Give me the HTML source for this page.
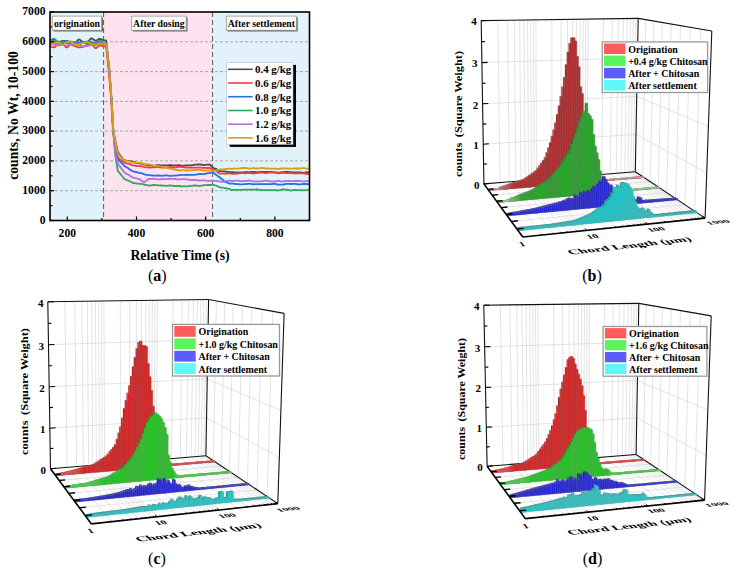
<!DOCTYPE html><html><head><meta charset="utf-8"><style>
html,body{margin:0;padding:0;background:#fff;width:740px;height:575px;overflow:hidden}
svg{display:block;font-family:"Liberation Serif",serif}
.tl{font-size:11.6px;font-weight:bold}.al{font-size:13.7px;font-weight:bold}.rl{font-size:9.75px;font-weight:bold}
.lg{font-size:10.9px;font-weight:bold}.cap{font-size:16px}.zl{font-size:11px;font-weight:bold}
.xl{font-size:11px;font-weight:bold}.xt{font-size:14.6px;font-weight:bold}.yl{font-size:11.2px;font-weight:bold}.lg3{font-size:9.95px;font-weight:bold}
</style></head><body><svg width="740" height="575" viewBox="0 0 740 575">
<defs><pattern id="pinkpat" width="2" height="2" patternUnits="userSpaceOnUse"><rect width="2" height="2" fill="#fde8f2"/><rect width="2" height="0.5" fill="#f9dcea"/><rect width="0.5" height="2" fill="#f9dcea"/></pattern></defs>
<g id="a">
<rect x="50" y="12" width="53.6" height="208.5" fill="#e1f2fa"/>
<rect x="103.6" y="12" width="109" height="208.5" fill="url(#pinkpat)"/>
<rect x="212.6" y="12" width="96.9" height="208.5" fill="#e1f2fa"/>
<line x1="50" y1="190.7" x2="309.5" y2="190.7" stroke="#a8a8a8" stroke-width="1" stroke-dasharray="3,2"/>
<line x1="50" y1="160.9" x2="309.5" y2="160.9" stroke="#a8a8a8" stroke-width="1" stroke-dasharray="3,2"/>
<line x1="50" y1="131.1" x2="309.5" y2="131.1" stroke="#a8a8a8" stroke-width="1" stroke-dasharray="3,2"/>
<line x1="50" y1="101.4" x2="309.5" y2="101.4" stroke="#a8a8a8" stroke-width="1" stroke-dasharray="3,2"/>
<line x1="50" y1="71.6" x2="309.5" y2="71.6" stroke="#a8a8a8" stroke-width="1" stroke-dasharray="3,2"/>
<line x1="50" y1="41.8" x2="309.5" y2="41.8" stroke="#a8a8a8" stroke-width="1" stroke-dasharray="3,2"/>
<line x1="103.6" y1="12" x2="103.6" y2="220.5" stroke="#555" stroke-width="1" stroke-dasharray="5,3"/>
<line x1="212.6" y1="12" x2="212.6" y2="220.5" stroke="#555" stroke-width="1" stroke-dasharray="5,3"/>
<polyline points="50,43 50.7,42.8 51.4,42.6 52.1,42.2 52.8,41.9 53.5,41.6 54.2,41.5 54.8,41.5 55.5,41.6 56.2,41.8 56.9,42 57.6,42.1 58.3,42.1 59,42 59.7,41.8 60.4,41.6 61.1,41.3 61.8,41.1 62.5,41 63.1,40.9 63.8,40.9 64.5,40.9 65.2,40.8 65.9,40.8 66.6,40.8 67.3,40.9 68,41.4 68.7,42 69.4,42.6 70.1,43 70.8,43.2 71.5,43.1 72.1,43.2 72.8,43.2 73.5,43.2 74.2,43.3 74.9,43.3 75.6,43 76.3,42.3 77,41.4 77.7,40.4 78.4,39.7 79.1,39.5 79.8,39.6 80.4,40.1 81.1,40.7 81.8,41.3 82.5,41.8 83.2,41.9 83.9,41.9 84.6,41.9 85.3,41.9 86,41.9 86.7,41.9 87.4,41.9 88.1,41.7 88.8,41 89.4,40.2 90.1,39.3 90.8,38.7 91.5,38.4 92.2,38.6 92.9,39 93.6,39.5 94.3,40.1 95,40.5 95.7,40.7 96.4,40.5 97.1,40.2 97.7,39.8 98.4,39.3 99.1,39 99.8,38.9 100.5,39 101.2,39.2 101.9,39.6 102.6,39.9 103.3,40.2 104,40.3 104.3,40.3 104.7,40.3 105,40.3 105.4,40.3 105.7,40.3 106.1,40.3 106.4,43.8 106.7,47.2 107.1,50.7 107.4,54.2 107.8,57.7 108.1,61.1 108.5,64.6 108.8,68.1 109.2,71.6 109.5,75.7 109.9,79.8 110.2,84 110.6,88.1 110.9,92.2 111.2,96.3 111.6,100.5 111.9,106.6 112.3,112.7 112.6,118.9 113,125 113.3,131.1 113.7,132.7 114,134.4 114.4,136 114.7,137.6 115,139.2 115.4,140.8 115.7,142.4 116.1,144 116.4,145.6 116.8,147.2 117.1,148.8 117.5,150.4 117.8,152 118.2,152.5 118.5,152.9 118.9,153.4 119.2,153.8 119.5,154.3 119.9,154.8 120.2,155.2 120.6,155.7 120.9,156.1 121.3,156.6 121.6,157.1 122,157.5 122.3,158 122.7,158.5 123,158.9 123.4,159.4 123.7,159.8 124,160.3 124.4,160.4 124.7,160.4 125.1,160.5 125.4,160.6 125.8,160.6 126.1,160.7 126.5,160.7 127.2,160.8 127.8,160.9 128.5,161 129.2,161.1 129.9,161.2 130.6,161.3 131.3,161.4 132,161.6 132.7,161.7 133.4,161.8 134.1,162.1 134.8,162.4 135.5,162.7 136.2,163 136.8,163.2 137.5,163.4 138.2,163.4 138.9,163.4 139.6,163.4 140.3,163.4 141,163.5 141.7,163.7 142.4,163.8 143.1,164 143.8,164.2 144.5,164.4 145.1,164.6 145.8,164.8 146.5,165 147.2,165.1 147.9,165.2 148.6,165.3 149.3,165.4 150,165.4 150.7,165.4 151.4,165.5 152.1,165.6 152.8,165.7 153.5,165.7 154.1,165.8 154.8,165.7 155.5,165.5 156.2,165.3 156.9,165.2 157.6,165.1 158.3,165.1 159,165.1 159.7,165.2 160.4,165.3 161.1,165.4 161.8,165.5 162.4,165.5 163.1,165.5 163.8,165.4 164.5,165.4 165.2,165.3 165.9,165.3 166.6,165.3 167.3,165.3 168,165.3 168.7,165.2 169.4,165.2 170.1,165.2 170.8,165.2 171.4,165.2 172.1,165.3 172.8,165.3 173.5,165.3 174.2,165.4 174.9,165.4 175.6,165.4 176.3,165.3 177,165.3 177.7,165.2 178.4,165.2 179.1,165.2 179.8,165.3 180.4,165.4 181.1,165.6 181.8,165.7 182.5,165.8 183.2,165.8 183.9,165.7 184.6,165.6 185.3,165.5 186,165.4 186.7,165.3 187.4,165.3 188.1,165.3 188.7,165.3 189.4,165.4 190.1,165.4 190.8,165.4 191.5,165.3 192.2,165.2 192.9,165.1 193.6,164.9 194.3,164.8 195,164.7 195.7,164.6 196.4,164.6 197,164.6 197.7,164.5 198.4,164.5 199.1,164.5 199.8,164.5 200.5,164.5 201.2,164.6 201.9,164.8 202.6,164.9 203.3,165 204,164.9 204.7,164.9 205.4,164.8 206,164.8 206.7,164.7 207.4,164.7 208.1,164.7 208.8,164.6 209.5,164.5 210.2,164.9 210.9,165.7 211.6,166.5 212.3,167.2 213,167.9 213.7,168.1 214.3,168.3 215,168.5 215.7,168.7 216.4,169.1 217.1,169.5 217.8,169.9 218.5,170.4 219.2,170.9 219.9,171.1 220.6,171.2 221.3,171.2 222,171.3 222.7,171.3 223.3,171.3 224,171.3 224.7,171.4 225.4,171.5 226.1,171.6 226.8,171.8 227.5,171.9 228.2,172 228.9,172 229.6,172.1 230.3,172.1 231,172.1 231.6,172.1 232.3,172.2 233,172.2 233.7,172.3 234.4,172.3 235.1,172.3 235.8,172.3 236.5,172.4 237.2,172.4 237.9,172.4 238.6,172.4 239.3,172.4 240,172.4 240.6,172.4 241.3,172.4 242,172.4 242.7,172.3 243.4,172.3 244.1,172.2 244.8,172.2 245.5,172.2 246.2,172.2 246.9,172.2 247.6,172.2 248.3,172.2 249,172.2 249.6,172.2 250.3,172.2 251,172.1 251.7,172 252.4,172 253.1,171.9 253.8,171.9 254.5,172 255.2,172 255.9,172.1 256.6,172.1 257.3,172.2 257.9,172.2 258.6,172.1 259.3,172.1 260,172 260.7,172 261.4,172 262.1,172 262.8,172 263.5,172 264.2,172 264.9,172 265.6,172 266.2,172 266.9,172 267.6,172 268.3,172 269,171.9 269.7,171.9 270.4,171.9 271.1,172 271.8,172 272.5,172.1 273.2,172.2 273.9,172.2 274.6,172.3 275.2,172.3 275.9,172.4 276.6,172.6 277.3,172.7 278,172.7 278.7,172.7 279.4,172.7 280.1,172.5 280.8,172.3 281.5,172.2 282.2,172.1 282.9,172.1 283.6,172.1 284.2,172.1 284.9,172 285.6,172 286.3,172 287,172 287.7,172 288.4,172 289.1,172.1 289.8,172.1 290.5,172.1 291.2,172.1 291.9,172.1 292.5,172.2 293.2,172.3 293.9,172.4 294.6,172.4 295.3,172.4 296,172.4 296.7,172.4 297.4,172.3 298.1,172.3 298.8,172.3 299.5,172.3 300.2,172.4 300.9,172.5 301.5,172.6 302.2,172.7 302.9,172.8 303.6,172.8 304.3,172.7 305,172.6 305.7,172.4 306.4,172.3 307.1,172.2 307.8,172.2 308.5,172.3 309.2,172.3" fill="none" stroke="#4d4d4d" stroke-width="1.8" stroke-linejoin="round"/>
<polyline points="50,46.3 50.7,46.4 51.4,46.6 52.1,46.9 52.8,47.1 53.5,47.3 54.2,47.4 54.8,47.2 55.5,46.5 56.2,45.6 56.9,44.8 57.6,44.1 58.3,43.9 59,43.9 59.7,43.8 60.4,43.6 61.1,43.5 61.8,43.4 62.5,43.4 63.1,43.7 63.8,44.4 64.5,45.4 65.2,46.4 65.9,47.2 66.6,47.5 67.3,47.3 68,46.7 68.7,45.9 69.4,45.1 70.1,44.6 70.8,44.4 71.5,44.5 72.1,44.8 72.8,45.3 73.5,45.7 74.2,46 74.9,46.2 75.6,46.3 76.3,46.5 77,46.8 77.7,47.1 78.4,47.3 79.1,47.4 79.8,47.4 80.4,47.3 81.1,47.1 81.8,47 82.5,46.9 83.2,46.8 83.9,46.7 84.6,46.3 85.3,45.8 86,45.3 86.7,44.9 87.4,44.8 88.1,44.8 88.8,44.7 89.4,44.6 90.1,44.5 90.8,44.4 91.5,44.4 92.2,44.6 92.9,45.3 93.6,46.3 94.3,47.2 95,47.9 95.7,48.2 96.4,48 97.1,47.5 97.7,46.9 98.4,46.3 99.1,45.8 99.8,45.7 100.5,45.7 101.2,45.8 101.9,46 102.6,46.1 103.3,46.2 104,46.3 104.3,46.3 104.7,46.3 105,46.3 105.4,46.3 105.7,46.3 106.1,46.3 106.4,49.4 106.7,52.6 107.1,55.7 107.4,58.9 107.8,62.1 108.1,65.2 108.5,68.4 108.8,71.6 109.2,75.7 109.5,79.8 109.9,84 110.2,88.1 110.6,92.2 110.9,96.3 111.2,100.5 111.6,106.6 111.9,112.7 112.3,118.9 112.6,125 113,131.1 113.3,133.7 113.7,136.4 114,139 114.4,141.6 114.7,144.2 115,146.8 115.4,149.4 115.7,152 116.1,152.8 116.4,153.7 116.8,154.5 117.1,155.3 117.5,156.1 117.8,157 118.2,157.8 118.5,158.1 118.9,158.4 119.2,158.7 119.5,159 119.9,159.2 120.2,159.5 120.6,159.8 120.9,160.1 121.3,160.4 121.6,160.7 122,161 122.3,161.3 122.7,161.6 123,161.8 123.4,162.1 123.7,162.4 124,162.7 124.4,162.8 124.7,162.9 125.1,163 125.4,163.1 125.8,163.2 126.1,163.3 126.5,163.4 127.2,163.6 127.8,163.7 128.5,163.8 129.2,163.9 129.9,164.1 130.6,164.4 131.3,164.7 132,165.1 132.7,165.3 133.4,165.4 134.1,165.5 134.8,165.7 135.5,165.8 136.2,166 136.8,166.1 137.5,166.2 138.2,166.2 138.9,166.2 139.6,166.1 140.3,166.1 141,166.1 141.7,166.2 142.4,166.4 143.1,166.6 143.8,166.8 144.5,167 145.1,167.2 145.8,167.3 146.5,167.3 147.2,167.4 147.9,167.4 148.6,167.5 149.3,167.5 150,167.5 150.7,167.5 151.4,167.4 152.1,167.4 152.8,167.3 153.5,167.3 154.1,167.3 154.8,167.3 155.5,167.2 156.2,167.2 156.9,167.1 157.6,167.1 158.3,167.1 159,167.2 159.7,167.3 160.4,167.4 161.1,167.5 161.8,167.6 162.4,167.6 163.1,167.6 163.8,167.6 164.5,167.7 165.2,167.7 165.9,167.7 166.6,167.7 167.3,167.6 168,167.4 168.7,167.2 169.4,167 170.1,166.9 170.8,166.9 171.4,167 172.1,167.1 172.8,167.3 173.5,167.4 174.2,167.5 174.9,167.5 175.6,167.4 176.3,167.3 177,167.1 177.7,167 178.4,166.9 179.1,166.9 179.8,166.9 180.4,166.9 181.1,167 181.8,167 182.5,167 183.2,167 183.9,167.1 184.6,167.3 185.3,167.4 186,167.5 186.7,167.6 187.4,167.6 188.1,167.6 188.7,167.6 189.4,167.6 190.1,167.6 190.8,167.6 191.5,167.7 192.2,167.7 192.9,167.7 193.6,167.7 194.3,167.7 195,167.7 195.7,167.7 196.4,167.7 197,167.7 197.7,167.7 198.4,167.7 199.1,167.7 199.8,167.7 200.5,167.7 201.2,167.7 201.9,167.8 202.6,167.8 203.3,167.8 204,167.8 204.7,167.9 205.4,167.9 206,167.9 206.7,167.9 207.4,168 208.1,168 208.8,168 209.5,168 210.2,168.2 210.9,168.5 211.6,168.7 212.3,169 213,169.2 213.7,169.4 214.3,169.6 215,170 215.7,170.5 216.4,171 217.1,171.6 217.8,172.2 218.5,172.8 219.2,173.4 219.9,173.7 220.6,173.7 221.3,173.7 222,173.7 222.7,173.7 223.3,173.7 224,173.7 224.7,173.7 225.4,173.7 226.1,173.6 226.8,173.5 227.5,173.5 228.2,173.4 228.9,173.4 229.6,173.4 230.3,173.5 231,173.7 231.6,173.7 232.3,173.8 233,173.8 233.7,173.8 234.4,173.8 235.1,173.7 235.8,173.7 236.5,173.7 237.2,173.7 237.9,173.6 238.6,173.4 239.3,173.2 240,173.1 240.6,173 241.3,173 242,173 242.7,173.1 243.4,173.2 244.1,173.2 244.8,173.3 245.5,173.3 246.2,173.2 246.9,173.2 247.6,173.2 248.3,173.1 249,173.1 249.6,173.1 250.3,173.1 251,173.2 251.7,173.3 252.4,173.4 253.1,173.5 253.8,173.5 254.5,173.4 255.2,173.3 255.9,173.2 256.6,173.1 257.3,173 257.9,172.9 258.6,172.9 259.3,172.8 260,172.8 260.7,172.7 261.4,172.7 262.1,172.7 262.8,172.7 263.5,172.8 264.2,172.9 264.9,173 265.6,173.1 266.2,173 266.9,173 267.6,172.8 268.3,172.7 269,172.5 269.7,172.5 270.4,172.5 271.1,172.5 271.8,172.5 272.5,172.6 273.2,172.6 273.9,172.6 274.6,172.6 275.2,172.7 275.9,172.8 276.6,173 277.3,173.2 278,173.2 278.7,173.3 279.4,173.2 280.1,173.1 280.8,173 281.5,172.9 282.2,172.8 282.9,172.9 283.6,172.9 284.2,172.9 284.9,173 285.6,173.1 286.3,173.1 287,173.1 287.7,173.1 288.4,173.1 289.1,173.1 289.8,173 290.5,173 291.2,173 291.9,173.1 292.5,173.2 293.2,173.3 293.9,173.4 294.6,173.4 295.3,173.5 296,173.4 296.7,173.4 297.4,173.3 298.1,173.3 298.8,173.2 299.5,173.3 300.2,173.3 300.9,173.3 301.5,173.3 302.2,173.3 302.9,173.3 303.6,173.4 304.3,173.5 305,173.6 305.7,173.8 306.4,174 307.1,174.1 307.8,174.1 308.5,174.2 309.2,174.2" fill="none" stroke="#f03c3c" stroke-width="1.8" stroke-linejoin="round"/>
<polyline points="50,40.1 50.7,40 51.4,39.8 52.1,39.5 52.8,39.2 53.5,39 54.2,38.9 54.8,39.2 55.5,39.8 56.2,40.6 56.9,41.4 57.6,42 58.3,42.2 59,42.2 59.7,42 60.4,41.8 61.1,41.6 61.8,41.5 62.5,41.4 63.1,41.4 63.8,41.3 64.5,41.2 65.2,41.1 65.9,41 66.6,40.9 67.3,41 68,41.3 68.7,41.6 69.4,41.9 70.1,42.2 70.8,42.3 71.5,42.3 72.1,42.3 72.8,42.2 73.5,42.2 74.2,42.2 74.9,42.2 75.6,42.2 76.3,42.3 77,42.4 77.7,42.4 78.4,42.5 79.1,42.5 79.8,42.5 80.4,42.5 81.1,42.5 81.8,42.4 82.5,42.4 83.2,42.4 83.9,42.4 84.6,42.2 85.3,42 86,41.7 86.7,41.6 87.4,41.5 88.1,41.6 88.8,41.9 89.4,42.2 90.1,42.6 90.8,42.8 91.5,42.9 92.2,42.9 92.9,42.9 93.6,42.8 94.3,42.8 95,42.7 95.7,42.7 96.4,42.6 97.1,42.3 97.7,41.9 98.4,41.5 99.1,41.2 99.8,41.1 100.5,41.2 101.2,41.4 101.9,41.7 102.6,42 103.3,42.3 104,42.5 104.3,42.6 104.7,42.7 105,42.8 105.4,42.9 105.7,43.1 106.1,43.2 106.4,43.3 106.7,46.4 107.1,49.6 107.4,52.7 107.8,55.9 108.1,59 108.5,62.1 108.8,65.3 109.2,68.4 109.5,71.6 109.9,76.4 110.2,81.2 110.6,86 110.9,90.8 111.2,95.6 111.6,100.5 111.9,106.6 112.3,112.7 112.6,118.9 113,125 113.3,131.1 113.7,134.5 114,137.9 114.4,141.3 114.7,144.6 115,148 115.4,151.4 115.7,152.4 116.1,153.4 116.4,154.4 116.8,155.4 117.1,156.5 117.5,157.5 117.8,158.5 118.2,159.5 118.5,159.9 118.9,160.2 119.2,160.6 119.5,160.9 119.9,161.3 120.2,161.7 120.6,162 120.9,162.4 121.3,162.7 121.6,163.1 122,163.5 122.3,163.8 122.7,164.2 123,164.5 123.4,164.9 123.7,165.3 124,165.6 124.4,166 124.7,166.2 125.1,166.4 125.4,166.6 125.8,166.8 126.1,167 126.5,167.3 127.2,167.7 127.8,168.1 128.5,168.6 129.2,169.1 129.9,169.5 130.6,170 131.3,170.5 132,170.9 132.7,171.2 133.4,171.4 134.1,171.6 134.8,171.8 135.5,171.9 136.2,172.1 136.8,172.2 137.5,172.4 138.2,172.6 138.9,172.8 139.6,172.9 140.3,173 141,173.2 141.7,173.3 142.4,173.5 143.1,173.8 143.8,174.1 144.5,174.3 145.1,174.6 145.8,174.7 146.5,174.8 147.2,174.9 147.9,175 148.6,175.1 149.3,175.1 150,175.2 150.7,175.3 151.4,175.4 152.1,175.4 152.8,175.5 153.5,175.6 154.1,175.6 154.8,175.7 155.5,175.6 156.2,175.6 156.9,175.5 157.6,175.5 158.3,175.5 159,175.5 159.7,175.6 160.4,175.7 161.1,175.7 161.8,175.8 162.4,175.8 163.1,175.7 163.8,175.6 164.5,175.5 165.2,175.4 165.9,175.3 166.6,175.3 167.3,175.4 168,175.5 168.7,175.7 169.4,175.8 170.1,175.9 170.8,175.9 171.4,175.8 172.1,175.8 172.8,175.7 173.5,175.7 174.2,175.6 174.9,175.6 175.6,175.6 176.3,175.5 177,175.4 177.7,175.3 178.4,175.3 179.1,175.2 179.8,175.2 180.4,175.1 181.1,175 181.8,174.9 182.5,174.8 183.2,174.8 183.9,174.8 184.6,174.8 185.3,174.9 186,175 186.7,175 187.4,174.9 188.1,174.9 188.7,174.9 189.4,174.9 190.1,174.9 190.8,174.9 191.5,174.9 192.2,174.8 192.9,174.8 193.6,174.8 194.3,174.8 195,174.7 195.7,174.7 196.4,174.6 197,174.5 197.7,174.3 198.4,174.2 199.1,174.1 199.8,174 200.5,174 201.2,174.1 201.9,174.1 202.6,174.1 203.3,174.1 204,174.1 204.7,174 205.4,173.8 206,173.6 206.7,173.4 207.4,173.3 208.1,173.2 208.8,173.2 209.5,173.1 210.2,172.9 210.9,172.7 211.6,172.5 212.3,172.3 213,172.2 213.7,172.8 214.3,173.4 215,174.1 215.7,174.6 216.4,175.1 217.1,175.6 217.8,176.1 218.5,176.5 219.2,177 219.9,177.5 220.6,178.2 221.3,178.7 222,179.3 222.7,179.8 223.3,180.3 224,180.9 224.7,181.5 225.4,181.8 226.1,182.1 226.8,182.4 227.5,182.7 228.2,183 228.9,183.3 229.6,183.6 230.3,183.7 231,183.6 231.6,183.6 232.3,183.6 233,183.6 233.7,183.7 234.4,183.8 235.1,183.9 235.8,184 236.5,184.1 237.2,184.1 237.9,184.1 238.6,184.2 239.3,184.2 240,184.3 240.6,184.3 241.3,184.3 242,184.3 242.7,184.3 243.4,184.2 244.1,184.2 244.8,184.2 245.5,184.2 246.2,184.1 246.9,184 247.6,183.9 248.3,183.8 249,183.7 249.6,183.7 250.3,183.8 251,183.9 251.7,184.1 252.4,184.2 253.1,184.2 253.8,184.3 254.5,184.3 255.2,184.2 255.9,184.2 256.6,184.2 257.3,184.2 257.9,184.2 258.6,184.2 259.3,184.2 260,184.2 260.7,184.2 261.4,184.2 262.1,184.2 262.8,184.2 263.5,184.2 264.2,184.2 264.9,184.2 265.6,184.2 266.2,184.2 266.9,184.2 267.6,184.2 268.3,184.2 269,184.2 269.7,184.2 270.4,184.2 271.1,184.2 271.8,184.1 272.5,184 273.2,183.9 273.9,183.8 274.6,183.8 275.2,183.9 275.9,184.1 276.6,184.3 277.3,184.4 278,184.5 278.7,184.6 279.4,184.6 280.1,184.6 280.8,184.7 281.5,184.7 282.2,184.7 282.9,184.7 283.6,184.6 284.2,184.4 284.9,184.2 285.6,184 286.3,183.9 287,183.9 287.7,183.9 288.4,183.9 289.1,183.9 289.8,183.9 290.5,184 291.2,184 291.9,184 292.5,183.9 293.2,183.9 293.9,183.9 294.6,183.9 295.3,183.9 296,184 296.7,184.1 297.4,184.2 298.1,184.4 298.8,184.4 299.5,184.4 300.2,184.4 300.9,184.3 301.5,184.2 302.2,184 302.9,184 303.6,184 304.3,184 305,184 305.7,184 306.4,184 307.1,184 307.8,184.1 308.5,184.1 309.2,184.3" fill="none" stroke="#2a6fe0" stroke-width="1.8" stroke-linejoin="round"/>
<polyline points="50,41 50.7,41 51.4,40.9 52.1,40.8 52.8,40.7 53.5,40.7 54.2,40.7 54.8,40.7 55.5,40.9 56.2,41.1 56.9,41.3 57.6,41.5 58.3,41.5 59,41.6 59.7,41.7 60.4,41.9 61.1,42.1 61.8,42.2 62.5,42.3 63.1,42.4 63.8,42.6 64.5,42.8 65.2,43.1 65.9,43.3 66.6,43.4 67.3,43.4 68,43.4 68.7,43.3 69.4,43.3 70.1,43.3 70.8,43.3 71.5,43.3 72.1,43.4 72.8,43.6 73.5,43.7 74.2,43.8 74.9,43.9 75.6,43.9 76.3,44.1 77,44.3 77.7,44.5 78.4,44.6 79.1,44.7 79.8,44.5 80.4,44.1 81.1,43.5 81.8,43 82.5,42.6 83.2,42.4 83.9,42.5 84.6,42.8 85.3,43.1 86,43.5 86.7,43.8 87.4,43.9 88.1,43.7 88.8,43.3 89.4,42.7 90.1,42.2 90.8,41.8 91.5,41.6 92.2,41.9 92.9,42.5 93.6,43.4 94.3,44.2 95,44.9 95.7,45.1 96.4,44.9 97.1,44.2 97.7,43.3 98.4,42.3 99.1,41.6 99.8,41.4 100.5,41.5 101.2,41.9 101.9,42.3 102.6,42.8 103.3,43.1 104,43.3 104.3,43.3 104.7,43.3 105,43.3 105.4,43.3 105.7,43.3 106.1,43.3 106.4,43.3 106.7,46.4 107.1,49.6 107.4,52.7 107.8,55.9 108.1,59 108.5,62.1 108.8,65.3 109.2,68.4 109.5,71.6 109.9,76.4 110.2,81.2 110.6,86 110.9,90.8 111.2,95.6 111.6,100.5 111.9,106.6 112.3,112.7 112.6,118.9 113,125 113.3,131.1 113.7,135.3 114,139.4 114.4,143.6 114.7,147.7 115,151.9 115.4,156 115.7,158.1 116.1,160.2 116.4,162.3 116.8,164.5 117.1,166.6 117.5,168.7 117.8,170.8 118.2,171.2 118.5,171.7 118.9,172.1 119.2,172.5 119.5,173 119.9,173.4 120.2,173.8 120.6,174.2 120.9,174.7 121.3,175.1 121.6,175.5 122,176 122.3,176.4 122.7,176.8 123,177.3 123.4,177.7 123.7,178.1 124,178.6 124.4,179 124.7,179.2 125.1,179.3 125.4,179.5 125.8,179.6 126.1,179.8 126.5,179.9 127.2,180.2 127.8,180.5 128.5,180.7 129.2,181 129.9,181.3 130.6,181.7 131.3,182.1 132,182.6 132.7,182.9 133.4,183 134.1,183.1 134.8,183.2 135.5,183.3 136.2,183.4 136.8,183.5 137.5,183.6 138.2,183.7 138.9,183.7 139.6,183.8 140.3,183.8 141,183.9 141.7,184 142.4,184.2 143.1,184.3 143.8,184.5 144.5,184.6 145.1,184.8 145.8,184.9 146.5,185 147.2,185.2 147.9,185.3 148.6,185.5 149.3,185.5 150,185.5 150.7,185.4 151.4,185.3 152.1,185.2 152.8,185 153.5,185 154.1,185 154.8,185 155.5,185.1 156.2,185.2 156.9,185.2 157.6,185.3 158.3,185.3 159,185.3 159.7,185.3 160.4,185.4 161.1,185.5 161.8,185.5 162.4,185.6 163.1,185.6 163.8,185.7 164.5,185.7 165.2,185.8 165.9,185.8 166.6,185.9 167.3,185.8 168,185.7 168.7,185.6 169.4,185.5 170.1,185.5 170.8,185.5 171.4,185.6 172.1,185.7 172.8,185.8 173.5,185.9 174.2,186 174.9,186 175.6,186 176.3,186 177,186 177.7,185.9 178.4,185.9 179.1,186 179.8,186 180.4,186.1 181.1,186.2 181.8,186.3 182.5,186.3 183.2,186.3 183.9,186.3 184.6,186.3 185.3,186.3 186,186.3 186.7,186.3 187.4,186.3 188.1,186.2 188.7,186.1 189.4,186 190.1,185.9 190.8,185.9 191.5,185.9 192.2,185.8 192.9,185.7 193.6,185.6 194.3,185.5 195,185.5 195.7,185.5 196.4,185.5 197,185.7 197.7,185.8 198.4,185.9 199.1,186 199.8,185.9 200.5,185.8 201.2,185.7 201.9,185.5 202.6,185.4 203.3,185.3 204,185.2 204.7,185.2 205.4,185.2 206,185.1 206.7,185.1 207.4,185 208.1,185 208.8,185 209.5,185 210.2,185 210.9,184.9 211.6,184.9 212.3,184.8 213,184.8 213.7,184.9 214.3,185.1 215,185.3 215.7,185.5 216.4,185.7 217.1,186 217.8,186.3 218.5,186.7 219.2,187.1 219.9,187.3 220.6,187.5 221.3,187.6 222,187.7 222.7,187.7 223.3,187.8 224,187.9 224.7,188 225.4,188.2 226.1,188.3 226.8,188.4 227.5,188.6 228.2,188.7 228.9,188.9 229.6,189.2 230.3,189.5 231,189.7 231.6,189.9 232.3,190 233,190 233.7,189.9 234.4,189.9 235.1,189.9 235.8,189.8 236.5,189.8 237.2,189.8 237.9,189.8 238.6,189.8 239.3,189.8 240,189.8 240.6,189.8 241.3,189.8 242,189.8 242.7,189.7 243.4,189.7 244.1,189.6 244.8,189.6 245.5,189.6 246.2,189.6 246.9,189.7 247.6,189.7 248.3,189.7 249,189.7 249.6,189.7 250.3,189.7 251,189.7 251.7,189.7 252.4,189.7 253.1,189.7 253.8,189.7 254.5,189.7 255.2,189.6 255.9,189.6 256.6,189.5 257.3,189.5 257.9,189.5 258.6,189.6 259.3,189.8 260,189.9 260.7,190.1 261.4,190.2 262.1,190.2 262.8,190.2 263.5,190.2 264.2,190.2 264.9,190.2 265.6,190.2 266.2,190.2 266.9,190.2 267.6,190.2 268.3,190.2 269,190.2 269.7,190.2 270.4,190.2 271.1,190.2 271.8,190.2 272.5,190.2 273.2,190.2 273.9,190.2 274.6,190.2 275.2,190.2 275.9,190.2 276.6,190.3 277.3,190.3 278,190.3 278.7,190.3 279.4,190.2 280.1,190 280.8,189.8 281.5,189.6 282.2,189.5 282.9,189.5 283.6,189.5 284.2,189.5 284.9,189.6 285.6,189.6 286.3,189.6 287,189.6 287.7,189.7 288.4,189.9 289.1,190.1 289.8,190.3 290.5,190.4 291.2,190.4 291.9,190.3 292.5,190.2 293.2,190.1 293.9,190.1 294.6,190 295.3,190 296,190 296.7,190.1 297.4,190.1 298.1,190.2 298.8,190.2 299.5,190.2 300.2,190.2 300.9,190.2 301.5,190.2 302.2,190.2 302.9,190.2 303.6,190.3 304.3,190.3 305,190.2 305.7,190.2 306.4,190.2 307.1,190.2 307.8,190.2 308.5,190.2 309.2,190.2" fill="none" stroke="#2ea85a" stroke-width="1.8" stroke-linejoin="round"/>
<polyline points="50,43.5 50.7,43.6 51.4,43.8 52.1,44 52.8,44.3 53.5,44.5 54.2,44.6 54.8,44.6 55.5,44.8 56.2,45 56.9,45.2 57.6,45.3 58.3,45.4 59,45.4 59.7,45.3 60.4,45.1 61.1,45 61.8,44.9 62.5,44.8 63.1,44.9 63.8,45.1 64.5,45.3 65.2,45.6 65.9,45.8 66.6,45.8 67.3,45.7 68,45.4 68.7,44.9 69.4,44.4 70.1,44.1 70.8,44 71.5,43.9 72.1,43.8 72.8,43.6 73.5,43.5 74.2,43.4 74.9,43.3 75.6,43.4 76.3,43.7 77,44.1 77.7,44.5 78.4,44.8 79.1,44.9 79.8,45 80.4,45.2 81.1,45.6 81.8,45.9 82.5,46.2 83.2,46.3 83.9,46.3 84.6,46.2 85.3,46.1 86,46 86.7,45.9 87.4,45.9 88.1,45.9 88.8,45.7 89.4,45.5 90.1,45.3 90.8,45.2 91.5,45.1 92.2,45.1 92.9,44.9 93.6,44.6 94.3,44.4 95,44.2 95.7,44.2 96.4,44.1 97.1,44 97.7,43.8 98.4,43.6 99.1,43.5 99.8,43.4 100.5,43.5 101.2,43.8 101.9,44.1 102.6,44.4 103.3,44.7 104,44.8 104.3,44.8 104.7,44.8 105,44.8 105.4,44.8 105.7,44.8 106.1,44.8 106.4,44.8 106.7,47.7 107.1,50.7 107.4,53.7 107.8,56.7 108.1,59.7 108.5,62.6 108.8,65.6 109.2,68.6 109.5,71.6 109.9,76.4 110.2,81.2 110.6,86 110.9,90.8 111.2,95.6 111.6,100.5 111.9,106.6 112.3,112.7 112.6,118.9 113,125 113.3,131.1 113.7,135.1 114,139 114.4,142.9 114.7,146.8 115,150.7 115.4,154.6 115.7,155.8 116.1,157 116.4,158.2 116.8,159.5 117.1,160.7 117.5,161.9 117.8,163.1 118.2,164.3 118.5,164.7 118.9,165.2 119.2,165.6 119.5,166.1 119.9,166.5 120.2,167 120.6,167.4 120.9,167.9 121.3,168.3 121.6,168.8 122,169.2 122.3,169.7 122.7,170.1 123,170.6 123.4,171 123.7,171.5 124,171.9 124.4,172.4 124.7,172.6 125.1,172.8 125.4,173 125.8,173.3 126.1,173.5 126.5,173.7 127.2,174.1 127.8,174.5 128.5,174.9 129.2,175.3 129.9,175.7 130.6,176.2 131.3,176.6 132,177.1 132.7,177.5 133.4,177.7 134.1,177.9 134.8,178 135.5,178.2 136.2,178.3 136.8,178.5 137.5,178.7 138.2,178.9 138.9,179.2 139.6,179.4 140.3,179.7 141,180.3 141.7,180.8 142.4,181.4 143.1,182 143.8,182.6 144.5,182.1 145.1,181.6 145.8,181.1 146.5,180.6 147.2,180 147.9,179.5 148.6,178.9 149.3,178.9 150,178.9 150.7,178.9 151.4,178.8 152.1,178.8 152.8,178.8 153.5,178.8 154.1,178.8 154.8,178.9 155.5,179 156.2,179.2 156.9,179.3 157.6,179.4 158.3,179.4 159,179.4 159.7,179.4 160.4,179.3 161.1,179.2 161.8,179.2 162.4,179.2 163.1,179.2 163.8,179.2 164.5,179.2 165.2,179.2 165.9,179.2 166.6,179.2 167.3,179.2 168,179.1 168.7,179 169.4,178.9 170.1,178.9 170.8,178.9 171.4,178.9 172.1,178.9 172.8,178.9 173.5,178.9 174.2,178.9 174.9,178.9 175.6,179 176.3,179.1 177,179.3 177.7,179.4 178.4,179.5 179.1,179.5 179.8,179.4 180.4,179.4 181.1,179.3 181.8,179.2 182.5,179.1 183.2,179.2 183.9,179.2 184.6,179.2 185.3,179.3 186,179.3 186.7,179.4 187.4,179.4 188.1,179.5 188.7,179.7 189.4,179.8 190.1,180 190.8,180 191.5,180.1 192.2,180.1 192.9,180.1 193.6,180 194.3,180 195,180 195.7,180.1 196.4,180.1 197,180.2 197.7,180.3 198.4,180.4 199.1,180.5 199.8,180.6 200.5,180.6 201.2,180.5 201.9,180.4 202.6,180.3 203.3,180.3 204,180.3 204.7,180.4 205.4,180.5 206,180.6 206.7,180.7 207.4,180.8 208.1,180.9 208.8,180.9 209.5,180.9 210.2,180.8 210.9,180.7 211.6,180.6 212.3,180.6 213,180.5 213.7,180.6 214.3,180.7 215,180.8 215.7,180.9 216.4,181 217.1,181.1 217.8,181.2 218.5,181.3 219.2,181.4 219.9,181.5 220.6,181.6 221.3,181.7 222,181.8 222.7,181.8 223.3,181.8 224,181.6 224.7,181.5 225.4,181.4 226.1,181.2 226.8,181.1 227.5,181 228.2,180.9 228.9,180.8 229.6,180.7 230.3,180.7 231,180.8 231.6,180.9 232.3,181 233,181 233.7,180.9 234.4,180.8 235.1,180.7 235.8,180.6 236.5,180.6 237.2,180.6 237.9,180.7 238.6,180.8 239.3,181 240,181.1 240.6,181.2 241.3,181.2 242,181.2 242.7,181.2 243.4,181.1 244.1,181.1 244.8,181.1 245.5,181.1 246.2,181 246.9,180.9 247.6,180.7 248.3,180.6 249,180.5 249.6,180.6 250.3,180.7 251,180.8 251.7,181 252.4,181.2 253.1,181.3 253.8,181.3 254.5,181.3 255.2,181.3 255.9,181.3 256.6,181.3 257.3,181.3 257.9,181.3 258.6,181.3 259.3,181.3 260,181.3 260.7,181.3 261.4,181.3 262.1,181.3 262.8,181.2 263.5,181.1 264.2,180.9 264.9,180.7 265.6,180.6 266.2,180.6 266.9,180.7 267.6,180.9 268.3,181.1 269,181.2 269.7,181.3 270.4,181.4 271.1,181.4 271.8,181.4 272.5,181.5 273.2,181.5 273.9,181.5 274.6,181.5 275.2,181.4 275.9,181.3 276.6,181.1 277.3,180.9 278,180.8 278.7,180.8 279.4,180.9 280.1,181.1 280.8,181.3 281.5,181.4 282.2,181.5 282.9,181.5 283.6,181.4 284.2,181.3 284.9,181.1 285.6,181 286.3,180.9 287,180.9 287.7,180.9 288.4,181 289.1,181 289.8,181.1 290.5,181.1 291.2,181.1 291.9,181.1 292.5,181.1 293.2,181 293.9,181 294.6,181 295.3,181 296,181 296.7,181 297.4,181 298.1,180.9 298.8,180.9 299.5,180.9 300.2,181 300.9,181.1 301.5,181.2 302.2,181.3 302.9,181.3 303.6,181.3 304.3,181.3 305,181.3 305.7,181.2 306.4,181.2 307.1,181.2 307.8,181.2 308.5,181.3 309.2,181.5" fill="none" stroke="#b070e0" stroke-width="1.8" stroke-linejoin="round"/>
<polyline points="50,42.1 50.7,42.2 51.4,42.4 52.1,42.7 52.8,42.9 53.5,43.1 54.2,43.2 54.8,43.2 55.5,43 56.2,42.8 56.9,42.5 57.6,42.4 58.3,42.3 59,42.5 59.7,43 60.4,43.7 61.1,44.4 61.8,44.8 62.5,45 63.1,44.8 63.8,44.3 64.5,43.6 65.2,42.9 65.9,42.4 66.6,42.2 67.3,42.1 68,42 68.7,41.7 69.4,41.5 70.1,41.4 70.8,41.3 71.5,41.6 72.1,42.3 72.8,43.3 73.5,44.3 74.2,45 74.9,45.2 75.6,45.2 76.3,44.9 77,44.6 77.7,44.4 78.4,44.1 79.1,44.1 79.8,44 80.4,43.8 81.1,43.5 81.8,43.3 82.5,43.1 83.2,43 83.9,42.9 84.6,42.7 85.3,42.4 86,42.1 86.7,41.9 87.4,41.8 88.1,42 88.8,42.5 89.4,43.1 90.1,43.8 90.8,44.3 91.5,44.4 92.2,44.4 92.9,44.5 93.6,44.6 94.3,44.6 95,44.7 95.7,44.7 96.4,44.7 97.1,44.6 97.7,44.5 98.4,44.5 99.1,44.4 99.8,44.4 100.5,44.3 101.2,44.1 101.9,43.8 102.6,43.6 103.3,43.3 104,43.4 104.3,43.5 104.7,43.6 105,43.7 105.4,43.8 105.7,43.9 106.1,44.1 106.4,44.2 106.7,47.2 107.1,50.3 107.4,53.3 107.8,56.3 108.1,59.4 108.5,62.4 108.8,65.5 109.2,68.5 109.5,71.6 109.9,76.4 110.2,81.2 110.6,86 110.9,90.8 111.2,95.6 111.6,100.5 111.9,106.6 112.3,112.7 112.6,118.9 113,125 113.3,131.1 113.7,132.9 114,134.6 114.4,136.3 114.7,138 115,139.7 115.4,141.5 115.7,143.2 116.1,144.9 116.4,146.6 116.8,148.3 117.1,150 117.5,151.8 117.8,153.5 118.2,153.9 118.5,154.2 118.9,154.6 119.2,155 119.5,155.4 119.9,155.8 120.2,156.1 120.6,156.5 120.9,156.9 121.3,157.3 121.6,157.7 122,158 122.3,158.4 122.7,158.8 123,159.2 123.4,159.5 123.7,159.9 124,160.3 124.4,160.4 124.7,160.4 125.1,160.5 125.4,160.6 125.8,160.6 126.1,160.7 126.5,160.8 127.2,160.9 127.8,161.1 128.5,161.2 129.2,161.4 129.9,161.5 130.6,161.8 131.3,162 132,162.2 132.7,162.4 133.4,162.5 134.1,162.6 134.8,162.6 135.5,162.7 136.2,162.7 136.8,162.8 137.5,162.9 138.2,162.9 138.9,162.9 139.6,162.9 140.3,162.9 141,163 141.7,163.1 142.4,163.3 143.1,163.5 143.8,163.8 144.5,164 145.1,164.2 145.8,164.3 146.5,164.3 147.2,164.4 147.9,164.4 148.6,164.4 149.3,164.5 150,164.6 150.7,164.8 151.4,165 152.1,165.3 152.8,165.5 153.5,165.7 154.1,165.8 154.8,165.9 155.5,165.9 156.2,165.8 156.9,165.9 157.6,166 158.3,166.1 159,166.2 159.7,166.3 160.4,166.5 161.1,166.6 161.8,166.7 162.4,166.9 163.1,167 163.8,167.2 164.5,167.3 165.2,167.5 165.9,167.7 166.6,167.8 167.3,168 168,168.1 168.7,168.3 169.4,168.5 170.1,168.6 170.8,168.8 171.4,168.9 172.1,169.1 172.8,169.2 173.5,169.4 174.2,169.5 174.9,169.7 175.6,169.8 176.3,169.9 177,170 177.7,170.1 178.4,170.2 179.1,170.4 179.8,170.5 180.4,170.6 181.1,170.4 181.8,170.3 182.5,170.2 183.2,170.2 183.9,170.2 184.6,170.3 185.3,170.4 186,170.5 186.7,170.5 187.4,170.5 188.1,170.4 188.7,170.3 189.4,170.3 190.1,170.2 190.8,170.3 191.5,170.3 192.2,170.3 192.9,170.1 193.6,170 194.3,169.9 195,169.9 195.7,169.9 196.4,169.9 197,169.9 197.7,169.9 198.4,169.9 199.1,169.9 199.8,169.9 200.5,170 201.2,170.1 201.9,170.2 202.6,170.4 203.3,170.4 204,170.5 204.7,170.5 205.4,170.6 206,170.6 206.7,170.7 207.4,170.7 208.1,170.7 208.8,170.7 209.5,170.7 210.2,170.7 210.9,170.7 211.6,170.7 212.3,170.8 213,170.9 213.7,170.8 214.3,170.8 215,170.7 215.7,170.6 216.4,170.4 217.1,170.2 217.8,170 218.5,169.8 219.2,169.6 219.9,169.5 220.6,169.4 221.3,169.4 222,169.4 222.7,169.4 223.3,169.3 224,169.3 224.7,169.3 225.4,169.2 226.1,169.1 226.8,168.9 227.5,168.8 228.2,168.7 228.9,168.7 229.6,168.7 230.3,168.7 231,168.8 231.6,168.8 232.3,168.8 233,168.7 233.7,168.7 234.4,168.7 235.1,168.7 235.8,168.7 236.5,168.6 237.2,168.6 237.9,168.6 238.6,168.5 239.3,168.4 240,168.3 240.6,168.2 241.3,168.2 242,168.2 242.7,168.1 243.4,168 244.1,168 244.8,167.9 245.5,168 246.2,168 246.9,168.2 247.6,168.3 248.3,168.5 249,168.6 249.6,168.6 250.3,168.5 251,168.4 251.7,168.3 252.4,168.2 253.1,168.2 253.8,168.2 254.5,168.2 255.2,168.3 255.9,168.4 256.6,168.4 257.3,168.5 257.9,168.5 258.6,168.4 259.3,168.3 260,168.2 260.7,168.1 261.4,168 262.1,168 262.8,168.1 263.5,168.1 264.2,168.2 264.9,168.3 265.6,168.3 266.2,168.3 266.9,168.3 267.6,168.4 268.3,168.5 269,168.6 269.7,168.6 270.4,168.6 271.1,168.6 271.8,168.6 272.5,168.6 273.2,168.6 273.9,168.6 274.6,168.6 275.2,168.7 275.9,168.7 276.6,168.8 277.3,168.8 278,168.8 278.7,168.8 279.4,168.8 280.1,168.7 280.8,168.6 281.5,168.5 282.2,168.4 282.9,168.4 283.6,168.4 284.2,168.4 284.9,168.5 285.6,168.5 286.3,168.5 287,168.5 287.7,168.5 288.4,168.6 289.1,168.6 289.8,168.7 290.5,168.7 291.2,168.7 291.9,168.7 292.5,168.6 293.2,168.6 293.9,168.5 294.6,168.5 295.3,168.5 296,168.5 296.7,168.5 297.4,168.5 298.1,168.5 298.8,168.5 299.5,168.5 300.2,168.5 300.9,168.4 301.5,168.3 302.2,168.2 302.9,168.1 303.6,168.1 304.3,168.2 305,168.3 305.7,168.5 306.4,168.6 307.1,168.7 307.8,168.7 308.5,168.6 309.2,168.4" fill="none" stroke="#d4a010" stroke-width="1.8" stroke-linejoin="round"/>
<rect x="50" y="12" width="259.5" height="208.5" fill="none" stroke="#000" stroke-width="1.6"/>
<line x1="50" y1="220.5" x2="54" y2="220.5" stroke="#000" stroke-width="1.2"/>
<line x1="50" y1="205.6" x2="52.5" y2="205.6" stroke="#000" stroke-width="1.2"/>
<line x1="50" y1="190.7" x2="54" y2="190.7" stroke="#000" stroke-width="1.2"/>
<line x1="50" y1="175.8" x2="52.5" y2="175.8" stroke="#000" stroke-width="1.2"/>
<line x1="50" y1="160.9" x2="54" y2="160.9" stroke="#000" stroke-width="1.2"/>
<line x1="50" y1="146" x2="52.5" y2="146" stroke="#000" stroke-width="1.2"/>
<line x1="50" y1="131.1" x2="54" y2="131.1" stroke="#000" stroke-width="1.2"/>
<line x1="50" y1="116.2" x2="52.5" y2="116.2" stroke="#000" stroke-width="1.2"/>
<line x1="50" y1="101.4" x2="54" y2="101.4" stroke="#000" stroke-width="1.2"/>
<line x1="50" y1="86.5" x2="52.5" y2="86.5" stroke="#000" stroke-width="1.2"/>
<line x1="50" y1="71.6" x2="54" y2="71.6" stroke="#000" stroke-width="1.2"/>
<line x1="50" y1="56.7" x2="52.5" y2="56.7" stroke="#000" stroke-width="1.2"/>
<line x1="50" y1="41.8" x2="54" y2="41.8" stroke="#000" stroke-width="1.2"/>
<line x1="50" y1="26.9" x2="52.5" y2="26.9" stroke="#000" stroke-width="1.2"/>
<line x1="50" y1="12" x2="54" y2="12" stroke="#000" stroke-width="1.2"/>
<line x1="67.3" y1="220.5" x2="67.3" y2="216.5" stroke="#000" stroke-width="1.2"/>
<line x1="101.9" y1="220.5" x2="101.9" y2="218.0" stroke="#000" stroke-width="1.2"/>
<line x1="136.5" y1="220.5" x2="136.5" y2="216.5" stroke="#000" stroke-width="1.2"/>
<line x1="171.1" y1="220.5" x2="171.1" y2="218.0" stroke="#000" stroke-width="1.2"/>
<line x1="205.7" y1="220.5" x2="205.7" y2="216.5" stroke="#000" stroke-width="1.2"/>
<line x1="240.3" y1="220.5" x2="240.3" y2="218.0" stroke="#000" stroke-width="1.2"/>
<line x1="274.9" y1="220.5" x2="274.9" y2="216.5" stroke="#000" stroke-width="1.2"/>
<line x1="309.5" y1="220.5" x2="309.5" y2="218.0" stroke="#000" stroke-width="1.2"/>
<text x="45.5" y="223.7" class="tl" text-anchor="end">0</text>
<text x="45.5" y="193.9" class="tl" text-anchor="end">1000</text>
<text x="45.5" y="164.1" class="tl" text-anchor="end">2000</text>
<text x="45.5" y="134.3" class="tl" text-anchor="end">3000</text>
<text x="45.5" y="104.6" class="tl" text-anchor="end">4000</text>
<text x="45.5" y="74.8" class="tl" text-anchor="end">5000</text>
<text x="45.5" y="45" class="tl" text-anchor="end">6000</text>
<text x="45.5" y="15.2" class="tl" text-anchor="end">7000</text>
<text x="67.3" y="236.5" class="tl" text-anchor="middle">200</text>
<text x="136.5" y="236.5" class="tl" text-anchor="middle">400</text>
<text x="205.7" y="236.5" class="tl" text-anchor="middle">600</text>
<text x="274.9" y="236.5" class="tl" text-anchor="middle">800</text>
<text x="180" y="259.5" class="al" text-anchor="middle">Relative Time (s)</text>
<text transform="translate(18,115.5) rotate(-90)" class="al" text-anchor="middle">counts, No Wt, 10-100</text>
<rect x="53.5" y="17.4" width="49.5" height="14.1" fill="#6a6a6a"/>
<rect x="52.2" y="16.1" width="49.5" height="14.1" fill="#fff" stroke="#888" stroke-width="0.7"/>
<text x="77" y="26.6" class="rl" text-anchor="middle">origination</text>
<rect x="133" y="17.4" width="54.5" height="14.1" fill="#6a6a6a"/>
<rect x="131.7" y="16.1" width="54.5" height="14.1" fill="#fff" stroke="#888" stroke-width="0.7"/>
<text x="158.9" y="26.6" class="rl" text-anchor="middle">After dosing</text>
<rect x="227.6" y="17.4" width="70.1" height="14.1" fill="#6a6a6a"/>
<rect x="226.3" y="16.1" width="70.1" height="14.1" fill="#fff" stroke="#888" stroke-width="0.7"/>
<text x="261.4" y="26.6" class="rl" text-anchor="middle">After settlement</text>
<rect x="229.7" y="64.9" width="66.3" height="82" fill="#000"/>
<rect x="226.7" y="62.4" width="66.3" height="82" fill="#fff" stroke="#bbb" stroke-width="0.6"/>
<line x1="228" y1="69.3" x2="252.7" y2="69.3" stroke="#4d4d4d" stroke-width="1.6"/>
<text x="255" y="73.2" class="lg">0.4 g/kg</text>
<line x1="228" y1="83" x2="252.7" y2="83" stroke="#f03c3c" stroke-width="1.6"/>
<text x="255" y="86.9" class="lg">0.6 g/kg</text>
<line x1="228" y1="96.7" x2="252.7" y2="96.7" stroke="#2a6fe0" stroke-width="1.6"/>
<text x="255" y="100.6" class="lg">0.8 g/kg</text>
<line x1="228" y1="110.5" x2="252.7" y2="110.5" stroke="#2ea85a" stroke-width="1.6"/>
<text x="255" y="114.4" class="lg">1.0 g/kg</text>
<line x1="228" y1="124.2" x2="252.7" y2="124.2" stroke="#b070e0" stroke-width="1.6"/>
<text x="255" y="128.1" class="lg">1.2 g/kg</text>
<line x1="228" y1="137.9" x2="252.7" y2="137.9" stroke="#d4a010" stroke-width="1.6"/>
<text x="255" y="141.8" class="lg">1.6 g/kg</text>
<text x="157.3" y="281" class="cap" text-anchor="middle">(<tspan font-weight="bold">a</tspan>)</text>
</g>
<g id="b">
<line x1="500" y1="182.6" x2="497.9" y2="20.3" stroke="#d0d0d0" stroke-width="0.6"/>
<line x1="509.3" y1="181.9" x2="507.6" y2="20.2" stroke="#d0d0d0" stroke-width="0.6"/>
<line x1="515.9" y1="181.3" x2="514.4" y2="20.1" stroke="#d0d0d0" stroke-width="0.6"/>
<line x1="520.9" y1="180.9" x2="519.7" y2="20" stroke="#d0d0d0" stroke-width="0.6"/>
<line x1="525.1" y1="180.6" x2="524" y2="20" stroke="#d0d0d0" stroke-width="0.6"/>
<line x1="528.5" y1="180.3" x2="527.6" y2="19.9" stroke="#d0d0d0" stroke-width="0.6"/>
<line x1="531.5" y1="180.1" x2="530.7" y2="19.9" stroke="#d0d0d0" stroke-width="0.6"/>
<line x1="534.2" y1="179.9" x2="533.4" y2="19.8" stroke="#d0d0d0" stroke-width="0.6"/>
<line x1="536.5" y1="179.7" x2="535.9" y2="19.8" stroke="#d0d0d0" stroke-width="0.6"/>
<line x1="551.9" y1="178.4" x2="551.9" y2="19.6" stroke="#d0d0d0" stroke-width="0.6"/>
<line x1="560.9" y1="177.7" x2="561.1" y2="19.5" stroke="#d0d0d0" stroke-width="0.6"/>
<line x1="567.1" y1="177.2" x2="567.6" y2="19.4" stroke="#d0d0d0" stroke-width="0.6"/>
<line x1="572" y1="176.8" x2="572.7" y2="19.3" stroke="#d0d0d0" stroke-width="0.6"/>
<line x1="575.9" y1="176.5" x2="576.8" y2="19.3" stroke="#d0d0d0" stroke-width="0.6"/>
<line x1="579.3" y1="176.2" x2="580.2" y2="19.2" stroke="#d0d0d0" stroke-width="0.6"/>
<line x1="582.2" y1="176" x2="583.2" y2="19.2" stroke="#d0d0d0" stroke-width="0.6"/>
<line x1="584.7" y1="175.8" x2="585.8" y2="19.1" stroke="#d0d0d0" stroke-width="0.6"/>
<line x1="586.9" y1="175.6" x2="588.2" y2="19.1" stroke="#d0d0d0" stroke-width="0.6"/>
<line x1="601.7" y1="174.4" x2="603.5" y2="18.9" stroke="#d0d0d0" stroke-width="0.6"/>
<line x1="610.3" y1="173.7" x2="612.3" y2="18.8" stroke="#d0d0d0" stroke-width="0.6"/>
<line x1="616.3" y1="173.2" x2="618.5" y2="18.7" stroke="#d0d0d0" stroke-width="0.6"/>
<line x1="620.9" y1="172.9" x2="623.4" y2="18.6" stroke="#d0d0d0" stroke-width="0.6"/>
<line x1="624.7" y1="172.6" x2="627.3" y2="18.6" stroke="#d0d0d0" stroke-width="0.6"/>
<line x1="627.9" y1="172.3" x2="630.6" y2="18.5" stroke="#d0d0d0" stroke-width="0.6"/>
<line x1="630.7" y1="172.1" x2="633.4" y2="18.5" stroke="#d0d0d0" stroke-width="0.6"/>
<line x1="633.1" y1="171.9" x2="636" y2="18.5" stroke="#d0d0d0" stroke-width="0.6"/>
<line x1="483.2" y1="144.2" x2="636" y2="134.4" stroke="#d0d0d0" stroke-width="0.6"/>
<line x1="482.6" y1="103.8" x2="636.7" y2="96.4" stroke="#d0d0d0" stroke-width="0.6"/>
<line x1="481.9" y1="62.6" x2="637.5" y2="57.8" stroke="#d0d0d0" stroke-width="0.6"/>
<line x1="642.6" y1="176.6" x2="645.8" y2="19.7" stroke="#d0d0d0" stroke-width="0.6"/>
<line x1="650.2" y1="181.6" x2="653.9" y2="21.1" stroke="#d0d0d0" stroke-width="0.6"/>
<line x1="658.3" y1="187" x2="662.3" y2="22.5" stroke="#d0d0d0" stroke-width="0.6"/>
<line x1="666.7" y1="192.6" x2="671.2" y2="24" stroke="#d0d0d0" stroke-width="0.6"/>
<line x1="675.6" y1="198.4" x2="680.5" y2="25.6" stroke="#d0d0d0" stroke-width="0.6"/>
<line x1="684.9" y1="204.6" x2="690.4" y2="27.3" stroke="#d0d0d0" stroke-width="0.6"/>
<line x1="694.7" y1="211.2" x2="700.8" y2="29.1" stroke="#d0d0d0" stroke-width="0.6"/>
<line x1="636" y1="134.4" x2="706.8" y2="172.8" stroke="#d0d0d0" stroke-width="0.6"/>
<line x1="636.7" y1="96.4" x2="708.4" y2="126.6" stroke="#d0d0d0" stroke-width="0.6"/>
<line x1="637.5" y1="57.8" x2="710.1" y2="79.3" stroke="#d0d0d0" stroke-width="0.6"/>
<line x1="500" y1="182.6" x2="542.5" y2="235" stroke="#d0d0d0" stroke-width="0.6"/>
<line x1="509.3" y1="181.9" x2="553.8" y2="233.8" stroke="#d0d0d0" stroke-width="0.6"/>
<line x1="515.9" y1="181.3" x2="561.8" y2="233" stroke="#d0d0d0" stroke-width="0.6"/>
<line x1="520.9" y1="180.9" x2="567.9" y2="232.3" stroke="#d0d0d0" stroke-width="0.6"/>
<line x1="525.1" y1="180.6" x2="572.9" y2="231.8" stroke="#d0d0d0" stroke-width="0.6"/>
<line x1="528.5" y1="180.3" x2="577.1" y2="231.4" stroke="#d0d0d0" stroke-width="0.6"/>
<line x1="531.5" y1="180.1" x2="580.8" y2="231" stroke="#d0d0d0" stroke-width="0.6"/>
<line x1="534.2" y1="179.9" x2="584" y2="230.7" stroke="#d0d0d0" stroke-width="0.6"/>
<line x1="536.5" y1="179.7" x2="586.8" y2="230.4" stroke="#d0d0d0" stroke-width="0.6"/>
<line x1="551.9" y1="178.4" x2="605.4" y2="228.4" stroke="#d0d0d0" stroke-width="0.6"/>
<line x1="560.9" y1="177.7" x2="616.2" y2="227.3" stroke="#d0d0d0" stroke-width="0.6"/>
<line x1="567.1" y1="177.2" x2="623.8" y2="226.5" stroke="#d0d0d0" stroke-width="0.6"/>
<line x1="572" y1="176.8" x2="629.6" y2="225.9" stroke="#d0d0d0" stroke-width="0.6"/>
<line x1="575.9" y1="176.5" x2="634.3" y2="225.4" stroke="#d0d0d0" stroke-width="0.6"/>
<line x1="579.3" y1="176.2" x2="638.3" y2="225" stroke="#d0d0d0" stroke-width="0.6"/>
<line x1="582.2" y1="176" x2="641.8" y2="224.7" stroke="#d0d0d0" stroke-width="0.6"/>
<line x1="584.7" y1="175.8" x2="644.8" y2="224.3" stroke="#d0d0d0" stroke-width="0.6"/>
<line x1="586.9" y1="175.6" x2="647.5" y2="224.1" stroke="#d0d0d0" stroke-width="0.6"/>
<line x1="601.7" y1="174.4" x2="665.2" y2="222.2" stroke="#d0d0d0" stroke-width="0.6"/>
<line x1="610.3" y1="173.7" x2="675.4" y2="221.2" stroke="#d0d0d0" stroke-width="0.6"/>
<line x1="616.3" y1="173.2" x2="682.6" y2="220.4" stroke="#d0d0d0" stroke-width="0.6"/>
<line x1="620.9" y1="172.9" x2="688.1" y2="219.8" stroke="#d0d0d0" stroke-width="0.6"/>
<line x1="624.7" y1="172.6" x2="692.6" y2="219.4" stroke="#d0d0d0" stroke-width="0.6"/>
<line x1="627.9" y1="172.3" x2="696.4" y2="219" stroke="#d0d0d0" stroke-width="0.6"/>
<line x1="630.7" y1="172.1" x2="699.7" y2="218.6" stroke="#d0d0d0" stroke-width="0.6"/>
<line x1="633.1" y1="171.9" x2="702.6" y2="218.3" stroke="#d0d0d0" stroke-width="0.6"/>
<line x1="487.9" y1="189.4" x2="642.6" y2="176.6" stroke="#d0d0d0" stroke-width="0.6"/>
<line x1="492.1" y1="195.2" x2="650.2" y2="181.6" stroke="#d0d0d0" stroke-width="0.6"/>
<line x1="496.6" y1="201.2" x2="658.3" y2="187" stroke="#d0d0d0" stroke-width="0.6"/>
<line x1="501.3" y1="207.6" x2="666.7" y2="192.6" stroke="#d0d0d0" stroke-width="0.6"/>
<line x1="506.2" y1="214.4" x2="675.6" y2="198.4" stroke="#d0d0d0" stroke-width="0.6"/>
<line x1="511.4" y1="221.5" x2="684.9" y2="204.6" stroke="#d0d0d0" stroke-width="0.6"/>
<line x1="517" y1="229" x2="694.7" y2="211.2" stroke="#d0d0d0" stroke-width="0.6"/>
<line x1="483.9" y1="183.9" x2="481.2" y2="20.6" stroke="#111" stroke-width="1.1"/>
<line x1="481.2" y1="20.6" x2="638.2" y2="18.4" stroke="#111" stroke-width="1.1"/>
<line x1="635.3" y1="171.7" x2="638.2" y2="18.4" stroke="#111" stroke-width="1.1"/>
<line x1="638.2" y1="18.4" x2="711.8" y2="31" stroke="#111" stroke-width="1.1"/>
<line x1="705.1" y1="218.1" x2="711.8" y2="31" stroke="#111" stroke-width="1.1"/>
<line x1="483.9" y1="183.9" x2="635.3" y2="171.7" stroke="#111" stroke-width="1.1"/>
<line x1="635.3" y1="171.7" x2="705.1" y2="218.1" stroke="#111" stroke-width="1.1"/>
<path d="M641.3 176.9 642.8 177.9 642.8 177.1 641.3 176.2ZM639.7 177.1 641.1 178 641.2 177.3 639.7 176.3ZM638.1 177.2 639.5 178.2 639.5 177.4 638.1 176.4ZM636.5 177.3 637.9 178.3 637.9 177.5 636.5 176.6ZM634.9 177.5 636.3 178.4 636.3 177.7 634.9 176.7ZM633.2 177.6 634.6 178.6 634.7 177.8 633.2 176.8ZM631.6 177.7 633 178.7 633 177.9 631.6 177ZM630 177.9 631.4 178.8 631.4 178.1 630 177.1ZM628.3 178 629.7 179 629.7 178.2 628.4 177.2ZM626.7 178.1 628.1 179.1 628.1 178.4 626.7 177.4ZM625.1 178.3 626.5 179.3 626.5 178.5 625.1 177.5ZM623.4 178.4 624.8 179.4 624.8 178.6 623.5 177.7ZM621.8 178.6 623.2 179.5 623.2 178.8 621.8 177.8ZM620.2 178.7 621.5 179.7 621.5 178.9 620.2 177.9ZM618.5 178.8 619.9 179.8 619.9 179 618.5 178.1ZM616.9 179 618.2 179.9 618.2 179.2 616.9 178.2ZM615.2 179.1 616.6 180.1 616.6 179.3 615.2 178.3ZM613.6 179.2 614.9 180.2 614.9 179.4 613.6 178.5ZM611.9 179.4 613.2 180.4 613.2 179.6 611.9 178.6ZM610.3 179.5 611.6 180.5 611.6 179.7 610.3 178.7ZM608.6 179.7 609.9 180.6 609.9 179.9 608.6 178.9ZM606.9 179.8 608.2 180.8 608.2 180 606.9 179ZM605.3 179.9 606.6 180.9 606.6 180.1 605.3 179.2ZM603.6 180.1 604.9 181.1 604.9 180.3 603.6 179.3ZM601.9 180.2 603.2 181.2 603.2 180.4 601.9 179.4ZM600.3 180.3 601.5 181.3 601.6 180.6 600.3 179.6ZM598.6 180.5 599.9 181.5 599.9 180.7 598.6 179.7ZM596.9 180.6 598.2 181.6 598.2 180.8 596.9 179.8ZM595.2 180.8 596.5 181.8 596.5 181 595.3 180ZM593.6 180.9 594.8 181.9 594.8 181.1 593.6 180.1ZM591.9 181 593.1 182 593.1 180.4 591.9 179.4ZM590.2 181.2 591.4 182.2 591.5 177.4 590.2 176.5ZM588.5 181.3 589.7 182.3 589.8 170.1 588.6 169.2ZM586.8 181.5 588 182.5 588.2 160.1 587 159.2ZM585.1 181.6 586.3 182.6 586.6 146.1 585.4 145.2ZM583.4 181.7 584.6 182.7 585 130.9 583.8 130.1ZM581.7 181.9 582.9 182.9 583.4 113 582.2 112.3ZM580 182 581.2 183 581.8 93.8 580.6 93.2ZM578.3 182.2 579.5 183.2 580.1 86.9 578.9 86.3ZM576.6 182.3 577.8 183.3 578.5 67.1 577.2 66.6ZM574.9 182.4 576.1 183.5 576.8 56.2 575.5 55.8ZM573.2 182.6 574.4 183.6 575.1 41.1 573.9 40.8ZM571.5 182.7 572.7 183.7 573.3 37.9 572.1 37.6ZM569.8 182.9 570.9 183.9 571.5 38 570.3 37.6ZM568.1 183 569.2 184 569.7 43.5 568.5 43.1ZM566.3 183.2 567.5 184.2 567.9 52.2 566.7 51.8ZM564.6 183.3 565.8 184.3 566.1 64.8 564.9 64.3ZM562.9 183.4 564 184.5 564.3 77.7 563.1 77.1ZM561.2 183.6 562.3 184.6 562.5 87.2 561.3 86.6ZM559.4 183.7 560.5 184.8 560.7 96.8 559.6 96.1ZM557.7 183.9 558.8 184.9 558.9 106.1 557.8 105.4ZM556 184 557.1 185.1 557.1 114.7 556 114ZM554.2 184.2 555.3 185.2 555.3 123.2 554.2 122.4ZM552.5 184.3 553.6 185.3 553.6 130.3 552.5 129.5ZM550.8 184.5 551.8 185.5 551.8 136.6 550.7 135.8ZM549 184.6 550.1 185.6 550 143 549 142.2ZM547.3 184.7 548.3 185.8 548.3 148.3 547.2 147.5ZM545.5 184.9 546.6 185.9 546.5 153.2 545.4 152.3ZM543.8 185 544.8 186.1 544.7 158.1 543.7 157.2ZM542 185.2 543 186.2 543 161 541.9 160.1ZM540.2 185.3 541.3 186.4 541.2 163.5 540.2 162.5ZM538.5 185.5 539.5 186.5 539.4 166 538.4 165ZM536.7 185.6 537.7 186.7 537.7 168.4 536.6 167.5ZM535 185.8 536 186.8 535.9 170.9 534.9 169.9ZM533.2 185.9 534.2 187 534.1 172.4 533.1 171.4ZM531.4 186.1 532.4 187.1 532.3 173.6 531.3 172.6ZM529.6 186.2 530.6 187.3 530.6 174.9 529.6 173.9ZM527.9 186.4 528.8 187.4 528.8 176.1 527.8 175.1ZM526.1 186.5 527.1 187.6 527 177.4 526 176.4ZM524.3 186.7 525.3 187.7 525.2 178.6 524.2 177.6ZM522.5 186.8 523.5 187.9 523.4 179.8 522.5 178.8ZM520.7 187 521.7 188 521.6 180.5 520.7 179.5ZM518.9 187.1 519.9 188.2 519.8 181.1 518.9 180.1ZM517.2 187.2 518.1 188.3 518 181.7 517.1 180.7ZM515.4 187.4 516.3 188.5 516.2 182.4 515.3 181.3ZM513.6 187.5 514.5 188.6 514.4 183 513.5 182ZM511.8 187.7 512.7 188.8 512.6 183.6 511.7 182.6ZM510 187.8 510.8 188.9 510.8 184.2 509.9 183.2ZM508.2 188 509 189.1 509 184.9 508.1 183.8ZM506.3 188.1 507.2 189.2 507.2 185.5 506.3 184.4ZM504.5 188.3 505.4 189.4 505.4 186 504.5 185ZM502.7 188.4 503.6 189.5 503.5 186.6 502.7 185.6ZM500.9 188.6 501.8 189.7 501.7 187.2 500.9 186.1ZM499.1 188.8 499.9 189.8 499.9 187.8 499.1 186.7ZM497.3 188.9 498.1 190 498.1 188.9 497.2 187.9ZM495.4 189.1 496.3 190.1 496.3 189.3 495.4 188.3ZM493.6 189.2 494.4 190.3 494.4 189.5 493.6 188.4ZM491.8 189.4 492.6 190.4 492.6 189.6 491.8 188.6ZM489.9 189.5 490.7 190.6 490.7 189.8 489.9 188.7ZM488.1 189.7 488.9 190.7 488.9 189.9 488.1 188.9Z" fill="#8a2828"/>
<path d="M641.3 176.2 643 176 644.4 177 642.8 177.1ZM639.7 176.3 641.3 176.2 642.8 177.1 641.2 177.3ZM638.1 176.4 639.7 176.3 641.2 177.3 639.5 177.4ZM636.5 176.6 638.1 176.4 639.5 177.4 637.9 177.5ZM634.9 176.7 636.5 176.6 637.9 177.5 636.3 177.7ZM633.2 176.8 634.9 176.7 636.3 177.7 634.7 177.8ZM631.6 177 633.2 176.8 634.7 177.8 633 177.9ZM630 177.1 631.6 177 633 177.9 631.4 178.1ZM628.4 177.2 630 177.1 631.4 178.1 629.7 178.2ZM626.7 177.4 628.4 177.2 629.7 178.2 628.1 178.4ZM625.1 177.5 626.7 177.4 628.1 178.4 626.5 178.5ZM623.5 177.7 625.1 177.5 626.5 178.5 624.8 178.6ZM621.8 177.8 623.5 177.7 624.8 178.6 623.2 178.8ZM620.2 177.9 621.8 177.8 623.2 178.8 621.5 178.9ZM618.5 178.1 620.2 177.9 621.5 178.9 619.9 179ZM616.9 178.2 618.5 178.1 619.9 179 618.2 179.2ZM615.2 178.3 616.9 178.2 618.2 179.2 616.6 179.3ZM613.6 178.5 615.2 178.3 616.6 179.3 614.9 179.4ZM611.9 178.6 613.6 178.5 614.9 179.4 613.2 179.6ZM610.3 178.7 611.9 178.6 613.2 179.6 611.6 179.7ZM608.6 178.9 610.3 178.7 611.6 179.7 609.9 179.9ZM606.9 179 608.6 178.9 609.9 179.9 608.2 180ZM605.3 179.2 606.9 179 608.2 180 606.6 180.1ZM603.6 179.3 605.3 179.2 606.6 180.1 604.9 180.3ZM601.9 179.4 603.6 179.3 604.9 180.3 603.2 180.4ZM600.3 179.6 601.9 179.4 603.2 180.4 601.6 180.6ZM598.6 179.7 600.3 179.6 601.6 180.6 599.9 180.7ZM596.9 179.8 598.6 179.7 599.9 180.7 598.2 180.8ZM595.3 180 596.9 179.8 598.2 180.8 596.5 181ZM593.6 180.1 595.3 180 596.5 181 594.8 181.1ZM591.9 179.4 593.6 179.3 594.8 180.3 593.1 180.4ZM590.2 176.5 591.9 176.3 593.2 177.3 591.5 177.4ZM588.6 169.2 590.3 169.1 591.5 170 589.8 170.1ZM587 159.2 588.7 159.1 589.9 160 588.2 160.1ZM585.4 145.2 587.1 145.1 588.3 145.9 586.6 146.1ZM583.8 130.1 585.5 130 586.7 130.8 585 130.9ZM582.2 112.3 583.9 112.2 585.1 112.9 583.4 113ZM580.6 93.2 582.3 93.1 583.5 93.7 581.8 93.8ZM578.9 86.3 580.6 86.2 581.8 86.8 580.1 86.9ZM577.2 66.6 579 66.5 580.2 67 578.5 67.1ZM575.5 55.8 577.3 55.8 578.5 56.2 576.8 56.2ZM573.9 40.8 575.6 40.7 576.8 41.1 575.1 41.1ZM572.1 37.6 573.9 37.5 575.1 37.9 573.3 37.9ZM570.3 37.6 572.1 37.6 573.3 37.9 571.5 38ZM568.5 43.1 570.3 43.1 571.5 43.5 569.7 43.5ZM566.7 51.8 568.5 51.8 569.7 52.2 567.9 52.2ZM564.9 64.3 566.7 64.3 567.9 64.8 566.1 64.8ZM563.1 77.1 564.9 77.1 566.1 77.6 564.3 77.7ZM561.3 86.6 563.1 86.6 564.3 87.2 562.5 87.2ZM559.6 96.1 561.3 96 562.5 96.7 560.7 96.8ZM557.8 105.4 559.5 105.4 560.7 106 558.9 106.1ZM556 114 557.8 113.9 558.9 114.6 557.1 114.7ZM554.2 122.4 556 122.3 557.1 123.1 555.3 123.2ZM552.5 129.5 554.2 129.4 555.3 130.2 553.6 130.3ZM550.7 135.8 552.5 135.7 553.6 136.5 551.8 136.6ZM549 142.2 550.7 142 551.8 142.9 550 143ZM547.2 147.5 549 147.3 550 148.2 548.3 148.3ZM545.4 152.3 547.2 152.2 548.3 153.1 546.5 153.2ZM543.7 157.2 545.5 157 546.5 157.9 544.7 158.1ZM541.9 160.1 543.7 159.9 544.7 160.9 543 161ZM540.2 162.5 541.9 162.4 543 163.4 541.2 163.5ZM538.4 165 540.2 164.9 541.2 165.8 539.4 166ZM536.6 167.5 538.4 167.4 539.4 168.3 537.7 168.4ZM534.9 169.9 536.7 169.8 537.7 170.8 535.9 170.9ZM533.1 171.4 534.9 171.2 535.9 172.2 534.1 172.4ZM531.3 172.6 533.1 172.5 534.1 173.5 532.3 173.6ZM529.6 173.9 531.4 173.7 532.3 174.7 530.6 174.9ZM527.8 175.1 529.6 175 530.6 176 528.8 176.1ZM526 176.4 527.8 176.2 528.8 177.2 527 177.4ZM524.2 177.6 526 177.5 527 178.5 525.2 178.6ZM522.5 178.8 524.2 178.6 525.2 179.7 523.4 179.8ZM520.7 179.5 522.5 179.3 523.4 180.3 521.6 180.5ZM518.9 180.1 520.7 179.9 521.6 181 519.8 181.1ZM517.1 180.7 518.9 180.6 519.8 181.6 518 181.7ZM515.3 181.3 517.1 181.2 518 182.2 516.2 182.4ZM513.5 182 515.3 181.8 516.2 182.8 514.4 183ZM511.7 182.6 513.5 182.4 514.4 183.5 512.6 183.6ZM509.9 183.2 511.7 183.1 512.6 184.1 510.8 184.2ZM508.1 183.8 509.9 183.7 510.8 184.7 509 184.9ZM506.3 184.4 508.1 184.3 509 185.3 507.2 185.5ZM504.5 185 506.3 184.8 507.2 185.9 505.4 186ZM502.7 185.6 504.5 185.4 505.4 186.5 503.5 186.6ZM500.9 186.1 502.7 186 503.5 187 501.7 187.2ZM499.1 186.7 500.9 186.6 501.7 187.6 499.9 187.8ZM497.2 187.9 499.1 187.7 499.9 188.8 498.1 188.9ZM495.4 188.3 497.2 188.1 498.1 189.2 496.3 189.3ZM493.6 188.4 495.4 188.3 496.3 189.3 494.4 189.5ZM491.8 188.6 493.6 188.4 494.4 189.5 492.6 189.6ZM489.9 188.7 491.8 188.6 492.6 189.6 490.7 189.8ZM488.1 188.9 489.9 188.7 490.7 189.8 488.9 189.9Z" fill="#9a5050"/>
<path d="M642.8 177.9 644.4 177.8 644.4 177 642.8 177.1ZM641.1 178 642.8 177.9 642.8 177.1 641.2 177.3ZM639.5 178.2 641.1 178 641.2 177.3 639.5 177.4ZM637.9 178.3 639.5 178.2 639.5 177.4 637.9 177.5ZM636.3 178.4 637.9 178.3 637.9 177.5 636.3 177.7ZM634.6 178.6 636.3 178.4 636.3 177.7 634.7 177.8ZM633 178.7 634.6 178.6 634.7 177.8 633 177.9ZM631.4 178.8 633 178.7 633 177.9 631.4 178.1ZM629.7 179 631.4 178.8 631.4 178.1 629.7 178.2ZM628.1 179.1 629.7 179 629.7 178.2 628.1 178.4ZM626.5 179.3 628.1 179.1 628.1 178.4 626.5 178.5ZM624.8 179.4 626.5 179.3 626.5 178.5 624.8 178.6ZM623.2 179.5 624.8 179.4 624.8 178.6 623.2 178.8ZM621.5 179.7 623.2 179.5 623.2 178.8 621.5 178.9ZM619.9 179.8 621.5 179.7 621.5 178.9 619.9 179ZM618.2 179.9 619.9 179.8 619.9 179 618.2 179.2ZM616.6 180.1 618.2 179.9 618.2 179.2 616.6 179.3ZM614.9 180.2 616.6 180.1 616.6 179.3 614.9 179.4ZM613.2 180.4 614.9 180.2 614.9 179.4 613.2 179.6ZM611.6 180.5 613.2 180.4 613.2 179.6 611.6 179.7ZM609.9 180.6 611.6 180.5 611.6 179.7 609.9 179.9ZM608.2 180.8 609.9 180.6 609.9 179.9 608.2 180ZM606.6 180.9 608.2 180.8 608.2 180 606.6 180.1ZM604.9 181.1 606.6 180.9 606.6 180.1 604.9 180.3ZM603.2 181.2 604.9 181.1 604.9 180.3 603.2 180.4ZM601.5 181.3 603.2 181.2 603.2 180.4 601.6 180.6ZM599.9 181.5 601.5 181.3 601.6 180.6 599.9 180.7ZM598.2 181.6 599.9 181.5 599.9 180.7 598.2 180.8ZM596.5 181.8 598.2 181.6 598.2 180.8 596.5 181ZM594.8 181.9 596.5 181.8 596.5 181 594.8 181.1ZM593.1 182 594.8 181.9 594.8 180.3 593.1 180.4ZM591.4 182.2 593.1 182 593.2 177.3 591.5 177.4ZM589.7 182.3 591.4 182.2 591.5 170 589.8 170.1ZM588 182.5 589.7 182.3 589.9 160 588.2 160.1ZM586.3 182.6 588 182.5 588.3 145.9 586.6 146.1ZM584.6 182.7 586.3 182.6 586.7 130.8 585 130.9ZM582.9 182.9 584.6 182.7 585.1 112.9 583.4 113ZM581.2 183 582.9 182.9 583.5 93.7 581.8 93.8ZM579.5 183.2 581.2 183 581.8 86.8 580.1 86.9ZM577.8 183.3 579.5 183.2 580.2 67 578.5 67.1ZM576.1 183.5 577.8 183.3 578.5 56.2 576.8 56.2ZM574.4 183.6 576.1 183.5 576.8 41.1 575.1 41.1ZM572.7 183.7 574.4 183.6 575.1 37.9 573.3 37.9ZM570.9 183.9 572.7 183.7 573.3 37.9 571.5 38ZM569.2 184 570.9 183.9 571.5 43.5 569.7 43.5ZM567.5 184.2 569.2 184 569.7 52.2 567.9 52.2ZM565.8 184.3 567.5 184.2 567.9 64.8 566.1 64.8ZM564 184.5 565.8 184.3 566.1 77.6 564.3 77.7ZM562.3 184.6 564 184.5 564.3 87.2 562.5 87.2ZM560.5 184.8 562.3 184.6 562.5 96.7 560.7 96.8ZM558.8 184.9 560.5 184.8 560.7 106 558.9 106.1ZM557.1 185.1 558.8 184.9 558.9 114.6 557.1 114.7ZM555.3 185.2 557.1 185.1 557.1 123.1 555.3 123.2ZM553.6 185.3 555.3 185.2 555.3 130.2 553.6 130.3ZM551.8 185.5 553.6 185.3 553.6 136.5 551.8 136.6ZM550.1 185.6 551.8 185.5 551.8 142.9 550 143ZM548.3 185.8 550.1 185.6 550 148.2 548.3 148.3ZM546.6 185.9 548.3 185.8 548.3 153.1 546.5 153.2ZM544.8 186.1 546.6 185.9 546.5 157.9 544.7 158.1ZM543 186.2 544.8 186.1 544.7 160.9 543 161ZM541.3 186.4 543 186.2 543 163.4 541.2 163.5ZM539.5 186.5 541.3 186.4 541.2 165.8 539.4 166ZM537.7 186.7 539.5 186.5 539.4 168.3 537.7 168.4ZM536 186.8 537.7 186.7 537.7 170.8 535.9 170.9ZM534.2 187 536 186.8 535.9 172.2 534.1 172.4ZM532.4 187.1 534.2 187 534.1 173.5 532.3 173.6ZM530.6 187.3 532.4 187.1 532.3 174.7 530.6 174.9ZM528.8 187.4 530.6 187.3 530.6 176 528.8 176.1ZM527.1 187.6 528.8 187.4 528.8 177.2 527 177.4ZM525.3 187.7 527.1 187.6 527 178.5 525.2 178.6ZM523.5 187.9 525.3 187.7 525.2 179.7 523.4 179.8ZM521.7 188 523.5 187.9 523.4 180.3 521.6 180.5ZM519.9 188.2 521.7 188 521.6 181 519.8 181.1ZM518.1 188.3 519.9 188.2 519.8 181.6 518 181.7ZM516.3 188.5 518.1 188.3 518 182.2 516.2 182.4ZM514.5 188.6 516.3 188.5 516.2 182.8 514.4 183ZM512.7 188.8 514.5 188.6 514.4 183.5 512.6 183.6ZM510.8 188.9 512.7 188.8 512.6 184.1 510.8 184.2ZM509 189.1 510.8 188.9 510.8 184.7 509 184.9ZM507.2 189.2 509 189.1 509 185.3 507.2 185.5ZM505.4 189.4 507.2 189.2 507.2 185.9 505.4 186ZM503.6 189.5 505.4 189.4 505.4 186.5 503.5 186.6ZM501.8 189.7 503.6 189.5 503.5 187 501.7 187.2ZM499.9 189.8 501.8 189.7 501.7 187.6 499.9 187.8ZM498.1 190 499.9 189.8 499.9 188.8 498.1 188.9ZM496.3 190.1 498.1 190 498.1 189.2 496.3 189.3ZM494.4 190.3 496.3 190.1 496.3 189.3 494.4 189.5ZM492.6 190.4 494.4 190.3 494.4 189.5 492.6 189.6ZM490.7 190.6 492.6 190.4 492.6 189.6 490.7 189.8ZM488.9 190.7 490.7 190.6 490.7 189.8 488.9 189.9Z" fill="#b22428" stroke="#a04c4c" stroke-width="0.45"/>
<path d="M488.9 190.7 490.7 190.6 490.7 189.8 488.9 189.9ZM488.1 188.9 489.9 188.7 490.7 189.8 488.9 189.9Z" fill="#bca1a2"/>
<path d="M490.7 190.6 492.6 190.4 492.6 189.6 490.7 189.8ZM489.9 188.7 491.8 188.6 492.6 189.6 490.7 189.8Z" fill="#bca1a2"/>
<path d="M492.6 190.4 494.4 190.3 494.4 189.5 492.6 189.6ZM491.8 188.6 493.6 188.4 494.4 189.5 492.6 189.6Z" fill="#bca1a2"/>
<path d="M494.4 190.3 496.3 190.1 496.3 189.3 494.4 189.5ZM493.6 188.4 495.4 188.3 496.3 189.3 494.4 189.5Z" fill="#bca1a2"/>
<path d="M496.3 190.1 498.1 190 498.1 189.2 496.3 189.3ZM495.4 188.3 497.2 188.1 498.1 189.2 496.3 189.3Z" fill="#bca1a2"/>
<path d="M498.1 190 499.9 189.8 499.9 188.8 498.1 188.9ZM497.2 187.9 499.1 187.7 499.9 188.8 498.1 188.9Z" fill="#bb9c9c"/>
<path d="M499.9 189.8 501.8 189.7 501.7 187.6 499.9 187.8ZM499.1 186.7 500.9 186.6 501.7 187.6 499.9 187.8Z" fill="#b98183"/>
<path d="M501.8 189.7 503.6 189.5 503.5 187 501.7 187.2ZM500.9 186.1 502.7 186 503.5 187 501.7 187.2Z" fill="#b87678"/>
<path d="M503.6 189.5 505.4 189.4 505.4 186.5 503.5 186.6ZM502.7 185.6 504.5 185.4 505.4 186.5 503.5 186.6Z" fill="#b86b6d"/>
<path d="M505.4 189.4 507.2 189.2 507.2 185.9 505.4 186ZM504.5 185 506.3 184.8 507.2 185.9 505.4 186Z" fill="#b76062"/>
<path d="M507.2 189.2 509 189.1 509 185.3 507.2 185.5ZM506.3 184.4 508.1 184.3 509 185.3 507.2 185.5Z" fill="#b65558"/>
<path d="M509 189.1 510.8 188.9 510.8 184.7 509 184.9ZM508.1 183.8 509.9 183.7 510.8 184.7 509 184.9Z" fill="#b5494c"/>
<path d="M510.8 188.9 512.7 188.8 512.6 184.1 510.8 184.2ZM509.9 183.2 511.7 183.1 512.6 184.1 510.8 184.2Z" fill="#b43d40"/>
<path d="M512.7 188.8 514.5 188.6 514.4 183.5 512.6 183.6ZM511.7 182.6 513.5 182.4 514.4 183.5 512.6 183.6Z" fill="#b33034"/>
<path d="M591.4 182.2 593.1 182 593.2 177.3 591.5 177.4ZM590.2 176.5 591.9 176.3 593.2 177.3 591.5 177.4Z" fill="#b3373a"/>
<path d="M593.1 182 594.8 181.9 594.8 180.3 593.1 180.4ZM591.9 179.4 593.6 179.3 594.8 180.3 593.1 180.4Z" fill="#ba8b8c"/>
<path d="M594.8 181.9 596.5 181.8 596.5 181 594.8 181.1ZM593.6 180.1 595.3 180 596.5 181 594.8 181.1Z" fill="#bca1a2"/>
<path d="M596.5 181.8 598.2 181.6 598.2 180.8 596.5 181ZM595.3 180 596.9 179.8 598.2 180.8 596.5 181Z" fill="#bca1a2"/>
<path d="M598.2 181.6 599.9 181.5 599.9 180.7 598.2 180.8ZM596.9 179.8 598.6 179.7 599.9 180.7 598.2 180.8Z" fill="#bca1a2"/>
<path d="M599.9 181.5 601.5 181.3 601.6 180.6 599.9 180.7ZM598.6 179.7 600.3 179.6 601.6 180.6 599.9 180.7Z" fill="#bca1a2"/>
<path d="M601.5 181.3 603.2 181.2 603.2 180.4 601.6 180.6ZM600.3 179.6 601.9 179.4 603.2 180.4 601.6 180.6Z" fill="#bca1a2"/>
<path d="M603.2 181.2 604.9 181.1 604.9 180.3 603.2 180.4ZM601.9 179.4 603.6 179.3 604.9 180.3 603.2 180.4Z" fill="#bca1a2"/>
<path d="M604.9 181.1 606.6 180.9 606.6 180.1 604.9 180.3ZM603.6 179.3 605.3 179.2 606.6 180.1 604.9 180.3Z" fill="#bca1a2"/>
<path d="M606.6 180.9 608.2 180.8 608.2 180 606.6 180.1ZM605.3 179.2 606.9 179 608.2 180 606.6 180.1Z" fill="#bca1a2"/>
<path d="M608.2 180.8 609.9 180.6 609.9 179.9 608.2 180ZM606.9 179 608.6 178.9 609.9 179.9 608.2 180Z" fill="#bca1a2"/>
<path d="M609.9 180.6 611.6 180.5 611.6 179.7 609.9 179.9ZM608.6 178.9 610.3 178.7 611.6 179.7 609.9 179.9Z" fill="#bca1a2"/>
<path d="M611.6 180.5 613.2 180.4 613.2 179.6 611.6 179.7ZM610.3 178.7 611.9 178.6 613.2 179.6 611.6 179.7Z" fill="#bca1a2"/>
<path d="M613.2 180.4 614.9 180.2 614.9 179.4 613.2 179.6ZM611.9 178.6 613.6 178.5 614.9 179.4 613.2 179.6Z" fill="#bca1a2"/>
<path d="M614.9 180.2 616.6 180.1 616.6 179.3 614.9 179.4ZM613.6 178.5 615.2 178.3 616.6 179.3 614.9 179.4Z" fill="#bca1a2"/>
<path d="M616.6 180.1 618.2 179.9 618.2 179.2 616.6 179.3ZM615.2 178.3 616.9 178.2 618.2 179.2 616.6 179.3Z" fill="#bca1a2"/>
<path d="M618.2 179.9 619.9 179.8 619.9 179 618.2 179.2ZM616.9 178.2 618.5 178.1 619.9 179 618.2 179.2Z" fill="#bca1a2"/>
<path d="M619.9 179.8 621.5 179.7 621.5 178.9 619.9 179ZM618.5 178.1 620.2 177.9 621.5 178.9 619.9 179Z" fill="#bca1a2"/>
<path d="M621.5 179.7 623.2 179.5 623.2 178.8 621.5 178.9ZM620.2 177.9 621.8 177.8 623.2 178.8 621.5 178.9Z" fill="#bca1a2"/>
<path d="M623.2 179.5 624.8 179.4 624.8 178.6 623.2 178.8ZM621.8 177.8 623.5 177.7 624.8 178.6 623.2 178.8Z" fill="#bca1a2"/>
<path d="M624.8 179.4 626.5 179.3 626.5 178.5 624.8 178.6ZM623.5 177.7 625.1 177.5 626.5 178.5 624.8 178.6Z" fill="#bca1a2"/>
<path d="M626.5 179.3 628.1 179.1 628.1 178.4 626.5 178.5ZM625.1 177.5 626.7 177.4 628.1 178.4 626.5 178.5Z" fill="#bca1a2"/>
<path d="M628.1 179.1 629.7 179 629.7 178.2 628.1 178.4ZM626.7 177.4 628.4 177.2 629.7 178.2 628.1 178.4Z" fill="#bca1a2"/>
<path d="M629.7 179 631.4 178.8 631.4 178.1 629.7 178.2ZM628.4 177.2 630 177.1 631.4 178.1 629.7 178.2Z" fill="#bca1a2"/>
<path d="M631.4 178.8 633 178.7 633 177.9 631.4 178.1ZM630 177.1 631.6 177 633 177.9 631.4 178.1Z" fill="#bca1a2"/>
<path d="M633 178.7 634.6 178.6 634.7 177.8 633 177.9ZM631.6 177 633.2 176.8 634.7 177.8 633 177.9Z" fill="#bca1a2"/>
<path d="M634.6 178.6 636.3 178.4 636.3 177.7 634.7 177.8ZM633.2 176.8 634.9 176.7 636.3 177.7 634.7 177.8Z" fill="#bca1a2"/>
<path d="M636.3 178.4 637.9 178.3 637.9 177.5 636.3 177.7ZM634.9 176.7 636.5 176.6 637.9 177.5 636.3 177.7Z" fill="#bca1a2"/>
<path d="M637.9 178.3 639.5 178.2 639.5 177.4 637.9 177.5ZM636.5 176.6 638.1 176.4 639.5 177.4 637.9 177.5Z" fill="#bca1a2"/>
<path d="M639.5 178.2 641.1 178 641.2 177.3 639.5 177.4ZM638.1 176.4 639.7 176.3 641.2 177.3 639.5 177.4Z" fill="#bca1a2"/>
<path d="M641.1 178 642.8 177.9 642.8 177.1 641.2 177.3ZM639.7 176.3 641.3 176.2 642.8 177.1 641.2 177.3Z" fill="#bca1a2"/>
<path d="M642.8 177.9 644.4 177.8 644.4 177 642.8 177.1ZM641.3 176.2 643 176 644.4 177 642.8 177.1Z" fill="#bca1a2"/>
<path d="M657 187.4 658.6 188.4 658.6 187.6 657 186.6ZM655.3 187.5 656.9 188.6 656.9 187.8 655.3 186.7ZM653.6 187.7 655.2 188.7 655.2 187.9 653.6 186.9ZM651.9 187.8 653.5 188.9 653.5 188.1 651.9 187ZM650.2 188 651.8 189 651.8 188.2 650.2 187.2ZM648.5 188.1 650.1 189.2 650.1 188.4 648.6 187.3ZM646.8 188.3 648.4 189.3 648.4 188.5 646.9 187.5ZM645.1 188.4 646.7 189.5 646.7 188.7 645.2 187.6ZM643.4 188.6 645 189.6 645 188.8 643.5 187.8ZM641.7 188.7 643.3 189.8 643.3 189 641.8 187.9ZM640 188.9 641.6 189.9 641.6 189.1 640.1 188.1ZM638.3 189 639.8 190.1 639.9 189.3 638.3 188.2ZM636.6 189.2 638.1 190.2 638.1 189.4 636.6 188.4ZM634.9 189.3 636.4 190.4 636.4 189.6 634.9 188.5ZM633.2 189.5 634.7 190.6 634.7 189.7 633.2 188.7ZM631.5 189.6 633 190.7 633 189.9 631.5 188.8ZM629.8 189.8 631.2 190.9 631.2 190.1 629.8 189ZM628 189.9 629.5 191 629.5 190.2 628 189.1ZM626.3 190.1 627.8 191.2 627.8 190.4 626.3 189.3ZM624.6 190.2 626 191.3 626 190.5 624.6 189.4ZM622.8 190.4 624.3 191.5 624.3 190.7 622.9 189.6ZM621.1 190.5 622.6 191.6 622.6 190.8 621.1 189.7ZM619.4 190.7 620.8 191.8 620.8 191 619.4 189.9ZM617.6 190.8 619.1 191.9 619.1 191.1 617.7 190ZM615.9 191 617.3 192.1 617.3 191.3 615.9 190.2ZM614.2 191.2 615.6 192.2 615.6 191.4 614.2 190.3ZM612.4 191.3 613.8 192.4 613.8 191.6 612.4 190.5ZM610.7 191.5 612.1 192.6 612.1 191.7 610.7 190.7ZM608.9 191.6 610.3 192.7 610.3 191.9 608.9 190.8ZM607.2 191.8 608.5 192.9 608.5 192.1 607.2 191ZM605.4 191.9 606.8 193 606.8 192.1 605.4 191ZM603.6 192.1 605 193.2 605 190.6 603.7 189.5ZM601.9 192.2 603.2 193.3 603.3 186.2 602 185.1ZM600.1 192.4 601.5 193.5 601.6 179.6 600.3 178.6ZM598.3 192.5 599.7 193.7 599.9 171.5 598.6 170.5ZM596.6 192.7 597.9 193.8 598.3 160 596.9 159ZM594.8 192.9 596.1 194 596.5 153.3 595.2 152.4ZM593 193 594.3 194.1 594.8 146.4 593.5 145.5ZM591.2 193.2 592.6 194.3 593.1 134.8 591.8 134ZM589.5 193.3 590.8 194.5 591.4 119.7 590.1 118.9ZM587.7 193.5 589 194.6 589.6 116.1 588.3 115.3ZM585.9 193.6 587.2 194.8 587.8 113.6 586.5 112.9ZM584.1 193.8 585.4 194.9 586.1 103.5 584.8 102.8ZM582.3 194 583.6 195.1 584.2 111.6 582.9 110.9ZM580.5 194.1 581.8 195.2 582.3 112.1 581 111.4ZM578.7 194.3 580 195.4 580.5 117.7 579.2 116.9ZM576.9 194.4 578.2 195.6 578.6 121.9 577.3 121.1ZM575.1 194.6 576.4 195.7 576.7 129.2 575.4 128.3ZM573.3 194.8 574.5 195.9 574.8 134.3 573.6 133.5ZM571.5 194.9 572.7 196.1 573 139.3 571.7 138.5ZM569.7 195.1 570.9 196.2 571.1 145 569.9 144.1ZM567.9 195.2 569.1 196.4 569.2 150.7 568 149.7ZM566.1 195.4 567.3 196.5 567.4 154.3 566.2 153.3ZM564.2 195.6 565.4 196.7 565.5 157.1 564.3 156.2ZM562.4 195.7 563.6 196.9 563.7 160 562.5 159ZM560.6 195.9 561.8 197 561.8 162.9 560.6 161.9ZM558.8 196 559.9 197.2 560 165.7 558.8 164.7ZM556.9 196.2 558.1 197.4 558.1 167.9 557 166.9ZM555.1 196.4 556.2 197.5 556.3 170.1 555.1 169.1ZM553.3 196.5 554.4 197.7 554.4 172.3 553.3 171.2ZM551.4 196.7 552.6 197.8 552.5 174.4 551.4 173.4ZM549.6 196.9 550.7 198 550.7 176.6 549.6 175.5ZM547.7 197 548.8 198.2 548.8 178.7 547.7 177.7ZM545.9 197.2 547 198.3 547 180.5 545.8 179.4ZM544 197.3 545.1 198.5 545.1 181.7 544 180.6ZM542.2 197.5 543.3 198.7 543.2 183 542.1 181.9ZM540.3 197.7 541.4 198.8 541.4 184.2 540.3 183.1ZM538.5 197.8 539.5 199 539.5 185.5 538.4 184.4ZM536.6 198 537.7 199.2 537.6 186.8 536.5 185.6ZM534.7 198.2 535.8 199.3 535.7 188 534.7 186.9ZM532.9 198.3 533.9 199.5 533.9 189.3 532.8 188.2ZM531 198.5 532 199.7 532 190.5 530.9 189.3ZM529.1 198.7 530.1 199.8 530.1 191.3 529.1 190.1ZM527.2 198.8 528.3 200 528.2 192 527.2 190.9ZM525.4 199 526.4 200.2 526.3 192.8 525.3 191.7ZM523.5 199.2 524.5 200.3 524.4 193.6 523.4 192.5ZM521.6 199.3 522.6 200.5 522.5 194.4 521.5 193.2ZM519.7 199.5 520.7 200.7 520.6 195.2 519.7 194ZM517.8 199.7 518.8 200.8 518.7 195.9 517.8 194.8ZM515.9 199.8 516.9 201 516.8 196.7 515.9 195.6ZM514 200 515 201.2 514.9 197.5 514 196.3ZM512.1 200.2 513.1 201.4 513 198.2 512.1 197ZM510.2 200.3 511.2 201.5 511.1 198.9 510.2 197.8ZM508.3 200.5 509.2 201.7 509.2 199.8 508.3 198.7ZM506.4 200.7 507.3 201.9 507.3 201 506.4 199.8ZM504.5 200.8 505.4 202 505.4 201.2 504.5 200ZM502.6 201 503.5 202.2 503.5 201.4 502.5 200.2ZM500.6 201.2 501.5 202.4 501.5 201.5 500.6 200.3ZM498.7 201.3 499.6 202.5 499.6 201.7 498.7 200.5ZM496.8 201.5 497.7 202.7 497.7 201.9 496.8 200.7Z" fill="#1a7a1a"/>
<path d="M657 186.6 658.7 186.4 660.3 187.5 658.6 187.6ZM655.3 186.7 657 186.6 658.6 187.6 656.9 187.8ZM653.6 186.9 655.3 186.7 656.9 187.8 655.2 187.9ZM651.9 187 653.6 186.9 655.2 187.9 653.5 188.1ZM650.2 187.2 651.9 187 653.5 188.1 651.8 188.2ZM648.6 187.3 650.2 187.2 651.8 188.2 650.1 188.4ZM646.9 187.5 648.6 187.3 650.1 188.4 648.4 188.5ZM645.2 187.6 646.9 187.5 648.4 188.5 646.7 188.7ZM643.5 187.8 645.2 187.6 646.7 188.7 645 188.8ZM641.8 187.9 643.5 187.8 645 188.8 643.3 189ZM640.1 188.1 641.8 187.9 643.3 189 641.6 189.1ZM638.3 188.2 640.1 188.1 641.6 189.1 639.9 189.3ZM636.6 188.4 638.3 188.2 639.9 189.3 638.1 189.4ZM634.9 188.5 636.6 188.4 638.1 189.4 636.4 189.6ZM633.2 188.7 634.9 188.5 636.4 189.6 634.7 189.7ZM631.5 188.8 633.2 188.7 634.7 189.7 633 189.9ZM629.8 189 631.5 188.8 633 189.9 631.2 190.1ZM628 189.1 629.8 189 631.2 190.1 629.5 190.2ZM626.3 189.3 628 189.1 629.5 190.2 627.8 190.4ZM624.6 189.4 626.3 189.3 627.8 190.4 626 190.5ZM622.9 189.6 624.6 189.4 626 190.5 624.3 190.7ZM621.1 189.7 622.9 189.6 624.3 190.7 622.6 190.8ZM619.4 189.9 621.1 189.7 622.6 190.8 620.8 191ZM617.7 190 619.4 189.9 620.8 191 619.1 191.1ZM615.9 190.2 617.7 190 619.1 191.1 617.3 191.3ZM614.2 190.3 615.9 190.2 617.3 191.3 615.6 191.4ZM612.4 190.5 614.2 190.3 615.6 191.4 613.8 191.6ZM610.7 190.7 612.4 190.5 613.8 191.6 612.1 191.7ZM608.9 190.8 610.7 190.7 612.1 191.7 610.3 191.9ZM607.2 191 608.9 190.8 610.3 191.9 608.5 192.1ZM605.4 191 607.2 190.8 608.5 191.9 606.8 192.1ZM603.7 189.5 605.4 189.3 606.8 190.4 605 190.6ZM602 185.1 603.7 185 605.1 186.1 603.3 186.2ZM600.3 178.6 602 178.4 603.4 179.5 601.6 179.6ZM598.6 170.5 600.4 170.3 601.7 171.3 599.9 171.5ZM596.9 159 598.7 158.9 600 159.8 598.3 160ZM595.2 152.4 597 152.2 598.3 153.1 596.5 153.3ZM593.5 145.5 595.3 145.4 596.6 146.3 594.8 146.4ZM591.8 134 593.6 133.9 594.9 134.7 593.1 134.8ZM590.1 118.9 591.9 118.8 593.2 119.6 591.4 119.7ZM588.3 115.3 590.1 115.2 591.4 116 589.6 116.1ZM586.5 112.9 588.3 112.8 589.6 113.5 587.8 113.6ZM584.8 102.8 586.6 102.7 587.9 103.4 586.1 103.5ZM582.9 110.9 584.7 110.8 586 111.5 584.2 111.6ZM581 111.4 582.9 111.3 584.2 112 582.3 112.1ZM579.2 116.9 581 116.8 582.3 117.6 580.5 117.7ZM577.3 121.1 579.2 121 580.4 121.8 578.6 121.9ZM575.4 128.3 577.3 128.2 578.5 129 576.7 129.2ZM573.6 133.5 575.4 133.3 576.7 134.2 574.8 134.3ZM571.7 138.5 573.6 138.3 574.8 139.2 573 139.3ZM569.9 144.1 571.7 144 573 144.9 571.1 145ZM568 149.7 569.9 149.6 571.1 150.5 569.2 150.7ZM566.2 153.3 568 153.2 569.2 154.1 567.4 154.3ZM564.3 156.2 566.2 156.1 567.4 157 565.5 157.1ZM562.5 159 564.3 158.9 565.5 159.9 563.7 160ZM560.6 161.9 562.5 161.8 563.7 162.8 561.8 162.9ZM558.8 164.7 560.6 164.6 561.8 165.6 560 165.7ZM557 166.9 558.8 166.8 560 167.8 558.1 167.9ZM555.1 169.1 557 168.9 558.1 170 556.3 170.1ZM553.3 171.2 555.1 171.1 556.3 172.1 554.4 172.3ZM551.4 173.4 553.3 173.2 554.4 174.3 552.5 174.4ZM549.6 175.5 551.4 175.4 552.5 176.4 550.7 176.6ZM547.7 177.7 549.6 177.5 550.7 178.6 548.8 178.7ZM545.8 179.4 547.7 179.2 548.8 180.3 547 180.5ZM544 180.6 545.9 180.5 547 181.6 545.1 181.7ZM542.1 181.9 544 181.7 545.1 182.8 543.2 183ZM540.3 183.1 542.1 183 543.2 184.1 541.4 184.2ZM538.4 184.4 540.3 184.2 541.4 185.3 539.5 185.5ZM536.5 185.6 538.4 185.5 539.5 186.6 537.6 186.8ZM534.7 186.9 536.6 186.7 537.6 187.9 535.7 188ZM532.8 188.2 534.7 188 535.7 189.1 533.9 189.3ZM530.9 189.3 532.8 189.2 533.9 190.3 532 190.5ZM529.1 190.1 530.9 190 532 191.1 530.1 191.3ZM527.2 190.9 529.1 190.7 530.1 191.9 528.2 192ZM525.3 191.7 527.2 191.5 528.2 192.7 526.3 192.8ZM523.4 192.5 525.3 192.3 526.3 193.4 524.4 193.6ZM521.5 193.2 523.4 193.1 524.4 194.2 522.5 194.4ZM519.7 194 521.5 193.8 522.5 195 520.6 195.2ZM517.8 194.8 519.7 194.6 520.6 195.8 518.7 195.9ZM515.9 195.6 517.8 195.4 518.8 196.6 516.8 196.7ZM514 196.3 515.9 196.2 516.9 197.3 514.9 197.5ZM512.1 197 514 196.9 514.9 198 513 198.2ZM510.2 197.8 512.1 197.6 513 198.8 511.1 198.9ZM508.3 198.7 510.2 198.5 511.1 199.7 509.2 199.8ZM506.4 199.8 508.3 199.6 509.2 200.8 507.3 201ZM504.5 200 506.4 199.8 507.3 201 505.4 201.2ZM502.5 200.2 504.5 200 505.4 201.2 503.5 201.4ZM500.6 200.3 502.5 200.2 503.5 201.4 501.5 201.5ZM498.7 200.5 500.6 200.3 501.5 201.5 499.6 201.7ZM496.8 200.7 498.7 200.5 499.6 201.7 497.7 201.9Z" fill="#4a8a4a"/>
<path d="M658.6 188.4 660.2 188.3 660.3 187.5 658.6 187.6ZM656.9 188.6 658.6 188.4 658.6 187.6 656.9 187.8ZM655.2 188.7 656.9 188.6 656.9 187.8 655.2 187.9ZM653.5 188.9 655.2 188.7 655.2 187.9 653.5 188.1ZM651.8 189 653.5 188.9 653.5 188.1 651.8 188.2ZM650.1 189.2 651.8 189 651.8 188.2 650.1 188.4ZM648.4 189.3 650.1 189.2 650.1 188.4 648.4 188.5ZM646.7 189.5 648.4 189.3 648.4 188.5 646.7 188.7ZM645 189.6 646.7 189.5 646.7 188.7 645 188.8ZM643.3 189.8 645 189.6 645 188.8 643.3 189ZM641.6 189.9 643.3 189.8 643.3 189 641.6 189.1ZM639.8 190.1 641.6 189.9 641.6 189.1 639.9 189.3ZM638.1 190.2 639.8 190.1 639.9 189.3 638.1 189.4ZM636.4 190.4 638.1 190.2 638.1 189.4 636.4 189.6ZM634.7 190.6 636.4 190.4 636.4 189.6 634.7 189.7ZM633 190.7 634.7 190.6 634.7 189.7 633 189.9ZM631.2 190.9 633 190.7 633 189.9 631.2 190.1ZM629.5 191 631.2 190.9 631.2 190.1 629.5 190.2ZM627.8 191.2 629.5 191 629.5 190.2 627.8 190.4ZM626 191.3 627.8 191.2 627.8 190.4 626 190.5ZM624.3 191.5 626 191.3 626 190.5 624.3 190.7ZM622.6 191.6 624.3 191.5 624.3 190.7 622.6 190.8ZM620.8 191.8 622.6 191.6 622.6 190.8 620.8 191ZM619.1 191.9 620.8 191.8 620.8 191 619.1 191.1ZM617.3 192.1 619.1 191.9 619.1 191.1 617.3 191.3ZM615.6 192.2 617.3 192.1 617.3 191.3 615.6 191.4ZM613.8 192.4 615.6 192.2 615.6 191.4 613.8 191.6ZM612.1 192.6 613.8 192.4 613.8 191.6 612.1 191.7ZM610.3 192.7 612.1 192.6 612.1 191.7 610.3 191.9ZM608.5 192.9 610.3 192.7 610.3 191.9 608.5 192.1ZM606.8 193 608.5 192.9 608.5 191.9 606.8 192.1ZM605 193.2 606.8 193 606.8 190.4 605 190.6ZM603.2 193.3 605 193.2 605.1 186.1 603.3 186.2ZM601.5 193.5 603.2 193.3 603.4 179.5 601.6 179.6ZM599.7 193.7 601.5 193.5 601.7 171.3 599.9 171.5ZM597.9 193.8 599.7 193.7 600 159.8 598.3 160ZM596.1 194 597.9 193.8 598.3 153.1 596.5 153.3ZM594.3 194.1 596.1 194 596.6 146.3 594.8 146.4ZM592.6 194.3 594.3 194.1 594.9 134.7 593.1 134.8ZM590.8 194.5 592.6 194.3 593.2 119.6 591.4 119.7ZM589 194.6 590.8 194.5 591.4 116 589.6 116.1ZM587.2 194.8 589 194.6 589.6 113.5 587.8 113.6ZM585.4 194.9 587.2 194.8 587.9 103.4 586.1 103.5ZM583.6 195.1 585.4 194.9 586 111.5 584.2 111.6ZM581.8 195.2 583.6 195.1 584.2 112 582.3 112.1ZM580 195.4 581.8 195.2 582.3 117.6 580.5 117.7ZM578.2 195.6 580 195.4 580.4 121.8 578.6 121.9ZM576.4 195.7 578.2 195.6 578.5 129 576.7 129.2ZM574.5 195.9 576.4 195.7 576.7 134.2 574.8 134.3ZM572.7 196.1 574.5 195.9 574.8 139.2 573 139.3ZM570.9 196.2 572.7 196.1 573 144.9 571.1 145ZM569.1 196.4 570.9 196.2 571.1 150.5 569.2 150.7ZM567.3 196.5 569.1 196.4 569.2 154.1 567.4 154.3ZM565.4 196.7 567.3 196.5 567.4 157 565.5 157.1ZM563.6 196.9 565.4 196.7 565.5 159.9 563.7 160ZM561.8 197 563.6 196.9 563.7 162.8 561.8 162.9ZM559.9 197.2 561.8 197 561.8 165.6 560 165.7ZM558.1 197.4 559.9 197.2 560 167.8 558.1 167.9ZM556.2 197.5 558.1 197.4 558.1 170 556.3 170.1ZM554.4 197.7 556.2 197.5 556.3 172.1 554.4 172.3ZM552.6 197.8 554.4 197.7 554.4 174.3 552.5 174.4ZM550.7 198 552.6 197.8 552.5 176.4 550.7 176.6ZM548.8 198.2 550.7 198 550.7 178.6 548.8 178.7ZM547 198.3 548.8 198.2 548.8 180.3 547 180.5ZM545.1 198.5 547 198.3 547 181.6 545.1 181.7ZM543.3 198.7 545.1 198.5 545.1 182.8 543.2 183ZM541.4 198.8 543.3 198.7 543.2 184.1 541.4 184.2ZM539.5 199 541.4 198.8 541.4 185.3 539.5 185.5ZM537.7 199.2 539.5 199 539.5 186.6 537.6 186.8ZM535.8 199.3 537.7 199.2 537.6 187.9 535.7 188ZM533.9 199.5 535.8 199.3 535.7 189.1 533.9 189.3ZM532 199.7 533.9 199.5 533.9 190.3 532 190.5ZM530.1 199.8 532 199.7 532 191.1 530.1 191.3ZM528.3 200 530.1 199.8 530.1 191.9 528.2 192ZM526.4 200.2 528.3 200 528.2 192.7 526.3 192.8ZM524.5 200.3 526.4 200.2 526.3 193.4 524.4 193.6ZM522.6 200.5 524.5 200.3 524.4 194.2 522.5 194.4ZM520.7 200.7 522.6 200.5 522.5 195 520.6 195.2ZM518.8 200.8 520.7 200.7 520.6 195.8 518.7 195.9ZM516.9 201 518.8 200.8 518.8 196.6 516.8 196.7ZM515 201.2 516.9 201 516.9 197.3 514.9 197.5ZM513.1 201.4 515 201.2 514.9 198 513 198.2ZM511.2 201.5 513.1 201.4 513 198.8 511.1 198.9ZM509.2 201.7 511.2 201.5 511.1 199.7 509.2 199.8ZM507.3 201.9 509.2 201.7 509.2 200.8 507.3 201ZM505.4 202 507.3 201.9 507.3 201 505.4 201.2ZM503.5 202.2 505.4 202 505.4 201.2 503.5 201.4ZM501.5 202.4 503.5 202.2 503.5 201.4 501.5 201.5ZM499.6 202.5 501.5 202.4 501.5 201.5 499.6 201.7ZM497.7 202.7 499.6 202.5 499.6 201.7 497.7 201.9Z" fill="#22a622" stroke="#4c964c" stroke-width="0.45"/>
<path d="M497.7 202.7 499.6 202.5 499.6 201.7 497.7 201.9ZM496.8 200.7 498.7 200.5 499.6 201.7 497.7 201.9Z" fill="#a1baa1"/>
<path d="M499.6 202.5 501.5 202.4 501.5 201.5 499.6 201.7ZM498.7 200.5 500.6 200.3 501.5 201.5 499.6 201.7Z" fill="#a1baa1"/>
<path d="M501.5 202.4 503.5 202.2 503.5 201.4 501.5 201.5ZM500.6 200.3 502.5 200.2 503.5 201.4 501.5 201.5Z" fill="#a1baa1"/>
<path d="M503.5 202.2 505.4 202 505.4 201.2 503.5 201.4ZM502.5 200.2 504.5 200 505.4 201.2 503.5 201.4Z" fill="#a1baa1"/>
<path d="M505.4 202 507.3 201.9 507.3 201 505.4 201.2ZM504.5 200 506.4 199.8 507.3 201 505.4 201.2Z" fill="#a1baa1"/>
<path d="M507.3 201.9 509.2 201.7 509.2 200.8 507.3 201ZM506.4 199.8 508.3 199.6 509.2 200.8 507.3 201Z" fill="#a0b9a0"/>
<path d="M509.2 201.7 511.2 201.5 511.1 199.7 509.2 199.8ZM508.3 198.7 510.2 198.5 511.1 199.7 509.2 199.8Z" fill="#88b688"/>
<path d="M511.2 201.5 513.1 201.4 513 198.8 511.1 198.9ZM510.2 197.8 512.1 197.6 513 198.8 511.1 198.9Z" fill="#76b376"/>
<path d="M513.1 201.4 515 201.2 514.9 198 513 198.2ZM512.1 197 514 196.9 514.9 198 513 198.2Z" fill="#68b168"/>
<path d="M515 201.2 516.9 201 516.9 197.3 514.9 197.5ZM514 196.3 515.9 196.2 516.9 197.3 514.9 197.5Z" fill="#5aaf5a"/>
<path d="M516.9 201 518.8 200.8 518.8 196.6 516.8 196.7ZM515.9 195.6 517.8 195.4 518.8 196.6 516.8 196.7Z" fill="#4bac4b"/>
<path d="M518.8 200.8 520.7 200.7 520.6 195.8 518.7 195.9ZM517.8 194.8 519.7 194.6 520.6 195.8 518.7 195.9Z" fill="#3baa3b"/>
<path d="M520.7 200.7 522.6 200.5 522.5 195 520.6 195.2ZM519.7 194 521.5 193.8 522.5 195 520.6 195.2Z" fill="#2ca82c"/>
<path d="M605 193.2 606.8 193 606.8 190.4 605 190.6ZM603.7 189.5 605.4 189.3 606.8 190.4 605 190.6Z" fill="#73b273"/>
<path d="M606.8 193 608.5 192.9 608.5 191.9 606.8 192.1ZM605.4 191 607.2 190.8 608.5 191.9 606.8 192.1Z" fill="#9db99d"/>
<path d="M608.5 192.9 610.3 192.7 610.3 191.9 608.5 192.1ZM607.2 191 608.9 190.8 610.3 191.9 608.5 192.1Z" fill="#a1baa1"/>
<path d="M610.3 192.7 612.1 192.6 612.1 191.7 610.3 191.9ZM608.9 190.8 610.7 190.7 612.1 191.7 610.3 191.9Z" fill="#a1baa1"/>
<path d="M612.1 192.6 613.8 192.4 613.8 191.6 612.1 191.7ZM610.7 190.7 612.4 190.5 613.8 191.6 612.1 191.7Z" fill="#a1baa1"/>
<path d="M613.8 192.4 615.6 192.2 615.6 191.4 613.8 191.6ZM612.4 190.5 614.2 190.3 615.6 191.4 613.8 191.6Z" fill="#a1baa1"/>
<path d="M615.6 192.2 617.3 192.1 617.3 191.3 615.6 191.4ZM614.2 190.3 615.9 190.2 617.3 191.3 615.6 191.4Z" fill="#a1baa1"/>
<path d="M617.3 192.1 619.1 191.9 619.1 191.1 617.3 191.3ZM615.9 190.2 617.7 190 619.1 191.1 617.3 191.3Z" fill="#a1baa1"/>
<path d="M619.1 191.9 620.8 191.8 620.8 191 619.1 191.1ZM617.7 190 619.4 189.9 620.8 191 619.1 191.1Z" fill="#a1baa1"/>
<path d="M620.8 191.8 622.6 191.6 622.6 190.8 620.8 191ZM619.4 189.9 621.1 189.7 622.6 190.8 620.8 191Z" fill="#a1baa1"/>
<path d="M622.6 191.6 624.3 191.5 624.3 190.7 622.6 190.8ZM621.1 189.7 622.9 189.6 624.3 190.7 622.6 190.8Z" fill="#a1baa1"/>
<path d="M624.3 191.5 626 191.3 626 190.5 624.3 190.7ZM622.9 189.6 624.6 189.4 626 190.5 624.3 190.7Z" fill="#a1baa1"/>
<path d="M626 191.3 627.8 191.2 627.8 190.4 626 190.5ZM624.6 189.4 626.3 189.3 627.8 190.4 626 190.5Z" fill="#a1baa1"/>
<path d="M627.8 191.2 629.5 191 629.5 190.2 627.8 190.4ZM626.3 189.3 628 189.1 629.5 190.2 627.8 190.4Z" fill="#a1baa1"/>
<path d="M629.5 191 631.2 190.9 631.2 190.1 629.5 190.2ZM628 189.1 629.8 189 631.2 190.1 629.5 190.2Z" fill="#a1baa1"/>
<path d="M631.2 190.9 633 190.7 633 189.9 631.2 190.1ZM629.8 189 631.5 188.8 633 189.9 631.2 190.1Z" fill="#a1baa1"/>
<path d="M633 190.7 634.7 190.6 634.7 189.7 633 189.9ZM631.5 188.8 633.2 188.7 634.7 189.7 633 189.9Z" fill="#a1baa1"/>
<path d="M634.7 190.6 636.4 190.4 636.4 189.6 634.7 189.7ZM633.2 188.7 634.9 188.5 636.4 189.6 634.7 189.7Z" fill="#a1baa1"/>
<path d="M636.4 190.4 638.1 190.2 638.1 189.4 636.4 189.6ZM634.9 188.5 636.6 188.4 638.1 189.4 636.4 189.6Z" fill="#a1baa1"/>
<path d="M638.1 190.2 639.8 190.1 639.9 189.3 638.1 189.4ZM636.6 188.4 638.3 188.2 639.9 189.3 638.1 189.4Z" fill="#a1baa1"/>
<path d="M639.8 190.1 641.6 189.9 641.6 189.1 639.9 189.3ZM638.3 188.2 640.1 188.1 641.6 189.1 639.9 189.3Z" fill="#a1baa1"/>
<path d="M641.6 189.9 643.3 189.8 643.3 189 641.6 189.1ZM640.1 188.1 641.8 187.9 643.3 189 641.6 189.1Z" fill="#a1baa1"/>
<path d="M643.3 189.8 645 189.6 645 188.8 643.3 189ZM641.8 187.9 643.5 187.8 645 188.8 643.3 189Z" fill="#a1baa1"/>
<path d="M645 189.6 646.7 189.5 646.7 188.7 645 188.8ZM643.5 187.8 645.2 187.6 646.7 188.7 645 188.8Z" fill="#a1baa1"/>
<path d="M646.7 189.5 648.4 189.3 648.4 188.5 646.7 188.7ZM645.2 187.6 646.9 187.5 648.4 188.5 646.7 188.7Z" fill="#a1baa1"/>
<path d="M648.4 189.3 650.1 189.2 650.1 188.4 648.4 188.5ZM646.9 187.5 648.6 187.3 650.1 188.4 648.4 188.5Z" fill="#a1baa1"/>
<path d="M650.1 189.2 651.8 189 651.8 188.2 650.1 188.4ZM648.6 187.3 650.2 187.2 651.8 188.2 650.1 188.4Z" fill="#a1baa1"/>
<path d="M651.8 189 653.5 188.9 653.5 188.1 651.8 188.2ZM650.2 187.2 651.9 187 653.5 188.1 651.8 188.2Z" fill="#a1baa1"/>
<path d="M653.5 188.9 655.2 188.7 655.2 187.9 653.5 188.1ZM651.9 187 653.6 186.9 655.2 187.9 653.5 188.1Z" fill="#a1baa1"/>
<path d="M655.2 188.7 656.9 188.6 656.9 187.8 655.2 187.9ZM653.6 186.9 655.3 186.7 656.9 187.8 655.2 187.9Z" fill="#a1baa1"/>
<path d="M656.9 188.6 658.6 188.4 658.6 187.6 656.9 187.8ZM655.3 186.7 657 186.6 658.6 187.6 656.9 187.8Z" fill="#a1baa1"/>
<path d="M658.6 188.4 660.2 188.3 660.3 187.5 658.6 187.6ZM657 186.6 658.7 186.4 660.3 187.5 658.6 187.6Z" fill="#a1baa1"/>
<path d="M674.2 198.9 676 200.1 676 198.8 674.3 197.6ZM672.5 199.1 674.2 200.2 674.3 198.9 672.5 197.8ZM670.7 199.2 672.5 200.4 672.5 199.1 670.8 197.9ZM669 199.4 670.7 200.6 670.7 199.2 669 198ZM667.2 199.6 668.9 200.7 669 199.3 667.2 198.1ZM665.4 199.7 667.2 200.9 667.2 199.4 665.5 198.3ZM663.7 199.9 665.4 201.1 665.4 199.5 663.7 198.4ZM661.9 200.1 663.6 201.2 663.6 199.7 661.9 198.5ZM660.1 200.2 661.8 201.4 661.9 199.8 660.2 198.6ZM658.3 200.4 660 201.6 660.1 199.9 658.4 198.7ZM656.6 200.6 658.2 201.7 658.3 200 656.6 198.9ZM654.8 200.7 656.4 201.9 656.5 200.2 654.8 199ZM653 200.9 654.7 202.1 654.7 200.3 653 199.1ZM651.2 201.1 652.9 202.3 652.9 200.4 651.2 199.2ZM649.4 201.2 651.1 202.4 651.1 200.6 649.5 199.4ZM647.6 201.4 649.3 202.6 649.3 200.7 647.7 199.5ZM645.8 201.6 647.4 202.8 647.5 200.8 645.9 199.6ZM644 201.7 645.6 202.9 645.7 200.9 644.1 199.7ZM642.2 201.9 643.8 203.1 643.9 201.1 642.3 199.9ZM640.4 202.1 642 203.3 642.1 201.2 640.5 200ZM638.6 202.3 640.2 203.5 640.3 198.3 638.7 197.1ZM636.8 202.4 638.4 203.6 638.5 197.5 636.9 196.3ZM635 202.6 636.6 203.8 636.6 200.1 635 198.9ZM633.2 202.8 634.7 204 634.8 201.8 633.2 200.6ZM631.3 202.9 632.9 204.1 632.9 202 631.4 200.8ZM629.5 203.1 631.1 204.3 631.1 202.2 629.5 201ZM627.7 203.3 629.2 204.5 629.3 202.4 627.7 201.2ZM625.9 203.4 627.4 204.7 627.4 202.5 625.9 201.3ZM624 203.6 625.6 204.8 625.6 202.7 624.1 201.5ZM622.2 203.8 623.7 205 623.7 202.9 622.2 201.7ZM620.3 204 621.9 205.2 621.9 203.1 620.4 201.8ZM618.5 204.1 620 205.4 620.1 203.2 618.5 202ZM616.7 204.3 618.2 205.5 618.2 203.3 616.7 202.1ZM614.8 204.5 616.3 205.7 616.4 201.8 614.9 200.6ZM613 204.7 614.5 205.9 614.5 199.2 613.1 198ZM611.1 204.8 612.6 206.1 612.8 193.5 611.3 192.3ZM609.3 205 610.7 206.2 611 185.6 609.5 184.5ZM607.4 205.2 608.9 206.4 609.1 185.9 607.7 184.8ZM605.5 205.4 607 206.6 607.3 183.2 605.8 182.1ZM603.7 205.5 605.1 206.8 605.4 180 604 178.9ZM601.8 205.7 603.2 207 603.6 177 602.1 175.9ZM599.9 205.9 601.4 207.1 601.6 181.5 600.2 180.4ZM598.1 206.1 599.5 207.3 599.8 181.5 598.3 180.3ZM596.2 206.2 597.6 207.5 597.8 184.6 596.4 183.5ZM594.3 206.4 595.7 207.7 595.9 187.1 594.5 185.9ZM592.4 206.6 593.8 207.8 594 186.7 592.6 185.5ZM590.5 206.8 591.9 208 592.1 189 590.7 187.8ZM588.6 207 590 208.2 590.2 192.2 588.8 191ZM586.8 207.1 588.1 208.4 588.3 191 586.9 189.8ZM584.9 207.3 586.2 208.6 586.3 192.4 585 191.2ZM583 207.5 584.3 208.7 584.4 191.7 583.1 190.5ZM581.1 207.7 582.4 208.9 582.5 193.8 581.2 192.7ZM579.2 207.8 580.5 209.1 580.6 192.7 579.3 191.5ZM577.2 208 578.6 209.3 578.6 196.1 577.3 194.9ZM575.3 208.2 576.6 209.5 576.7 196.7 575.4 195.5ZM573.4 208.4 574.7 209.7 574.8 195.6 573.5 194.4ZM571.5 208.6 572.8 209.8 572.9 198.9 571.6 197.7ZM569.6 208.7 570.9 210 570.9 199.4 569.6 198.2ZM567.7 208.9 568.9 210.2 569 198.6 567.7 197.4ZM565.7 209.1 567 210.4 567 199.5 565.8 198.2ZM563.8 209.3 565.1 210.6 565.1 200.8 563.8 199.6ZM561.9 209.5 563.1 210.8 563.1 201.1 561.9 199.9ZM559.9 209.7 561.2 210.9 561.2 202.6 559.9 201.3ZM558 209.8 559.2 211.1 559.2 202.8 558 201.5ZM556.1 210 557.3 211.3 557.3 203.5 556.1 202.2ZM554.1 210.2 555.3 211.5 555.3 203.9 554.1 202.7ZM552.2 210.4 553.4 211.7 553.4 204.4 552.2 203.2ZM550.2 210.6 551.4 211.9 551.4 204.9 550.2 203.7ZM548.3 210.8 549.4 212 549.4 205.4 548.2 204.1ZM546.3 210.9 547.5 212.2 547.5 205.9 546.3 204.6ZM544.3 211.1 545.5 212.4 545.5 206.4 544.3 205.1ZM542.4 211.3 543.5 212.6 543.5 206.9 542.4 205.6ZM540.4 211.5 541.6 212.8 541.5 207.4 540.4 206.1ZM538.4 211.7 539.6 213 539.6 207.9 538.4 206.6ZM536.5 211.9 537.6 213.2 537.6 208.3 536.4 207.1ZM534.5 212 535.6 213.4 535.6 208.8 534.5 207.5ZM532.5 212.2 533.6 213.5 533.6 209.3 532.5 208ZM530.5 212.4 531.6 213.7 531.6 209.8 530.5 208.5ZM528.5 212.6 529.6 213.9 529.6 210.2 528.5 208.9ZM526.5 212.8 527.6 214.1 527.6 210.5 526.5 209.2ZM524.5 213 525.6 214.3 525.6 210.9 524.5 209.6ZM522.5 213.2 523.6 214.5 523.6 211.3 522.5 209.9ZM520.5 213.4 521.6 214.7 521.6 211.6 520.5 210.3ZM518.5 213.5 519.6 214.9 519.6 212 518.5 210.7ZM516.5 213.7 517.6 215.1 517.5 212.4 516.5 211ZM514.5 213.9 515.5 215.3 515.5 212.7 514.5 211.4ZM512.5 214.1 513.5 215.4 513.5 213.1 512.5 211.8ZM510.5 214.3 511.5 215.6 511.5 213.5 510.5 212.1ZM508.5 214.5 509.5 215.8 509.4 213.8 508.4 212.5ZM506.4 214.7 507.4 216 507.4 214.2 506.4 212.9Z" fill="#1a1a9a"/>
<path d="M674.3 197.6 676 197.5 677.8 198.6 676 198.8ZM672.5 197.8 674.3 197.6 676 198.8 674.3 198.9ZM670.8 197.9 672.5 197.7 674.3 198.9 672.5 199.1ZM669 198 670.8 197.8 672.5 199 670.7 199.2ZM667.2 198.1 669 198 670.7 199.1 669 199.3ZM665.5 198.3 667.2 198.1 669 199.3 667.2 199.4ZM663.7 198.4 665.5 198.2 667.2 199.4 665.4 199.5ZM661.9 198.5 663.7 198.3 665.4 199.5 663.6 199.7ZM660.2 198.6 661.9 198.5 663.6 199.6 661.9 199.8ZM658.4 198.7 660.2 198.6 661.9 199.8 660.1 199.9ZM656.6 198.9 658.4 198.7 660.1 199.9 658.3 200ZM654.8 199 656.6 198.8 658.3 200 656.5 200.2ZM653 199.1 654.8 198.9 656.5 200.1 654.7 200.3ZM651.2 199.2 653 199.1 654.7 200.3 652.9 200.4ZM649.5 199.4 651.2 199.2 652.9 200.4 651.1 200.6ZM647.7 199.5 649.5 199.3 651.1 200.5 649.3 200.7ZM645.9 199.6 647.7 199.4 649.3 200.6 647.5 200.8ZM644.1 199.7 645.9 199.6 647.5 200.8 645.7 200.9ZM642.3 199.9 644.1 199.7 645.7 200.9 643.9 201.1ZM640.5 200 642.3 199.8 643.9 201 642.1 201.2ZM638.7 197.1 640.5 196.9 642.1 198.1 640.3 198.3ZM636.9 196.3 638.7 196.2 640.3 197.3 638.5 197.5ZM635 198.9 636.9 198.7 638.5 199.9 636.6 200.1ZM633.2 200.6 635 200.5 636.6 201.7 634.8 201.8ZM631.4 200.8 633.2 200.6 634.8 201.8 632.9 202ZM629.5 201 631.4 200.8 632.9 202 631.1 202.2ZM627.7 201.2 629.5 201 631.1 202.2 629.3 202.4ZM625.9 201.3 627.7 201.2 629.3 202.4 627.4 202.5ZM624.1 201.5 625.9 201.3 627.4 202.5 625.6 202.7ZM622.2 201.7 624.1 201.5 625.6 202.7 623.7 202.9ZM620.4 201.8 622.2 201.7 623.7 202.9 621.9 203.1ZM618.5 202 620.4 201.8 621.9 203.1 620.1 203.2ZM616.7 202.1 618.5 201.9 620.1 203.2 618.2 203.3ZM614.9 200.6 616.7 200.4 618.2 201.6 616.4 201.8ZM613.1 198 614.9 197.8 616.4 199 614.5 199.2ZM611.3 192.3 613.1 192.1 614.6 193.3 612.8 193.5ZM609.5 184.5 611.4 184.3 612.9 185.5 611 185.6ZM607.7 184.8 609.5 184.6 611 185.8 609.1 185.9ZM605.8 182.1 607.7 181.9 609.2 183 607.3 183.2ZM604 178.9 605.9 178.7 607.3 179.8 605.4 180ZM602.1 175.9 604 175.8 605.5 176.9 603.6 177ZM600.2 180.4 602.1 180.2 603.5 181.3 601.6 181.5ZM598.3 180.3 600.2 180.2 601.7 181.3 599.8 181.5ZM596.4 183.5 598.3 183.3 599.7 184.5 597.8 184.6ZM594.5 185.9 596.4 185.8 597.8 186.9 595.9 187.1ZM592.6 185.5 594.5 185.4 595.9 186.5 594 186.7ZM590.7 187.8 592.6 187.7 594 188.8 592.1 189ZM588.8 191 590.7 190.9 592.1 192 590.2 192.2ZM586.9 189.8 588.8 189.6 590.2 190.8 588.3 191ZM585 191.2 586.9 191 588.3 192.2 586.3 192.4ZM583.1 190.5 585 190.4 586.3 191.6 584.4 191.7ZM581.2 192.7 583.1 192.5 584.4 193.7 582.5 193.8ZM579.3 191.5 581.2 191.4 582.5 192.6 580.6 192.7ZM577.3 194.9 579.2 194.7 580.6 195.9 578.6 196.1ZM575.4 195.5 577.3 195.4 578.6 196.6 576.7 196.7ZM573.5 194.4 575.4 194.3 576.7 195.5 574.8 195.6ZM571.6 197.7 573.5 197.5 574.8 198.7 572.9 198.9ZM569.6 198.2 571.5 198 572.8 199.3 570.9 199.4ZM567.7 197.4 569.6 197.2 570.9 198.4 569 198.6ZM565.8 198.2 567.7 198.1 569 199.3 567 199.5ZM563.8 199.6 565.8 199.4 567 200.6 565.1 200.8ZM561.9 199.9 563.8 199.7 565.1 201 563.1 201.1ZM559.9 201.3 561.9 201.1 563.1 202.4 561.2 202.6ZM558 201.5 559.9 201.3 561.2 202.6 559.2 202.8ZM556.1 202.2 558 202 559.2 203.3 557.3 203.5ZM554.1 202.7 556.1 202.5 557.3 203.8 555.3 203.9ZM552.2 203.2 554.1 203 555.3 204.3 553.4 204.4ZM550.2 203.7 552.2 203.5 553.4 204.7 551.4 204.9ZM548.2 204.1 550.2 204 551.4 205.2 549.4 205.4ZM546.3 204.6 548.2 204.4 549.4 205.7 547.5 205.9ZM544.3 205.1 546.3 204.9 547.5 206.2 545.5 206.4ZM542.4 205.6 544.3 205.4 545.5 206.7 543.5 206.9ZM540.4 206.1 542.4 205.9 543.5 207.2 541.5 207.4ZM538.4 206.6 540.4 206.4 541.5 207.7 539.6 207.9ZM536.4 207.1 538.4 206.9 539.6 208.2 537.6 208.3ZM534.5 207.5 536.4 207.4 537.6 208.7 535.6 208.8ZM532.5 208 534.5 207.9 535.6 209.1 533.6 209.3ZM530.5 208.5 532.5 208.3 533.6 209.6 531.6 209.8ZM528.5 208.9 530.5 208.7 531.6 210 529.6 210.2ZM526.5 209.2 528.5 209 529.6 210.3 527.6 210.5ZM524.5 209.6 526.5 209.4 527.6 210.7 525.6 210.9ZM522.5 209.9 524.5 209.8 525.6 211.1 523.6 211.3ZM520.5 210.3 522.5 210.1 523.6 211.4 521.6 211.6ZM518.5 210.7 520.5 210.5 521.6 211.8 519.6 212ZM516.5 211 518.5 210.9 519.6 212.2 517.5 212.4ZM514.5 211.4 516.5 211.2 517.5 212.5 515.5 212.7ZM512.5 211.8 514.5 211.6 515.5 212.9 513.5 213.1ZM510.5 212.1 512.5 212 513.5 213.3 511.5 213.5ZM508.4 212.5 510.5 212.3 511.5 213.6 509.4 213.8ZM506.4 212.9 508.4 212.7 509.4 214 507.4 214.2Z" fill="#4a4a9a"/>
<path d="M676 200.1 677.8 199.9 677.8 198.6 676 198.8ZM674.2 200.2 676 200.1 676 198.8 674.3 198.9ZM672.5 200.4 674.2 200.2 674.3 198.9 672.5 199.1ZM670.7 200.6 672.5 200.4 672.5 199 670.7 199.2ZM668.9 200.7 670.7 200.6 670.7 199.1 669 199.3ZM667.2 200.9 668.9 200.7 669 199.3 667.2 199.4ZM665.4 201.1 667.2 200.9 667.2 199.4 665.4 199.5ZM663.6 201.2 665.4 201.1 665.4 199.5 663.6 199.7ZM661.8 201.4 663.6 201.2 663.6 199.6 661.9 199.8ZM660 201.6 661.8 201.4 661.9 199.8 660.1 199.9ZM658.2 201.7 660 201.6 660.1 199.9 658.3 200ZM656.4 201.9 658.2 201.7 658.3 200 656.5 200.2ZM654.7 202.1 656.4 201.9 656.5 200.1 654.7 200.3ZM652.9 202.3 654.7 202.1 654.7 200.3 652.9 200.4ZM651.1 202.4 652.9 202.3 652.9 200.4 651.1 200.6ZM649.3 202.6 651.1 202.4 651.1 200.5 649.3 200.7ZM647.4 202.8 649.3 202.6 649.3 200.6 647.5 200.8ZM645.6 202.9 647.4 202.8 647.5 200.8 645.7 200.9ZM643.8 203.1 645.6 202.9 645.7 200.9 643.9 201.1ZM642 203.3 643.8 203.1 643.9 201 642.1 201.2ZM640.2 203.5 642 203.3 642.1 198.1 640.3 198.3ZM638.4 203.6 640.2 203.5 640.3 197.3 638.5 197.5ZM636.6 203.8 638.4 203.6 638.5 199.9 636.6 200.1ZM634.7 204 636.6 203.8 636.6 201.7 634.8 201.8ZM632.9 204.1 634.7 204 634.8 201.8 632.9 202ZM631.1 204.3 632.9 204.1 632.9 202 631.1 202.2ZM629.2 204.5 631.1 204.3 631.1 202.2 629.3 202.4ZM627.4 204.7 629.2 204.5 629.3 202.4 627.4 202.5ZM625.6 204.8 627.4 204.7 627.4 202.5 625.6 202.7ZM623.7 205 625.6 204.8 625.6 202.7 623.7 202.9ZM621.9 205.2 623.7 205 623.7 202.9 621.9 203.1ZM620 205.4 621.9 205.2 621.9 203.1 620.1 203.2ZM618.2 205.5 620 205.4 620.1 203.2 618.2 203.3ZM616.3 205.7 618.2 205.5 618.2 201.6 616.4 201.8ZM614.5 205.9 616.3 205.7 616.4 199 614.5 199.2ZM612.6 206.1 614.5 205.9 614.6 193.3 612.8 193.5ZM610.7 206.2 612.6 206.1 612.9 185.5 611 185.6ZM608.9 206.4 610.7 206.2 611 185.8 609.1 185.9ZM607 206.6 608.9 206.4 609.2 183 607.3 183.2ZM605.1 206.8 607 206.6 607.3 179.8 605.4 180ZM603.2 207 605.1 206.8 605.5 176.9 603.6 177ZM601.4 207.1 603.2 207 603.5 181.3 601.6 181.5ZM599.5 207.3 601.4 207.1 601.7 181.3 599.8 181.5ZM597.6 207.5 599.5 207.3 599.7 184.5 597.8 184.6ZM595.7 207.7 597.6 207.5 597.8 186.9 595.9 187.1ZM593.8 207.8 595.7 207.7 595.9 186.5 594 186.7ZM591.9 208 593.8 207.8 594 188.8 592.1 189ZM590 208.2 591.9 208 592.1 192 590.2 192.2ZM588.1 208.4 590 208.2 590.2 190.8 588.3 191ZM586.2 208.6 588.1 208.4 588.3 192.2 586.3 192.4ZM584.3 208.7 586.2 208.6 586.3 191.6 584.4 191.7ZM582.4 208.9 584.3 208.7 584.4 193.7 582.5 193.8ZM580.5 209.1 582.4 208.9 582.5 192.6 580.6 192.7ZM578.6 209.3 580.5 209.1 580.6 195.9 578.6 196.1ZM576.6 209.5 578.6 209.3 578.6 196.6 576.7 196.7ZM574.7 209.7 576.6 209.5 576.7 195.5 574.8 195.6ZM572.8 209.8 574.7 209.7 574.8 198.7 572.9 198.9ZM570.9 210 572.8 209.8 572.8 199.3 570.9 199.4ZM568.9 210.2 570.9 210 570.9 198.4 569 198.6ZM567 210.4 568.9 210.2 569 199.3 567 199.5ZM565.1 210.6 567 210.4 567 200.6 565.1 200.8ZM563.1 210.8 565.1 210.6 565.1 201 563.1 201.1ZM561.2 210.9 563.1 210.8 563.1 202.4 561.2 202.6ZM559.2 211.1 561.2 210.9 561.2 202.6 559.2 202.8ZM557.3 211.3 559.2 211.1 559.2 203.3 557.3 203.5ZM555.3 211.5 557.3 211.3 557.3 203.8 555.3 203.9ZM553.4 211.7 555.3 211.5 555.3 204.3 553.4 204.4ZM551.4 211.9 553.4 211.7 553.4 204.7 551.4 204.9ZM549.4 212 551.4 211.9 551.4 205.2 549.4 205.4ZM547.5 212.2 549.4 212 549.4 205.7 547.5 205.9ZM545.5 212.4 547.5 212.2 547.5 206.2 545.5 206.4ZM543.5 212.6 545.5 212.4 545.5 206.7 543.5 206.9ZM541.6 212.8 543.5 212.6 543.5 207.2 541.5 207.4ZM539.6 213 541.6 212.8 541.5 207.7 539.6 207.9ZM537.6 213.2 539.6 213 539.6 208.2 537.6 208.3ZM535.6 213.4 537.6 213.2 537.6 208.7 535.6 208.8ZM533.6 213.5 535.6 213.4 535.6 209.1 533.6 209.3ZM531.6 213.7 533.6 213.5 533.6 209.6 531.6 209.8ZM529.6 213.9 531.6 213.7 531.6 210 529.6 210.2ZM527.6 214.1 529.6 213.9 529.6 210.3 527.6 210.5ZM525.6 214.3 527.6 214.1 527.6 210.7 525.6 210.9ZM523.6 214.5 525.6 214.3 525.6 211.1 523.6 211.3ZM521.6 214.7 523.6 214.5 523.6 211.4 521.6 211.6ZM519.6 214.9 521.6 214.7 521.6 211.8 519.6 212ZM517.6 215.1 519.6 214.9 519.6 212.2 517.5 212.4ZM515.5 215.3 517.6 215.1 517.5 212.5 515.5 212.7ZM513.5 215.4 515.5 215.3 515.5 212.9 513.5 213.1ZM511.5 215.6 513.5 215.4 513.5 213.3 511.5 213.5ZM509.5 215.8 511.5 215.6 511.5 213.6 509.4 213.8ZM507.4 216 509.5 215.8 509.4 214 507.4 214.2Z" fill="#2222d6" stroke="#4a4abc" stroke-width="0.45"/>
<path d="M693.4 211.7 695.3 213 695.4 211.4 693.4 210.1ZM691.6 211.9 693.5 213.2 693.6 211.6 691.6 210.3ZM689.7 212 691.7 213.4 691.7 211.8 689.8 210.5ZM687.9 212.2 689.8 213.5 689.9 212 687.9 210.7ZM686 212.4 688 213.7 688 212.2 686.1 210.9ZM684.2 212.6 686.1 213.9 686.1 212.4 684.2 211.1ZM682.3 212.8 684.2 214.1 684.3 212.6 682.4 211.3ZM680.5 213 682.4 214.3 682.4 212.7 680.5 211.4ZM678.6 213.2 680.5 214.5 680.6 212.9 678.7 211.6ZM676.8 213.4 678.6 214.7 678.7 213.1 676.8 211.8ZM674.9 213.5 676.8 214.9 676.8 213.3 674.9 212ZM673 213.7 674.9 215.1 674.9 213.5 673.1 212.2ZM671.2 213.9 673 215.2 673.1 213.7 671.2 212.4ZM669.3 214.1 671.1 215.4 671.2 213.9 669.3 212.6ZM667.4 214.3 669.3 215.6 669.3 214.1 667.5 212.7ZM665.5 214.5 667.4 215.8 667.4 214.3 665.6 212.9ZM663.7 214.7 665.5 216 665.5 214.4 663.7 213.1ZM661.8 214.9 663.6 216.2 663.6 214.6 661.8 213.3ZM659.9 215.1 661.7 216.4 661.7 214.8 659.9 213.5ZM658 215.2 659.8 216.6 659.8 215 658 213.7ZM656.1 215.4 657.9 216.8 657.9 215.2 656.1 213.9ZM654.2 215.6 656 217 656 215.4 654.2 214.1ZM652.3 215.8 654.1 217.2 654.1 215.5 652.3 214.2ZM650.4 216 652.1 217.4 652.2 214.3 650.5 213ZM648.5 216.2 650.2 217.5 650.3 212.7 648.6 211.4ZM646.6 216.4 648.3 217.7 648.5 210.1 646.7 208.8ZM644.7 216.6 646.4 217.9 646.5 211.9 644.8 210.6ZM642.7 216.8 644.5 218.1 644.6 211.3 642.9 210ZM640.8 217 642.5 218.3 642.7 208.8 641 207.5ZM638.9 217.2 640.6 218.5 640.8 209.7 639.1 208.4ZM637 217.4 638.7 218.7 638.8 210.2 637.1 208.9ZM635 217.5 636.7 218.9 637 207.3 635.3 206ZM633.1 217.7 634.8 219.1 635.1 202.1 633.4 200.8ZM631.2 217.9 632.8 219.3 633.3 197.3 631.6 196ZM629.2 218.1 630.9 219.5 631.4 191.9 629.7 190.7ZM627.3 218.3 628.9 219.7 629.5 187.4 627.8 186.2ZM625.3 218.5 627 219.9 627.6 184.6 625.9 183.4ZM623.4 218.7 625 220.1 625.6 184 624 182.8ZM621.4 218.9 623.1 220.3 623.7 183.1 622 181.9ZM619.5 219.1 621.1 220.5 621.7 183.4 620.1 182.2ZM617.5 219.3 619.1 220.7 619.6 187.9 618 186.7ZM615.6 219.5 617.2 220.9 617.7 185.9 616.1 184.7ZM613.6 219.7 615.2 221.1 615.7 188 614.1 186.8ZM611.6 219.9 613.2 221.3 613.7 188.9 612.1 187.7ZM609.7 220.1 611.2 221.5 611.6 193.7 610 192.4ZM607.7 220.3 609.2 221.7 609.5 198 608 196.7ZM605.7 220.5 607.2 221.9 607.5 200.1 606 198.8ZM603.7 220.7 605.2 222.1 605.5 201.7 604 200.4ZM601.7 220.9 603.3 222.3 603.4 205.5 601.9 204.2ZM599.7 221.1 601.3 222.5 601.4 207.6 599.9 206.3ZM597.7 221.3 599.2 222.7 599.4 208.3 597.9 207ZM595.7 221.5 597.2 222.9 597.4 209.8 595.9 208.4ZM593.7 221.7 595.2 223.1 595.3 211.2 593.9 209.8ZM591.7 221.9 593.2 223.3 593.3 212.6 591.8 211.3ZM589.7 222.1 591.2 223.5 591.3 214.1 589.8 212.7ZM587.7 222.3 589.2 223.7 589.3 215.3 587.8 213.9ZM585.7 222.5 587.2 223.9 587.2 216.1 585.8 214.7ZM583.7 222.7 585.1 224.1 585.2 216.9 583.7 215.5ZM581.7 222.9 583.1 224.3 583.1 217.8 581.7 216.4ZM579.6 223.1 581.1 224.6 581.1 218.6 579.7 217.2ZM577.6 223.3 579 224.8 579.1 219.5 577.6 218.1ZM575.6 223.5 577 225 577 220.3 575.6 218.9ZM573.5 223.7 574.9 225.2 575 221.1 573.6 219.7ZM571.5 223.9 572.9 225.4 572.9 221.7 571.5 220.3ZM569.5 224.1 570.8 225.6 570.9 222.1 569.5 220.6ZM567.4 224.4 568.8 225.8 568.8 222.4 567.4 221ZM565.4 224.6 566.7 226 566.7 222.7 565.4 221.3ZM563.3 224.8 564.7 226.2 564.7 223 563.3 221.6ZM561.3 225 562.6 226.4 562.6 223.4 561.3 221.9ZM559.2 225.2 560.5 226.6 560.5 223.7 559.2 222.3ZM557.1 225.4 558.4 226.8 558.4 224 557.1 222.6ZM555.1 225.6 556.4 227.1 556.4 224.3 555.1 222.9ZM553 225.8 554.3 227.3 554.3 224.7 553 223.2ZM550.9 226 552.2 227.5 552.2 225 550.9 223.6ZM548.8 226.2 550.1 227.7 550.1 225.3 548.8 223.9ZM546.8 226.4 548 227.9 548 225.6 546.8 224.1ZM544.7 226.6 545.9 228.1 545.9 225.8 544.7 224.3ZM542.6 226.9 543.8 228.3 543.8 226 542.6 224.5ZM540.5 227.1 541.7 228.5 541.7 226.2 540.5 224.7ZM538.4 227.3 539.6 228.8 539.6 226.4 538.4 224.9ZM536.3 227.5 537.5 229 537.5 226.6 536.3 225.2ZM534.2 227.7 535.4 229.2 535.4 226.8 534.2 225.4ZM532.1 227.9 533.3 229.4 533.3 227 532.1 225.6ZM530 228.1 531.1 229.6 531.1 227.3 530 225.8ZM527.9 228.3 529 229.8 529 227.5 527.8 226ZM525.7 228.5 526.9 230 526.9 227.7 525.7 226.2ZM523.6 228.8 524.8 230.3 524.7 227.9 523.6 226.4ZM521.5 229 522.6 230.5 522.6 228.1 521.5 226.6ZM519.4 229.2 520.5 230.7 520.5 228.3 519.3 226.8ZM517.2 229.4 518.3 230.9 518.3 228.5 517.2 227.1Z" fill="#1a9494"/>
<path d="M693.4 210.1 695.3 210 697.2 211.3 695.4 211.4ZM691.6 210.3 693.4 210.1 695.4 211.4 693.6 211.6ZM689.8 210.5 691.6 210.3 693.6 211.6 691.7 211.8ZM687.9 210.7 689.8 210.5 691.7 211.8 689.9 212ZM686.1 210.9 687.9 210.7 689.9 212 688 212.2ZM684.2 211.1 686.1 210.9 688 212.2 686.1 212.4ZM682.4 211.3 684.2 211.1 686.1 212.4 684.3 212.6ZM680.5 211.4 682.4 211.3 684.3 212.6 682.4 212.7ZM678.7 211.6 680.5 211.4 682.4 212.7 680.6 212.9ZM676.8 211.8 678.7 211.6 680.6 212.9 678.7 213.1ZM674.9 212 676.8 211.8 678.7 213.1 676.8 213.3ZM673.1 212.2 674.9 212 676.8 213.3 674.9 213.5ZM671.2 212.4 673.1 212.2 674.9 213.5 673.1 213.7ZM669.3 212.6 671.2 212.4 673.1 213.7 671.2 213.9ZM667.5 212.7 669.3 212.6 671.2 213.9 669.3 214.1ZM665.6 212.9 667.5 212.7 669.3 214.1 667.4 214.3ZM663.7 213.1 665.6 212.9 667.4 214.3 665.5 214.4ZM661.8 213.3 663.7 213.1 665.5 214.4 663.6 214.6ZM659.9 213.5 661.8 213.3 663.6 214.6 661.7 214.8ZM658 213.7 659.9 213.5 661.7 214.8 659.8 215ZM656.1 213.9 658 213.7 659.8 215 657.9 215.2ZM654.2 214.1 656.1 213.9 657.9 215.2 656 215.4ZM652.3 214.2 654.2 214 656 215.3 654.1 215.5ZM650.5 213 652.4 212.8 654.1 214.1 652.2 214.3ZM648.6 211.4 650.5 211.2 652.3 212.5 650.3 212.7ZM646.7 208.8 648.7 208.6 650.4 209.9 648.5 210.1ZM644.8 210.6 646.7 210.4 648.4 211.7 646.5 211.9ZM642.9 210 644.8 209.8 646.5 211.1 644.6 211.3ZM641 207.5 642.9 207.3 644.7 208.6 642.7 208.8ZM639.1 208.4 641 208.2 642.7 209.6 640.8 209.7ZM637.1 208.9 639.1 208.7 640.8 210 638.8 210.2ZM635.3 206 637.2 205.8 638.9 207.1 637 207.3ZM633.4 200.8 635.4 200.6 637.1 201.9 635.1 202.1ZM631.6 196 633.5 195.8 635.2 197.1 633.3 197.3ZM629.7 190.7 631.7 190.5 633.4 191.7 631.4 191.9ZM627.8 186.2 629.8 186 631.5 187.2 629.5 187.4ZM625.9 183.4 627.9 183.2 629.6 184.4 627.6 184.6ZM624 182.8 626 182.6 627.6 183.8 625.6 184ZM622 181.9 624 181.7 625.7 182.9 623.7 183.1ZM620.1 182.2 622 182 623.7 183.2 621.7 183.4ZM618 186.7 620 186.5 621.6 187.8 619.6 187.9ZM616.1 184.7 618 184.5 619.7 185.7 617.7 185.9ZM614.1 186.8 616 186.6 617.6 187.8 615.7 188ZM612.1 187.7 614 187.5 615.6 188.8 613.7 188.9ZM610 192.4 612 192.2 613.6 193.5 611.6 193.7ZM608 196.7 610 196.5 611.5 197.8 609.5 198ZM606 198.8 607.9 198.7 609.5 200 607.5 200.1ZM604 200.4 605.9 200.3 607.5 201.6 605.5 201.7ZM601.9 204.2 603.9 204 605.5 205.4 603.4 205.5ZM599.9 206.3 601.9 206.1 603.4 207.4 601.4 207.6ZM597.9 207 599.9 206.8 601.4 208.1 599.4 208.3ZM595.9 208.4 597.9 208.2 599.4 209.6 597.4 209.8ZM593.9 209.8 595.9 209.6 597.4 211 595.3 211.2ZM591.8 211.3 593.8 211.1 595.3 212.4 593.3 212.6ZM589.8 212.7 591.8 212.5 593.3 213.9 591.3 214.1ZM587.8 213.9 589.8 213.7 591.3 215.1 589.3 215.3ZM585.8 214.7 587.8 214.5 589.2 215.9 587.2 216.1ZM583.7 215.5 585.8 215.3 587.2 216.7 585.2 216.9ZM581.7 216.4 583.7 216.2 585.2 217.6 583.1 217.8ZM579.7 217.2 581.7 217 583.1 218.4 581.1 218.6ZM577.6 218.1 579.7 217.9 581.1 219.3 579.1 219.5ZM575.6 218.9 577.6 218.7 579.1 220.1 577 220.3ZM573.6 219.7 575.6 219.5 577 220.9 575 221.1ZM571.5 220.3 573.6 220.1 575 221.5 572.9 221.7ZM569.5 220.6 571.5 220.4 572.9 221.9 570.9 222.1ZM567.4 221 569.5 220.8 570.8 222.2 568.8 222.4ZM565.4 221.3 567.4 221.1 568.8 222.5 566.7 222.7ZM563.3 221.6 565.4 221.4 566.7 222.8 564.7 223ZM561.3 221.9 563.3 221.7 564.7 223.2 562.6 223.4ZM559.2 222.3 561.3 222 562.6 223.5 560.5 223.7ZM557.1 222.6 559.2 222.4 560.5 223.8 558.4 224ZM555.1 222.9 557.1 222.7 558.4 224.1 556.4 224.3ZM553 223.2 555.1 223 556.4 224.5 554.3 224.7ZM550.9 223.6 553 223.3 554.3 224.8 552.2 225ZM548.8 223.9 550.9 223.7 552.2 225.1 550.1 225.3ZM546.8 224.1 548.8 223.9 550.1 225.4 548 225.6ZM544.7 224.3 546.8 224.1 548 225.6 545.9 225.8ZM542.6 224.5 544.7 224.3 545.9 225.8 543.8 226ZM540.5 224.7 542.6 224.5 543.8 226 541.7 226.2ZM538.4 224.9 540.5 224.7 541.7 226.2 539.6 226.4ZM536.3 225.2 538.4 224.9 539.6 226.4 537.5 226.6ZM534.2 225.4 536.3 225.2 537.5 226.6 535.4 226.8ZM532.1 225.6 534.2 225.4 535.4 226.8 533.3 227ZM530 225.8 532.1 225.6 533.3 227 531.1 227.3ZM527.8 226 530 225.8 531.1 227.3 529 227.5ZM525.7 226.2 527.8 226 529 227.5 526.9 227.7ZM523.6 226.4 525.7 226.2 526.9 227.7 524.7 227.9ZM521.5 226.6 523.6 226.4 524.7 227.9 522.6 228.1ZM519.3 226.8 521.5 226.6 522.6 228.1 520.5 228.3ZM517.2 227.1 519.3 226.8 520.5 228.3 518.3 228.5Z" fill="#4a9a9a"/>
<path d="M695.3 213 697.2 212.8 697.2 211.3 695.4 211.4ZM693.5 213.2 695.3 213 695.4 211.4 693.6 211.6ZM691.7 213.4 693.5 213.2 693.6 211.6 691.7 211.8ZM689.8 213.5 691.7 213.4 691.7 211.8 689.9 212ZM688 213.7 689.8 213.5 689.9 212 688 212.2ZM686.1 213.9 688 213.7 688 212.2 686.1 212.4ZM684.2 214.1 686.1 213.9 686.1 212.4 684.3 212.6ZM682.4 214.3 684.2 214.1 684.3 212.6 682.4 212.7ZM680.5 214.5 682.4 214.3 682.4 212.7 680.6 212.9ZM678.6 214.7 680.5 214.5 680.6 212.9 678.7 213.1ZM676.8 214.9 678.6 214.7 678.7 213.1 676.8 213.3ZM674.9 215.1 676.8 214.9 676.8 213.3 674.9 213.5ZM673 215.2 674.9 215.1 674.9 213.5 673.1 213.7ZM671.1 215.4 673 215.2 673.1 213.7 671.2 213.9ZM669.3 215.6 671.1 215.4 671.2 213.9 669.3 214.1ZM667.4 215.8 669.3 215.6 669.3 214.1 667.4 214.3ZM665.5 216 667.4 215.8 667.4 214.3 665.5 214.4ZM663.6 216.2 665.5 216 665.5 214.4 663.6 214.6ZM661.7 216.4 663.6 216.2 663.6 214.6 661.7 214.8ZM659.8 216.6 661.7 216.4 661.7 214.8 659.8 215ZM657.9 216.8 659.8 216.6 659.8 215 657.9 215.2ZM656 217 657.9 216.8 657.9 215.2 656 215.4ZM654.1 217.2 656 217 656 215.3 654.1 215.5ZM652.1 217.4 654.1 217.2 654.1 214.1 652.2 214.3ZM650.2 217.5 652.1 217.4 652.3 212.5 650.3 212.7ZM648.3 217.7 650.2 217.5 650.4 209.9 648.5 210.1ZM646.4 217.9 648.3 217.7 648.4 211.7 646.5 211.9ZM644.5 218.1 646.4 217.9 646.5 211.1 644.6 211.3ZM642.5 218.3 644.5 218.1 644.7 208.6 642.7 208.8ZM640.6 218.5 642.5 218.3 642.7 209.6 640.8 209.7ZM638.7 218.7 640.6 218.5 640.8 210 638.8 210.2ZM636.7 218.9 638.7 218.7 638.9 207.1 637 207.3ZM634.8 219.1 636.7 218.9 637.1 201.9 635.1 202.1ZM632.8 219.3 634.8 219.1 635.2 197.1 633.3 197.3ZM630.9 219.5 632.8 219.3 633.4 191.7 631.4 191.9ZM628.9 219.7 630.9 219.5 631.5 187.2 629.5 187.4ZM627 219.9 628.9 219.7 629.6 184.4 627.6 184.6ZM625 220.1 627 219.9 627.6 183.8 625.6 184ZM623.1 220.3 625 220.1 625.7 182.9 623.7 183.1ZM621.1 220.5 623.1 220.3 623.7 183.2 621.7 183.4ZM619.1 220.7 621.1 220.5 621.6 187.8 619.6 187.9ZM617.2 220.9 619.1 220.7 619.7 185.7 617.7 185.9ZM615.2 221.1 617.2 220.9 617.6 187.8 615.7 188ZM613.2 221.3 615.2 221.1 615.6 188.8 613.7 188.9ZM611.2 221.5 613.2 221.3 613.6 193.5 611.6 193.7ZM609.2 221.7 611.2 221.5 611.5 197.8 609.5 198ZM607.2 221.9 609.2 221.7 609.5 200 607.5 200.1ZM605.2 222.1 607.2 221.9 607.5 201.6 605.5 201.7ZM603.3 222.3 605.2 222.1 605.5 205.4 603.4 205.5ZM601.3 222.5 603.3 222.3 603.4 207.4 601.4 207.6ZM599.2 222.7 601.3 222.5 601.4 208.1 599.4 208.3ZM597.2 222.9 599.2 222.7 599.4 209.6 597.4 209.8ZM595.2 223.1 597.2 222.9 597.4 211 595.3 211.2ZM593.2 223.3 595.2 223.1 595.3 212.4 593.3 212.6ZM591.2 223.5 593.2 223.3 593.3 213.9 591.3 214.1ZM589.2 223.7 591.2 223.5 591.3 215.1 589.3 215.3ZM587.2 223.9 589.2 223.7 589.2 215.9 587.2 216.1ZM585.1 224.1 587.2 223.9 587.2 216.7 585.2 216.9ZM583.1 224.3 585.1 224.1 585.2 217.6 583.1 217.8ZM581.1 224.6 583.1 224.3 583.1 218.4 581.1 218.6ZM579 224.8 581.1 224.6 581.1 219.3 579.1 219.5ZM577 225 579 224.8 579.1 220.1 577 220.3ZM574.9 225.2 577 225 577 220.9 575 221.1ZM572.9 225.4 574.9 225.2 575 221.5 572.9 221.7ZM570.8 225.6 572.9 225.4 572.9 221.9 570.9 222.1ZM568.8 225.8 570.8 225.6 570.8 222.2 568.8 222.4ZM566.7 226 568.8 225.8 568.8 222.5 566.7 222.7ZM564.7 226.2 566.7 226 566.7 222.8 564.7 223ZM562.6 226.4 564.7 226.2 564.7 223.2 562.6 223.4ZM560.5 226.6 562.6 226.4 562.6 223.5 560.5 223.7ZM558.4 226.8 560.5 226.6 560.5 223.8 558.4 224ZM556.4 227.1 558.4 226.8 558.4 224.1 556.4 224.3ZM554.3 227.3 556.4 227.1 556.4 224.5 554.3 224.7ZM552.2 227.5 554.3 227.3 554.3 224.8 552.2 225ZM550.1 227.7 552.2 227.5 552.2 225.1 550.1 225.3ZM548 227.9 550.1 227.7 550.1 225.4 548 225.6ZM545.9 228.1 548 227.9 548 225.6 545.9 225.8ZM543.8 228.3 545.9 228.1 545.9 225.8 543.8 226ZM541.7 228.5 543.8 228.3 543.8 226 541.7 226.2ZM539.6 228.8 541.7 228.5 541.7 226.2 539.6 226.4ZM537.5 229 539.6 228.8 539.6 226.4 537.5 226.6ZM535.4 229.2 537.5 229 537.5 226.6 535.4 226.8ZM533.3 229.4 535.4 229.2 535.4 226.8 533.3 227ZM531.1 229.6 533.3 229.4 533.3 227 531.1 227.3ZM529 229.8 531.1 229.6 531.1 227.3 529 227.5ZM526.9 230 529 229.8 529 227.5 526.9 227.7ZM524.8 230.3 526.9 230 526.9 227.7 524.7 227.9ZM522.6 230.5 524.8 230.3 524.7 227.9 522.6 228.1ZM520.5 230.7 522.6 230.5 522.6 228.1 520.5 228.3ZM518.3 230.9 520.5 230.7 520.5 228.3 518.3 228.5Z" fill="#26c4c4" stroke="#4cacac" stroke-width="0.45"/>
<line x1="483.9" y1="183.9" x2="522.8" y2="237" stroke="#000" stroke-width="1.6"/>
<line x1="522.8" y1="237" x2="705.1" y2="218.1" stroke="#000" stroke-width="1.6"/>
<line x1="483.9" y1="183.9" x2="489.5" y2="183.5" stroke="#000" stroke-width="1.1"/>
<line x1="483.6" y1="164.2" x2="486.8" y2="163.9" stroke="#000" stroke-width="1.1"/>
<line x1="483.2" y1="144.2" x2="488.9" y2="143.8" stroke="#000" stroke-width="1.1"/>
<line x1="482.9" y1="124.1" x2="486.2" y2="123.9" stroke="#000" stroke-width="1.1"/>
<line x1="482.6" y1="103.8" x2="488.3" y2="103.5" stroke="#000" stroke-width="1.1"/>
<line x1="482.2" y1="83.3" x2="485.5" y2="83.1" stroke="#000" stroke-width="1.1"/>
<line x1="481.9" y1="62.6" x2="487.7" y2="62.4" stroke="#000" stroke-width="1.1"/>
<line x1="481.6" y1="41.7" x2="484.9" y2="41.6" stroke="#000" stroke-width="1.1"/>
<line x1="481.2" y1="20.6" x2="487.1" y2="20.5" stroke="#000" stroke-width="1.1"/>
<line x1="487.9" y1="189.4" x2="493.7" y2="188.9" stroke="#000" stroke-width="1.4"/>
<line x1="492.1" y1="195.2" x2="498" y2="194.6" stroke="#000" stroke-width="1.4"/>
<line x1="496.6" y1="201.2" x2="502.6" y2="200.7" stroke="#000" stroke-width="1.4"/>
<line x1="501.3" y1="207.6" x2="507.5" y2="207" stroke="#000" stroke-width="1.4"/>
<line x1="506.2" y1="214.4" x2="512.6" y2="213.8" stroke="#000" stroke-width="1.4"/>
<line x1="511.4" y1="221.5" x2="517.9" y2="220.8" stroke="#000" stroke-width="1.4"/>
<line x1="517" y1="229" x2="523.7" y2="228.4" stroke="#000" stroke-width="1.4"/>
<line x1="522.8" y1="237" x2="521.4" y2="235.1" stroke="#000" stroke-width="1.0"/>
<line x1="542.5" y1="235" x2="541.7" y2="234" stroke="#000" stroke-width="1.0"/>
<line x1="553.8" y1="233.8" x2="553" y2="232.9" stroke="#000" stroke-width="1.0"/>
<line x1="561.8" y1="233" x2="560.9" y2="232" stroke="#000" stroke-width="1.0"/>
<line x1="567.9" y1="232.3" x2="567.1" y2="231.4" stroke="#000" stroke-width="1.0"/>
<line x1="572.9" y1="231.8" x2="572" y2="230.9" stroke="#000" stroke-width="1.0"/>
<line x1="577.1" y1="231.4" x2="576.2" y2="230.4" stroke="#000" stroke-width="1.0"/>
<line x1="580.8" y1="231" x2="579.9" y2="230.1" stroke="#000" stroke-width="1.0"/>
<line x1="584" y1="230.7" x2="583.1" y2="229.7" stroke="#000" stroke-width="1.0"/>
<line x1="586.8" y1="230.4" x2="585" y2="228.5" stroke="#000" stroke-width="1.0"/>
<line x1="605.4" y1="228.4" x2="604.5" y2="227.5" stroke="#000" stroke-width="1.0"/>
<line x1="616.2" y1="227.3" x2="615.2" y2="226.4" stroke="#000" stroke-width="1.0"/>
<line x1="623.8" y1="226.5" x2="622.7" y2="225.6" stroke="#000" stroke-width="1.0"/>
<line x1="629.6" y1="225.9" x2="628.5" y2="225" stroke="#000" stroke-width="1.0"/>
<line x1="634.3" y1="225.4" x2="633.3" y2="224.5" stroke="#000" stroke-width="1.0"/>
<line x1="638.3" y1="225" x2="637.2" y2="224.1" stroke="#000" stroke-width="1.0"/>
<line x1="641.8" y1="224.7" x2="640.7" y2="223.8" stroke="#000" stroke-width="1.0"/>
<line x1="644.8" y1="224.3" x2="643.7" y2="223.5" stroke="#000" stroke-width="1.0"/>
<line x1="647.5" y1="224.1" x2="645.3" y2="222.3" stroke="#000" stroke-width="1.0"/>
<line x1="665.2" y1="222.2" x2="664" y2="221.3" stroke="#000" stroke-width="1.0"/>
<line x1="675.4" y1="221.2" x2="674.2" y2="220.3" stroke="#000" stroke-width="1.0"/>
<line x1="682.6" y1="220.4" x2="681.4" y2="219.6" stroke="#000" stroke-width="1.0"/>
<line x1="688.1" y1="219.8" x2="686.9" y2="219" stroke="#000" stroke-width="1.0"/>
<line x1="692.6" y1="219.4" x2="691.4" y2="218.5" stroke="#000" stroke-width="1.0"/>
<line x1="696.4" y1="219" x2="695.2" y2="218.1" stroke="#000" stroke-width="1.0"/>
<line x1="699.7" y1="218.6" x2="698.4" y2="217.8" stroke="#000" stroke-width="1.0"/>
<line x1="702.6" y1="218.3" x2="701.3" y2="217.5" stroke="#000" stroke-width="1.0"/>
<line x1="705.1" y1="218.1" x2="702.6" y2="216.4" stroke="#000" stroke-width="1.0"/>
</g>
<g>
<text x="479.5" y="188.7" class="zl" text-anchor="end">0</text>
<text x="478.8" y="149" class="zl" text-anchor="end">1</text>
<text x="478.2" y="108.6" class="zl" text-anchor="end">2</text>
<text x="477.5" y="67.4" class="zl" text-anchor="end">3</text>
<text x="476.8" y="25.4" class="zl" text-anchor="end">4</text>
<text transform="matrix(0.994,-0.106,0.406,0.570,522.0,244.0)" class="xl" text-anchor="middle" dy="0.35em">1</text>
<text transform="matrix(0.994,-0.106,0.493,0.497,592.3,236.3)" class="xl" text-anchor="middle" dy="0.35em">10</text>
<text transform="matrix(0.994,-0.106,0.548,0.436,656.0,229.2)" class="xl" text-anchor="middle" dy="0.35em">100</text>
<text transform="matrix(0.994,-0.106,0.586,0.382,718.0,222.0)" class="xl" text-anchor="middle" dy="0.35em">1000</text>
<text transform="matrix(0.994,-0.112,0.486,0.446,629.2,245.5)" class="xt" text-anchor="middle" dy="0.35em" textLength="123" lengthAdjust="spacingAndGlyphs">Chord Length (μm)</text>
<text transform="translate(462,177) rotate(-90)" class="yl" textLength="126" lengthAdjust="spacingAndGlyphs">counts<tspan dx="5">(</tspan>Square Weight)</text>
<rect x="602.2" y="41.9" width="105.4" height="50.6" fill="#fff" stroke="#9a9a9a" stroke-width="1.3"/>
<rect x="604" y="43.5" width="21.4" height="10.6" fill="#fc5c5c"/>
<text x="628.2" y="52.6" class="lg3">Origination</text>
<rect x="604" y="55.6" width="21.4" height="10.6" fill="#5cf45c"/>
<text x="628.2" y="64.8" class="lg3">+0.4 g/kg Chitosan</text>
<rect x="604" y="67.8" width="21.4" height="10.6" fill="#5c5cfa"/>
<text x="628.2" y="77" class="lg3">After + Chitosan</text>
<rect x="604" y="80" width="21.4" height="10.6" fill="#5cf8f8"/>
<text x="628.2" y="89.1" class="lg3">After settlement</text>
<text x="592" y="281" class="cap" text-anchor="middle">(<tspan font-weight="bold">b</tspan>)</text>
</g>
<g id="c">
<line x1="67.1" y1="467.4" x2="64.9" y2="301.6" stroke="#d0d0d0" stroke-width="0.6"/>
<line x1="76.6" y1="466.6" x2="74.9" y2="301.4" stroke="#d0d0d0" stroke-width="0.6"/>
<line x1="83.4" y1="466" x2="81.9" y2="301.3" stroke="#d0d0d0" stroke-width="0.6"/>
<line x1="88.6" y1="465.6" x2="87.3" y2="301.2" stroke="#d0d0d0" stroke-width="0.6"/>
<line x1="92.8" y1="465.2" x2="91.7" y2="301.2" stroke="#d0d0d0" stroke-width="0.6"/>
<line x1="96.4" y1="464.9" x2="95.4" y2="301.1" stroke="#d0d0d0" stroke-width="0.6"/>
<line x1="99.5" y1="464.7" x2="98.6" y2="301.1" stroke="#d0d0d0" stroke-width="0.6"/>
<line x1="102.2" y1="464.5" x2="101.4" y2="301.1" stroke="#d0d0d0" stroke-width="0.6"/>
<line x1="104.6" y1="464.3" x2="103.9" y2="301" stroke="#d0d0d0" stroke-width="0.6"/>
<line x1="120.5" y1="462.9" x2="120.3" y2="300.8" stroke="#d0d0d0" stroke-width="0.6"/>
<line x1="129.6" y1="462.2" x2="129.7" y2="300.7" stroke="#d0d0d0" stroke-width="0.6"/>
<line x1="136.1" y1="461.6" x2="136.4" y2="300.6" stroke="#d0d0d0" stroke-width="0.6"/>
<line x1="141" y1="461.2" x2="141.6" y2="300.5" stroke="#d0d0d0" stroke-width="0.6"/>
<line x1="145.1" y1="460.9" x2="145.8" y2="300.4" stroke="#d0d0d0" stroke-width="0.6"/>
<line x1="148.5" y1="460.6" x2="149.3" y2="300.4" stroke="#d0d0d0" stroke-width="0.6"/>
<line x1="151.5" y1="460.3" x2="152.3" y2="300.3" stroke="#d0d0d0" stroke-width="0.6"/>
<line x1="154.1" y1="460.1" x2="155" y2="300.3" stroke="#d0d0d0" stroke-width="0.6"/>
<line x1="156.4" y1="459.9" x2="157.4" y2="300.3" stroke="#d0d0d0" stroke-width="0.6"/>
<line x1="171.5" y1="458.6" x2="173.1" y2="300" stroke="#d0d0d0" stroke-width="0.6"/>
<line x1="180.3" y1="457.9" x2="182.1" y2="299.9" stroke="#d0d0d0" stroke-width="0.6"/>
<line x1="186.4" y1="457.4" x2="188.5" y2="299.8" stroke="#d0d0d0" stroke-width="0.6"/>
<line x1="191.2" y1="457" x2="193.4" y2="299.8" stroke="#d0d0d0" stroke-width="0.6"/>
<line x1="195.1" y1="456.7" x2="197.4" y2="299.7" stroke="#d0d0d0" stroke-width="0.6"/>
<line x1="198.3" y1="456.4" x2="200.8" y2="299.7" stroke="#d0d0d0" stroke-width="0.6"/>
<line x1="201.2" y1="456.2" x2="203.7" y2="299.6" stroke="#d0d0d0" stroke-width="0.6"/>
<line x1="203.7" y1="456" x2="206.3" y2="299.6" stroke="#d0d0d0" stroke-width="0.6"/>
<line x1="49.8" y1="428.2" x2="206.5" y2="417.7" stroke="#d0d0d0" stroke-width="0.6"/>
<line x1="49.2" y1="386.8" x2="207.2" y2="378.9" stroke="#d0d0d0" stroke-width="0.6"/>
<line x1="48.5" y1="344.7" x2="207.9" y2="339.6" stroke="#d0d0d0" stroke-width="0.6"/>
<line x1="213.4" y1="460.8" x2="216.4" y2="301" stroke="#d0d0d0" stroke-width="0.6"/>
<line x1="221.3" y1="466" x2="224.7" y2="302.5" stroke="#d0d0d0" stroke-width="0.6"/>
<line x1="229.6" y1="471.5" x2="233.3" y2="304.1" stroke="#d0d0d0" stroke-width="0.6"/>
<line x1="238.3" y1="477.3" x2="242.4" y2="305.8" stroke="#d0d0d0" stroke-width="0.6"/>
<line x1="247.4" y1="483.4" x2="252" y2="307.5" stroke="#d0d0d0" stroke-width="0.6"/>
<line x1="257" y1="489.8" x2="262.1" y2="309.4" stroke="#d0d0d0" stroke-width="0.6"/>
<line x1="267.1" y1="496.5" x2="272.8" y2="311.3" stroke="#d0d0d0" stroke-width="0.6"/>
<line x1="206.5" y1="417.7" x2="279.3" y2="457.5" stroke="#d0d0d0" stroke-width="0.6"/>
<line x1="207.2" y1="378.9" x2="280.9" y2="410.4" stroke="#d0d0d0" stroke-width="0.6"/>
<line x1="207.9" y1="339.6" x2="282.5" y2="362.4" stroke="#d0d0d0" stroke-width="0.6"/>
<line x1="67.1" y1="467.4" x2="111.5" y2="521.7" stroke="#d0d0d0" stroke-width="0.6"/>
<line x1="76.6" y1="466.6" x2="123.1" y2="520.4" stroke="#d0d0d0" stroke-width="0.6"/>
<line x1="83.4" y1="466" x2="131.3" y2="519.5" stroke="#d0d0d0" stroke-width="0.6"/>
<line x1="88.6" y1="465.6" x2="137.6" y2="518.8" stroke="#d0d0d0" stroke-width="0.6"/>
<line x1="92.8" y1="465.2" x2="142.7" y2="518.3" stroke="#d0d0d0" stroke-width="0.6"/>
<line x1="96.4" y1="464.9" x2="147.1" y2="517.8" stroke="#d0d0d0" stroke-width="0.6"/>
<line x1="99.5" y1="464.7" x2="150.8" y2="517.4" stroke="#d0d0d0" stroke-width="0.6"/>
<line x1="102.2" y1="464.5" x2="154.1" y2="517.1" stroke="#d0d0d0" stroke-width="0.6"/>
<line x1="104.6" y1="464.3" x2="157" y2="516.7" stroke="#d0d0d0" stroke-width="0.6"/>
<line x1="120.5" y1="462.9" x2="176" y2="514.7" stroke="#d0d0d0" stroke-width="0.6"/>
<line x1="129.6" y1="462.2" x2="187" y2="513.5" stroke="#d0d0d0" stroke-width="0.6"/>
<line x1="136.1" y1="461.6" x2="194.8" y2="512.6" stroke="#d0d0d0" stroke-width="0.6"/>
<line x1="141" y1="461.2" x2="200.7" y2="512" stroke="#d0d0d0" stroke-width="0.6"/>
<line x1="145.1" y1="460.9" x2="205.6" y2="511.5" stroke="#d0d0d0" stroke-width="0.6"/>
<line x1="148.5" y1="460.6" x2="209.7" y2="511" stroke="#d0d0d0" stroke-width="0.6"/>
<line x1="151.5" y1="460.3" x2="213.2" y2="510.6" stroke="#d0d0d0" stroke-width="0.6"/>
<line x1="154.1" y1="460.1" x2="216.3" y2="510.3" stroke="#d0d0d0" stroke-width="0.6"/>
<line x1="156.4" y1="459.9" x2="219" y2="510" stroke="#d0d0d0" stroke-width="0.6"/>
<line x1="171.5" y1="458.6" x2="237.1" y2="508" stroke="#d0d0d0" stroke-width="0.6"/>
<line x1="180.3" y1="457.9" x2="247.5" y2="506.9" stroke="#d0d0d0" stroke-width="0.6"/>
<line x1="186.4" y1="457.4" x2="254.8" y2="506.1" stroke="#d0d0d0" stroke-width="0.6"/>
<line x1="191.2" y1="457" x2="260.5" y2="505.5" stroke="#d0d0d0" stroke-width="0.6"/>
<line x1="195.1" y1="456.7" x2="265.1" y2="505" stroke="#d0d0d0" stroke-width="0.6"/>
<line x1="198.3" y1="456.4" x2="268.9" y2="504.6" stroke="#d0d0d0" stroke-width="0.6"/>
<line x1="201.2" y1="456.2" x2="272.3" y2="504.2" stroke="#d0d0d0" stroke-width="0.6"/>
<line x1="203.7" y1="456" x2="275.2" y2="503.9" stroke="#d0d0d0" stroke-width="0.6"/>
<line x1="54.7" y1="474.5" x2="213.4" y2="460.8" stroke="#d0d0d0" stroke-width="0.6"/>
<line x1="59.2" y1="480.5" x2="221.3" y2="466" stroke="#d0d0d0" stroke-width="0.6"/>
<line x1="63.8" y1="486.8" x2="229.6" y2="471.5" stroke="#d0d0d0" stroke-width="0.6"/>
<line x1="68.7" y1="493.4" x2="238.3" y2="477.3" stroke="#d0d0d0" stroke-width="0.6"/>
<line x1="73.9" y1="500.4" x2="247.4" y2="483.4" stroke="#d0d0d0" stroke-width="0.6"/>
<line x1="79.4" y1="507.8" x2="257" y2="489.8" stroke="#d0d0d0" stroke-width="0.6"/>
<line x1="85.2" y1="515.6" x2="267.1" y2="496.5" stroke="#d0d0d0" stroke-width="0.6"/>
<line x1="50.5" y1="468.8" x2="47.8" y2="301.8" stroke="#111" stroke-width="1.1"/>
<line x1="47.8" y1="301.8" x2="208.6" y2="299.5" stroke="#111" stroke-width="1.1"/>
<line x1="205.9" y1="455.8" x2="208.6" y2="299.5" stroke="#111" stroke-width="1.1"/>
<line x1="208.6" y1="299.5" x2="284.1" y2="313.4" stroke="#111" stroke-width="1.1"/>
<line x1="277.8" y1="503.6" x2="284.1" y2="313.4" stroke="#111" stroke-width="1.1"/>
<line x1="50.5" y1="468.8" x2="205.9" y2="455.8" stroke="#111" stroke-width="1.1"/>
<line x1="205.9" y1="455.8" x2="277.8" y2="503.6" stroke="#111" stroke-width="1.1"/>
<path d="M212.1 461.2 213.6 462.2 213.6 461.4 212.1 460.4ZM210.5 461.3 212 462.3 212 461.5 210.5 460.5ZM208.8 461.4 210.3 462.4 210.3 461.7 208.8 460.7ZM207.2 461.6 208.6 462.6 208.7 461.8 207.2 460.8ZM205.5 461.7 207 462.7 207 461.9 205.5 460.9ZM203.9 461.9 205.3 462.9 205.3 462.1 203.9 461.1ZM202.2 462 203.6 463 203.7 462.2 202.2 461.2ZM200.5 462.2 202 463.2 202 462.3 200.5 461.3ZM198.9 462.3 200.3 463.3 200.3 462.5 198.9 461.5ZM197.2 462.5 198.6 463.5 198.6 462.6 197.2 461.6ZM195.5 462.6 196.9 463.6 196.9 462.8 195.5 461.8ZM193.8 462.7 195.2 463.8 195.3 462.9 193.8 461.9ZM192.2 462.9 193.6 463.9 193.6 463 192.2 462ZM190.5 463 191.9 464 191.9 463.2 190.5 462.2ZM188.8 463.2 190.2 464.2 190.2 463.3 188.8 462.3ZM187.1 463.3 188.5 464.3 188.5 463.4 187.1 462.4ZM185.4 463.5 186.8 464.5 186.8 463.6 185.4 462.6ZM183.7 463.6 185.1 464.6 185.1 463.7 183.7 462.7ZM182 463.8 183.4 464.8 183.4 463.9 182 462.9ZM180.3 463.9 181.7 464.9 181.7 464 180.3 463ZM178.6 464.1 180 465.1 180 464.1 178.6 463.1ZM176.9 464.2 178.3 465.2 178.3 464.3 176.9 463.3ZM175.2 464.4 176.6 465.4 176.6 464.4 175.2 463.4ZM173.5 464.5 174.9 465.5 174.9 464.6 173.5 463.6ZM171.8 464.7 173.1 465.7 173.2 464.7 171.8 463.7ZM170.1 464.8 171.4 465.8 171.4 464.9 170.1 463.8ZM168.4 464.9 169.7 466 169.7 465 168.4 464ZM166.7 465.1 168 466.1 168 465 166.7 464ZM165 465.2 166.3 466.3 166.3 464.6 165 463.6ZM163.2 465.4 164.5 466.4 164.5 464.1 163.3 463.1ZM161.5 465.5 162.8 466.6 162.8 463.7 161.5 462.7ZM159.8 465.7 161.1 466.7 161.1 460.9 159.8 459.9ZM158.1 465.8 159.3 466.9 159.4 456 158.1 455ZM156.3 466 157.6 467 157.7 446.7 156.5 445.8ZM154.6 466.1 155.8 467.2 156 435.3 154.8 434.4ZM152.8 466.3 154.1 467.3 154.4 420.5 153.1 419.7ZM151.1 466.4 152.4 467.5 152.7 406.4 151.4 405.6ZM149.4 466.6 150.6 467.6 151 390.6 149.7 389.9ZM147.6 466.7 148.8 467.8 149.3 377 148 376.3ZM145.9 466.9 147.1 467.9 147.6 363.8 146.3 363.2ZM144.1 467.1 145.3 468.1 145.8 346.5 144.6 346ZM142.4 467.2 143.6 468.3 144 345.6 142.8 345.1ZM140.6 467.4 141.8 468.4 142.2 345.6 141 345.1ZM138.8 467.5 140 468.6 140.4 341.3 139.2 340.8ZM137.1 467.7 138.3 468.7 138.6 342.6 137.4 342.1ZM135.3 467.8 136.5 468.9 136.8 348.7 135.6 348.2ZM133.6 468 134.7 469 134.9 357.5 133.7 357ZM131.8 468.1 133 469.2 133.1 367 131.9 366.4ZM130 468.3 131.2 469.3 131.3 376.6 130.1 375.9ZM128.2 468.4 129.4 469.5 129.4 385.9 128.3 385.2ZM126.5 468.6 127.6 469.6 127.6 393.4 126.5 392.7ZM124.7 468.7 125.8 469.8 125.8 400.7 124.7 399.9ZM122.9 468.9 124 470 124 408.7 122.9 407.9ZM121.1 469 122.2 470.1 122.2 418.5 121.1 417.7ZM119.3 469.2 120.4 470.3 120.4 427.2 119.3 426.4ZM117.5 469.4 118.6 470.4 118.6 433.5 117.5 432.6ZM115.7 469.5 116.8 470.6 116.8 439.7 115.7 438.8ZM113.9 469.7 115 470.7 115 445.3 113.9 444.3ZM112.1 469.8 113.2 470.9 113.2 447.9 112.1 446.9ZM110.3 470 111.4 471.1 111.3 450.1 110.3 449.1ZM108.5 470.1 109.6 471.2 109.5 452.3 108.5 451.3ZM106.7 470.3 107.8 471.4 107.7 454.5 106.7 453.5ZM104.9 470.4 106 471.5 105.9 456.7 104.8 455.6ZM103.1 470.6 104.1 471.7 104.1 457.9 103 456.9ZM101.3 470.8 102.3 471.8 102.3 459.1 101.2 458.1ZM99.5 470.9 100.5 472 100.4 460.3 99.4 459.2ZM97.6 471.1 98.7 472.2 98.6 461.4 97.6 460.4ZM95.8 471.2 96.8 472.3 96.8 462.6 95.7 461.5ZM94 471.4 95 472.5 94.9 463.8 93.9 462.7ZM92.2 471.5 93.2 472.6 93.1 464.9 92.1 463.9ZM90.3 471.7 91.3 472.8 91.3 465.7 90.3 464.6ZM88.5 471.9 89.5 473 89.4 466.2 88.4 465.1ZM86.6 472 87.6 473.1 87.6 466.7 86.6 465.7ZM84.8 472.2 85.8 473.3 85.7 467.3 84.7 466.2ZM83 472.3 83.9 473.4 83.9 467.8 82.9 466.7ZM81.1 472.5 82.1 473.6 82 468.4 81.1 467.3ZM79.3 472.7 80.2 473.8 80.2 468.9 79.2 467.8ZM77.4 472.8 78.3 473.9 78.3 469.4 77.4 468.4ZM75.5 473 76.5 474.1 76.4 470 75.5 468.9ZM73.7 473.1 74.6 474.3 74.6 470.5 73.6 469.4ZM71.8 473.3 72.7 474.4 72.7 471.1 71.8 470ZM70 473.5 70.9 474.6 70.8 471.5 69.9 470.4ZM68.1 473.6 69 474.7 68.9 471.9 68.1 470.8ZM66.2 473.8 67.1 474.9 67.1 472.3 66.2 471.2ZM64.3 474 65.2 475.1 65.2 472.8 64.3 471.7ZM62.5 474.1 63.3 475.2 63.3 473.2 62.4 472.1ZM60.6 474.3 61.4 475.4 61.4 473.6 60.6 472.5ZM58.7 474.4 59.6 475.6 59.5 474 58.7 472.9ZM56.8 474.6 57.7 475.7 57.6 474.4 56.8 473.3ZM54.9 474.8 55.8 475.9 55.7 475 54.9 473.9Z" fill="#a01818"/>
<path d="M212.1 460.4 213.8 460.2 215.3 461.2 213.6 461.4ZM210.5 460.5 212.1 460.4 213.6 461.4 212 461.5ZM208.8 460.7 210.5 460.5 212 461.5 210.3 461.7ZM207.2 460.8 208.8 460.7 210.3 461.6 208.7 461.8ZM205.5 460.9 207.2 460.8 208.7 461.8 207 461.9ZM203.9 461.1 205.5 460.9 207 461.9 205.3 462.1ZM202.2 461.2 203.9 461.1 205.3 462.1 203.7 462.2ZM200.5 461.3 202.2 461.2 203.7 462.2 202 462.3ZM198.9 461.5 200.5 461.3 202 462.3 200.3 462.5ZM197.2 461.6 198.9 461.5 200.3 462.5 198.6 462.6ZM195.5 461.8 197.2 461.6 198.6 462.6 196.9 462.8ZM193.8 461.9 195.5 461.7 196.9 462.7 195.3 462.9ZM192.2 462 193.8 461.9 195.3 462.9 193.6 463ZM190.5 462.2 192.2 462 193.6 463 191.9 463.2ZM188.8 462.3 190.5 462.2 191.9 463.2 190.2 463.3ZM187.1 462.4 188.8 462.3 190.2 463.3 188.5 463.4ZM185.4 462.6 187.1 462.4 188.5 463.4 186.8 463.6ZM183.7 462.7 185.4 462.6 186.8 463.6 185.1 463.7ZM182 462.9 183.7 462.7 185.1 463.7 183.4 463.9ZM180.3 463 182 462.8 183.4 463.9 181.7 464ZM178.6 463.1 180.3 463 181.7 464 180 464.1ZM176.9 463.3 178.6 463.1 180 464.1 178.3 464.3ZM175.2 463.4 176.9 463.3 178.3 464.3 176.6 464.4ZM173.5 463.6 175.2 463.4 176.6 464.4 174.9 464.6ZM171.8 463.7 173.5 463.5 174.9 464.6 173.2 464.7ZM170.1 463.8 171.8 463.7 173.2 464.7 171.4 464.9ZM168.4 464 170.1 463.8 171.4 464.8 169.7 465ZM166.7 464 168.4 463.9 169.7 464.9 168 465ZM165 463.6 166.7 463.4 168 464.4 166.3 464.6ZM163.3 463.1 165 463 166.3 464 164.5 464.1ZM161.5 462.7 163.3 462.5 164.6 463.5 162.8 463.7ZM159.8 459.9 161.6 459.7 162.8 460.7 161.1 460.9ZM158.1 455 159.9 454.8 161.1 455.8 159.4 456ZM156.5 445.8 158.2 445.6 159.5 446.6 157.7 446.7ZM154.8 434.4 156.5 434.3 157.8 435.2 156 435.3ZM153.1 419.7 154.9 419.6 156.1 420.4 154.4 420.5ZM151.4 405.6 153.2 405.5 154.5 406.3 152.7 406.4ZM149.7 389.9 151.5 389.8 152.8 390.5 151 390.6ZM148 376.3 149.8 376.3 151.1 376.9 149.3 377ZM146.3 363.2 148.1 363.1 149.4 363.7 147.6 363.8ZM144.6 346 146.4 345.9 147.6 346.4 145.8 346.5ZM142.8 345.1 144.6 345.1 145.8 345.6 144 345.6ZM141 345.1 142.8 345 144 345.5 142.2 345.6ZM139.2 340.8 141 340.8 142.2 341.3 140.4 341.3ZM137.4 342.1 139.2 342.1 140.4 342.5 138.6 342.6ZM135.6 348.2 137.4 348.1 138.6 348.6 136.8 348.7ZM133.7 357 135.5 356.9 136.8 357.5 134.9 357.5ZM131.9 366.4 133.7 366.3 134.9 366.9 133.1 367ZM130.1 375.9 131.9 375.8 133.1 376.5 131.3 376.6ZM128.3 385.2 130.1 385.1 131.3 385.8 129.4 385.9ZM126.5 392.7 128.3 392.6 129.4 393.3 127.6 393.4ZM124.7 399.9 126.5 399.8 127.6 400.6 125.8 400.7ZM122.9 407.9 124.7 407.8 125.8 408.6 124 408.7ZM121.1 417.7 122.9 417.5 124 418.4 122.2 418.5ZM119.3 426.4 121.1 426.2 122.2 427.1 120.4 427.2ZM117.5 432.6 119.3 432.5 120.4 433.4 118.6 433.5ZM115.7 438.8 117.5 438.6 118.6 439.6 116.8 439.7ZM113.9 444.3 115.7 444.2 116.8 445.2 115 445.3ZM112.1 446.9 113.9 446.7 115 447.7 113.2 447.9ZM110.3 449.1 112.1 448.9 113.2 449.9 111.3 450.1ZM108.5 451.3 110.3 451.1 111.4 452.1 109.5 452.3ZM106.7 453.5 108.5 453.4 109.5 454.4 107.7 454.5ZM104.8 455.6 106.7 455.5 107.7 456.5 105.9 456.7ZM103 456.9 104.8 456.8 105.9 457.8 104.1 457.9ZM101.2 458.1 103 457.9 104.1 459 102.3 459.1ZM99.4 459.2 101.2 459.1 102.3 460.1 100.4 460.3ZM97.6 460.4 99.4 460.2 100.4 461.3 98.6 461.4ZM95.7 461.5 97.6 461.4 98.6 462.4 96.8 462.6ZM93.9 462.7 95.8 462.6 96.8 463.6 94.9 463.8ZM92.1 463.9 93.9 463.7 94.9 464.8 93.1 464.9ZM90.3 464.6 92.1 464.5 93.1 465.5 91.3 465.7ZM88.4 465.1 90.3 465 91.3 466.1 89.4 466.2ZM86.6 465.7 88.4 465.5 89.4 466.6 87.6 466.7ZM84.7 466.2 86.6 466.1 87.6 467.1 85.7 467.3ZM82.9 466.7 84.8 466.6 85.7 467.7 83.9 467.8ZM81.1 467.3 82.9 467.1 83.9 468.2 82 468.4ZM79.2 467.8 81.1 467.7 82 468.7 80.2 468.9ZM77.4 468.4 79.2 468.2 80.2 469.3 78.3 469.4ZM75.5 468.9 77.4 468.7 78.3 469.8 76.4 470ZM73.6 469.4 75.5 469.3 76.4 470.4 74.6 470.5ZM71.8 470 73.6 469.8 74.6 470.9 72.7 471.1ZM69.9 470.4 71.8 470.2 72.7 471.3 70.8 471.5ZM68.1 470.8 69.9 470.7 70.8 471.8 68.9 471.9ZM66.2 471.2 68.1 471.1 69 472.2 67.1 472.3ZM64.3 471.7 66.2 471.5 67.1 472.6 65.2 472.8ZM62.4 472.1 64.3 471.9 65.2 473 63.3 473.2ZM60.6 472.5 62.4 472.3 63.3 473.4 61.4 473.6ZM58.7 472.9 60.6 472.7 61.4 473.9 59.5 474ZM56.8 473.3 58.7 473.2 59.5 474.3 57.6 474.4ZM54.9 473.9 56.8 473.7 57.6 474.8 55.7 475Z" fill="#b04848"/>
<path d="M213.6 462.2 215.3 462 215.3 461.2 213.6 461.4ZM212 462.3 213.6 462.2 213.6 461.4 212 461.5ZM210.3 462.4 212 462.3 212 461.5 210.3 461.7ZM208.6 462.6 210.3 462.4 210.3 461.6 208.7 461.8ZM207 462.7 208.6 462.6 208.7 461.8 207 461.9ZM205.3 462.9 207 462.7 207 461.9 205.3 462.1ZM203.6 463 205.3 462.9 205.3 462.1 203.7 462.2ZM202 463.2 203.6 463 203.7 462.2 202 462.3ZM200.3 463.3 202 463.2 202 462.3 200.3 462.5ZM198.6 463.5 200.3 463.3 200.3 462.5 198.6 462.6ZM196.9 463.6 198.6 463.5 198.6 462.6 196.9 462.8ZM195.2 463.8 196.9 463.6 196.9 462.7 195.3 462.9ZM193.6 463.9 195.2 463.8 195.3 462.9 193.6 463ZM191.9 464 193.6 463.9 193.6 463 191.9 463.2ZM190.2 464.2 191.9 464 191.9 463.2 190.2 463.3ZM188.5 464.3 190.2 464.2 190.2 463.3 188.5 463.4ZM186.8 464.5 188.5 464.3 188.5 463.4 186.8 463.6ZM185.1 464.6 186.8 464.5 186.8 463.6 185.1 463.7ZM183.4 464.8 185.1 464.6 185.1 463.7 183.4 463.9ZM181.7 464.9 183.4 464.8 183.4 463.9 181.7 464ZM180 465.1 181.7 464.9 181.7 464 180 464.1ZM178.3 465.2 180 465.1 180 464.1 178.3 464.3ZM176.6 465.4 178.3 465.2 178.3 464.3 176.6 464.4ZM174.9 465.5 176.6 465.4 176.6 464.4 174.9 464.6ZM173.1 465.7 174.9 465.5 174.9 464.6 173.2 464.7ZM171.4 465.8 173.1 465.7 173.2 464.7 171.4 464.9ZM169.7 466 171.4 465.8 171.4 464.8 169.7 465ZM168 466.1 169.7 466 169.7 464.9 168 465ZM166.3 466.3 168 466.1 168 464.4 166.3 464.6ZM164.5 466.4 166.3 466.3 166.3 464 164.5 464.1ZM162.8 466.6 164.5 466.4 164.6 463.5 162.8 463.7ZM161.1 466.7 162.8 466.6 162.8 460.7 161.1 460.9ZM159.3 466.9 161.1 466.7 161.1 455.8 159.4 456ZM157.6 467 159.3 466.9 159.5 446.6 157.7 446.7ZM155.8 467.2 157.6 467 157.8 435.2 156 435.3ZM154.1 467.3 155.8 467.2 156.1 420.4 154.4 420.5ZM152.4 467.5 154.1 467.3 154.5 406.3 152.7 406.4ZM150.6 467.6 152.4 467.5 152.8 390.5 151 390.6ZM148.8 467.8 150.6 467.6 151.1 376.9 149.3 377ZM147.1 467.9 148.8 467.8 149.4 363.7 147.6 363.8ZM145.3 468.1 147.1 467.9 147.6 346.4 145.8 346.5ZM143.6 468.3 145.3 468.1 145.8 345.6 144 345.6ZM141.8 468.4 143.6 468.3 144 345.5 142.2 345.6ZM140 468.6 141.8 468.4 142.2 341.3 140.4 341.3ZM138.3 468.7 140 468.6 140.4 342.5 138.6 342.6ZM136.5 468.9 138.3 468.7 138.6 348.6 136.8 348.7ZM134.7 469 136.5 468.9 136.8 357.5 134.9 357.5ZM133 469.2 134.7 469 134.9 366.9 133.1 367ZM131.2 469.3 133 469.2 133.1 376.5 131.3 376.6ZM129.4 469.5 131.2 469.3 131.3 385.8 129.4 385.9ZM127.6 469.6 129.4 469.5 129.4 393.3 127.6 393.4ZM125.8 469.8 127.6 469.6 127.6 400.6 125.8 400.7ZM124 470 125.8 469.8 125.8 408.6 124 408.7ZM122.2 470.1 124 470 124 418.4 122.2 418.5ZM120.4 470.3 122.2 470.1 122.2 427.1 120.4 427.2ZM118.6 470.4 120.4 470.3 120.4 433.4 118.6 433.5ZM116.8 470.6 118.6 470.4 118.6 439.6 116.8 439.7ZM115 470.7 116.8 470.6 116.8 445.2 115 445.3ZM113.2 470.9 115 470.7 115 447.7 113.2 447.9ZM111.4 471.1 113.2 470.9 113.2 449.9 111.3 450.1ZM109.6 471.2 111.4 471.1 111.4 452.1 109.5 452.3ZM107.8 471.4 109.6 471.2 109.5 454.4 107.7 454.5ZM106 471.5 107.8 471.4 107.7 456.5 105.9 456.7ZM104.1 471.7 106 471.5 105.9 457.8 104.1 457.9ZM102.3 471.8 104.1 471.7 104.1 459 102.3 459.1ZM100.5 472 102.3 471.8 102.3 460.1 100.4 460.3ZM98.7 472.2 100.5 472 100.4 461.3 98.6 461.4ZM96.8 472.3 98.7 472.2 98.6 462.4 96.8 462.6ZM95 472.5 96.8 472.3 96.8 463.6 94.9 463.8ZM93.2 472.6 95 472.5 94.9 464.8 93.1 464.9ZM91.3 472.8 93.2 472.6 93.1 465.5 91.3 465.7ZM89.5 473 91.3 472.8 91.3 466.1 89.4 466.2ZM87.6 473.1 89.5 473 89.4 466.6 87.6 466.7ZM85.8 473.3 87.6 473.1 87.6 467.1 85.7 467.3ZM83.9 473.4 85.8 473.3 85.7 467.7 83.9 467.8ZM82.1 473.6 83.9 473.4 83.9 468.2 82 468.4ZM80.2 473.8 82.1 473.6 82 468.7 80.2 468.9ZM78.3 473.9 80.2 473.8 80.2 469.3 78.3 469.4ZM76.5 474.1 78.3 473.9 78.3 469.8 76.4 470ZM74.6 474.3 76.5 474.1 76.4 470.4 74.6 470.5ZM72.7 474.4 74.6 474.3 74.6 470.9 72.7 471.1ZM70.9 474.6 72.7 474.4 72.7 471.3 70.8 471.5ZM69 474.7 70.9 474.6 70.8 471.8 68.9 471.9ZM67.1 474.9 69 474.7 69 472.2 67.1 472.3ZM65.2 475.1 67.1 474.9 67.1 472.6 65.2 472.8ZM63.3 475.2 65.2 475.1 65.2 473 63.3 473.2ZM61.4 475.4 63.3 475.2 63.3 473.4 61.4 473.6ZM59.6 475.6 61.4 475.4 61.4 473.9 59.5 474ZM57.7 475.7 59.6 475.6 59.5 474.3 57.6 474.4ZM55.8 475.9 57.7 475.7 57.6 474.8 55.7 475Z" fill="#d62020" stroke="#bc4646" stroke-width="0.45"/>
<path d="M55.8 475.9 57.7 475.7 57.6 474.8 55.7 475ZM54.9 473.9 56.8 473.7 57.6 474.8 55.7 475Z" fill="#ce5757"/>
<path d="M57.7 475.7 59.6 475.6 59.5 474.3 57.6 474.4ZM56.8 473.3 58.7 473.2 59.5 474.3 57.6 474.4Z" fill="#ce5757"/>
<path d="M59.6 475.6 61.4 475.4 61.4 473.9 59.5 474ZM58.7 472.9 60.6 472.7 61.4 473.9 59.5 474Z" fill="#ce5757"/>
<path d="M61.4 475.4 63.3 475.2 63.3 473.4 61.4 473.6ZM60.6 472.5 62.4 472.3 63.3 473.4 61.4 473.6Z" fill="#ce5757"/>
<path d="M63.3 475.2 65.2 475.1 65.2 473 63.3 473.2ZM62.4 472.1 64.3 471.9 65.2 473 63.3 473.2Z" fill="#ce5757"/>
<path d="M65.2 475.1 67.1 474.9 67.1 472.6 65.2 472.8ZM64.3 471.7 66.2 471.5 67.1 472.6 65.2 472.8Z" fill="#ce5757"/>
<path d="M67.1 474.9 69 474.7 69 472.2 67.1 472.3ZM66.2 471.2 68.1 471.1 69 472.2 67.1 472.3Z" fill="#ce5757"/>
<path d="M69 474.7 70.9 474.6 70.8 471.8 68.9 471.9ZM68.1 470.8 69.9 470.7 70.8 471.8 68.9 471.9Z" fill="#ce5757"/>
<path d="M70.9 474.6 72.7 474.4 72.7 471.3 70.8 471.5ZM69.9 470.4 71.8 470.2 72.7 471.3 70.8 471.5Z" fill="#ce5757"/>
<path d="M72.7 474.4 74.6 474.3 74.6 470.9 72.7 471.1ZM71.8 470 73.6 469.8 74.6 470.9 72.7 471.1Z" fill="#ce5757"/>
<path d="M74.6 474.3 76.5 474.1 76.4 470.4 74.6 470.5ZM73.6 469.4 75.5 469.3 76.4 470.4 74.6 470.5Z" fill="#ce5555"/>
<path d="M76.5 474.1 78.3 473.9 78.3 469.8 76.4 470ZM75.5 468.9 77.4 468.7 78.3 469.8 76.4 470Z" fill="#cf4b4b"/>
<path d="M78.3 473.9 80.2 473.8 80.2 469.3 78.3 469.4ZM77.4 468.4 79.2 468.2 80.2 469.3 78.3 469.4Z" fill="#d14141"/>
<path d="M80.2 473.8 82.1 473.6 82 468.7 80.2 468.9ZM79.2 467.8 81.1 467.7 82 468.7 80.2 468.9Z" fill="#d23737"/>
<path d="M82.1 473.6 83.9 473.4 83.9 468.2 82 468.4ZM81.1 467.3 82.9 467.1 83.9 468.2 82 468.4Z" fill="#d42d2d"/>
<path d="M83.9 473.4 85.8 473.3 85.7 467.7 83.9 467.8ZM82.9 466.7 84.8 466.6 85.7 467.7 83.9 467.8Z" fill="#d62323"/>
<path d="M162.8 466.6 164.5 466.4 164.6 463.5 162.8 463.7ZM161.5 462.7 163.3 462.5 164.6 463.5 162.8 463.7Z" fill="#ce5757"/>
<path d="M164.5 466.4 166.3 466.3 166.3 464 164.5 464.1ZM163.3 463.1 165 463 166.3 464 164.5 464.1Z" fill="#ce5757"/>
<path d="M166.3 466.3 168 466.1 168 464.4 166.3 464.6ZM165 463.6 166.7 463.4 168 464.4 166.3 464.6Z" fill="#ce5757"/>
<path d="M168 466.1 169.7 466 169.7 464.9 168 465ZM166.7 464 168.4 463.9 169.7 464.9 168 465Z" fill="#ce5757"/>
<path d="M169.7 466 171.4 465.8 171.4 464.8 169.7 465ZM168.4 464 170.1 463.8 171.4 464.8 169.7 465Z" fill="#ce5757"/>
<path d="M171.4 465.8 173.1 465.7 173.2 464.7 171.4 464.9ZM170.1 463.8 171.8 463.7 173.2 464.7 171.4 464.9Z" fill="#ce5757"/>
<path d="M173.1 465.7 174.9 465.5 174.9 464.6 173.2 464.7ZM171.8 463.7 173.5 463.5 174.9 464.6 173.2 464.7Z" fill="#ce5757"/>
<path d="M174.9 465.5 176.6 465.4 176.6 464.4 174.9 464.6ZM173.5 463.6 175.2 463.4 176.6 464.4 174.9 464.6Z" fill="#ce5757"/>
<path d="M176.6 465.4 178.3 465.2 178.3 464.3 176.6 464.4ZM175.2 463.4 176.9 463.3 178.3 464.3 176.6 464.4Z" fill="#ce5757"/>
<path d="M178.3 465.2 180 465.1 180 464.1 178.3 464.3ZM176.9 463.3 178.6 463.1 180 464.1 178.3 464.3Z" fill="#ce5757"/>
<path d="M180 465.1 181.7 464.9 181.7 464 180 464.1ZM178.6 463.1 180.3 463 181.7 464 180 464.1Z" fill="#ce5757"/>
<path d="M181.7 464.9 183.4 464.8 183.4 463.9 181.7 464ZM180.3 463 182 462.8 183.4 463.9 181.7 464Z" fill="#ce5757"/>
<path d="M183.4 464.8 185.1 464.6 185.1 463.7 183.4 463.9ZM182 462.9 183.7 462.7 185.1 463.7 183.4 463.9Z" fill="#ce5757"/>
<path d="M185.1 464.6 186.8 464.5 186.8 463.6 185.1 463.7ZM183.7 462.7 185.4 462.6 186.8 463.6 185.1 463.7Z" fill="#ce5757"/>
<path d="M186.8 464.5 188.5 464.3 188.5 463.4 186.8 463.6ZM185.4 462.6 187.1 462.4 188.5 463.4 186.8 463.6Z" fill="#ce5757"/>
<path d="M188.5 464.3 190.2 464.2 190.2 463.3 188.5 463.4ZM187.1 462.4 188.8 462.3 190.2 463.3 188.5 463.4Z" fill="#ce5757"/>
<path d="M190.2 464.2 191.9 464 191.9 463.2 190.2 463.3ZM188.8 462.3 190.5 462.2 191.9 463.2 190.2 463.3Z" fill="#ce5757"/>
<path d="M191.9 464 193.6 463.9 193.6 463 191.9 463.2ZM190.5 462.2 192.2 462 193.6 463 191.9 463.2Z" fill="#ce5757"/>
<path d="M193.6 463.9 195.2 463.8 195.3 462.9 193.6 463ZM192.2 462 193.8 461.9 195.3 462.9 193.6 463Z" fill="#ce5757"/>
<path d="M195.2 463.8 196.9 463.6 196.9 462.7 195.3 462.9ZM193.8 461.9 195.5 461.7 196.9 462.7 195.3 462.9Z" fill="#ce5757"/>
<path d="M196.9 463.6 198.6 463.5 198.6 462.6 196.9 462.8ZM195.5 461.8 197.2 461.6 198.6 462.6 196.9 462.8Z" fill="#ce5757"/>
<path d="M198.6 463.5 200.3 463.3 200.3 462.5 198.6 462.6ZM197.2 461.6 198.9 461.5 200.3 462.5 198.6 462.6Z" fill="#ce5757"/>
<path d="M200.3 463.3 202 463.2 202 462.3 200.3 462.5ZM198.9 461.5 200.5 461.3 202 462.3 200.3 462.5Z" fill="#ce5757"/>
<path d="M202 463.2 203.6 463 203.7 462.2 202 462.3ZM200.5 461.3 202.2 461.2 203.7 462.2 202 462.3Z" fill="#ce5757"/>
<path d="M203.6 463 205.3 462.9 205.3 462.1 203.7 462.2ZM202.2 461.2 203.9 461.1 205.3 462.1 203.7 462.2Z" fill="#ce5757"/>
<path d="M205.3 462.9 207 462.7 207 461.9 205.3 462.1ZM203.9 461.1 205.5 460.9 207 461.9 205.3 462.1Z" fill="#ce5757"/>
<path d="M207 462.7 208.6 462.6 208.7 461.8 207 461.9ZM205.5 460.9 207.2 460.8 208.7 461.8 207 461.9Z" fill="#ce5757"/>
<path d="M208.6 462.6 210.3 462.4 210.3 461.6 208.7 461.8ZM207.2 460.8 208.8 460.7 210.3 461.6 208.7 461.8Z" fill="#ce5757"/>
<path d="M210.3 462.4 212 462.3 212 461.5 210.3 461.7ZM208.8 460.7 210.5 460.5 212 461.5 210.3 461.7Z" fill="#ce5757"/>
<path d="M212 462.3 213.6 462.2 213.6 461.4 212 461.5ZM210.5 460.5 212.1 460.4 213.6 461.4 212 461.5Z" fill="#ce5757"/>
<path d="M213.6 462.2 215.3 462 215.3 461.2 213.6 461.4ZM212.1 460.4 213.8 460.2 215.3 461.2 213.6 461.4Z" fill="#ce5757"/>
<path d="M228.3 472 229.9 473 229.9 472.2 228.3 471.1ZM226.6 472.1 228.2 473.2 228.2 472.4 226.6 471.3ZM224.8 472.3 226.5 473.4 226.5 472.5 224.9 471.4ZM223.1 472.4 224.7 473.5 224.7 472.7 223.1 471.6ZM221.4 472.6 223 473.7 223 472.8 221.4 471.7ZM219.7 472.7 221.3 473.8 221.3 473 219.7 471.9ZM217.9 472.9 219.5 474 219.5 473.1 217.9 472ZM216.2 473.1 217.8 474.2 217.8 473.3 216.2 472.2ZM214.4 473.2 216 474.3 216 473.4 214.5 472.3ZM212.7 473.4 214.3 474.5 214.3 473.5 212.7 472.4ZM211 473.5 212.5 474.7 212.5 473.7 211 472.6ZM209.2 473.7 210.8 474.8 210.8 473.8 209.2 472.7ZM207.5 473.9 209 475 209 474 207.5 472.9ZM205.7 474 207.3 475.1 207.3 474.1 205.7 473ZM204 474.2 205.5 475.3 205.5 474.3 204 473.2ZM202.2 474.4 203.7 475.5 203.8 474.4 202.2 473.3ZM200.4 474.5 202 475.6 202 474.6 200.5 473.5ZM198.7 474.7 200.2 475.8 200.2 474.7 198.7 473.6ZM196.9 474.8 198.4 476 198.4 474.9 196.9 473.8ZM195.1 475 196.6 476.1 196.7 475 195.2 473.9ZM193.4 475.2 194.9 476.3 194.9 475.2 193.4 474.1ZM191.6 475.3 193.1 476.5 193.1 475.3 191.6 474.2ZM189.8 475.5 191.3 476.6 191.3 475.5 189.8 474.4ZM188 475.7 189.5 476.8 189.5 475.6 188.1 474.5ZM186.3 475.8 187.7 477 187.7 475.8 186.3 474.7ZM184.5 476 185.9 477.1 186 475.9 184.5 474.8ZM182.7 476.1 184.1 477.3 184.2 476.1 182.7 475ZM180.9 476.3 182.3 477.4 182.4 476.2 180.9 475.1ZM179.1 476.5 180.5 477.6 180.6 476.4 179.1 475.3ZM177.3 476.6 178.7 477.8 178.8 476.5 177.3 475.4ZM175.5 476.8 176.9 478 177 475.8 175.5 474.6ZM173.7 477 175.1 478.1 175.2 474.6 173.7 473.4ZM171.9 477.1 173.3 478.3 173.4 471.7 172 470.6ZM170.1 477.3 171.5 478.5 171.6 468.3 170.2 467.2ZM168.3 477.5 169.7 478.6 169.8 462.6 168.4 461.5ZM166.5 477.6 167.9 478.8 168.1 455.4 166.7 454.3ZM164.7 477.8 166 479 166.4 434.9 165 433.9ZM162.8 478 164.2 479.1 164.6 427.9 163.2 427ZM161 478.1 162.4 479.3 162.8 422.7 161.4 421.8ZM159.2 478.3 160.5 479.5 161 419.1 159.6 418.2ZM157.4 478.5 158.7 479.6 159.2 416.4 157.8 415.6ZM155.5 478.6 156.9 479.8 157.3 414.9 155.9 414ZM153.7 478.8 155 480 155.4 413.3 154.1 412.4ZM151.9 479 153.2 480.2 153.6 414.2 152.2 413.4ZM150 479.2 151.3 480.3 151.7 416.1 150.4 415.2ZM148.2 479.3 149.5 480.5 149.8 417.9 148.5 417ZM146.3 479.5 147.6 480.7 147.9 420.4 146.6 419.5ZM144.5 479.7 145.8 480.8 146 423.6 144.7 422.7ZM142.6 479.8 143.9 481 144.1 428.5 142.8 427.6ZM140.8 480 142 481.2 142.2 434.2 140.9 433.2ZM138.9 480.2 140.2 481.4 140.3 439.8 139 438.9ZM137.1 480.3 138.3 481.5 138.4 444.2 137.1 443.2ZM135.2 480.5 136.4 481.7 136.5 448 135.3 447ZM133.3 480.7 134.6 481.9 134.6 451.8 133.4 450.8ZM131.5 480.9 132.7 482 132.7 455.6 131.5 454.6ZM129.6 481 130.8 482.2 130.8 458.3 129.6 457.2ZM127.7 481.2 128.9 482.4 128.9 460.6 127.7 459.5ZM125.8 481.4 127 482.6 127 462.8 125.8 461.8ZM123.9 481.6 125.1 482.7 125.1 465.1 123.9 464ZM122.1 481.7 123.3 482.9 123.2 467.4 122.1 466.3ZM120.2 481.9 121.4 483.1 121.3 468.9 120.2 467.8ZM118.3 482.1 119.5 483.3 119.4 470.1 118.3 469ZM116.4 482.3 117.6 483.4 117.5 471.3 116.4 470.2ZM114.5 482.4 115.6 483.6 115.6 472.5 114.5 471.4ZM112.6 482.6 113.7 483.8 113.7 473.7 112.6 472.6ZM110.7 482.8 111.8 484 111.8 475 110.7 473.8ZM108.8 483 109.9 484.2 109.9 476.2 108.8 475ZM106.9 483.1 108 484.3 108 477.4 106.8 476.2ZM105 483.3 106.1 484.5 106 478 104.9 476.8ZM103 483.5 104.1 484.7 104.1 478.6 103 477.4ZM101.1 483.7 102.2 484.9 102.2 479.2 101.1 478ZM99.2 483.8 100.3 485 100.3 479.8 99.2 478.6ZM97.3 484 98.4 485.2 98.3 480.4 97.2 479.2ZM95.3 484.2 96.4 485.4 96.4 481 95.3 479.8ZM93.4 484.4 94.5 485.6 94.5 481.5 93.4 480.3ZM91.5 484.5 92.5 485.8 92.5 482.1 91.5 480.9ZM89.5 484.7 90.6 485.9 90.6 482.7 89.5 481.5ZM87.6 484.9 88.6 486.1 88.6 483.3 87.6 482.1ZM85.7 485.1 86.7 486.3 86.7 483.8 85.6 482.6ZM83.7 485.3 84.7 486.5 84.7 484.1 83.7 482.9ZM81.8 485.4 82.8 486.7 82.7 484.4 81.7 483.2ZM79.8 485.6 80.8 486.9 80.8 484.7 79.8 483.5ZM77.8 485.8 78.8 487 78.8 485 77.8 483.8ZM75.9 486 76.9 487.2 76.8 485.4 75.9 484.1ZM73.9 486.2 74.9 487.4 74.9 485.7 73.9 484.4ZM72 486.3 72.9 487.6 72.9 486 71.9 484.8ZM70 486.5 70.9 487.8 70.9 486.3 70 485.1ZM68 486.7 69 488 68.9 486.6 68 485.4ZM66 486.9 67 488.1 67 487 66 485.8ZM64.1 487.1 65 488.3 65 487.4 64 486.2Z" fill="#1a8a1a"/>
<path d="M228.3 471.1 230 471 231.6 472.1 229.9 472.2ZM226.6 471.3 228.3 471.1 229.9 472.2 228.2 472.4ZM224.9 471.4 226.6 471.3 228.2 472.4 226.5 472.5ZM223.1 471.6 224.9 471.4 226.5 472.5 224.7 472.7ZM221.4 471.7 223.1 471.6 224.7 472.7 223 472.8ZM219.7 471.9 221.4 471.7 223 472.8 221.3 473ZM217.9 472 219.7 471.8 221.3 472.9 219.5 473.1ZM216.2 472.2 217.9 472 219.5 473.1 217.8 473.3ZM214.5 472.3 216.2 472.1 217.8 473.2 216 473.4ZM212.7 472.4 214.5 472.3 216 473.4 214.3 473.5ZM211 472.6 212.7 472.4 214.3 473.5 212.5 473.7ZM209.2 472.7 211 472.6 212.5 473.7 210.8 473.8ZM207.5 472.9 209.2 472.7 210.8 473.8 209 474ZM205.7 473 207.5 472.9 209 474 207.3 474.1ZM204 473.2 205.7 473 207.3 474.1 205.5 474.3ZM202.2 473.3 204 473.2 205.5 474.3 203.8 474.4ZM200.5 473.5 202.2 473.3 203.8 474.4 202 474.6ZM198.7 473.6 200.5 473.5 202 474.6 200.2 474.7ZM196.9 473.8 198.7 473.6 200.2 474.7 198.4 474.9ZM195.2 473.9 196.9 473.8 198.4 474.9 196.7 475ZM193.4 474.1 195.2 473.9 196.7 475 194.9 475.2ZM191.6 474.2 193.4 474 194.9 475.2 193.1 475.3ZM189.8 474.4 191.6 474.2 193.1 475.3 191.3 475.5ZM188.1 474.5 189.8 474.3 191.3 475.5 189.5 475.6ZM186.3 474.7 188.1 474.5 189.5 475.6 187.7 475.8ZM184.5 474.8 186.3 474.6 187.7 475.8 186 475.9ZM182.7 475 184.5 474.8 186 475.9 184.2 476.1ZM180.9 475.1 182.7 474.9 184.2 476.1 182.4 476.2ZM179.1 475.3 180.9 475.1 182.4 476.2 180.6 476.4ZM177.3 475.4 179.1 475.2 180.6 476.3 178.8 476.5ZM175.5 474.6 177.3 474.5 178.8 475.6 177 475.8ZM173.7 473.4 175.6 473.3 177 474.4 175.2 474.6ZM172 470.6 173.8 470.4 175.2 471.5 173.4 471.7ZM170.2 467.2 172 467.1 173.4 468.2 171.6 468.3ZM168.4 461.5 170.3 461.3 171.7 462.4 169.8 462.6ZM166.7 454.3 168.5 454.2 169.9 455.2 168.1 455.4ZM165 433.9 166.9 433.8 168.3 434.8 166.4 434.9ZM163.2 427 165.1 426.9 166.5 427.8 164.6 427.9ZM161.4 421.8 163.3 421.7 164.7 422.6 162.8 422.7ZM159.6 418.2 161.5 418.1 162.8 419 161 419.1ZM157.8 415.6 159.6 415.5 161 416.3 159.2 416.4ZM155.9 414 157.8 413.9 159.2 414.7 157.3 414.9ZM154.1 412.4 156 412.3 157.3 413.2 155.4 413.3ZM152.2 413.4 154.1 413.3 155.4 414.1 153.6 414.2ZM150.4 415.2 152.2 415.1 153.6 415.9 151.7 416.1ZM148.5 417 150.3 416.9 151.7 417.7 149.8 417.9ZM146.6 419.5 148.5 419.4 149.8 420.3 147.9 420.4ZM144.7 422.7 146.6 422.6 147.9 423.5 146 423.6ZM142.8 427.6 144.7 427.5 146 428.4 144.1 428.5ZM140.9 433.2 142.8 433.1 144.1 434.1 142.2 434.2ZM139 438.9 140.9 438.7 142.2 439.7 140.3 439.8ZM137.1 443.2 139 443 140.3 444 138.4 444.2ZM135.3 447 137.1 446.8 138.4 447.8 136.5 448ZM133.4 450.8 135.3 450.6 136.5 451.7 134.6 451.8ZM131.5 454.6 133.4 454.4 134.6 455.5 132.7 455.6ZM129.6 457.2 131.5 457.1 132.7 458.1 130.8 458.3ZM127.7 459.5 129.6 459.3 130.8 460.4 128.9 460.6ZM125.8 461.8 127.7 461.6 128.9 462.7 127 462.8ZM123.9 464 125.8 463.9 127 465 125.1 465.1ZM122.1 466.3 123.9 466.1 125.1 467.3 123.2 467.4ZM120.2 467.8 122.1 467.6 123.2 468.7 121.3 468.9ZM118.3 469 120.2 468.8 121.3 470 119.4 470.1ZM116.4 470.2 118.3 470 119.4 471.2 117.5 471.3ZM114.5 471.4 116.4 471.2 117.5 472.4 115.6 472.5ZM112.6 472.6 114.5 472.4 115.6 473.6 113.7 473.7ZM110.7 473.8 112.6 473.6 113.7 474.8 111.8 475ZM108.8 475 110.7 474.8 111.8 476 109.9 476.2ZM106.8 476.2 108.8 476 109.9 477.2 108 477.4ZM104.9 476.8 106.8 476.7 108 477.8 106 478ZM103 477.4 104.9 477.3 106 478.4 104.1 478.6ZM101.1 478 103 477.8 104.1 479 102.2 479.2ZM99.2 478.6 101.1 478.4 102.2 479.6 100.3 479.8ZM97.2 479.2 99.2 479 100.3 480.2 98.3 480.4ZM95.3 479.8 97.3 479.6 98.3 480.8 96.4 481ZM93.4 480.3 95.3 480.2 96.4 481.4 94.5 481.5ZM91.5 480.9 93.4 480.8 94.5 482 92.5 482.1ZM89.5 481.5 91.5 481.3 92.5 482.5 90.6 482.7ZM87.6 482.1 89.5 481.9 90.6 483.1 88.6 483.3ZM85.6 482.6 87.6 482.4 88.6 483.6 86.7 483.8ZM83.7 482.9 85.6 482.7 86.7 483.9 84.7 484.1ZM81.7 483.2 83.7 483 84.7 484.2 82.7 484.4ZM79.8 483.5 81.7 483.3 82.7 484.5 80.8 484.7ZM77.8 483.8 79.8 483.6 80.8 484.9 78.8 485ZM75.9 484.1 77.8 483.9 78.8 485.2 76.8 485.4ZM73.9 484.4 75.9 484.3 76.8 485.5 74.9 485.7ZM71.9 484.8 73.9 484.6 74.9 485.8 72.9 486ZM70 485.1 71.9 484.9 72.9 486.1 70.9 486.3ZM68 485.4 70 485.2 70.9 486.4 68.9 486.6ZM66 485.8 68 485.6 68.9 486.8 67 487ZM64 486.2 66 486 67 487.2 65 487.4Z" fill="#4a9a4a"/>
<path d="M229.9 473 231.6 472.9 231.6 472.1 229.9 472.2ZM228.2 473.2 229.9 473 229.9 472.2 228.2 472.4ZM226.5 473.4 228.2 473.2 228.2 472.4 226.5 472.5ZM224.7 473.5 226.5 473.4 226.5 472.5 224.7 472.7ZM223 473.7 224.7 473.5 224.7 472.7 223 472.8ZM221.3 473.8 223 473.7 223 472.8 221.3 473ZM219.5 474 221.3 473.8 221.3 472.9 219.5 473.1ZM217.8 474.2 219.5 474 219.5 473.1 217.8 473.3ZM216 474.3 217.8 474.2 217.8 473.2 216 473.4ZM214.3 474.5 216 474.3 216 473.4 214.3 473.5ZM212.5 474.7 214.3 474.5 214.3 473.5 212.5 473.7ZM210.8 474.8 212.5 474.7 212.5 473.7 210.8 473.8ZM209 475 210.8 474.8 210.8 473.8 209 474ZM207.3 475.1 209 475 209 474 207.3 474.1ZM205.5 475.3 207.3 475.1 207.3 474.1 205.5 474.3ZM203.7 475.5 205.5 475.3 205.5 474.3 203.8 474.4ZM202 475.6 203.7 475.5 203.8 474.4 202 474.6ZM200.2 475.8 202 475.6 202 474.6 200.2 474.7ZM198.4 476 200.2 475.8 200.2 474.7 198.4 474.9ZM196.6 476.1 198.4 476 198.4 474.9 196.7 475ZM194.9 476.3 196.6 476.1 196.7 475 194.9 475.2ZM193.1 476.5 194.9 476.3 194.9 475.2 193.1 475.3ZM191.3 476.6 193.1 476.5 193.1 475.3 191.3 475.5ZM189.5 476.8 191.3 476.6 191.3 475.5 189.5 475.6ZM187.7 477 189.5 476.8 189.5 475.6 187.7 475.8ZM185.9 477.1 187.7 477 187.7 475.8 186 475.9ZM184.1 477.3 185.9 477.1 186 475.9 184.2 476.1ZM182.3 477.4 184.1 477.3 184.2 476.1 182.4 476.2ZM180.5 477.6 182.3 477.4 182.4 476.2 180.6 476.4ZM178.7 477.8 180.5 477.6 180.6 476.3 178.8 476.5ZM176.9 478 178.7 477.8 178.8 475.6 177 475.8ZM175.1 478.1 176.9 478 177 474.4 175.2 474.6ZM173.3 478.3 175.1 478.1 175.2 471.5 173.4 471.7ZM171.5 478.5 173.3 478.3 173.4 468.2 171.6 468.3ZM169.7 478.6 171.5 478.5 171.7 462.4 169.8 462.6ZM167.9 478.8 169.7 478.6 169.9 455.2 168.1 455.4ZM166 479 167.9 478.8 168.3 434.8 166.4 434.9ZM164.2 479.1 166 479 166.5 427.8 164.6 427.9ZM162.4 479.3 164.2 479.1 164.7 422.6 162.8 422.7ZM160.5 479.5 162.4 479.3 162.8 419 161 419.1ZM158.7 479.6 160.5 479.5 161 416.3 159.2 416.4ZM156.9 479.8 158.7 479.6 159.2 414.7 157.3 414.9ZM155 480 156.9 479.8 157.3 413.2 155.4 413.3ZM153.2 480.2 155 480 155.4 414.1 153.6 414.2ZM151.3 480.3 153.2 480.2 153.6 415.9 151.7 416.1ZM149.5 480.5 151.3 480.3 151.7 417.7 149.8 417.9ZM147.6 480.7 149.5 480.5 149.8 420.3 147.9 420.4ZM145.8 480.8 147.6 480.7 147.9 423.5 146 423.6ZM143.9 481 145.8 480.8 146 428.4 144.1 428.5ZM142 481.2 143.9 481 144.1 434.1 142.2 434.2ZM140.2 481.4 142 481.2 142.2 439.7 140.3 439.8ZM138.3 481.5 140.2 481.4 140.3 444 138.4 444.2ZM136.4 481.7 138.3 481.5 138.4 447.8 136.5 448ZM134.6 481.9 136.4 481.7 136.5 451.7 134.6 451.8ZM132.7 482 134.6 481.9 134.6 455.5 132.7 455.6ZM130.8 482.2 132.7 482 132.7 458.1 130.8 458.3ZM128.9 482.4 130.8 482.2 130.8 460.4 128.9 460.6ZM127 482.6 128.9 482.4 128.9 462.7 127 462.8ZM125.1 482.7 127 482.6 127 465 125.1 465.1ZM123.3 482.9 125.1 482.7 125.1 467.3 123.2 467.4ZM121.4 483.1 123.3 482.9 123.2 468.7 121.3 468.9ZM119.5 483.3 121.4 483.1 121.3 470 119.4 470.1ZM117.6 483.4 119.5 483.3 119.4 471.2 117.5 471.3ZM115.6 483.6 117.6 483.4 117.5 472.4 115.6 472.5ZM113.7 483.8 115.6 483.6 115.6 473.6 113.7 473.7ZM111.8 484 113.7 483.8 113.7 474.8 111.8 475ZM109.9 484.2 111.8 484 111.8 476 109.9 476.2ZM108 484.3 109.9 484.2 109.9 477.2 108 477.4ZM106.1 484.5 108 484.3 108 477.8 106 478ZM104.1 484.7 106.1 484.5 106 478.4 104.1 478.6ZM102.2 484.9 104.1 484.7 104.1 479 102.2 479.2ZM100.3 485 102.2 484.9 102.2 479.6 100.3 479.8ZM98.4 485.2 100.3 485 100.3 480.2 98.3 480.4ZM96.4 485.4 98.4 485.2 98.3 480.8 96.4 481ZM94.5 485.6 96.4 485.4 96.4 481.4 94.5 481.5ZM92.5 485.8 94.5 485.6 94.5 482 92.5 482.1ZM90.6 485.9 92.5 485.8 92.5 482.5 90.6 482.7ZM88.6 486.1 90.6 485.9 90.6 483.1 88.6 483.3ZM86.7 486.3 88.6 486.1 88.6 483.6 86.7 483.8ZM84.7 486.5 86.7 486.3 86.7 483.9 84.7 484.1ZM82.8 486.7 84.7 486.5 84.7 484.2 82.7 484.4ZM80.8 486.9 82.8 486.7 82.7 484.5 80.8 484.7ZM78.8 487 80.8 486.9 80.8 484.9 78.8 485ZM76.9 487.2 78.8 487 78.8 485.2 76.8 485.4ZM74.9 487.4 76.9 487.2 76.8 485.5 74.9 485.7ZM72.9 487.6 74.9 487.4 74.9 485.8 72.9 486ZM70.9 487.8 72.9 487.6 72.9 486.1 70.9 486.3ZM69 488 70.9 487.8 70.9 486.4 68.9 486.6ZM67 488.1 69 488 68.9 486.8 67 487ZM65 488.3 67 488.1 67 487.2 65 487.4Z" fill="#22c422" stroke="#4cae4c" stroke-width="0.45"/>
<path d="M65 488.3 67 488.1 67 487.2 65 487.4ZM64 486.2 66 486 67 487.2 65 487.4Z" fill="#59c259"/>
<path d="M67 488.1 69 488 68.9 486.8 67 487ZM66 485.8 68 485.6 68.9 486.8 67 487Z" fill="#59c259"/>
<path d="M69 488 70.9 487.8 70.9 486.4 68.9 486.6ZM68 485.4 70 485.2 70.9 486.4 68.9 486.6Z" fill="#59c259"/>
<path d="M70.9 487.8 72.9 487.6 72.9 486.1 70.9 486.3ZM70 485.1 71.9 484.9 72.9 486.1 70.9 486.3Z" fill="#59c259"/>
<path d="M72.9 487.6 74.9 487.4 74.9 485.8 72.9 486ZM71.9 484.8 73.9 484.6 74.9 485.8 72.9 486Z" fill="#59c259"/>
<path d="M74.9 487.4 76.9 487.2 76.8 485.5 74.9 485.7ZM73.9 484.4 75.9 484.3 76.8 485.5 74.9 485.7Z" fill="#59c259"/>
<path d="M76.9 487.2 78.8 487 78.8 485.2 76.8 485.4ZM75.9 484.1 77.8 483.9 78.8 485.2 76.8 485.4Z" fill="#59c259"/>
<path d="M78.8 487 80.8 486.9 80.8 484.9 78.8 485ZM77.8 483.8 79.8 483.6 80.8 484.9 78.8 485Z" fill="#59c259"/>
<path d="M80.8 486.9 82.8 486.7 82.7 484.5 80.8 484.7ZM79.8 483.5 81.7 483.3 82.7 484.5 80.8 484.7Z" fill="#59c259"/>
<path d="M82.8 486.7 84.7 486.5 84.7 484.2 82.7 484.4ZM81.7 483.2 83.7 483 84.7 484.2 82.7 484.4Z" fill="#59c259"/>
<path d="M84.7 486.5 86.7 486.3 86.7 483.9 84.7 484.1ZM83.7 482.9 85.6 482.7 86.7 483.9 84.7 484.1Z" fill="#59c259"/>
<path d="M86.7 486.3 88.6 486.1 88.6 483.6 86.7 483.8ZM85.6 482.6 87.6 482.4 88.6 483.6 86.7 483.8Z" fill="#59c259"/>
<path d="M88.6 486.1 90.6 485.9 90.6 483.1 88.6 483.3ZM87.6 482.1 89.5 481.9 90.6 483.1 88.6 483.3Z" fill="#59c259"/>
<path d="M90.6 485.9 92.5 485.8 92.5 482.5 90.6 482.7ZM89.5 481.5 91.5 481.3 92.5 482.5 90.6 482.7Z" fill="#59c259"/>
<path d="M92.5 485.8 94.5 485.6 94.5 482 92.5 482.1ZM91.5 480.9 93.4 480.8 94.5 482 92.5 482.1Z" fill="#59c259"/>
<path d="M94.5 485.6 96.4 485.4 96.4 481.4 94.5 481.5ZM93.4 480.3 95.3 480.2 96.4 481.4 94.5 481.5Z" fill="#53c253"/>
<path d="M96.4 485.4 98.4 485.2 98.3 480.8 96.4 481ZM95.3 479.8 97.3 479.6 98.3 480.8 96.4 481Z" fill="#49c349"/>
<path d="M98.4 485.2 100.3 485 100.3 480.2 98.3 480.4ZM97.2 479.2 99.2 479 100.3 480.2 98.3 480.4Z" fill="#3fc33f"/>
<path d="M100.3 485 102.2 484.9 102.2 479.6 100.3 479.8ZM99.2 478.6 101.1 478.4 102.2 479.6 100.3 479.8Z" fill="#34c334"/>
<path d="M102.2 484.9 104.1 484.7 104.1 479 102.2 479.2ZM101.1 478 103 477.8 104.1 479 102.2 479.2Z" fill="#2ac42a"/>
<path d="M175.1 478.1 176.9 478 177 474.4 175.2 474.6ZM173.7 473.4 175.6 473.3 177 474.4 175.2 474.6Z" fill="#59c259"/>
<path d="M176.9 478 178.7 477.8 178.8 475.6 177 475.8ZM175.5 474.6 177.3 474.5 178.8 475.6 177 475.8Z" fill="#59c259"/>
<path d="M178.7 477.8 180.5 477.6 180.6 476.3 178.8 476.5ZM177.3 475.4 179.1 475.2 180.6 476.3 178.8 476.5Z" fill="#59c259"/>
<path d="M180.5 477.6 182.3 477.4 182.4 476.2 180.6 476.4ZM179.1 475.3 180.9 475.1 182.4 476.2 180.6 476.4Z" fill="#59c259"/>
<path d="M182.3 477.4 184.1 477.3 184.2 476.1 182.4 476.2ZM180.9 475.1 182.7 474.9 184.2 476.1 182.4 476.2Z" fill="#59c259"/>
<path d="M184.1 477.3 185.9 477.1 186 475.9 184.2 476.1ZM182.7 475 184.5 474.8 186 475.9 184.2 476.1Z" fill="#59c259"/>
<path d="M185.9 477.1 187.7 477 187.7 475.8 186 475.9ZM184.5 474.8 186.3 474.6 187.7 475.8 186 475.9Z" fill="#59c259"/>
<path d="M187.7 477 189.5 476.8 189.5 475.6 187.7 475.8ZM186.3 474.7 188.1 474.5 189.5 475.6 187.7 475.8Z" fill="#59c259"/>
<path d="M189.5 476.8 191.3 476.6 191.3 475.5 189.5 475.6ZM188.1 474.5 189.8 474.3 191.3 475.5 189.5 475.6Z" fill="#59c259"/>
<path d="M191.3 476.6 193.1 476.5 193.1 475.3 191.3 475.5ZM189.8 474.4 191.6 474.2 193.1 475.3 191.3 475.5Z" fill="#59c259"/>
<path d="M193.1 476.5 194.9 476.3 194.9 475.2 193.1 475.3ZM191.6 474.2 193.4 474 194.9 475.2 193.1 475.3Z" fill="#59c259"/>
<path d="M194.9 476.3 196.6 476.1 196.7 475 194.9 475.2ZM193.4 474.1 195.2 473.9 196.7 475 194.9 475.2Z" fill="#59c259"/>
<path d="M196.6 476.1 198.4 476 198.4 474.9 196.7 475ZM195.2 473.9 196.9 473.8 198.4 474.9 196.7 475Z" fill="#59c259"/>
<path d="M198.4 476 200.2 475.8 200.2 474.7 198.4 474.9ZM196.9 473.8 198.7 473.6 200.2 474.7 198.4 474.9Z" fill="#59c259"/>
<path d="M200.2 475.8 202 475.6 202 474.6 200.2 474.7ZM198.7 473.6 200.5 473.5 202 474.6 200.2 474.7Z" fill="#59c259"/>
<path d="M202 475.6 203.7 475.5 203.8 474.4 202 474.6ZM200.5 473.5 202.2 473.3 203.8 474.4 202 474.6Z" fill="#59c259"/>
<path d="M203.7 475.5 205.5 475.3 205.5 474.3 203.8 474.4ZM202.2 473.3 204 473.2 205.5 474.3 203.8 474.4Z" fill="#59c259"/>
<path d="M205.5 475.3 207.3 475.1 207.3 474.1 205.5 474.3ZM204 473.2 205.7 473 207.3 474.1 205.5 474.3Z" fill="#59c259"/>
<path d="M207.3 475.1 209 475 209 474 207.3 474.1ZM205.7 473 207.5 472.9 209 474 207.3 474.1Z" fill="#59c259"/>
<path d="M209 475 210.8 474.8 210.8 473.8 209 474ZM207.5 472.9 209.2 472.7 210.8 473.8 209 474Z" fill="#59c259"/>
<path d="M210.8 474.8 212.5 474.7 212.5 473.7 210.8 473.8ZM209.2 472.7 211 472.6 212.5 473.7 210.8 473.8Z" fill="#59c259"/>
<path d="M212.5 474.7 214.3 474.5 214.3 473.5 212.5 473.7ZM211 472.6 212.7 472.4 214.3 473.5 212.5 473.7Z" fill="#59c259"/>
<path d="M214.3 474.5 216 474.3 216 473.4 214.3 473.5ZM212.7 472.4 214.5 472.3 216 473.4 214.3 473.5Z" fill="#59c259"/>
<path d="M216 474.3 217.8 474.2 217.8 473.2 216 473.4ZM214.5 472.3 216.2 472.1 217.8 473.2 216 473.4Z" fill="#59c259"/>
<path d="M217.8 474.2 219.5 474 219.5 473.1 217.8 473.3ZM216.2 472.2 217.9 472 219.5 473.1 217.8 473.3Z" fill="#59c259"/>
<path d="M219.5 474 221.3 473.8 221.3 472.9 219.5 473.1ZM217.9 472 219.7 471.8 221.3 472.9 219.5 473.1Z" fill="#59c259"/>
<path d="M221.3 473.8 223 473.7 223 472.8 221.3 473ZM219.7 471.9 221.4 471.7 223 472.8 221.3 473Z" fill="#59c259"/>
<path d="M223 473.7 224.7 473.5 224.7 472.7 223 472.8ZM221.4 471.7 223.1 471.6 224.7 472.7 223 472.8Z" fill="#59c259"/>
<path d="M224.7 473.5 226.5 473.4 226.5 472.5 224.7 472.7ZM223.1 471.6 224.9 471.4 226.5 472.5 224.7 472.7Z" fill="#59c259"/>
<path d="M226.5 473.4 228.2 473.2 228.2 472.4 226.5 472.5ZM224.9 471.4 226.6 471.3 228.2 472.4 226.5 472.5Z" fill="#59c259"/>
<path d="M228.2 473.2 229.9 473 229.9 472.2 228.2 472.4ZM226.6 471.3 228.3 471.1 229.9 472.2 228.2 472.4Z" fill="#59c259"/>
<path d="M229.9 473 231.6 472.9 231.6 472.1 229.9 472.2ZM228.3 471.1 230 471 231.6 472.1 229.9 472.2Z" fill="#59c259"/>
<path d="M246.1 483.8 247.9 485.1 247.9 484.2 246.1 483ZM244.3 484 246.1 485.2 246.1 484.4 244.3 483.2ZM242.5 484.2 244.3 485.4 244.3 484.5 242.5 483.3ZM240.7 484.4 242.5 485.6 242.5 484.7 240.7 483.5ZM238.9 484.6 240.7 485.8 240.7 484.9 238.9 483.7ZM237.1 484.7 238.8 485.9 238.9 485 237.1 483.8ZM235.3 484.9 237 486.1 237 485.2 235.3 484ZM233.5 485.1 235.2 486.3 235.2 485.4 233.5 484.2ZM231.6 485.3 233.4 486.5 233.4 485.6 231.7 484.3ZM229.8 485.4 231.6 486.7 231.6 485.7 229.8 484.5ZM228 485.6 229.7 486.8 229.8 485.9 228 484.7ZM226.2 485.8 227.9 487 227.9 486.1 226.2 484.9ZM224.4 486 226.1 487.2 226.1 486.2 224.4 485ZM222.5 486.2 224.2 487.4 224.3 486.4 222.6 485.2ZM220.7 486.3 222.4 487.6 222.4 486.6 220.7 485.4ZM218.9 486.5 220.6 487.8 220.6 486.8 218.9 485.5ZM217 486.7 218.7 487.9 218.7 486.9 217 485.7ZM215.2 486.9 216.9 488.1 216.9 487.1 215.2 485.9ZM213.3 487.1 215 488.3 215 487.3 213.4 486.1ZM211.5 487.2 213.2 488.5 213.2 487.5 211.5 486.2ZM209.7 487.4 211.3 488.7 211.3 487.6 209.7 486.4ZM207.8 487.6 209.4 488.8 209.5 487.8 207.8 486.6ZM205.9 487.8 207.6 489 207.6 488 206 486.7ZM204.1 488 205.7 489.2 205.7 488.2 204.1 486.9ZM202.2 488.2 203.8 489.4 203.9 488.3 202.2 487.1ZM200.4 488.3 202 489.6 202 488.5 200.4 487.3ZM198.5 488.5 200.1 489.8 200.1 488.7 198.5 487.4ZM196.6 488.7 198.2 490 198.2 488.6 196.6 487.3ZM194.7 488.9 196.3 490.1 196.4 488.2 194.8 486.9ZM192.9 489.1 194.4 490.3 194.5 488.1 192.9 486.8ZM191 489.3 192.6 490.5 192.6 487.4 191 486.1ZM189.1 489.4 190.7 490.7 190.7 487.5 189.1 486.2ZM187.2 489.6 188.8 490.9 188.8 485.6 187.3 484.4ZM185.3 489.8 186.9 491.1 186.9 486.7 185.4 485.4ZM183.4 490 185 491.3 185 486.6 183.5 485.4ZM181.5 490.2 183.1 491.5 183.1 488.6 181.6 487.3ZM179.6 490.4 181.2 491.6 181.2 487.7 179.7 486.4ZM177.7 490.6 179.2 491.8 179.3 485.3 177.8 484.1ZM175.8 490.7 177.3 492 177.4 485.7 175.9 484.5ZM173.9 490.9 175.4 492.2 175.5 484.2 174 482.9ZM172 491.1 173.5 492.4 173.6 480.1 172.1 478.8ZM170.1 491.3 171.6 492.6 171.7 484.5 170.2 483.2ZM168.2 491.5 169.6 492.8 169.7 483.7 168.3 482.4ZM166.3 491.7 167.7 493 167.8 480.7 166.4 479.5ZM164.3 491.9 165.8 493.2 165.9 483.3 164.4 482.1ZM162.4 492.1 163.8 493.4 164 479.1 162.5 477.9ZM160.5 492.3 161.9 493.5 162 483.1 160.5 481.8ZM158.5 492.4 160 493.7 160.1 479.9 158.6 478.6ZM156.6 492.6 158 493.9 158.1 479.6 156.7 478.4ZM154.7 492.8 156.1 494.1 156.1 483.9 154.7 482.7ZM152.7 493 154.1 494.3 154.2 484.8 152.8 483.6ZM150.8 493.2 152.2 494.5 152.2 486.4 150.8 485.2ZM148.8 493.4 150.2 494.7 150.2 484 148.9 482.8ZM146.9 493.6 148.2 494.9 148.3 484.8 146.9 483.5ZM144.9 493.8 146.3 495.1 146.3 486.8 144.9 485.5ZM142.9 494 144.3 495.3 144.3 486.3 143 485ZM141 494.2 142.3 495.5 142.3 488.5 141 487.2ZM139 494.4 140.3 495.7 140.4 485.7 139 484.5ZM137 494.6 138.4 495.9 138.4 487.4 137 486.1ZM135.1 494.7 136.4 496.1 136.4 487 135.1 485.7ZM133.1 494.9 134.4 496.3 134.4 489.4 133.1 488.1ZM131.1 495.1 132.4 496.5 132.4 491.4 131.1 490.1ZM129.1 495.3 130.4 496.7 130.4 489.2 129.1 487.9ZM127.1 495.5 128.4 496.9 128.4 490.4 127.1 489.1ZM125.1 495.7 126.4 497.1 126.4 490.5 125.1 489.2ZM123.1 495.9 124.4 497.3 124.4 491.4 123.1 490.1ZM121.1 496.1 122.4 497.5 122.4 492 121.1 490.7ZM119.1 496.3 120.4 497.7 120.4 492.7 119.1 491.4ZM117.1 496.5 118.4 497.9 118.4 493.4 117.1 492.1ZM115.1 496.7 116.3 498.1 116.3 493.9 115.1 492.6ZM113.1 496.9 114.3 498.3 114.3 494.3 113.1 493ZM111.1 497.1 112.3 498.5 112.3 494.8 111.1 493.4ZM109.1 497.3 110.3 498.7 110.3 495.2 109.1 493.9ZM107 497.5 108.2 498.9 108.2 495.6 107 494.3ZM105 497.7 106.2 499.1 106.2 496 105 494.7ZM103 497.9 104.2 499.3 104.1 496.4 103 495ZM101 498.1 102.1 499.5 102.1 496.7 100.9 495.4ZM98.9 498.3 100.1 499.7 100.1 497.1 98.9 495.7ZM96.9 498.5 98 499.9 98 497.4 96.9 496.1ZM94.8 498.7 96 500.1 95.9 497.8 94.8 496.4ZM92.8 498.9 93.9 500.3 93.9 498.1 92.8 496.8ZM90.7 499.1 91.8 500.5 91.8 498.5 90.7 497.1ZM88.7 499.3 89.8 500.7 89.8 498.8 88.7 497.5ZM86.6 499.5 87.7 500.9 87.7 499.1 86.6 497.8ZM84.6 499.7 85.6 501.1 85.6 499.4 84.5 498ZM82.5 499.9 83.6 501.3 83.5 499.7 82.5 498.3ZM80.4 500.1 81.5 501.5 81.5 499.9 80.4 498.5ZM78.3 500.3 79.4 501.7 79.4 500.2 78.3 498.8ZM76.3 500.5 77.3 501.9 77.3 500.5 76.3 499.1ZM74.2 500.7 75.2 502.1 75.2 500.7 74.2 499.3Z" fill="#1a1a9a"/>
<path d="M246.1 483 247.9 482.8 249.7 484 247.9 484.2ZM244.3 483.2 246.1 483 247.9 484.2 246.1 484.4ZM242.5 483.3 244.3 483.2 246.1 484.4 244.3 484.5ZM240.7 483.5 242.5 483.3 244.3 484.5 242.5 484.7ZM238.9 483.7 240.7 483.5 242.5 484.7 240.7 484.9ZM237.1 483.8 238.9 483.7 240.7 484.9 238.9 485ZM235.3 484 237.1 483.8 238.9 485 237 485.2ZM233.5 484.2 235.3 484 237 485.2 235.2 485.4ZM231.7 484.3 233.5 484.2 235.2 485.4 233.4 485.6ZM229.8 484.5 231.7 484.3 233.4 485.6 231.6 485.7ZM228 484.7 229.8 484.5 231.6 485.7 229.8 485.9ZM226.2 484.9 228 484.7 229.8 485.9 227.9 486.1ZM224.4 485 226.2 484.8 227.9 486.1 226.1 486.2ZM222.6 485.2 224.4 485 226.1 486.2 224.3 486.4ZM220.7 485.4 222.6 485.2 224.3 486.4 222.4 486.6ZM218.9 485.5 220.7 485.4 222.4 486.6 220.6 486.8ZM217 485.7 218.9 485.5 220.6 486.8 218.7 486.9ZM215.2 485.9 217 485.7 218.7 486.9 216.9 487.1ZM213.4 486.1 215.2 485.9 216.9 487.1 215 487.3ZM211.5 486.2 213.4 486 215 487.3 213.2 487.5ZM209.7 486.4 211.5 486.2 213.2 487.5 211.3 487.6ZM207.8 486.6 209.7 486.4 211.3 487.6 209.5 487.8ZM206 486.7 207.8 486.6 209.5 487.8 207.6 488ZM204.1 486.9 206 486.7 207.6 488 205.7 488.2ZM202.2 487.1 204.1 486.9 205.7 488.2 203.9 488.3ZM200.4 487.3 202.2 487.1 203.9 488.3 202 488.5ZM198.5 487.4 200.4 487.3 202 488.5 200.1 488.7ZM196.6 487.3 198.5 487.1 200.1 488.4 198.2 488.6ZM194.8 486.9 196.6 486.7 198.2 488 196.4 488.2ZM192.9 486.8 194.8 486.6 196.4 487.9 194.5 488.1ZM191 486.1 192.9 485.9 194.5 487.2 192.6 487.4ZM189.1 486.2 191 486 192.6 487.3 190.7 487.5ZM187.3 484.4 189.2 484.2 190.7 485.4 188.8 485.6ZM185.4 485.4 187.3 485.3 188.8 486.5 186.9 486.7ZM183.5 485.4 185.4 485.2 186.9 486.5 185 486.6ZM181.6 487.3 183.5 487.1 185 488.4 183.1 488.6ZM179.7 486.4 181.6 486.2 183.1 487.5 181.2 487.7ZM177.8 484.1 179.7 483.9 181.2 485.1 179.3 485.3ZM175.9 484.5 177.8 484.3 179.3 485.6 177.4 485.7ZM174 482.9 175.9 482.8 177.4 484 175.5 484.2ZM172.1 478.8 174 478.7 175.5 479.9 173.6 480.1ZM170.2 483.2 172.1 483.1 173.6 484.3 171.7 484.5ZM168.3 482.4 170.2 482.3 171.7 483.5 169.7 483.7ZM166.4 479.5 168.3 479.3 169.8 480.5 167.8 480.7ZM164.4 482.1 166.3 481.9 167.8 483.1 165.9 483.3ZM162.5 477.9 164.4 477.7 165.9 478.9 164 479.1ZM160.5 481.8 162.5 481.6 163.9 482.9 162 483.1ZM158.6 478.6 160.6 478.5 162 479.7 160.1 479.9ZM156.7 478.4 158.6 478.2 160.1 479.4 158.1 479.6ZM154.7 482.7 156.7 482.5 158.1 483.7 156.1 483.9ZM152.8 483.6 154.7 483.4 156.1 484.6 154.2 484.8ZM150.8 485.2 152.8 485 154.2 486.2 152.2 486.4ZM148.9 482.8 150.8 482.6 152.2 483.8 150.2 484ZM146.9 483.5 148.9 483.3 150.2 484.6 148.3 484.8ZM144.9 485.5 146.9 485.3 148.3 486.6 146.3 486.8ZM143 485 144.9 484.9 146.3 486.1 144.3 486.3ZM141 487.2 143 487 144.3 488.3 142.3 488.5ZM139 484.5 141 484.3 142.4 485.5 140.4 485.7ZM137 486.1 139 486 140.4 487.2 138.4 487.4ZM135.1 485.7 137 485.5 138.4 486.8 136.4 487ZM133.1 488.1 135.1 487.9 136.4 489.2 134.4 489.4ZM131.1 490.1 133.1 489.9 134.4 491.2 132.4 491.4ZM129.1 487.9 131.1 487.7 132.4 489 130.4 489.2ZM127.1 489.1 129.1 488.9 130.4 490.2 128.4 490.4ZM125.1 489.2 127.1 489 128.4 490.3 126.4 490.5ZM123.1 490.1 125.1 489.9 126.4 491.2 124.4 491.4ZM121.1 490.7 123.1 490.5 124.4 491.8 122.4 492ZM119.1 491.4 121.1 491.2 122.4 492.5 120.4 492.7ZM117.1 492.1 119.1 491.9 120.4 493.2 118.4 493.4ZM115.1 492.6 117.1 492.4 118.4 493.7 116.3 493.9ZM113.1 493 115.1 492.8 116.3 494.1 114.3 494.3ZM111.1 493.4 113.1 493.2 114.3 494.6 112.3 494.8ZM109.1 493.9 111.1 493.7 112.3 495 110.3 495.2ZM107 494.3 109.1 494.1 110.3 495.4 108.2 495.6ZM105 494.7 107 494.5 108.2 495.8 106.2 496ZM103 495 105 494.8 106.2 496.2 104.1 496.4ZM100.9 495.4 103 495.2 104.1 496.5 102.1 496.7ZM98.9 495.7 100.9 495.5 102.1 496.9 100.1 497.1ZM96.9 496.1 98.9 495.9 100.1 497.2 98 497.4ZM94.8 496.4 96.9 496.2 98 497.6 95.9 497.8ZM92.8 496.8 94.8 496.6 95.9 497.9 93.9 498.1ZM90.7 497.1 92.8 496.9 93.9 498.3 91.8 498.5ZM88.7 497.5 90.7 497.3 91.8 498.6 89.8 498.8ZM86.6 497.8 88.7 497.6 89.8 498.9 87.7 499.1ZM84.5 498 86.6 497.8 87.7 499.2 85.6 499.4ZM82.5 498.3 84.5 498.1 85.6 499.5 83.5 499.7ZM80.4 498.5 82.5 498.3 83.5 499.7 81.5 499.9ZM78.3 498.8 80.4 498.6 81.5 500 79.4 500.2ZM76.3 499.1 78.3 498.9 79.4 500.3 77.3 500.5ZM74.2 499.3 76.3 499.1 77.3 500.5 75.2 500.7Z" fill="#4a4a9a"/>
<path d="M247.9 485.1 249.7 484.9 249.7 484 247.9 484.2ZM246.1 485.2 247.9 485.1 247.9 484.2 246.1 484.4ZM244.3 485.4 246.1 485.2 246.1 484.4 244.3 484.5ZM242.5 485.6 244.3 485.4 244.3 484.5 242.5 484.7ZM240.7 485.8 242.5 485.6 242.5 484.7 240.7 484.9ZM238.8 485.9 240.7 485.8 240.7 484.9 238.9 485ZM237 486.1 238.8 485.9 238.9 485 237 485.2ZM235.2 486.3 237 486.1 237 485.2 235.2 485.4ZM233.4 486.5 235.2 486.3 235.2 485.4 233.4 485.6ZM231.6 486.7 233.4 486.5 233.4 485.6 231.6 485.7ZM229.7 486.8 231.6 486.7 231.6 485.7 229.8 485.9ZM227.9 487 229.7 486.8 229.8 485.9 227.9 486.1ZM226.1 487.2 227.9 487 227.9 486.1 226.1 486.2ZM224.2 487.4 226.1 487.2 226.1 486.2 224.3 486.4ZM222.4 487.6 224.2 487.4 224.3 486.4 222.4 486.6ZM220.6 487.8 222.4 487.6 222.4 486.6 220.6 486.8ZM218.7 487.9 220.6 487.8 220.6 486.8 218.7 486.9ZM216.9 488.1 218.7 487.9 218.7 486.9 216.9 487.1ZM215 488.3 216.9 488.1 216.9 487.1 215 487.3ZM213.2 488.5 215 488.3 215 487.3 213.2 487.5ZM211.3 488.7 213.2 488.5 213.2 487.5 211.3 487.6ZM209.4 488.8 211.3 488.7 211.3 487.6 209.5 487.8ZM207.6 489 209.4 488.8 209.5 487.8 207.6 488ZM205.7 489.2 207.6 489 207.6 488 205.7 488.2ZM203.8 489.4 205.7 489.2 205.7 488.2 203.9 488.3ZM202 489.6 203.8 489.4 203.9 488.3 202 488.5ZM200.1 489.8 202 489.6 202 488.5 200.1 488.7ZM198.2 490 200.1 489.8 200.1 488.4 198.2 488.6ZM196.3 490.1 198.2 490 198.2 488 196.4 488.2ZM194.4 490.3 196.3 490.1 196.4 487.9 194.5 488.1ZM192.6 490.5 194.4 490.3 194.5 487.2 192.6 487.4ZM190.7 490.7 192.6 490.5 192.6 487.3 190.7 487.5ZM188.8 490.9 190.7 490.7 190.7 485.4 188.8 485.6ZM186.9 491.1 188.8 490.9 188.8 486.5 186.9 486.7ZM185 491.3 186.9 491.1 186.9 486.5 185 486.6ZM183.1 491.5 185 491.3 185 488.4 183.1 488.6ZM181.2 491.6 183.1 491.5 183.1 487.5 181.2 487.7ZM179.2 491.8 181.2 491.6 181.2 485.1 179.3 485.3ZM177.3 492 179.2 491.8 179.3 485.6 177.4 485.7ZM175.4 492.2 177.3 492 177.4 484 175.5 484.2ZM173.5 492.4 175.4 492.2 175.5 479.9 173.6 480.1ZM171.6 492.6 173.5 492.4 173.6 484.3 171.7 484.5ZM169.6 492.8 171.6 492.6 171.7 483.5 169.7 483.7ZM167.7 493 169.6 492.8 169.8 480.5 167.8 480.7ZM165.8 493.2 167.7 493 167.8 483.1 165.9 483.3ZM163.8 493.4 165.8 493.2 165.9 478.9 164 479.1ZM161.9 493.5 163.8 493.4 163.9 482.9 162 483.1ZM160 493.7 161.9 493.5 162 479.7 160.1 479.9ZM158 493.9 160 493.7 160.1 479.4 158.1 479.6ZM156.1 494.1 158 493.9 158.1 483.7 156.1 483.9ZM154.1 494.3 156.1 494.1 156.1 484.6 154.2 484.8ZM152.2 494.5 154.1 494.3 154.2 486.2 152.2 486.4ZM150.2 494.7 152.2 494.5 152.2 483.8 150.2 484ZM148.2 494.9 150.2 494.7 150.2 484.6 148.3 484.8ZM146.3 495.1 148.2 494.9 148.3 486.6 146.3 486.8ZM144.3 495.3 146.3 495.1 146.3 486.1 144.3 486.3ZM142.3 495.5 144.3 495.3 144.3 488.3 142.3 488.5ZM140.3 495.7 142.3 495.5 142.4 485.5 140.4 485.7ZM138.4 495.9 140.3 495.7 140.4 487.2 138.4 487.4ZM136.4 496.1 138.4 495.9 138.4 486.8 136.4 487ZM134.4 496.3 136.4 496.1 136.4 489.2 134.4 489.4ZM132.4 496.5 134.4 496.3 134.4 491.2 132.4 491.4ZM130.4 496.7 132.4 496.5 132.4 489 130.4 489.2ZM128.4 496.9 130.4 496.7 130.4 490.2 128.4 490.4ZM126.4 497.1 128.4 496.9 128.4 490.3 126.4 490.5ZM124.4 497.3 126.4 497.1 126.4 491.2 124.4 491.4ZM122.4 497.5 124.4 497.3 124.4 491.8 122.4 492ZM120.4 497.7 122.4 497.5 122.4 492.5 120.4 492.7ZM118.4 497.9 120.4 497.7 120.4 493.2 118.4 493.4ZM116.3 498.1 118.4 497.9 118.4 493.7 116.3 493.9ZM114.3 498.3 116.3 498.1 116.3 494.1 114.3 494.3ZM112.3 498.5 114.3 498.3 114.3 494.6 112.3 494.8ZM110.3 498.7 112.3 498.5 112.3 495 110.3 495.2ZM108.2 498.9 110.3 498.7 110.3 495.4 108.2 495.6ZM106.2 499.1 108.2 498.9 108.2 495.8 106.2 496ZM104.2 499.3 106.2 499.1 106.2 496.2 104.1 496.4ZM102.1 499.5 104.2 499.3 104.1 496.5 102.1 496.7ZM100.1 499.7 102.1 499.5 102.1 496.9 100.1 497.1ZM98 499.9 100.1 499.7 100.1 497.2 98 497.4ZM96 500.1 98 499.9 98 497.6 95.9 497.8ZM93.9 500.3 96 500.1 95.9 497.9 93.9 498.1ZM91.8 500.5 93.9 500.3 93.9 498.3 91.8 498.5ZM89.8 500.7 91.8 500.5 91.8 498.6 89.8 498.8ZM87.7 500.9 89.8 500.7 89.8 498.9 87.7 499.1ZM85.6 501.1 87.7 500.9 87.7 499.2 85.6 499.4ZM83.6 501.3 85.6 501.1 85.6 499.5 83.5 499.7ZM81.5 501.5 83.6 501.3 83.5 499.7 81.5 499.9ZM79.4 501.7 81.5 501.5 81.5 500 79.4 500.2ZM77.3 501.9 79.4 501.7 79.4 500.3 77.3 500.5ZM75.2 502.1 77.3 501.9 77.3 500.5 75.2 500.7Z" fill="#2222d6" stroke="#4a4abc" stroke-width="0.45"/>
<path d="M265.8 497 267.8 498.4 267.8 497.5 265.8 496.1ZM263.9 497.2 265.9 498.6 265.9 497.6 263.9 496.3ZM262 497.4 264 498.8 264 497.8 262.1 496.5ZM260.1 497.6 262.1 499 262.2 498 260.2 496.7ZM258.3 497.8 260.2 499.2 260.3 498.2 258.3 496.8ZM256.4 498 258.3 499.4 258.4 498.4 256.4 497ZM254.5 498.2 256.4 499.6 256.5 498.6 254.5 497.2ZM252.6 498.4 254.5 499.8 254.6 498.7 252.6 497.4ZM250.7 498.6 252.6 500 252.7 498.9 250.7 497.6ZM248.8 498.8 250.7 500.2 250.8 499.1 248.8 497.8ZM246.9 499 248.8 500.4 248.9 499.3 246.9 497.9ZM245 499.2 246.9 500.6 246.9 499.5 245 498.1ZM243.1 499.4 245 500.8 245 499.7 243.1 498.3ZM241.2 499.6 243.1 501 243.1 499.8 241.2 498.5ZM239.3 499.8 241.2 501.2 241.2 499.9 239.3 498.6ZM237.3 500 239.2 501.4 239.3 500 237.4 498.6ZM235.4 500.2 237.3 501.6 237.3 500 235.5 498.7ZM233.5 500.4 235.4 501.8 235.4 500.1 233.5 498.7ZM231.6 500.6 233.4 502 233.5 500 231.6 498.6ZM229.6 500.8 231.5 502.2 231.7 492.2 229.9 490.8ZM227.7 501 229.5 502.4 229.8 492.4 227.9 491ZM225.8 501.2 227.6 502.6 227.8 492.6 226 491.2ZM223.8 501.4 225.6 502.8 225.7 498.2 223.9 496.9ZM221.9 501.6 223.7 503 223.8 498.5 222 497.1ZM219.9 501.8 221.7 503.2 222 492.2 220.2 490.9ZM218 502 219.8 503.4 220 492.4 218.2 491.1ZM216 502.2 217.8 503.6 217.9 498.8 216.1 497.5ZM214.1 502.5 215.8 503.9 215.9 499 214.2 497.6ZM212.1 502.7 213.9 504.1 213.9 500.3 212.2 498.9ZM210.1 502.9 211.9 504.3 212 500.2 210.2 498.8ZM208.2 503.1 209.9 504.5 210 498.5 208.3 497.2ZM206.2 503.3 207.9 504.7 208 499.1 206.3 497.7ZM204.2 503.5 206 504.9 206.1 497.8 204.3 496.5ZM202.2 503.7 204 505.1 204.1 497.8 202.4 496.4ZM200.3 503.9 202 505.3 202.1 499.4 200.4 498ZM198.3 504.1 200 505.5 200.1 496.2 198.4 494.9ZM196.3 504.3 198 505.7 198.1 498.5 196.4 497.1ZM194.3 504.5 196 506 196.1 499.6 194.4 498.2ZM192.3 504.7 194 506.2 194.1 499.7 192.4 498.3ZM190.3 505 192 506.4 192.1 499.3 190.4 497.9ZM188.3 505.2 189.9 506.6 190.1 496.7 188.4 495.4ZM186.3 505.4 187.9 506.8 188 500.9 186.4 499.5ZM184.3 505.6 185.9 507 186 496.7 184.4 495.3ZM182.3 505.8 183.9 507.2 184 499.8 182.3 498.4ZM180.2 506 181.9 507.5 182 499.2 180.3 497.8ZM178.2 506.2 179.8 507.7 179.9 497.9 178.3 496.5ZM176.2 506.4 177.8 507.9 177.9 499.8 176.3 498.4ZM174.2 506.7 175.7 508.1 175.8 502 174.2 500.6ZM172.1 506.9 173.7 508.3 173.8 502.8 172.2 501.4ZM170.1 507.1 171.7 508.5 171.7 500.3 170.2 498.9ZM168 507.3 169.6 508.7 169.7 502.4 168.1 501ZM166 507.5 167.6 509 167.6 504.1 166 502.7ZM164 507.7 165.5 509.2 165.5 504.6 164 503.2ZM161.9 507.9 163.4 509.4 163.5 503.7 161.9 502.2ZM159.8 508.2 161.4 509.6 161.4 505.5 159.9 504ZM157.8 508.4 159.3 509.8 159.3 504.3 157.8 502.8ZM155.7 508.6 157.2 510.1 157.3 506.2 155.7 504.7ZM153.7 508.8 155.2 510.3 155.2 505.6 153.7 504.1ZM151.6 509 153.1 510.5 153.1 505.4 151.6 504ZM149.5 509.2 151 510.7 151 507.1 149.5 505.7ZM147.4 509.5 148.9 510.9 148.9 505.8 147.5 504.4ZM145.4 509.7 146.8 511.2 146.8 507.6 145.4 506.1ZM143.3 509.9 144.7 511.4 144.7 507.5 143.3 506ZM141.2 510.1 142.6 511.6 142.6 507.4 141.2 505.9ZM139.1 510.3 140.5 511.8 140.5 507.8 139.1 506.3ZM137 510.6 138.4 512.1 138.4 508.1 137 506.7ZM134.9 510.8 136.3 512.3 136.3 508.5 134.9 507ZM132.8 511 134.2 512.5 134.2 508.9 132.8 507.4ZM130.7 511.2 132.1 512.7 132.1 509.2 130.7 507.8ZM128.6 511.4 129.9 512.9 129.9 509.6 128.6 508.1ZM126.5 511.7 127.8 513.2 127.8 510 126.5 508.5ZM124.3 511.9 125.7 513.4 125.7 510.4 124.3 508.9ZM122.2 512.1 123.5 513.6 123.5 510.8 122.2 509.3ZM120.1 512.3 121.4 513.9 121.4 511 120.1 509.5ZM117.9 512.6 119.3 514.1 119.3 511.3 117.9 509.8ZM115.8 512.8 117.1 514.3 117.1 511.5 115.8 510ZM113.7 513 115 514.5 115 511.8 113.7 510.3ZM111.5 513.2 112.8 514.8 112.8 512.1 111.5 510.6ZM109.4 513.5 110.7 515 110.7 512.3 109.4 510.8ZM107.2 513.7 108.5 515.2 108.5 512.6 107.2 511.1ZM105.1 513.9 106.3 515.4 106.3 512.8 105.1 511.3ZM102.9 514.1 104.2 515.7 104.2 513.1 102.9 511.6ZM100.8 514.4 102 515.9 102 513.4 100.7 511.9ZM98.6 514.6 99.8 516.1 99.8 513.6 98.6 512.1ZM96.4 514.8 97.6 516.4 97.6 513.9 96.4 512.4ZM94.2 515.1 95.4 516.6 95.4 514.2 94.2 512.6ZM92.1 515.3 93.3 516.8 93.2 514.5 92 512.9ZM89.9 515.5 91.1 517.1 91 514.8 89.9 513.3ZM87.7 515.7 88.9 517.3 88.8 515.2 87.7 513.7ZM85.5 516 86.7 517.5 86.6 515.6 85.5 514Z" fill="#1a9494"/>
<path d="M265.8 496.1 267.7 495.9 269.7 497.3 267.8 497.5ZM263.9 496.3 265.8 496.1 267.8 497.4 265.9 497.6ZM262.1 496.5 263.9 496.3 265.9 497.6 264 497.8ZM260.2 496.7 262.1 496.5 264 497.8 262.2 498ZM258.3 496.8 260.2 496.6 262.2 498 260.3 498.2ZM256.4 497 258.3 496.8 260.3 498.2 258.4 498.4ZM254.5 497.2 256.4 497 258.4 498.4 256.5 498.6ZM252.6 497.4 254.5 497.2 256.5 498.5 254.6 498.7ZM250.7 497.6 252.6 497.4 254.6 498.7 252.7 498.9ZM248.8 497.8 250.7 497.6 252.7 498.9 250.8 499.1ZM246.9 497.9 248.8 497.7 250.8 499.1 248.9 499.3ZM245 498.1 246.9 497.9 248.9 499.3 246.9 499.5ZM243.1 498.3 245 498.1 246.9 499.5 245 499.7ZM241.2 498.5 243.1 498.3 245 499.6 243.1 499.8ZM239.3 498.6 241.2 498.4 243.1 499.7 241.2 499.9ZM237.4 498.6 239.3 498.4 241.2 499.8 239.3 500ZM235.5 498.7 237.4 498.5 239.3 499.8 237.3 500ZM233.5 498.7 235.5 498.5 237.3 499.9 235.4 500.1ZM231.6 498.6 233.5 498.4 235.4 499.8 233.5 500ZM229.9 490.8 231.8 490.6 233.7 492 231.7 492.2ZM227.9 491 229.9 490.8 231.7 492.2 229.8 492.4ZM226 491.2 227.9 491 229.8 492.4 227.8 492.6ZM223.9 496.9 225.9 496.7 227.7 498 225.7 498.2ZM222 497.1 223.9 496.9 225.7 498.2 223.8 498.5ZM220.2 490.9 222.1 490.7 223.9 492 222 492.2ZM218.2 491.1 220.2 490.9 222 492.2 220 492.4ZM216.1 497.5 218.1 497.3 219.9 498.6 217.9 498.8ZM214.2 497.6 216.1 497.4 217.9 498.8 215.9 499ZM212.2 498.9 214.1 498.7 215.9 500 213.9 500.3ZM210.2 498.8 212.2 498.6 213.9 500 212 500.2ZM208.3 497.2 210.2 497 212 498.3 210 498.5ZM206.3 497.7 208.3 497.5 210 498.9 208 499.1ZM204.3 496.5 206.3 496.3 208.1 497.6 206.1 497.8ZM202.4 496.4 204.3 496.2 206.1 497.6 204.1 497.8ZM200.4 498 202.3 497.8 204.1 499.2 202.1 499.4ZM198.4 494.9 200.4 494.7 202.1 496 200.1 496.2ZM196.4 497.1 198.4 496.9 200.1 498.3 198.1 498.5ZM194.4 498.2 196.4 498 198.1 499.4 196.1 499.6ZM192.4 498.3 194.4 498.1 196.1 499.5 194.1 499.7ZM190.4 497.9 192.4 497.7 194.1 499.1 192.1 499.3ZM188.4 495.4 190.4 495.2 192.1 496.5 190.1 496.7ZM186.4 499.5 188.4 499.3 190 500.7 188 500.9ZM184.4 495.3 186.4 495.1 188.1 496.5 186 496.7ZM182.3 498.4 184.4 498.2 186 499.6 184 499.8ZM180.3 497.8 182.4 497.6 184 499 182 499.2ZM178.3 496.5 180.3 496.3 182 497.7 179.9 497.9ZM176.3 498.4 178.3 498.2 179.9 499.6 177.9 499.8ZM174.2 500.6 176.3 500.4 177.9 501.8 175.8 502ZM172.2 501.4 174.2 501.2 175.8 502.6 173.8 502.8ZM170.2 498.9 172.2 498.7 173.8 500.1 171.7 500.3ZM168.1 501 170.1 500.8 171.7 502.2 169.7 502.4ZM166 502.7 168.1 502.5 169.7 503.9 167.6 504.1ZM164 503.2 166 502.9 167.6 504.4 165.5 504.6ZM161.9 502.2 164 502 165.5 503.5 163.5 503.7ZM159.9 504 161.9 503.8 163.5 505.2 161.4 505.5ZM157.8 502.8 159.9 502.6 161.4 504.1 159.3 504.3ZM155.7 504.7 157.8 504.5 159.3 505.9 157.3 506.2ZM153.7 504.1 155.8 503.9 157.3 505.4 155.2 505.6ZM151.6 504 153.7 503.8 155.2 505.2 153.1 505.4ZM149.5 505.7 151.6 505.5 153.1 506.9 151 507.1ZM147.5 504.4 149.5 504.2 151 505.6 148.9 505.8ZM145.4 506.1 147.5 505.9 148.9 507.4 146.8 507.6ZM143.3 506 145.4 505.8 146.8 507.3 144.7 507.5ZM141.2 505.9 143.3 505.7 144.7 507.2 142.6 507.4ZM139.1 506.3 141.2 506.1 142.6 507.5 140.5 507.8ZM137 506.7 139.1 506.4 140.5 507.9 138.4 508.1ZM134.9 507 137 506.8 138.4 508.3 136.3 508.5ZM132.8 507.4 134.9 507.2 136.3 508.7 134.2 508.9ZM130.7 507.8 132.8 507.5 134.2 509 132.1 509.2ZM128.6 508.1 130.7 507.9 132.1 509.4 129.9 509.6ZM126.5 508.5 128.6 508.3 129.9 509.8 127.8 510ZM124.3 508.9 126.5 508.7 127.8 510.2 125.7 510.4ZM122.2 509.3 124.3 509 125.7 510.5 123.5 510.8ZM120.1 509.5 122.2 509.3 123.5 510.8 121.4 511ZM117.9 509.8 120.1 509.6 121.4 511.1 119.3 511.3ZM115.8 510 117.9 509.8 119.3 511.3 117.1 511.5ZM113.7 510.3 115.8 510.1 117.1 511.6 115 511.8ZM111.5 510.6 113.7 510.3 115 511.8 112.8 512.1ZM109.4 510.8 111.5 510.6 112.8 512.1 110.7 512.3ZM107.2 511.1 109.4 510.8 110.7 512.4 108.5 512.6ZM105.1 511.3 107.2 511.1 108.5 512.6 106.3 512.8ZM102.9 511.6 105.1 511.4 106.3 512.9 104.2 513.1ZM100.7 511.9 102.9 511.6 104.2 513.1 102 513.4ZM98.6 512.1 100.7 511.9 102 513.4 99.8 513.6ZM96.4 512.4 98.6 512.1 99.8 513.7 97.6 513.9ZM94.2 512.6 96.4 512.4 97.6 513.9 95.4 514.2ZM92 512.9 94.2 512.7 95.4 514.2 93.2 514.5ZM89.9 513.3 92 513.1 93.2 514.6 91 514.8ZM87.7 513.7 89.9 513.4 91 515 88.8 515.2ZM85.5 514 87.7 513.8 88.8 515.3 86.6 515.6Z" fill="#4a9a9a"/>
<path d="M267.8 498.4 269.7 498.2 269.7 497.3 267.8 497.5ZM265.9 498.6 267.8 498.4 267.8 497.4 265.9 497.6ZM264 498.8 265.9 498.6 265.9 497.6 264 497.8ZM262.1 499 264 498.8 264 497.8 262.2 498ZM260.2 499.2 262.1 499 262.2 498 260.3 498.2ZM258.3 499.4 260.2 499.2 260.3 498.2 258.4 498.4ZM256.4 499.6 258.3 499.4 258.4 498.4 256.5 498.6ZM254.5 499.8 256.4 499.6 256.5 498.5 254.6 498.7ZM252.6 500 254.5 499.8 254.6 498.7 252.7 498.9ZM250.7 500.2 252.6 500 252.7 498.9 250.8 499.1ZM248.8 500.4 250.7 500.2 250.8 499.1 248.9 499.3ZM246.9 500.6 248.8 500.4 248.9 499.3 246.9 499.5ZM245 500.8 246.9 500.6 246.9 499.5 245 499.7ZM243.1 501 245 500.8 245 499.6 243.1 499.8ZM241.2 501.2 243.1 501 243.1 499.7 241.2 499.9ZM239.2 501.4 241.2 501.2 241.2 499.8 239.3 500ZM237.3 501.6 239.2 501.4 239.3 499.8 237.3 500ZM235.4 501.8 237.3 501.6 237.3 499.9 235.4 500.1ZM233.4 502 235.4 501.8 235.4 499.8 233.5 500ZM231.5 502.2 233.4 502 233.7 492 231.7 492.2ZM229.5 502.4 231.5 502.2 231.7 492.2 229.8 492.4ZM227.6 502.6 229.5 502.4 229.8 492.4 227.8 492.6ZM225.6 502.8 227.6 502.6 227.7 498 225.7 498.2ZM223.7 503 225.6 502.8 225.7 498.2 223.8 498.5ZM221.7 503.2 223.7 503 223.9 492 222 492.2ZM219.8 503.4 221.7 503.2 222 492.2 220 492.4ZM217.8 503.6 219.8 503.4 219.9 498.6 217.9 498.8ZM215.8 503.9 217.8 503.6 217.9 498.8 215.9 499ZM213.9 504.1 215.8 503.9 215.9 500 213.9 500.3ZM211.9 504.3 213.9 504.1 213.9 500 212 500.2ZM209.9 504.5 211.9 504.3 212 498.3 210 498.5ZM207.9 504.7 209.9 504.5 210 498.9 208 499.1ZM206 504.9 207.9 504.7 208.1 497.6 206.1 497.8ZM204 505.1 206 504.9 206.1 497.6 204.1 497.8ZM202 505.3 204 505.1 204.1 499.2 202.1 499.4ZM200 505.5 202 505.3 202.1 496 200.1 496.2ZM198 505.7 200 505.5 200.1 498.3 198.1 498.5ZM196 506 198 505.7 198.1 499.4 196.1 499.6ZM194 506.2 196 506 196.1 499.5 194.1 499.7ZM192 506.4 194 506.2 194.1 499.1 192.1 499.3ZM189.9 506.6 192 506.4 192.1 496.5 190.1 496.7ZM187.9 506.8 189.9 506.6 190 500.7 188 500.9ZM185.9 507 187.9 506.8 188.1 496.5 186 496.7ZM183.9 507.2 185.9 507 186 499.6 184 499.8ZM181.9 507.5 183.9 507.2 184 499 182 499.2ZM179.8 507.7 181.9 507.5 182 497.7 179.9 497.9ZM177.8 507.9 179.8 507.7 179.9 499.6 177.9 499.8ZM175.7 508.1 177.8 507.9 177.9 501.8 175.8 502ZM173.7 508.3 175.7 508.1 175.8 502.6 173.8 502.8ZM171.7 508.5 173.7 508.3 173.8 500.1 171.7 500.3ZM169.6 508.7 171.7 508.5 171.7 502.2 169.7 502.4ZM167.6 509 169.6 508.7 169.7 503.9 167.6 504.1ZM165.5 509.2 167.6 509 167.6 504.4 165.5 504.6ZM163.4 509.4 165.5 509.2 165.5 503.5 163.5 503.7ZM161.4 509.6 163.4 509.4 163.5 505.2 161.4 505.5ZM159.3 509.8 161.4 509.6 161.4 504.1 159.3 504.3ZM157.2 510.1 159.3 509.8 159.3 505.9 157.3 506.2ZM155.2 510.3 157.2 510.1 157.3 505.4 155.2 505.6ZM153.1 510.5 155.2 510.3 155.2 505.2 153.1 505.4ZM151 510.7 153.1 510.5 153.1 506.9 151 507.1ZM148.9 510.9 151 510.7 151 505.6 148.9 505.8ZM146.8 511.2 148.9 510.9 148.9 507.4 146.8 507.6ZM144.7 511.4 146.8 511.2 146.8 507.3 144.7 507.5ZM142.6 511.6 144.7 511.4 144.7 507.2 142.6 507.4ZM140.5 511.8 142.6 511.6 142.6 507.5 140.5 507.8ZM138.4 512.1 140.5 511.8 140.5 507.9 138.4 508.1ZM136.3 512.3 138.4 512.1 138.4 508.3 136.3 508.5ZM134.2 512.5 136.3 512.3 136.3 508.7 134.2 508.9ZM132.1 512.7 134.2 512.5 134.2 509 132.1 509.2ZM129.9 512.9 132.1 512.7 132.1 509.4 129.9 509.6ZM127.8 513.2 129.9 512.9 129.9 509.8 127.8 510ZM125.7 513.4 127.8 513.2 127.8 510.2 125.7 510.4ZM123.5 513.6 125.7 513.4 125.7 510.5 123.5 510.8ZM121.4 513.9 123.5 513.6 123.5 510.8 121.4 511ZM119.3 514.1 121.4 513.9 121.4 511.1 119.3 511.3ZM117.1 514.3 119.3 514.1 119.3 511.3 117.1 511.5ZM115 514.5 117.1 514.3 117.1 511.6 115 511.8ZM112.8 514.8 115 514.5 115 511.8 112.8 512.1ZM110.7 515 112.8 514.8 112.8 512.1 110.7 512.3ZM108.5 515.2 110.7 515 110.7 512.4 108.5 512.6ZM106.3 515.4 108.5 515.2 108.5 512.6 106.3 512.8ZM104.2 515.7 106.3 515.4 106.3 512.9 104.2 513.1ZM102 515.9 104.2 515.7 104.2 513.1 102 513.4ZM99.8 516.1 102 515.9 102 513.4 99.8 513.6ZM97.6 516.4 99.8 516.1 99.8 513.7 97.6 513.9ZM95.4 516.6 97.6 516.4 97.6 513.9 95.4 514.2ZM93.3 516.8 95.4 516.6 95.4 514.2 93.2 514.5ZM91.1 517.1 93.3 516.8 93.2 514.6 91 514.8ZM88.9 517.3 91.1 517.1 91 515 88.8 515.2ZM86.7 517.5 88.9 517.3 88.8 515.3 86.6 515.6Z" fill="#26c8c8" stroke="#4cb0b0" stroke-width="0.45"/>
<line x1="50.5" y1="468.8" x2="91.4" y2="523.9" stroke="#000" stroke-width="1.6"/>
<line x1="91.4" y1="523.9" x2="277.8" y2="503.6" stroke="#000" stroke-width="1.6"/>
<line x1="50.5" y1="468.8" x2="56.3" y2="468.3" stroke="#000" stroke-width="1.1"/>
<line x1="50.2" y1="448.6" x2="53.5" y2="448.3" stroke="#000" stroke-width="1.1"/>
<line x1="49.8" y1="428.2" x2="55.7" y2="427.8" stroke="#000" stroke-width="1.1"/>
<line x1="49.5" y1="407.6" x2="52.9" y2="407.4" stroke="#000" stroke-width="1.1"/>
<line x1="49.2" y1="386.8" x2="55.1" y2="386.5" stroke="#000" stroke-width="1.1"/>
<line x1="48.8" y1="365.8" x2="52.2" y2="365.7" stroke="#000" stroke-width="1.1"/>
<line x1="48.5" y1="344.7" x2="54.4" y2="344.5" stroke="#000" stroke-width="1.1"/>
<line x1="48.1" y1="323.3" x2="51.5" y2="323.3" stroke="#000" stroke-width="1.1"/>
<line x1="47.8" y1="301.8" x2="53.8" y2="301.7" stroke="#000" stroke-width="1.1"/>
<line x1="54.7" y1="474.5" x2="60.7" y2="474" stroke="#000" stroke-width="1.4"/>
<line x1="59.2" y1="480.5" x2="65.2" y2="479.9" stroke="#000" stroke-width="1.4"/>
<line x1="63.8" y1="486.8" x2="70" y2="486.2" stroke="#000" stroke-width="1.4"/>
<line x1="68.7" y1="493.4" x2="75.1" y2="492.8" stroke="#000" stroke-width="1.4"/>
<line x1="73.9" y1="500.4" x2="80.5" y2="499.7" stroke="#000" stroke-width="1.4"/>
<line x1="79.4" y1="507.8" x2="86.1" y2="507.1" stroke="#000" stroke-width="1.4"/>
<line x1="85.2" y1="515.6" x2="92.1" y2="514.9" stroke="#000" stroke-width="1.4"/>
<line x1="91.4" y1="523.9" x2="89.9" y2="521.8" stroke="#000" stroke-width="1.0"/>
<line x1="111.5" y1="521.7" x2="110.7" y2="520.7" stroke="#000" stroke-width="1.0"/>
<line x1="123.1" y1="520.4" x2="122.3" y2="519.4" stroke="#000" stroke-width="1.0"/>
<line x1="131.3" y1="519.5" x2="130.4" y2="518.5" stroke="#000" stroke-width="1.0"/>
<line x1="137.6" y1="518.8" x2="136.7" y2="517.9" stroke="#000" stroke-width="1.0"/>
<line x1="142.7" y1="518.3" x2="141.8" y2="517.3" stroke="#000" stroke-width="1.0"/>
<line x1="147.1" y1="517.8" x2="146.1" y2="516.8" stroke="#000" stroke-width="1.0"/>
<line x1="150.8" y1="517.4" x2="149.8" y2="516.4" stroke="#000" stroke-width="1.0"/>
<line x1="154.1" y1="517.1" x2="153.1" y2="516.1" stroke="#000" stroke-width="1.0"/>
<line x1="157" y1="516.7" x2="155.1" y2="514.8" stroke="#000" stroke-width="1.0"/>
<line x1="176" y1="514.7" x2="175" y2="513.7" stroke="#000" stroke-width="1.0"/>
<line x1="187" y1="513.5" x2="186" y2="512.5" stroke="#000" stroke-width="1.0"/>
<line x1="194.8" y1="512.6" x2="193.7" y2="511.7" stroke="#000" stroke-width="1.0"/>
<line x1="200.7" y1="512" x2="199.6" y2="511" stroke="#000" stroke-width="1.0"/>
<line x1="205.6" y1="511.5" x2="204.5" y2="510.5" stroke="#000" stroke-width="1.0"/>
<line x1="209.7" y1="511" x2="208.5" y2="510.1" stroke="#000" stroke-width="1.0"/>
<line x1="213.2" y1="510.6" x2="212" y2="509.7" stroke="#000" stroke-width="1.0"/>
<line x1="216.3" y1="510.3" x2="215.1" y2="509.4" stroke="#000" stroke-width="1.0"/>
<line x1="219" y1="510" x2="216.8" y2="508.2" stroke="#000" stroke-width="1.0"/>
<line x1="237.1" y1="508" x2="235.9" y2="507.1" stroke="#000" stroke-width="1.0"/>
<line x1="247.5" y1="506.9" x2="246.3" y2="506" stroke="#000" stroke-width="1.0"/>
<line x1="254.8" y1="506.1" x2="253.6" y2="505.2" stroke="#000" stroke-width="1.0"/>
<line x1="260.5" y1="505.5" x2="259.2" y2="504.6" stroke="#000" stroke-width="1.0"/>
<line x1="265.1" y1="505" x2="263.8" y2="504.1" stroke="#000" stroke-width="1.0"/>
<line x1="268.9" y1="504.6" x2="267.6" y2="503.7" stroke="#000" stroke-width="1.0"/>
<line x1="272.3" y1="504.2" x2="271" y2="503.3" stroke="#000" stroke-width="1.0"/>
<line x1="275.2" y1="503.9" x2="273.9" y2="503" stroke="#000" stroke-width="1.0"/>
<line x1="277.8" y1="503.6" x2="275.2" y2="501.9" stroke="#000" stroke-width="1.0"/>
</g>
<g>
<text x="46.1" y="473.6" class="zl" text-anchor="end">0</text>
<text x="45.4" y="433" class="zl" text-anchor="end">1</text>
<text x="44.8" y="391.6" class="zl" text-anchor="end">2</text>
<text x="44.1" y="349.5" class="zl" text-anchor="end">3</text>
<text x="43.4" y="306.6" class="zl" text-anchor="end">4</text>
<text transform="matrix(0.994,-0.111,0.410,0.568,90.4,530.7)" class="xl" text-anchor="middle" dy="0.35em">1</text>
<text transform="matrix(0.994,-0.111,0.492,0.498,160.5,522.5)" class="xl" text-anchor="middle" dy="0.35em">10</text>
<text transform="matrix(0.994,-0.111,0.548,0.436,227.0,515.5)" class="xl" text-anchor="middle" dy="0.35em">100</text>
<text transform="matrix(0.994,-0.111,0.584,0.386,288.0,509.0)" class="xl" text-anchor="middle" dy="0.35em">1000</text>
<text transform="matrix(0.993,-0.117,0.485,0.447,198.0,532.2)" class="xt" text-anchor="middle" dy="0.35em" textLength="125" lengthAdjust="spacingAndGlyphs">Chord Length (μm)</text>
<text transform="translate(27.8,455) rotate(-90)" class="yl" textLength="127" lengthAdjust="spacingAndGlyphs">counts<tspan dx="5">(</tspan>Square Weight)</text>
<rect x="172.5" y="324.4" width="107" height="51.6" fill="#fff" stroke="#9a9a9a" stroke-width="1.3"/>
<rect x="174.3" y="326" width="21.4" height="10.8" fill="#fc5c5c"/>
<text x="198.5" y="335.4" class="lg3">Origination</text>
<rect x="174.3" y="338.4" width="21.4" height="10.8" fill="#5cf45c"/>
<text x="198.5" y="347.8" class="lg3">+1.0 g/kg Chitosan</text>
<rect x="174.3" y="350.8" width="21.4" height="10.8" fill="#5c5cfa"/>
<text x="198.5" y="360.2" class="lg3">After + Chitosan</text>
<rect x="174.3" y="363.2" width="21.4" height="10.8" fill="#5cf8f8"/>
<text x="198.5" y="372.6" class="lg3">After settlement</text>
<text x="157" y="563.5" class="cap" text-anchor="middle">(<tspan font-weight="bold">c</tspan>)</text>
</g>
<g id="d">
<line x1="503" y1="465.1" x2="500.3" y2="305" stroke="#d0d0d0" stroke-width="0.6"/>
<line x1="512.1" y1="464.3" x2="509.9" y2="304.9" stroke="#d0d0d0" stroke-width="0.6"/>
<line x1="518.6" y1="463.8" x2="516.6" y2="304.8" stroke="#d0d0d0" stroke-width="0.6"/>
<line x1="523.6" y1="463.4" x2="521.8" y2="304.8" stroke="#d0d0d0" stroke-width="0.6"/>
<line x1="527.6" y1="463.1" x2="526" y2="304.7" stroke="#d0d0d0" stroke-width="0.6"/>
<line x1="531.1" y1="462.8" x2="529.6" y2="304.7" stroke="#d0d0d0" stroke-width="0.6"/>
<line x1="534" y1="462.6" x2="532.7" y2="304.6" stroke="#d0d0d0" stroke-width="0.6"/>
<line x1="536.6" y1="462.4" x2="535.4" y2="304.6" stroke="#d0d0d0" stroke-width="0.6"/>
<line x1="538.9" y1="462.2" x2="537.8" y2="304.6" stroke="#d0d0d0" stroke-width="0.6"/>
<line x1="554.1" y1="461" x2="553.6" y2="304.4" stroke="#d0d0d0" stroke-width="0.6"/>
<line x1="562.9" y1="460.3" x2="562.7" y2="304.3" stroke="#d0d0d0" stroke-width="0.6"/>
<line x1="569.1" y1="459.8" x2="569.1" y2="304.2" stroke="#d0d0d0" stroke-width="0.6"/>
<line x1="573.8" y1="459.4" x2="574.1" y2="304.1" stroke="#d0d0d0" stroke-width="0.6"/>
<line x1="577.7" y1="459.1" x2="578.2" y2="304.1" stroke="#d0d0d0" stroke-width="0.6"/>
<line x1="581" y1="458.9" x2="581.6" y2="304.1" stroke="#d0d0d0" stroke-width="0.6"/>
<line x1="583.8" y1="458.6" x2="584.5" y2="304" stroke="#d0d0d0" stroke-width="0.6"/>
<line x1="586.3" y1="458.4" x2="587.1" y2="304" stroke="#d0d0d0" stroke-width="0.6"/>
<line x1="588.6" y1="458.3" x2="589.4" y2="304" stroke="#d0d0d0" stroke-width="0.6"/>
<line x1="603.1" y1="457.1" x2="604.5" y2="303.8" stroke="#d0d0d0" stroke-width="0.6"/>
<line x1="611.5" y1="456.4" x2="613.2" y2="303.7" stroke="#d0d0d0" stroke-width="0.6"/>
<line x1="617.4" y1="456" x2="619.4" y2="303.6" stroke="#d0d0d0" stroke-width="0.6"/>
<line x1="622" y1="455.6" x2="624.1" y2="303.5" stroke="#d0d0d0" stroke-width="0.6"/>
<line x1="625.7" y1="455.3" x2="628" y2="303.5" stroke="#d0d0d0" stroke-width="0.6"/>
<line x1="628.9" y1="455.1" x2="631.3" y2="303.5" stroke="#d0d0d0" stroke-width="0.6"/>
<line x1="631.6" y1="454.8" x2="634.1" y2="303.4" stroke="#d0d0d0" stroke-width="0.6"/>
<line x1="634" y1="454.6" x2="636.6" y2="303.4" stroke="#d0d0d0" stroke-width="0.6"/>
<line x1="486.3" y1="427.3" x2="636.8" y2="417.8" stroke="#d0d0d0" stroke-width="0.6"/>
<line x1="485.5" y1="387.4" x2="637.4" y2="380.4" stroke="#d0d0d0" stroke-width="0.6"/>
<line x1="484.6" y1="346.8" x2="638.1" y2="342.2" stroke="#d0d0d0" stroke-width="0.6"/>
<line x1="643.3" y1="459.2" x2="646.3" y2="304.7" stroke="#d0d0d0" stroke-width="0.6"/>
<line x1="650.8" y1="464.2" x2="654.2" y2="306" stroke="#d0d0d0" stroke-width="0.6"/>
<line x1="658.7" y1="469.5" x2="662.5" y2="307.5" stroke="#d0d0d0" stroke-width="0.6"/>
<line x1="666.9" y1="475" x2="671.2" y2="309" stroke="#d0d0d0" stroke-width="0.6"/>
<line x1="675.6" y1="480.8" x2="680.4" y2="310.5" stroke="#d0d0d0" stroke-width="0.6"/>
<line x1="684.8" y1="486.9" x2="690.1" y2="312.2" stroke="#d0d0d0" stroke-width="0.6"/>
<line x1="694.4" y1="493.3" x2="700.4" y2="314" stroke="#d0d0d0" stroke-width="0.6"/>
<line x1="636.8" y1="417.8" x2="706.2" y2="455.6" stroke="#d0d0d0" stroke-width="0.6"/>
<line x1="637.4" y1="380.4" x2="707.9" y2="410.1" stroke="#d0d0d0" stroke-width="0.6"/>
<line x1="638.1" y1="342.2" x2="709.5" y2="363.6" stroke="#d0d0d0" stroke-width="0.6"/>
<line x1="503" y1="465.1" x2="544.7" y2="516.6" stroke="#d0d0d0" stroke-width="0.6"/>
<line x1="512.1" y1="464.3" x2="555.8" y2="515.5" stroke="#d0d0d0" stroke-width="0.6"/>
<line x1="518.6" y1="463.8" x2="563.7" y2="514.7" stroke="#d0d0d0" stroke-width="0.6"/>
<line x1="523.6" y1="463.4" x2="569.7" y2="514" stroke="#d0d0d0" stroke-width="0.6"/>
<line x1="527.6" y1="463.1" x2="574.6" y2="513.5" stroke="#d0d0d0" stroke-width="0.6"/>
<line x1="531.1" y1="462.8" x2="578.8" y2="513.1" stroke="#d0d0d0" stroke-width="0.6"/>
<line x1="534" y1="462.6" x2="582.4" y2="512.7" stroke="#d0d0d0" stroke-width="0.6"/>
<line x1="536.6" y1="462.4" x2="585.5" y2="512.4" stroke="#d0d0d0" stroke-width="0.6"/>
<line x1="538.9" y1="462.2" x2="588.3" y2="512.1" stroke="#d0d0d0" stroke-width="0.6"/>
<line x1="554.1" y1="461" x2="606.6" y2="510.2" stroke="#d0d0d0" stroke-width="0.6"/>
<line x1="562.9" y1="460.3" x2="617.2" y2="509.1" stroke="#d0d0d0" stroke-width="0.6"/>
<line x1="569.1" y1="459.8" x2="624.6" y2="508.4" stroke="#d0d0d0" stroke-width="0.6"/>
<line x1="573.8" y1="459.4" x2="630.4" y2="507.8" stroke="#d0d0d0" stroke-width="0.6"/>
<line x1="577.7" y1="459.1" x2="635" y2="507.3" stroke="#d0d0d0" stroke-width="0.6"/>
<line x1="581" y1="458.9" x2="639" y2="506.9" stroke="#d0d0d0" stroke-width="0.6"/>
<line x1="583.8" y1="458.6" x2="642.3" y2="506.5" stroke="#d0d0d0" stroke-width="0.6"/>
<line x1="586.3" y1="458.4" x2="645.3" y2="506.2" stroke="#d0d0d0" stroke-width="0.6"/>
<line x1="588.6" y1="458.3" x2="648" y2="506" stroke="#d0d0d0" stroke-width="0.6"/>
<line x1="603.1" y1="457.1" x2="665.4" y2="504.2" stroke="#d0d0d0" stroke-width="0.6"/>
<line x1="611.5" y1="456.4" x2="675.4" y2="503.1" stroke="#d0d0d0" stroke-width="0.6"/>
<line x1="617.4" y1="456" x2="682.4" y2="502.4" stroke="#d0d0d0" stroke-width="0.6"/>
<line x1="622" y1="455.6" x2="687.9" y2="501.8" stroke="#d0d0d0" stroke-width="0.6"/>
<line x1="625.7" y1="455.3" x2="692.3" y2="501.4" stroke="#d0d0d0" stroke-width="0.6"/>
<line x1="628.9" y1="455.1" x2="696.1" y2="501" stroke="#d0d0d0" stroke-width="0.6"/>
<line x1="631.6" y1="454.8" x2="699.3" y2="500.7" stroke="#d0d0d0" stroke-width="0.6"/>
<line x1="634" y1="454.6" x2="702.1" y2="500.4" stroke="#d0d0d0" stroke-width="0.6"/>
<line x1="491.1" y1="471.7" x2="643.3" y2="459.2" stroke="#d0d0d0" stroke-width="0.6"/>
<line x1="495.2" y1="477.4" x2="650.8" y2="464.2" stroke="#d0d0d0" stroke-width="0.6"/>
<line x1="499.6" y1="483.4" x2="658.7" y2="469.5" stroke="#d0d0d0" stroke-width="0.6"/>
<line x1="504.2" y1="489.7" x2="666.9" y2="475" stroke="#d0d0d0" stroke-width="0.6"/>
<line x1="509" y1="496.3" x2="675.6" y2="480.8" stroke="#d0d0d0" stroke-width="0.6"/>
<line x1="514.1" y1="503.3" x2="684.8" y2="486.9" stroke="#d0d0d0" stroke-width="0.6"/>
<line x1="519.6" y1="510.7" x2="694.4" y2="493.3" stroke="#d0d0d0" stroke-width="0.6"/>
<line x1="487.1" y1="466.3" x2="483.8" y2="305.2" stroke="#111" stroke-width="1.1"/>
<line x1="483.8" y1="305.2" x2="638.8" y2="303.4" stroke="#111" stroke-width="1.1"/>
<line x1="636.1" y1="454.5" x2="638.8" y2="303.4" stroke="#111" stroke-width="1.1"/>
<line x1="638.8" y1="303.4" x2="711.2" y2="315.9" stroke="#111" stroke-width="1.1"/>
<line x1="704.6" y1="500.1" x2="711.2" y2="315.9" stroke="#111" stroke-width="1.1"/>
<line x1="487.1" y1="466.3" x2="636.1" y2="454.5" stroke="#111" stroke-width="1.1"/>
<line x1="636.1" y1="454.5" x2="704.6" y2="500.1" stroke="#111" stroke-width="1.1"/>
<path d="M642 459.6 643.5 460.6 643.5 459.8 642.1 458.9ZM640.5 459.7 641.9 460.7 641.9 459.9 640.5 459ZM638.9 459.9 640.3 460.8 640.3 460.1 638.9 459.1ZM637.3 460 638.7 461 638.7 460.2 637.3 459.2ZM635.7 460.1 637.1 461.1 637.1 460.3 635.7 459.4ZM634.1 460.3 635.5 461.2 635.5 460.4 634.1 459.5ZM632.5 460.4 633.9 461.4 633.9 460.6 632.5 459.6ZM630.9 460.5 632.2 461.5 632.3 460.7 630.9 459.7ZM629.3 460.7 630.6 461.6 630.7 460.8 629.3 459.9ZM627.7 460.8 629 461.7 629 460.9 627.7 460ZM626.1 460.9 627.4 461.9 627.4 461.1 626.1 460.1ZM624.5 461.1 625.8 462 625.8 461.2 624.5 460.2ZM622.8 461.2 624.2 462.2 624.2 461.3 622.9 460.4ZM621.2 461.3 622.6 462.3 622.6 461.4 621.2 460.5ZM619.6 461.5 620.9 462.4 620.9 461.6 619.6 460.6ZM618 461.6 619.3 462.6 619.3 461.7 618 460.7ZM616.4 461.7 617.7 462.7 617.7 461.8 616.4 460.9ZM614.7 461.9 616 462.8 616.1 461.9 614.7 461ZM613.1 462 614.4 463 614.4 462.1 613.1 461.1ZM611.5 462.1 612.8 463.1 612.8 462.2 611.5 461.2ZM609.8 462.3 611.1 463.2 611.1 462.3 609.9 461.4ZM608.2 462.4 609.5 463.4 609.5 462.5 608.2 461.5ZM606.6 462.5 607.8 463.5 607.9 462.6 606.6 461.6ZM604.9 462.7 606.2 463.6 606.2 462.7 604.9 461.7ZM603.3 462.8 604.6 463.8 604.6 462.8 603.3 461.9ZM601.7 462.9 602.9 463.9 602.9 463 601.7 462ZM600 463.1 601.3 464 601.3 463.1 600 462.1ZM598.4 463.2 599.6 464.2 599.6 463.1 598.4 462.2ZM596.7 463.3 597.9 464.3 598 462.7 596.7 461.7ZM595.1 463.5 596.3 464.5 596.3 462.2 595.1 461.3ZM593.4 463.6 594.6 464.6 594.6 461.8 593.4 460.8ZM591.7 463.7 593 464.7 593 460 591.8 459ZM590.1 463.9 591.3 464.9 591.3 457 590.1 456ZM588.4 464 589.6 465 589.7 453.4 588.5 452.4ZM586.8 464.2 587.9 465.1 588.1 442.7 586.9 441.8ZM585.1 464.3 586.3 465.3 586.4 429.1 585.2 428.3ZM583.4 464.4 584.6 465.4 584.8 410.6 583.6 409.8ZM581.7 464.6 582.9 465.6 583.2 395.8 582 395.1ZM580.1 464.7 581.2 465.7 581.5 385.9 580.3 385.3ZM578.4 464.8 579.5 465.8 579.8 379.3 578.6 378.7ZM576.7 465 577.9 466 578.1 374.3 576.9 373.7ZM575 465.1 576.2 466.1 576.4 369.4 575.2 368.8ZM573.3 465.3 574.5 466.3 574.7 364 573.5 363.4ZM571.7 465.4 572.8 466.4 572.9 358.6 571.8 358ZM570 465.5 571.1 466.5 571.2 356.5 570 355.9ZM568.3 465.7 569.4 466.7 569.4 357.7 568.3 357.2ZM566.6 465.8 567.7 466.8 567.7 359.8 566.6 359.3ZM564.9 466 566 467 565.9 367.5 564.8 367ZM563.2 466.1 564.3 467.1 564.2 375.3 563.1 374.7ZM561.5 466.2 562.6 467.2 562.5 382.3 561.3 381.7ZM559.8 466.4 560.9 467.4 560.7 389.3 559.6 388.7ZM558.1 466.5 559.1 467.5 559 397.6 557.9 396.9ZM556.4 466.7 557.4 467.7 557.3 406.2 556.2 405.5ZM554.6 466.8 555.7 467.8 555.5 414.1 554.5 413.3ZM552.9 466.9 554 468 553.8 420.1 552.8 419.3ZM551.2 467.1 552.3 468.1 552.1 426.1 551 425.3ZM549.5 467.2 550.5 468.2 550.4 430.9 549.3 430.1ZM547.8 467.4 548.8 468.4 548.6 435 547.6 434.1ZM546 467.5 547.1 468.5 546.9 439 545.9 438.1ZM544.3 467.6 545.3 468.7 545.2 442.4 544.2 441.5ZM542.6 467.8 543.6 468.8 543.4 444.9 542.4 443.9ZM540.9 467.9 541.8 469 541.7 447.3 540.7 446.3ZM539.1 468.1 540.1 469.1 540 449.7 539 448.8ZM537.4 468.2 538.4 469.2 538.2 452.1 537.2 451.2ZM535.6 468.4 536.6 469.4 536.5 454.5 535.5 453.6ZM533.9 468.5 534.9 469.5 534.7 455.9 533.8 454.9ZM532.1 468.6 533.1 469.7 533 457 532 456ZM530.4 468.8 531.4 469.8 531.2 458.1 530.3 457.1ZM528.6 468.9 529.6 470 529.5 459.2 528.5 458.3ZM526.9 469.1 527.8 470.1 527.7 460.4 526.8 459.4ZM525.1 469.2 526.1 470.3 526 461.5 525 460.5ZM523.4 469.4 524.3 470.4 524.2 462.6 523.3 461.6ZM521.6 469.5 522.5 470.5 522.5 463.6 521.5 462.6ZM519.9 469.6 520.8 470.7 520.7 464.1 519.8 463.1ZM518.1 469.8 519 470.8 518.9 464.6 518 463.6ZM516.3 469.9 517.2 471 517.1 465.2 516.2 464.1ZM514.5 470.1 515.4 471.1 515.4 465.7 514.5 464.7ZM512.8 470.2 513.6 471.3 513.6 466.2 512.7 465.2ZM511 470.4 511.9 471.4 511.8 466.8 510.9 465.7ZM509.2 470.5 510.1 471.6 510 467.3 509.1 466.3ZM507.4 470.7 508.3 471.7 508.2 467.8 507.4 466.8ZM505.6 470.8 506.5 471.9 506.4 468.4 505.6 467.3ZM503.9 471 504.7 472 504.6 468.9 503.8 467.8ZM502.1 471.1 502.9 472.2 502.8 469.3 502 468.2ZM500.3 471.3 501.1 472.3 501 469.7 500.2 468.6ZM498.5 471.4 499.3 472.5 499.2 470.1 498.4 469ZM496.7 471.6 497.5 472.6 497.4 470.5 496.6 469.4ZM494.9 471.7 495.7 472.8 495.6 470.9 494.8 469.8ZM493.1 471.8 493.9 472.9 493.8 471.3 493 470.2ZM491.3 472 492 473.1 492 471.5 491.2 470.4Z" fill="#a01818"/>
<path d="M642.1 458.9 643.6 458.7 645.1 459.7 643.5 459.8ZM640.5 459 642.1 458.9 643.5 459.8 641.9 459.9ZM638.9 459.1 640.5 459 641.9 459.9 640.3 460.1ZM637.3 459.2 638.9 459.1 640.3 460.1 638.7 460.2ZM635.7 459.4 637.3 459.2 638.7 460.2 637.1 460.3ZM634.1 459.5 635.7 459.4 637.1 460.3 635.5 460.4ZM632.5 459.6 634.1 459.5 635.5 460.4 633.9 460.6ZM630.9 459.7 632.5 459.6 633.9 460.6 632.3 460.7ZM629.3 459.9 630.9 459.7 632.3 460.7 630.7 460.8ZM627.7 460 629.3 459.8 630.7 460.8 629 460.9ZM626.1 460.1 627.7 460 629 460.9 627.4 461.1ZM624.5 460.2 626.1 460.1 627.4 461.1 625.8 461.2ZM622.9 460.4 624.5 460.2 625.8 461.2 624.2 461.3ZM621.2 460.5 622.9 460.3 624.2 461.3 622.6 461.4ZM619.6 460.6 621.2 460.5 622.6 461.4 620.9 461.6ZM618 460.7 619.6 460.6 620.9 461.6 619.3 461.7ZM616.4 460.9 618 460.7 619.3 461.7 617.7 461.8ZM614.7 461 616.4 460.8 617.7 461.8 616.1 461.9ZM613.1 461.1 614.7 461 616.1 461.9 614.4 462.1ZM611.5 461.2 613.1 461.1 614.4 462.1 612.8 462.2ZM609.9 461.4 611.5 461.2 612.8 462.2 611.1 462.3ZM608.2 461.5 609.9 461.4 611.1 462.3 609.5 462.5ZM606.6 461.6 608.2 461.5 609.5 462.4 607.9 462.6ZM604.9 461.7 606.6 461.6 607.9 462.6 606.2 462.7ZM603.3 461.9 604.9 461.7 606.2 462.7 604.6 462.8ZM601.7 462 603.3 461.9 604.6 462.8 602.9 463ZM600 462.1 601.7 462 602.9 463 601.3 463.1ZM598.4 462.2 600 462 601.3 463 599.6 463.1ZM596.7 461.7 598.4 461.6 599.6 462.6 598 462.7ZM595.1 461.3 596.7 461.1 598 462.1 596.3 462.2ZM593.4 460.8 595.1 460.7 596.3 461.7 594.6 461.8ZM591.8 459 593.4 458.9 594.7 459.8 593 460ZM590.1 456 591.8 455.9 593 456.8 591.3 457ZM588.5 452.4 590.1 452.3 591.4 453.3 589.7 453.4ZM586.9 441.8 588.5 441.7 589.7 442.6 588.1 442.7ZM585.2 428.3 586.9 428.2 588.1 429 586.4 429.1ZM583.6 409.8 585.3 409.7 586.5 410.5 584.8 410.6ZM582 395.1 583.7 395 584.9 395.7 583.2 395.8ZM580.3 385.3 582 385.2 583.2 385.8 581.5 385.9ZM578.6 378.7 580.3 378.6 581.5 379.2 579.8 379.3ZM576.9 373.7 578.6 373.6 579.8 374.2 578.1 374.3ZM575.2 368.8 576.9 368.8 578.1 369.3 576.4 369.4ZM573.5 363.4 575.2 363.4 576.4 363.9 574.7 364ZM571.8 358 573.5 358 574.7 358.5 572.9 358.6ZM570 355.9 571.8 355.9 572.9 356.4 571.2 356.5ZM568.3 357.2 570 357.1 571.2 357.6 569.4 357.7ZM566.6 359.3 568.3 359.2 569.4 359.7 567.7 359.8ZM564.8 367 566.6 366.9 567.7 367.4 565.9 367.5ZM563.1 374.7 564.8 374.6 565.9 375.2 564.2 375.3ZM561.3 381.7 563.1 381.6 564.2 382.2 562.5 382.3ZM559.6 388.7 561.4 388.6 562.5 389.3 560.7 389.3ZM557.9 396.9 559.6 396.8 560.7 397.5 559 397.6ZM556.2 405.5 557.9 405.4 559 406.1 557.3 406.2ZM554.5 413.3 556.2 413.2 557.3 414 555.5 414.1ZM552.8 419.3 554.5 419.2 555.6 420 553.8 420.1ZM551 425.3 552.8 425.2 553.8 426 552.1 426.1ZM549.3 430.1 551.1 430 552.1 430.8 550.4 430.9ZM547.6 434.1 549.3 434 550.4 434.8 548.6 435ZM545.9 438.1 547.6 438 548.7 438.9 546.9 439ZM544.2 441.5 545.9 441.4 546.9 442.3 545.2 442.4ZM542.4 443.9 544.2 443.8 545.2 444.7 543.4 444.9ZM540.7 446.3 542.4 446.2 543.5 447.2 541.7 447.3ZM539 448.8 540.7 448.6 541.7 449.6 540 449.7ZM537.2 451.2 539 451.1 540 452 538.2 452.1ZM535.5 453.6 537.3 453.5 538.2 454.4 536.5 454.5ZM533.8 454.9 535.5 454.8 536.5 455.7 534.7 455.9ZM532 456 533.8 455.9 534.8 456.9 533 457ZM530.3 457.1 532 457 533 458 531.2 458.1ZM528.5 458.3 530.3 458.1 531.3 459.1 529.5 459.2ZM526.8 459.4 528.6 459.2 529.5 460.2 527.7 460.4ZM525 460.5 526.8 460.4 527.7 461.4 526 461.5ZM523.3 461.6 525.1 461.5 526 462.5 524.2 462.6ZM521.5 462.6 523.3 462.4 524.2 463.4 522.5 463.6ZM519.8 463.1 521.5 463 522.5 464 520.7 464.1ZM518 463.6 519.8 463.5 520.7 464.5 518.9 464.6ZM516.2 464.1 518 464 518.9 465 517.1 465.2ZM514.5 464.7 516.2 464.5 517.1 465.6 515.4 465.7ZM512.7 465.2 514.5 465.1 515.4 466.1 513.6 466.2ZM510.9 465.7 512.7 465.6 513.6 466.6 511.8 466.8ZM509.1 466.3 510.9 466.1 511.8 467.2 510 467.3ZM507.4 466.8 509.2 466.7 510 467.7 508.2 467.8ZM505.6 467.3 507.4 467.2 508.2 468.2 506.4 468.4ZM503.8 467.8 505.6 467.7 506.4 468.7 504.6 468.9ZM502 468.2 503.8 468.1 504.6 469.1 502.8 469.3ZM500.2 468.6 502 468.5 502.8 469.5 501 469.7ZM498.4 469 500.2 468.9 501 469.9 499.2 470.1ZM496.6 469.4 498.4 469.3 499.2 470.3 497.4 470.5ZM494.8 469.8 496.6 469.7 497.4 470.7 495.6 470.9ZM493 470.2 494.8 470.1 495.6 471.1 493.8 471.3ZM491.2 470.4 493 470.3 493.8 471.3 492 471.5Z" fill="#b04848"/>
<path d="M643.5 460.6 645 460.4 645.1 459.7 643.5 459.8ZM641.9 460.7 643.5 460.6 643.5 459.8 641.9 459.9ZM640.3 460.8 641.9 460.7 641.9 459.9 640.3 460.1ZM638.7 461 640.3 460.8 640.3 460.1 638.7 460.2ZM637.1 461.1 638.7 461 638.7 460.2 637.1 460.3ZM635.5 461.2 637.1 461.1 637.1 460.3 635.5 460.4ZM633.9 461.4 635.5 461.2 635.5 460.4 633.9 460.6ZM632.2 461.5 633.9 461.4 633.9 460.6 632.3 460.7ZM630.6 461.6 632.2 461.5 632.3 460.7 630.7 460.8ZM629 461.7 630.6 461.6 630.7 460.8 629 460.9ZM627.4 461.9 629 461.7 629 460.9 627.4 461.1ZM625.8 462 627.4 461.9 627.4 461.1 625.8 461.2ZM624.2 462.2 625.8 462 625.8 461.2 624.2 461.3ZM622.6 462.3 624.2 462.2 624.2 461.3 622.6 461.4ZM620.9 462.4 622.6 462.3 622.6 461.4 620.9 461.6ZM619.3 462.6 620.9 462.4 620.9 461.6 619.3 461.7ZM617.7 462.7 619.3 462.6 619.3 461.7 617.7 461.8ZM616 462.8 617.7 462.7 617.7 461.8 616.1 461.9ZM614.4 463 616 462.8 616.1 461.9 614.4 462.1ZM612.8 463.1 614.4 463 614.4 462.1 612.8 462.2ZM611.1 463.2 612.8 463.1 612.8 462.2 611.1 462.3ZM609.5 463.4 611.1 463.2 611.1 462.3 609.5 462.5ZM607.8 463.5 609.5 463.4 609.5 462.4 607.9 462.6ZM606.2 463.6 607.8 463.5 607.9 462.6 606.2 462.7ZM604.6 463.8 606.2 463.6 606.2 462.7 604.6 462.8ZM602.9 463.9 604.6 463.8 604.6 462.8 602.9 463ZM601.3 464 602.9 463.9 602.9 463 601.3 463.1ZM599.6 464.2 601.3 464 601.3 463 599.6 463.1ZM597.9 464.3 599.6 464.2 599.6 462.6 598 462.7ZM596.3 464.5 597.9 464.3 598 462.1 596.3 462.2ZM594.6 464.6 596.3 464.5 596.3 461.7 594.6 461.8ZM593 464.7 594.6 464.6 594.7 459.8 593 460ZM591.3 464.9 593 464.7 593 456.8 591.3 457ZM589.6 465 591.3 464.9 591.4 453.3 589.7 453.4ZM587.9 465.1 589.6 465 589.7 442.6 588.1 442.7ZM586.3 465.3 587.9 465.1 588.1 429 586.4 429.1ZM584.6 465.4 586.3 465.3 586.5 410.5 584.8 410.6ZM582.9 465.6 584.6 465.4 584.9 395.7 583.2 395.8ZM581.2 465.7 582.9 465.6 583.2 385.8 581.5 385.9ZM579.5 465.8 581.2 465.7 581.5 379.2 579.8 379.3ZM577.9 466 579.5 465.8 579.8 374.2 578.1 374.3ZM576.2 466.1 577.9 466 578.1 369.3 576.4 369.4ZM574.5 466.3 576.2 466.1 576.4 363.9 574.7 364ZM572.8 466.4 574.5 466.3 574.7 358.5 572.9 358.6ZM571.1 466.5 572.8 466.4 572.9 356.4 571.2 356.5ZM569.4 466.7 571.1 466.5 571.2 357.6 569.4 357.7ZM567.7 466.8 569.4 466.7 569.4 359.7 567.7 359.8ZM566 467 567.7 466.8 567.7 367.4 565.9 367.5ZM564.3 467.1 566 467 565.9 375.2 564.2 375.3ZM562.6 467.2 564.3 467.1 564.2 382.2 562.5 382.3ZM560.9 467.4 562.6 467.2 562.5 389.3 560.7 389.3ZM559.1 467.5 560.9 467.4 560.7 397.5 559 397.6ZM557.4 467.7 559.1 467.5 559 406.1 557.3 406.2ZM555.7 467.8 557.4 467.7 557.3 414 555.5 414.1ZM554 468 555.7 467.8 555.6 420 553.8 420.1ZM552.3 468.1 554 468 553.8 426 552.1 426.1ZM550.5 468.2 552.3 468.1 552.1 430.8 550.4 430.9ZM548.8 468.4 550.5 468.2 550.4 434.8 548.6 435ZM547.1 468.5 548.8 468.4 548.7 438.9 546.9 439ZM545.3 468.7 547.1 468.5 546.9 442.3 545.2 442.4ZM543.6 468.8 545.3 468.7 545.2 444.7 543.4 444.9ZM541.8 469 543.6 468.8 543.5 447.2 541.7 447.3ZM540.1 469.1 541.8 469 541.7 449.6 540 449.7ZM538.4 469.2 540.1 469.1 540 452 538.2 452.1ZM536.6 469.4 538.4 469.2 538.2 454.4 536.5 454.5ZM534.9 469.5 536.6 469.4 536.5 455.7 534.7 455.9ZM533.1 469.7 534.9 469.5 534.8 456.9 533 457ZM531.4 469.8 533.1 469.7 533 458 531.2 458.1ZM529.6 470 531.4 469.8 531.3 459.1 529.5 459.2ZM527.8 470.1 529.6 470 529.5 460.2 527.7 460.4ZM526.1 470.3 527.8 470.1 527.7 461.4 526 461.5ZM524.3 470.4 526.1 470.3 526 462.5 524.2 462.6ZM522.5 470.5 524.3 470.4 524.2 463.4 522.5 463.6ZM520.8 470.7 522.5 470.5 522.5 464 520.7 464.1ZM519 470.8 520.8 470.7 520.7 464.5 518.9 464.6ZM517.2 471 519 470.8 518.9 465 517.1 465.2ZM515.4 471.1 517.2 471 517.1 465.6 515.4 465.7ZM513.6 471.3 515.4 471.1 515.4 466.1 513.6 466.2ZM511.9 471.4 513.6 471.3 513.6 466.6 511.8 466.8ZM510.1 471.6 511.9 471.4 511.8 467.2 510 467.3ZM508.3 471.7 510.1 471.6 510 467.7 508.2 467.8ZM506.5 471.9 508.3 471.7 508.2 468.2 506.4 468.4ZM504.7 472 506.5 471.9 506.4 468.7 504.6 468.9ZM502.9 472.2 504.7 472 504.6 469.1 502.8 469.3ZM501.1 472.3 502.9 472.2 502.8 469.5 501 469.7ZM499.3 472.5 501.1 472.3 501 469.9 499.2 470.1ZM497.5 472.6 499.3 472.5 499.2 470.3 497.4 470.5ZM495.7 472.8 497.5 472.6 497.4 470.7 495.6 470.9ZM493.9 472.9 495.7 472.8 495.6 471.1 493.8 471.3ZM492 473.1 493.9 472.9 493.8 471.3 492 471.5Z" fill="#d62020" stroke="#bc4646" stroke-width="0.45"/>
<path d="M492 473.1 493.9 472.9 493.8 471.3 492 471.5ZM491.2 470.4 493 470.3 493.8 471.3 492 471.5Z" fill="#ce5757"/>
<path d="M493.9 472.9 495.7 472.8 495.6 471.1 493.8 471.3ZM493 470.2 494.8 470.1 495.6 471.1 493.8 471.3Z" fill="#ce5757"/>
<path d="M495.7 472.8 497.5 472.6 497.4 470.7 495.6 470.9ZM494.8 469.8 496.6 469.7 497.4 470.7 495.6 470.9Z" fill="#ce5757"/>
<path d="M497.5 472.6 499.3 472.5 499.2 470.3 497.4 470.5ZM496.6 469.4 498.4 469.3 499.2 470.3 497.4 470.5Z" fill="#ce5757"/>
<path d="M499.3 472.5 501.1 472.3 501 469.9 499.2 470.1ZM498.4 469 500.2 468.9 501 469.9 499.2 470.1Z" fill="#ce5757"/>
<path d="M501.1 472.3 502.9 472.2 502.8 469.5 501 469.7ZM500.2 468.6 502 468.5 502.8 469.5 501 469.7Z" fill="#ce5757"/>
<path d="M502.9 472.2 504.7 472 504.6 469.1 502.8 469.3ZM502 468.2 503.8 468.1 504.6 469.1 502.8 469.3Z" fill="#ce5757"/>
<path d="M504.7 472 506.5 471.9 506.4 468.7 504.6 468.9ZM503.8 467.8 505.6 467.7 506.4 468.7 504.6 468.9Z" fill="#ce5757"/>
<path d="M506.5 471.9 508.3 471.7 508.2 468.2 506.4 468.4ZM505.6 467.3 507.4 467.2 508.2 468.2 506.4 468.4Z" fill="#ce5757"/>
<path d="M508.3 471.7 510.1 471.6 510 467.7 508.2 467.8ZM507.4 466.8 509.2 466.7 510 467.7 508.2 467.8Z" fill="#cf4d4d"/>
<path d="M510.1 471.6 511.9 471.4 511.8 467.2 510 467.3ZM509.1 466.3 510.9 466.1 511.8 467.2 510 467.3Z" fill="#d14242"/>
<path d="M511.9 471.4 513.6 471.3 513.6 466.6 511.8 466.8ZM510.9 465.7 512.7 465.6 513.6 466.6 511.8 466.8Z" fill="#d23838"/>
<path d="M513.6 471.3 515.4 471.1 515.4 466.1 513.6 466.2ZM512.7 465.2 514.5 465.1 515.4 466.1 513.6 466.2Z" fill="#d42d2d"/>
<path d="M515.4 471.1 517.2 471 517.1 465.6 515.4 465.7ZM514.5 464.7 516.2 464.5 517.1 465.6 515.4 465.7Z" fill="#d62323"/>
<path d="M593 464.7 594.6 464.6 594.7 459.8 593 460ZM591.8 459 593.4 458.9 594.7 459.8 593 460Z" fill="#d43030"/>
<path d="M594.6 464.6 596.3 464.5 596.3 461.7 594.6 461.8ZM593.4 460.8 595.1 460.7 596.3 461.7 594.6 461.8Z" fill="#ce5757"/>
<path d="M596.3 464.5 597.9 464.3 598 462.1 596.3 462.2ZM595.1 461.3 596.7 461.1 598 462.1 596.3 462.2Z" fill="#ce5757"/>
<path d="M597.9 464.3 599.6 464.2 599.6 462.6 598 462.7ZM596.7 461.7 598.4 461.6 599.6 462.6 598 462.7Z" fill="#ce5757"/>
<path d="M599.6 464.2 601.3 464 601.3 463 599.6 463.1ZM598.4 462.2 600 462 601.3 463 599.6 463.1Z" fill="#ce5757"/>
<path d="M601.3 464 602.9 463.9 602.9 463 601.3 463.1ZM600 462.1 601.7 462 602.9 463 601.3 463.1Z" fill="#ce5757"/>
<path d="M602.9 463.9 604.6 463.8 604.6 462.8 602.9 463ZM601.7 462 603.3 461.9 604.6 462.8 602.9 463Z" fill="#ce5757"/>
<path d="M604.6 463.8 606.2 463.6 606.2 462.7 604.6 462.8ZM603.3 461.9 604.9 461.7 606.2 462.7 604.6 462.8Z" fill="#ce5757"/>
<path d="M606.2 463.6 607.8 463.5 607.9 462.6 606.2 462.7ZM604.9 461.7 606.6 461.6 607.9 462.6 606.2 462.7Z" fill="#ce5757"/>
<path d="M607.8 463.5 609.5 463.4 609.5 462.4 607.9 462.6ZM606.6 461.6 608.2 461.5 609.5 462.4 607.9 462.6Z" fill="#ce5757"/>
<path d="M609.5 463.4 611.1 463.2 611.1 462.3 609.5 462.5ZM608.2 461.5 609.9 461.4 611.1 462.3 609.5 462.5Z" fill="#ce5757"/>
<path d="M611.1 463.2 612.8 463.1 612.8 462.2 611.1 462.3ZM609.9 461.4 611.5 461.2 612.8 462.2 611.1 462.3Z" fill="#ce5757"/>
<path d="M612.8 463.1 614.4 463 614.4 462.1 612.8 462.2ZM611.5 461.2 613.1 461.1 614.4 462.1 612.8 462.2Z" fill="#ce5757"/>
<path d="M614.4 463 616 462.8 616.1 461.9 614.4 462.1ZM613.1 461.1 614.7 461 616.1 461.9 614.4 462.1Z" fill="#ce5757"/>
<path d="M616 462.8 617.7 462.7 617.7 461.8 616.1 461.9ZM614.7 461 616.4 460.8 617.7 461.8 616.1 461.9Z" fill="#ce5757"/>
<path d="M617.7 462.7 619.3 462.6 619.3 461.7 617.7 461.8ZM616.4 460.9 618 460.7 619.3 461.7 617.7 461.8Z" fill="#ce5757"/>
<path d="M619.3 462.6 620.9 462.4 620.9 461.6 619.3 461.7ZM618 460.7 619.6 460.6 620.9 461.6 619.3 461.7Z" fill="#ce5757"/>
<path d="M620.9 462.4 622.6 462.3 622.6 461.4 620.9 461.6ZM619.6 460.6 621.2 460.5 622.6 461.4 620.9 461.6Z" fill="#ce5757"/>
<path d="M622.6 462.3 624.2 462.2 624.2 461.3 622.6 461.4ZM621.2 460.5 622.9 460.3 624.2 461.3 622.6 461.4Z" fill="#ce5757"/>
<path d="M624.2 462.2 625.8 462 625.8 461.2 624.2 461.3ZM622.9 460.4 624.5 460.2 625.8 461.2 624.2 461.3Z" fill="#ce5757"/>
<path d="M625.8 462 627.4 461.9 627.4 461.1 625.8 461.2ZM624.5 460.2 626.1 460.1 627.4 461.1 625.8 461.2Z" fill="#ce5757"/>
<path d="M627.4 461.9 629 461.7 629 460.9 627.4 461.1ZM626.1 460.1 627.7 460 629 460.9 627.4 461.1Z" fill="#ce5757"/>
<path d="M629 461.7 630.6 461.6 630.7 460.8 629 460.9ZM627.7 460 629.3 459.8 630.7 460.8 629 460.9Z" fill="#ce5757"/>
<path d="M630.6 461.6 632.2 461.5 632.3 460.7 630.7 460.8ZM629.3 459.9 630.9 459.7 632.3 460.7 630.7 460.8Z" fill="#ce5757"/>
<path d="M632.2 461.5 633.9 461.4 633.9 460.6 632.3 460.7ZM630.9 459.7 632.5 459.6 633.9 460.6 632.3 460.7Z" fill="#ce5757"/>
<path d="M633.9 461.4 635.5 461.2 635.5 460.4 633.9 460.6ZM632.5 459.6 634.1 459.5 635.5 460.4 633.9 460.6Z" fill="#ce5757"/>
<path d="M635.5 461.2 637.1 461.1 637.1 460.3 635.5 460.4ZM634.1 459.5 635.7 459.4 637.1 460.3 635.5 460.4Z" fill="#ce5757"/>
<path d="M637.1 461.1 638.7 461 638.7 460.2 637.1 460.3ZM635.7 459.4 637.3 459.2 638.7 460.2 637.1 460.3Z" fill="#ce5757"/>
<path d="M638.7 461 640.3 460.8 640.3 460.1 638.7 460.2ZM637.3 459.2 638.9 459.1 640.3 460.1 638.7 460.2Z" fill="#ce5757"/>
<path d="M640.3 460.8 641.9 460.7 641.9 459.9 640.3 460.1ZM638.9 459.1 640.5 459 641.9 459.9 640.3 460.1Z" fill="#ce5757"/>
<path d="M641.9 460.7 643.5 460.6 643.5 459.8 641.9 459.9ZM640.5 459 642.1 458.9 643.5 459.8 641.9 459.9Z" fill="#ce5757"/>
<path d="M643.5 460.6 645 460.4 645.1 459.7 643.5 459.8ZM642.1 458.9 643.6 458.7 645.1 459.7 643.5 459.8Z" fill="#ce5757"/>
<path d="M657.4 469.9 659 470.9 659 470.2 657.4 469.1ZM655.7 470 657.3 471.1 657.3 470.3 655.8 469.2ZM654.1 470.2 655.6 471.2 655.6 470.4 654.1 469.4ZM652.4 470.3 654 471.4 654 470.5 652.4 469.5ZM650.8 470.5 652.3 471.5 652.3 470.7 650.8 469.6ZM649.1 470.6 650.6 471.7 650.6 470.8 649.1 469.8ZM647.4 470.8 648.9 471.8 649 470.9 647.5 469.9ZM645.8 470.9 647.3 472 647.3 471.1 645.8 470ZM644.1 471.1 645.6 472.1 645.6 471.2 644.1 470.2ZM642.4 471.2 643.9 472.3 643.9 471.3 642.4 470.3ZM640.7 471.4 642.2 472.4 642.2 471.5 640.8 470.4ZM639.1 471.5 640.5 472.6 640.6 471.6 639.1 470.6ZM637.4 471.6 638.9 472.7 638.9 471.7 637.4 470.7ZM635.7 471.8 637.2 472.9 637.2 471.9 635.7 470.8ZM634 471.9 635.5 473 635.5 472 634 471ZM632.3 472.1 633.8 473.1 633.8 472.1 632.3 471.1ZM630.6 472.2 632.1 473.3 632.1 472.3 630.6 471.2ZM628.9 472.4 630.4 473.4 630.4 472.4 629 471.4ZM627.2 472.5 628.7 473.6 628.7 472.6 627.3 471.5ZM625.5 472.7 627 473.7 627 472.7 625.6 471.6ZM623.8 472.8 625.3 473.9 625.3 472.8 623.8 471.8ZM622.1 473 623.5 474 623.6 473 622.1 471.9ZM620.4 473.1 621.8 474.2 621.8 473.1 620.4 472ZM618.7 473.3 620.1 474.4 620.1 473.2 618.7 472.2ZM617 473.4 618.4 474.5 618.4 473.4 617 472.3ZM615.3 473.6 616.7 474.7 616.7 473.5 615.3 472.4ZM613.6 473.7 614.9 474.8 615 473.6 613.6 472.6ZM611.8 473.9 613.2 475 613.2 473.8 611.9 472.7ZM610.1 474 611.5 475.1 611.5 473.7 610.1 472.7ZM608.4 474.2 609.7 475.3 609.8 472.2 608.4 471.2ZM606.7 474.3 608 475.4 608.1 470.5 606.7 469.5ZM604.9 474.5 606.3 475.6 606.3 469.4 605 468.4ZM603.2 474.6 604.5 475.7 604.6 469.9 603.3 468.8ZM601.5 474.8 602.8 475.9 602.8 470.1 601.5 469ZM599.7 474.9 601 476 601.1 468.1 599.8 467.1ZM598 475.1 599.3 476.2 599.4 463.6 598.1 462.6ZM596.2 475.2 597.5 476.3 597.7 458.6 596.4 457.6ZM594.5 475.4 595.8 476.5 596 452.7 594.7 451.7ZM592.7 475.5 594 476.6 594.3 443 593 442ZM591 475.7 592.3 476.8 592.5 434.1 591.2 433.2ZM589.2 475.9 590.5 477 590.8 429.9 589.5 429ZM587.5 476 588.7 477.1 589 428.8 587.7 427.9ZM585.7 476.2 587 477.3 587.2 427.7 586 426.8ZM584 476.3 585.2 477.4 585.4 427.9 584.2 427.1ZM582.2 476.5 583.4 477.6 583.6 428.3 582.4 427.4ZM580.4 476.6 581.6 477.7 581.8 428.8 580.6 427.9ZM578.6 476.8 579.9 477.9 580 429.6 578.8 428.8ZM576.9 476.9 578.1 478 578.2 430.5 577 429.6ZM575.1 477.1 576.3 478.2 576.4 432 575.2 431.1ZM573.3 477.2 574.5 478.4 574.6 434.9 573.4 434ZM571.5 477.4 572.7 478.5 572.8 438.5 571.6 437.6ZM569.7 477.6 570.9 478.7 571 442.3 569.8 441.3ZM568 477.7 569.1 478.8 569.1 446 568 445.1ZM566.2 477.9 567.3 479 567.3 449.4 566.2 448.4ZM564.4 478 565.5 479.1 565.5 452.4 564.4 451.4ZM562.6 478.2 563.7 479.3 563.7 455.5 562.5 454.5ZM560.8 478.3 561.9 479.5 561.9 458.6 560.7 457.5ZM559 478.5 560.1 479.6 560.1 460.9 558.9 459.8ZM557.2 478.7 558.3 479.8 558.3 462.2 557.1 461.2ZM555.4 478.8 556.5 479.9 556.4 463.6 555.3 462.5ZM553.6 479 554.7 480.1 554.6 464.9 553.5 463.9ZM551.7 479.1 552.8 480.3 552.8 466.3 551.7 465.2ZM549.9 479.3 551 480.4 551 467.6 549.9 466.5ZM548.1 479.4 549.2 480.6 549.1 469 548 467.9ZM546.3 479.6 547.4 480.7 547.3 470.2 546.2 469.1ZM544.5 479.8 545.5 480.9 545.5 470.9 544.4 469.8ZM542.6 479.9 543.7 481.1 543.6 471.6 542.6 470.5ZM540.8 480.1 541.9 481.2 541.8 472.3 540.7 471.2ZM539 480.2 540 481.4 540 473 538.9 471.9ZM537.1 480.4 538.2 481.6 538.1 473.7 537.1 472.6ZM535.3 480.6 536.3 481.7 536.3 474.5 535.2 473.3ZM533.4 480.7 534.5 481.9 534.4 475.2 533.4 474.1ZM531.6 480.9 532.6 482 532.6 475.9 531.5 474.8ZM529.8 481 530.8 482.2 530.7 476.6 529.7 475.5ZM527.9 481.2 528.9 482.4 528.8 477.3 527.9 476.2ZM526 481.4 527 482.5 527 477.8 526 476.7ZM524.2 481.5 525.2 482.7 525.1 478.3 524.1 477.1ZM522.3 481.7 523.3 482.9 523.3 478.7 522.3 477.6ZM520.5 481.9 521.4 483 521.4 479.2 520.4 478ZM518.6 482 519.6 483.2 519.5 479.6 518.6 478.5ZM516.7 482.2 517.7 483.4 517.6 480.1 516.7 478.9ZM514.9 482.3 515.8 483.5 515.8 480.6 514.8 479.4ZM513 482.5 513.9 483.7 513.9 481 513 479.9ZM511.1 482.7 512 483.8 512 481.5 511.1 480.3ZM509.2 482.8 510.1 484 510.1 481.9 509.2 480.8ZM507.3 483 508.2 484.2 508.2 482.4 507.3 481.2ZM505.5 483.2 506.4 484.3 506.3 482.9 505.4 481.7ZM503.6 483.3 504.5 484.5 504.4 483.2 503.6 482.1ZM501.7 483.5 502.6 484.7 502.5 483.4 501.7 482.3ZM499.8 483.7 500.7 484.8 500.6 483.6 499.8 482.4Z" fill="#1a8a1a"/>
<path d="M657.4 469.1 659.1 469 660.6 470 659 470.2ZM655.8 469.2 657.4 469.1 659 470.1 657.3 470.3ZM654.1 469.4 655.8 469.2 657.3 470.3 655.6 470.4ZM652.4 469.5 654.1 469.4 655.6 470.4 654 470.5ZM650.8 469.6 652.4 469.5 654 470.5 652.3 470.7ZM649.1 469.8 650.8 469.6 652.3 470.7 650.6 470.8ZM647.5 469.9 649.1 469.8 650.6 470.8 649 470.9ZM645.8 470 647.5 469.9 649 470.9 647.3 471.1ZM644.1 470.2 645.8 470 647.3 471.1 645.6 471.2ZM642.4 470.3 644.1 470.1 645.6 471.2 643.9 471.3ZM640.8 470.4 642.4 470.3 643.9 471.3 642.2 471.5ZM639.1 470.6 640.8 470.4 642.2 471.5 640.6 471.6ZM637.4 470.7 639.1 470.5 640.6 471.6 638.9 471.7ZM635.7 470.8 637.4 470.7 638.9 471.7 637.2 471.9ZM634 471 635.7 470.8 637.2 471.9 635.5 472ZM632.3 471.1 634 470.9 635.5 472 633.8 472.1ZM630.6 471.2 632.3 471.1 633.8 472.1 632.1 472.3ZM629 471.4 630.6 471.2 632.1 472.3 630.4 472.4ZM627.3 471.5 629 471.3 630.4 472.4 628.7 472.6ZM625.6 471.6 627.3 471.5 628.7 472.5 627 472.7ZM623.8 471.8 625.6 471.6 627 472.7 625.3 472.8ZM622.1 471.9 623.9 471.7 625.3 472.8 623.6 473ZM620.4 472 622.1 471.9 623.6 472.9 621.8 473.1ZM618.7 472.2 620.4 472 621.8 473.1 620.1 473.2ZM617 472.3 618.7 472.1 620.1 473.2 618.4 473.4ZM615.3 472.4 617 472.3 618.4 473.4 616.7 473.5ZM613.6 472.6 615.3 472.4 616.7 473.5 615 473.6ZM611.9 472.7 613.6 472.5 615 473.6 613.2 473.8ZM610.1 472.7 611.9 472.5 613.2 473.6 611.5 473.7ZM608.4 471.2 610.2 471 611.5 472.1 609.8 472.2ZM606.7 469.5 608.4 469.3 609.8 470.4 608.1 470.5ZM605 468.4 606.7 468.2 608.1 469.3 606.3 469.4ZM603.3 468.8 605 468.7 606.3 469.7 604.6 469.9ZM601.5 469 603.3 468.9 604.6 470 602.8 470.1ZM599.8 467.1 601.5 466.9 602.9 468 601.1 468.1ZM598.1 462.6 599.8 462.4 601.1 463.5 599.4 463.6ZM596.4 457.6 598.1 457.5 599.4 458.5 597.7 458.6ZM594.7 451.7 596.4 451.5 597.7 452.5 596 452.7ZM593 442 594.7 441.9 596 442.8 594.3 443ZM591.2 433.2 593 433 594.3 433.9 592.5 434.1ZM589.5 429 591.3 428.9 592.6 429.8 590.8 429.9ZM587.7 427.9 589.5 427.8 590.8 428.6 589 428.8ZM586 426.8 587.7 426.7 589 427.6 587.2 427.7ZM584.2 427.1 585.9 426.9 587.2 427.8 585.4 427.9ZM582.4 427.4 584.2 427.3 585.4 428.2 583.6 428.3ZM580.6 427.9 582.4 427.8 583.6 428.7 581.8 428.8ZM578.8 428.8 580.6 428.6 581.8 429.5 580 429.6ZM577 429.6 578.8 429.4 580 430.3 578.2 430.5ZM575.2 431.1 577 431 578.2 431.9 576.4 432ZM573.4 434 575.2 433.9 576.4 434.8 574.6 434.9ZM571.6 437.6 573.4 437.4 574.6 438.4 572.8 438.5ZM569.8 441.3 571.6 441.2 572.8 442.1 571 442.3ZM568 445.1 569.8 444.9 571 445.9 569.1 446ZM566.2 448.4 568 448.2 569.1 449.2 567.3 449.4ZM564.4 451.4 566.2 451.3 567.3 452.3 565.5 452.4ZM562.5 454.5 564.4 454.3 565.5 455.3 563.7 455.5ZM560.7 457.5 562.6 457.4 563.7 458.4 561.9 458.6ZM558.9 459.8 560.7 459.7 561.9 460.7 560.1 460.9ZM557.1 461.2 558.9 461 560.1 462.1 558.3 462.2ZM555.3 462.5 557.1 462.4 558.3 463.4 556.4 463.6ZM553.5 463.9 555.3 463.7 556.4 464.8 554.6 464.9ZM551.7 465.2 553.5 465.1 554.6 466.1 552.8 466.3ZM549.9 466.5 551.7 466.4 552.8 467.5 551 467.6ZM548 467.9 549.9 467.7 551 468.8 549.1 469ZM546.2 469.1 548.1 468.9 549.1 470 547.3 470.2ZM544.4 469.8 546.2 469.6 547.3 470.7 545.5 470.9ZM542.6 470.5 544.4 470.4 545.5 471.5 543.6 471.6ZM540.7 471.2 542.6 471.1 543.6 472.2 541.8 472.3ZM538.9 471.9 540.7 471.8 541.8 472.9 540 473ZM537.1 472.6 538.9 472.5 540 473.6 538.1 473.7ZM535.2 473.3 537.1 473.2 538.1 474.3 536.3 474.5ZM533.4 474.1 535.2 473.9 536.3 475 534.4 475.2ZM531.5 474.8 533.4 474.6 534.4 475.7 532.6 475.9ZM529.7 475.5 531.6 475.3 532.6 476.5 530.7 476.6ZM527.9 476.2 529.7 476 530.7 477.2 528.8 477.3ZM526 476.7 527.9 476.5 528.9 477.7 527 477.8ZM524.1 477.1 526 477 527 478.1 525.1 478.3ZM522.3 477.6 524.1 477.4 525.1 478.6 523.3 478.7ZM520.4 478 522.3 477.9 523.3 479 521.4 479.2ZM518.6 478.5 520.4 478.3 521.4 479.5 519.5 479.6ZM516.7 478.9 518.6 478.8 519.5 479.9 517.6 480.1ZM514.8 479.4 516.7 479.2 517.6 480.4 515.8 480.6ZM513 479.9 514.8 479.7 515.8 480.9 513.9 481ZM511.1 480.3 513 480.2 513.9 481.3 512 481.5ZM509.2 480.8 511.1 480.6 512 481.8 510.1 481.9ZM507.3 481.2 509.2 481.1 510.1 482.2 508.2 482.4ZM505.4 481.7 507.3 481.5 508.2 482.7 506.3 482.9ZM503.6 482.1 505.4 481.9 506.3 483.1 504.4 483.2ZM501.7 482.3 503.6 482.1 504.4 483.3 502.5 483.4ZM499.8 482.4 501.7 482.3 502.5 483.4 500.6 483.6Z" fill="#4a9a4a"/>
<path d="M659 470.9 660.6 470.8 660.6 470 659 470.2ZM657.3 471.1 659 470.9 659 470.1 657.3 470.3ZM655.6 471.2 657.3 471.1 657.3 470.3 655.6 470.4ZM654 471.4 655.6 471.2 655.6 470.4 654 470.5ZM652.3 471.5 654 471.4 654 470.5 652.3 470.7ZM650.6 471.7 652.3 471.5 652.3 470.7 650.6 470.8ZM648.9 471.8 650.6 471.7 650.6 470.8 649 470.9ZM647.3 472 648.9 471.8 649 470.9 647.3 471.1ZM645.6 472.1 647.3 472 647.3 471.1 645.6 471.2ZM643.9 472.3 645.6 472.1 645.6 471.2 643.9 471.3ZM642.2 472.4 643.9 472.3 643.9 471.3 642.2 471.5ZM640.5 472.6 642.2 472.4 642.2 471.5 640.6 471.6ZM638.9 472.7 640.5 472.6 640.6 471.6 638.9 471.7ZM637.2 472.9 638.9 472.7 638.9 471.7 637.2 471.9ZM635.5 473 637.2 472.9 637.2 471.9 635.5 472ZM633.8 473.1 635.5 473 635.5 472 633.8 472.1ZM632.1 473.3 633.8 473.1 633.8 472.1 632.1 472.3ZM630.4 473.4 632.1 473.3 632.1 472.3 630.4 472.4ZM628.7 473.6 630.4 473.4 630.4 472.4 628.7 472.6ZM627 473.7 628.7 473.6 628.7 472.5 627 472.7ZM625.3 473.9 627 473.7 627 472.7 625.3 472.8ZM623.5 474 625.3 473.9 625.3 472.8 623.6 473ZM621.8 474.2 623.5 474 623.6 472.9 621.8 473.1ZM620.1 474.4 621.8 474.2 621.8 473.1 620.1 473.2ZM618.4 474.5 620.1 474.4 620.1 473.2 618.4 473.4ZM616.7 474.7 618.4 474.5 618.4 473.4 616.7 473.5ZM614.9 474.8 616.7 474.7 616.7 473.5 615 473.6ZM613.2 475 614.9 474.8 615 473.6 613.2 473.8ZM611.5 475.1 613.2 475 613.2 473.6 611.5 473.7ZM609.7 475.3 611.5 475.1 611.5 472.1 609.8 472.2ZM608 475.4 609.7 475.3 609.8 470.4 608.1 470.5ZM606.3 475.6 608 475.4 608.1 469.3 606.3 469.4ZM604.5 475.7 606.3 475.6 606.3 469.7 604.6 469.9ZM602.8 475.9 604.5 475.7 604.6 470 602.8 470.1ZM601 476 602.8 475.9 602.9 468 601.1 468.1ZM599.3 476.2 601 476 601.1 463.5 599.4 463.6ZM597.5 476.3 599.3 476.2 599.4 458.5 597.7 458.6ZM595.8 476.5 597.5 476.3 597.7 452.5 596 452.7ZM594 476.6 595.8 476.5 596 442.8 594.3 443ZM592.3 476.8 594 476.6 594.3 433.9 592.5 434.1ZM590.5 477 592.3 476.8 592.6 429.8 590.8 429.9ZM588.7 477.1 590.5 477 590.8 428.6 589 428.8ZM587 477.3 588.7 477.1 589 427.6 587.2 427.7ZM585.2 477.4 587 477.3 587.2 427.8 585.4 427.9ZM583.4 477.6 585.2 477.4 585.4 428.2 583.6 428.3ZM581.6 477.7 583.4 477.6 583.6 428.7 581.8 428.8ZM579.9 477.9 581.6 477.7 581.8 429.5 580 429.6ZM578.1 478 579.9 477.9 580 430.3 578.2 430.5ZM576.3 478.2 578.1 478 578.2 431.9 576.4 432ZM574.5 478.4 576.3 478.2 576.4 434.8 574.6 434.9ZM572.7 478.5 574.5 478.4 574.6 438.4 572.8 438.5ZM570.9 478.7 572.7 478.5 572.8 442.1 571 442.3ZM569.1 478.8 570.9 478.7 571 445.9 569.1 446ZM567.3 479 569.1 478.8 569.1 449.2 567.3 449.4ZM565.5 479.1 567.3 479 567.3 452.3 565.5 452.4ZM563.7 479.3 565.5 479.1 565.5 455.3 563.7 455.5ZM561.9 479.5 563.7 479.3 563.7 458.4 561.9 458.6ZM560.1 479.6 561.9 479.5 561.9 460.7 560.1 460.9ZM558.3 479.8 560.1 479.6 560.1 462.1 558.3 462.2ZM556.5 479.9 558.3 479.8 558.3 463.4 556.4 463.6ZM554.7 480.1 556.5 479.9 556.4 464.8 554.6 464.9ZM552.8 480.3 554.7 480.1 554.6 466.1 552.8 466.3ZM551 480.4 552.8 480.3 552.8 467.5 551 467.6ZM549.2 480.6 551 480.4 551 468.8 549.1 469ZM547.4 480.7 549.2 480.6 549.1 470 547.3 470.2ZM545.5 480.9 547.4 480.7 547.3 470.7 545.5 470.9ZM543.7 481.1 545.5 480.9 545.5 471.5 543.6 471.6ZM541.9 481.2 543.7 481.1 543.6 472.2 541.8 472.3ZM540 481.4 541.9 481.2 541.8 472.9 540 473ZM538.2 481.6 540 481.4 540 473.6 538.1 473.7ZM536.3 481.7 538.2 481.6 538.1 474.3 536.3 474.5ZM534.5 481.9 536.3 481.7 536.3 475 534.4 475.2ZM532.6 482 534.5 481.9 534.4 475.7 532.6 475.9ZM530.8 482.2 532.6 482 532.6 476.5 530.7 476.6ZM528.9 482.4 530.8 482.2 530.7 477.2 528.8 477.3ZM527 482.5 528.9 482.4 528.9 477.7 527 477.8ZM525.2 482.7 527 482.5 527 478.1 525.1 478.3ZM523.3 482.9 525.2 482.7 525.1 478.6 523.3 478.7ZM521.4 483 523.3 482.9 523.3 479 521.4 479.2ZM519.6 483.2 521.4 483 521.4 479.5 519.5 479.6ZM517.7 483.4 519.6 483.2 519.5 479.9 517.6 480.1ZM515.8 483.5 517.7 483.4 517.6 480.4 515.8 480.6ZM513.9 483.7 515.8 483.5 515.8 480.9 513.9 481ZM512 483.8 513.9 483.7 513.9 481.3 512 481.5ZM510.1 484 512 483.8 512 481.8 510.1 481.9ZM508.2 484.2 510.1 484 510.1 482.2 508.2 482.4ZM506.4 484.3 508.2 484.2 508.2 482.7 506.3 482.9ZM504.5 484.5 506.4 484.3 506.3 483.1 504.4 483.2ZM502.6 484.7 504.5 484.5 504.4 483.3 502.5 483.4ZM500.7 484.8 502.6 484.7 502.5 483.4 500.6 483.6Z" fill="#22c422" stroke="#4cae4c" stroke-width="0.45"/>
<path d="M500.7 484.8 502.6 484.7 502.5 483.4 500.6 483.6ZM499.8 482.4 501.7 482.3 502.5 483.4 500.6 483.6Z" fill="#59c259"/>
<path d="M502.6 484.7 504.5 484.5 504.4 483.3 502.5 483.4ZM501.7 482.3 503.6 482.1 504.4 483.3 502.5 483.4Z" fill="#59c259"/>
<path d="M504.5 484.5 506.4 484.3 506.3 483.1 504.4 483.2ZM503.6 482.1 505.4 481.9 506.3 483.1 504.4 483.2Z" fill="#59c259"/>
<path d="M506.4 484.3 508.2 484.2 508.2 482.7 506.3 482.9ZM505.4 481.7 507.3 481.5 508.2 482.7 506.3 482.9Z" fill="#59c259"/>
<path d="M508.2 484.2 510.1 484 510.1 482.2 508.2 482.4ZM507.3 481.2 509.2 481.1 510.1 482.2 508.2 482.4Z" fill="#59c259"/>
<path d="M510.1 484 512 483.8 512 481.8 510.1 481.9ZM509.2 480.8 511.1 480.6 512 481.8 510.1 481.9Z" fill="#59c259"/>
<path d="M512 483.8 513.9 483.7 513.9 481.3 512 481.5ZM511.1 480.3 513 480.2 513.9 481.3 512 481.5Z" fill="#59c259"/>
<path d="M513.9 483.7 515.8 483.5 515.8 480.9 513.9 481ZM513 479.9 514.8 479.7 515.8 480.9 513.9 481Z" fill="#59c259"/>
<path d="M515.8 483.5 517.7 483.4 517.6 480.4 515.8 480.6ZM514.8 479.4 516.7 479.2 517.6 480.4 515.8 480.6Z" fill="#59c259"/>
<path d="M517.7 483.4 519.6 483.2 519.5 479.9 517.6 480.1ZM516.7 478.9 518.6 478.8 519.5 479.9 517.6 480.1Z" fill="#59c259"/>
<path d="M519.6 483.2 521.4 483 521.4 479.5 519.5 479.6ZM518.6 478.5 520.4 478.3 521.4 479.5 519.5 479.6Z" fill="#59c259"/>
<path d="M521.4 483 523.3 482.9 523.3 479 521.4 479.2ZM520.4 478 522.3 477.9 523.3 479 521.4 479.2Z" fill="#54c254"/>
<path d="M523.3 482.9 525.2 482.7 525.1 478.6 523.3 478.7ZM522.3 477.6 524.1 477.4 525.1 478.6 523.3 478.7Z" fill="#4dc24d"/>
<path d="M525.2 482.7 527 482.5 527 478.1 525.1 478.3ZM524.1 477.1 526 477 527 478.1 525.1 478.3Z" fill="#45c345"/>
<path d="M527 482.5 528.9 482.4 528.9 477.7 527 477.8ZM526 476.7 527.9 476.5 528.9 477.7 527 477.8Z" fill="#3ec33e"/>
<path d="M528.9 482.4 530.8 482.2 530.7 477.2 528.8 477.3ZM527.9 476.2 529.7 476 530.7 477.2 528.8 477.3Z" fill="#35c335"/>
<path d="M530.8 482.2 532.6 482 532.6 476.5 530.7 476.6ZM529.7 475.5 531.6 475.3 532.6 476.5 530.7 476.6Z" fill="#27c427"/>
<path d="M608 475.4 609.7 475.3 609.8 470.4 608.1 470.5ZM606.7 469.5 608.4 469.3 609.8 470.4 608.1 470.5Z" fill="#35c335"/>
<path d="M609.7 475.3 611.5 475.1 611.5 472.1 609.8 472.2ZM608.4 471.2 610.2 471 611.5 472.1 609.8 472.2Z" fill="#59c259"/>
<path d="M611.5 475.1 613.2 475 613.2 473.6 611.5 473.7ZM610.1 472.7 611.9 472.5 613.2 473.6 611.5 473.7Z" fill="#59c259"/>
<path d="M613.2 475 614.9 474.8 615 473.6 613.2 473.8ZM611.9 472.7 613.6 472.5 615 473.6 613.2 473.8Z" fill="#59c259"/>
<path d="M614.9 474.8 616.7 474.7 616.7 473.5 615 473.6ZM613.6 472.6 615.3 472.4 616.7 473.5 615 473.6Z" fill="#59c259"/>
<path d="M616.7 474.7 618.4 474.5 618.4 473.4 616.7 473.5ZM615.3 472.4 617 472.3 618.4 473.4 616.7 473.5Z" fill="#59c259"/>
<path d="M618.4 474.5 620.1 474.4 620.1 473.2 618.4 473.4ZM617 472.3 618.7 472.1 620.1 473.2 618.4 473.4Z" fill="#59c259"/>
<path d="M620.1 474.4 621.8 474.2 621.8 473.1 620.1 473.2ZM618.7 472.2 620.4 472 621.8 473.1 620.1 473.2Z" fill="#59c259"/>
<path d="M621.8 474.2 623.5 474 623.6 472.9 621.8 473.1ZM620.4 472 622.1 471.9 623.6 472.9 621.8 473.1Z" fill="#59c259"/>
<path d="M623.5 474 625.3 473.9 625.3 472.8 623.6 473ZM622.1 471.9 623.9 471.7 625.3 472.8 623.6 473Z" fill="#59c259"/>
<path d="M625.3 473.9 627 473.7 627 472.7 625.3 472.8ZM623.8 471.8 625.6 471.6 627 472.7 625.3 472.8Z" fill="#59c259"/>
<path d="M627 473.7 628.7 473.6 628.7 472.5 627 472.7ZM625.6 471.6 627.3 471.5 628.7 472.5 627 472.7Z" fill="#59c259"/>
<path d="M628.7 473.6 630.4 473.4 630.4 472.4 628.7 472.6ZM627.3 471.5 629 471.3 630.4 472.4 628.7 472.6Z" fill="#59c259"/>
<path d="M630.4 473.4 632.1 473.3 632.1 472.3 630.4 472.4ZM629 471.4 630.6 471.2 632.1 472.3 630.4 472.4Z" fill="#59c259"/>
<path d="M632.1 473.3 633.8 473.1 633.8 472.1 632.1 472.3ZM630.6 471.2 632.3 471.1 633.8 472.1 632.1 472.3Z" fill="#59c259"/>
<path d="M633.8 473.1 635.5 473 635.5 472 633.8 472.1ZM632.3 471.1 634 470.9 635.5 472 633.8 472.1Z" fill="#59c259"/>
<path d="M635.5 473 637.2 472.9 637.2 471.9 635.5 472ZM634 471 635.7 470.8 637.2 471.9 635.5 472Z" fill="#59c259"/>
<path d="M637.2 472.9 638.9 472.7 638.9 471.7 637.2 471.9ZM635.7 470.8 637.4 470.7 638.9 471.7 637.2 471.9Z" fill="#59c259"/>
<path d="M638.9 472.7 640.5 472.6 640.6 471.6 638.9 471.7ZM637.4 470.7 639.1 470.5 640.6 471.6 638.9 471.7Z" fill="#59c259"/>
<path d="M640.5 472.6 642.2 472.4 642.2 471.5 640.6 471.6ZM639.1 470.6 640.8 470.4 642.2 471.5 640.6 471.6Z" fill="#59c259"/>
<path d="M642.2 472.4 643.9 472.3 643.9 471.3 642.2 471.5ZM640.8 470.4 642.4 470.3 643.9 471.3 642.2 471.5Z" fill="#59c259"/>
<path d="M643.9 472.3 645.6 472.1 645.6 471.2 643.9 471.3ZM642.4 470.3 644.1 470.1 645.6 471.2 643.9 471.3Z" fill="#59c259"/>
<path d="M645.6 472.1 647.3 472 647.3 471.1 645.6 471.2ZM644.1 470.2 645.8 470 647.3 471.1 645.6 471.2Z" fill="#59c259"/>
<path d="M647.3 472 648.9 471.8 649 470.9 647.3 471.1ZM645.8 470 647.5 469.9 649 470.9 647.3 471.1Z" fill="#59c259"/>
<path d="M648.9 471.8 650.6 471.7 650.6 470.8 649 470.9ZM647.5 469.9 649.1 469.8 650.6 470.8 649 470.9Z" fill="#59c259"/>
<path d="M650.6 471.7 652.3 471.5 652.3 470.7 650.6 470.8ZM649.1 469.8 650.8 469.6 652.3 470.7 650.6 470.8Z" fill="#59c259"/>
<path d="M652.3 471.5 654 471.4 654 470.5 652.3 470.7ZM650.8 469.6 652.4 469.5 654 470.5 652.3 470.7Z" fill="#59c259"/>
<path d="M654 471.4 655.6 471.2 655.6 470.4 654 470.5ZM652.4 469.5 654.1 469.4 655.6 470.4 654 470.5Z" fill="#59c259"/>
<path d="M655.6 471.2 657.3 471.1 657.3 470.3 655.6 470.4ZM654.1 469.4 655.8 469.2 657.3 470.3 655.6 470.4Z" fill="#59c259"/>
<path d="M657.3 471.1 659 470.9 659 470.1 657.3 470.3ZM655.8 469.2 657.4 469.1 659 470.1 657.3 470.3Z" fill="#59c259"/>
<path d="M659 470.9 660.6 470.8 660.6 470 659 470.2ZM657.4 469.1 659.1 469 660.6 470 659 470.2Z" fill="#59c259"/>
<path d="M674.3 481.2 676.1 482.4 676.1 481.6 674.4 480.4ZM672.6 481.4 674.3 482.6 674.3 481.7 672.6 480.6ZM670.9 481.6 672.6 482.7 672.6 481.9 670.9 480.7ZM669.2 481.7 670.8 482.9 670.9 482 669.2 480.9ZM667.4 481.9 669.1 483 669.1 482.2 667.4 481ZM665.7 482 667.4 483.2 667.4 482.3 665.7 481.2ZM663.9 482.2 665.6 483.4 665.6 482.5 664 481.3ZM662.2 482.4 663.9 483.5 663.9 482.7 662.2 481.5ZM660.5 482.5 662.1 483.7 662.1 482.8 660.5 481.7ZM658.7 482.7 660.4 483.9 660.4 483 658.7 481.8ZM657 482.9 658.6 484 658.6 483.1 657 482ZM655.2 483 656.8 484.2 656.9 483.3 655.2 482.1ZM653.4 483.2 655.1 484.4 655.1 483.4 653.5 482.3ZM651.7 483.4 653.3 484.5 653.3 483.6 651.7 482.4ZM649.9 483.5 651.5 484.7 651.6 483.8 649.9 482.6ZM648.2 483.7 649.8 484.9 649.8 483.9 648.2 482.7ZM646.4 483.8 648 485 648 484.1 646.4 482.9ZM644.6 484 646.2 485.2 646.2 484.2 644.6 483.1ZM642.8 484.2 644.4 485.4 644.4 484.4 642.9 483.2ZM641.1 484.3 642.6 485.5 642.7 484.5 641.1 483.4ZM639.3 484.5 640.9 485.7 640.9 484.7 639.3 483.5ZM637.5 484.7 639.1 485.9 639.1 484.9 637.5 483.7ZM635.7 484.8 637.3 486 637.3 485 635.7 483.8ZM633.9 485 635.5 486.2 635.5 485.2 633.9 484ZM632.1 485.2 633.7 486.4 633.7 485.3 632.2 484.2ZM630.3 485.3 631.9 486.5 631.9 485.5 630.4 484.3ZM628.5 485.5 630.1 486.7 630.1 485.7 628.6 484.5ZM626.8 485.7 628.3 486.9 628.3 485.8 626.8 484.6ZM624.9 485.8 626.5 487 626.5 485.1 625 483.9ZM623.1 486 624.6 487.2 624.7 484.4 623.2 483.2ZM621.3 486.2 622.8 487.4 622.9 483.6 621.4 482.4ZM619.5 486.3 621 487.6 621.1 483 619.6 481.8ZM617.7 486.5 619.2 487.7 619.2 483.8 617.8 482.6ZM615.9 486.7 617.4 487.9 617.4 483 616 481.8ZM614.1 486.9 615.5 488.1 615.6 482.1 614.1 480.9ZM612.3 487 613.7 488.2 613.8 482 612.3 480.9ZM610.4 487.2 611.9 488.4 612 481.1 610.5 479.9ZM608.6 487.4 610 488.6 610.1 480.9 608.7 479.7ZM606.8 487.5 608.2 488.8 608.3 479.2 606.9 478ZM604.9 487.7 606.3 488.9 606.4 480.2 605 479ZM603.1 487.9 604.5 489.1 604.6 479.5 603.2 478.4ZM601.3 488.1 602.7 489.3 602.7 481 601.3 479.8ZM599.4 488.2 600.8 489.5 600.9 479.8 599.5 478.7ZM597.6 488.4 598.9 489.6 599 480 597.6 478.8ZM595.7 488.6 597.1 489.8 597.2 480.6 595.8 479.4ZM593.9 488.7 595.2 490 595.3 478.1 593.9 476.9ZM592 488.9 593.4 490.1 593.4 480.6 592.1 479.4ZM590.1 489.1 591.5 490.3 591.6 479.3 590.2 478.1ZM588.3 489.3 589.6 490.5 589.7 476 588.4 474.9ZM586.4 489.4 587.8 490.7 587.8 475.1 586.5 474ZM584.6 489.6 585.9 490.8 586 472.7 584.6 471.5ZM582.7 489.8 584 491 584.1 472.4 582.8 471.2ZM580.8 490 582.1 491.2 582.2 478.7 580.9 477.6ZM578.9 490.1 580.2 491.4 580.3 474.5 579 473.4ZM577.1 490.3 578.3 491.6 578.4 474.4 577.1 473.2ZM575.2 490.5 576.5 491.7 576.5 479.7 575.2 478.5ZM573.3 490.7 574.6 491.9 574.6 478.9 573.3 477.8ZM571.4 490.8 572.7 492.1 572.7 480.8 571.4 479.6ZM569.5 491 570.8 492.3 570.8 477.2 569.5 476ZM567.6 491.2 568.9 492.4 568.9 478.7 567.6 477.5ZM565.7 491.4 566.9 492.6 566.9 479.9 565.7 478.7ZM563.8 491.5 565 492.8 565 482.2 563.8 481ZM561.9 491.7 563.1 493 563.1 480.5 561.9 479.3ZM560 491.9 561.2 493.2 561.2 481.4 560 480.2ZM558.1 492.1 559.3 493.3 559.3 482.2 558.1 480.9ZM556.2 492.3 557.4 493.5 557.3 480.4 556.1 479.2ZM554.3 492.4 555.4 493.7 555.4 482.7 554.2 481.5ZM552.3 492.6 553.5 493.9 553.5 483.7 552.3 482.5ZM550.4 492.8 551.6 494.1 551.5 484.1 550.4 482.8ZM548.5 493 549.6 494.2 549.6 484.6 548.4 483.4ZM546.5 493.2 547.7 494.4 547.6 485.1 546.5 483.9ZM544.6 493.3 545.8 494.6 545.7 485.7 544.6 484.4ZM542.7 493.5 543.8 494.8 543.8 486.2 542.6 485ZM540.7 493.7 541.9 495 541.8 486.7 540.7 485.5ZM538.8 493.9 539.9 495.2 539.8 487.3 538.7 486ZM536.9 494.1 537.9 495.3 537.9 487.8 536.8 486.6ZM534.9 494.2 536 495.5 535.9 488.4 534.8 487.1ZM532.9 494.4 534 495.7 534 488.9 532.9 487.6ZM531 494.6 532.1 495.9 532 489.4 530.9 488.2ZM529 494.8 530.1 496.1 530 490 529 488.7ZM527.1 495 528.1 496.3 528.1 490.5 527 489.3ZM525.1 495.1 526.1 496.5 526.1 491.1 525 489.8ZM523.1 495.3 524.2 496.6 524.1 491.7 523.1 490.4ZM521.2 495.5 522.2 496.8 522.1 492.2 521.1 491ZM519.2 495.7 520.2 497 520.1 492.8 519.1 491.5ZM517.2 495.9 518.2 497.2 518.2 493.4 517.2 492.1ZM515.2 496.1 516.2 497.4 516.2 494 515.2 492.7ZM513.2 496.3 514.2 497.6 514.2 494.5 513.2 493.2ZM511.2 496.4 512.2 497.8 512.2 495.1 511.2 493.8ZM509.3 496.6 510.2 497.9 510.2 495.7 509.2 494.4Z" fill="#1a1a9a"/>
<path d="M674.4 480.4 676.1 480.3 677.8 481.4 676.1 481.6ZM672.6 480.6 674.4 480.4 676.1 481.6 674.3 481.7ZM670.9 480.7 672.6 480.6 674.3 481.7 672.6 481.9ZM669.2 480.9 670.9 480.7 672.6 481.9 670.9 482ZM667.4 481 669.2 480.9 670.9 482 669.1 482.2ZM665.7 481.2 667.4 481 669.1 482.2 667.4 482.3ZM664 481.3 665.7 481.2 667.4 482.3 665.6 482.5ZM662.2 481.5 664 481.3 665.6 482.5 663.9 482.7ZM660.5 481.7 662.2 481.5 663.9 482.6 662.1 482.8ZM658.7 481.8 660.5 481.6 662.1 482.8 660.4 483ZM657 482 658.7 481.8 660.4 483 658.6 483.1ZM655.2 482.1 657 482 658.6 483.1 656.9 483.3ZM653.5 482.3 655.2 482.1 656.9 483.3 655.1 483.4ZM651.7 482.4 653.5 482.3 655.1 483.4 653.3 483.6ZM649.9 482.6 651.7 482.4 653.3 483.6 651.6 483.8ZM648.2 482.7 649.9 482.6 651.6 483.7 649.8 483.9ZM646.4 482.9 648.2 482.7 649.8 483.9 648 484.1ZM644.6 483.1 646.4 482.9 648 484.1 646.2 484.2ZM642.9 483.2 644.6 483 646.2 484.2 644.4 484.4ZM641.1 483.4 642.9 483.2 644.4 484.4 642.7 484.5ZM639.3 483.5 641.1 483.4 642.7 484.5 640.9 484.7ZM637.5 483.7 639.3 483.5 640.9 484.7 639.1 484.9ZM635.7 483.8 637.5 483.7 639.1 484.9 637.3 485ZM633.9 484 635.7 483.8 637.3 485 635.5 485.2ZM632.2 484.2 633.9 484 635.5 485.2 633.7 485.3ZM630.4 484.3 632.2 484.1 633.7 485.3 631.9 485.5ZM628.6 484.5 630.4 484.3 631.9 485.5 630.1 485.7ZM626.8 484.6 628.6 484.5 630.1 485.7 628.3 485.8ZM625 483.9 626.8 483.7 628.3 484.9 626.5 485.1ZM623.2 483.2 625 483.1 626.5 484.2 624.7 484.4ZM621.4 482.4 623.2 482.3 624.7 483.5 622.9 483.6ZM619.6 481.8 621.4 481.7 622.9 482.8 621.1 483ZM617.8 482.6 619.6 482.4 621.1 483.6 619.2 483.8ZM616 481.8 617.8 481.7 619.2 482.9 617.4 483ZM614.1 480.9 616 480.7 617.4 481.9 615.6 482.1ZM612.3 480.9 614.1 480.7 615.6 481.9 613.8 482ZM610.5 479.9 612.3 479.8 613.8 480.9 612 481.1ZM608.7 479.7 610.5 479.6 612 480.8 610.1 480.9ZM606.9 478 608.7 477.9 610.1 479 608.3 479.2ZM605 479 606.9 478.8 608.3 480 606.4 480.2ZM603.2 478.4 605 478.2 606.4 479.4 604.6 479.5ZM601.3 479.8 603.2 479.7 604.6 480.8 602.7 481ZM599.5 478.7 601.3 478.5 602.7 479.7 600.9 479.8ZM597.6 478.8 599.5 478.7 600.9 479.8 599 480ZM595.8 479.4 597.6 479.2 599 480.4 597.2 480.6ZM593.9 476.9 595.8 476.8 597.2 477.9 595.3 478.1ZM592.1 479.4 593.9 479.2 595.3 480.4 593.4 480.6ZM590.2 478.1 592.1 478 593.4 479.1 591.6 479.3ZM588.4 474.9 590.2 474.7 591.6 475.9 589.7 476ZM586.5 474 588.4 473.8 589.7 475 587.8 475.1ZM584.6 471.5 586.5 471.3 587.9 472.5 586 472.7ZM582.8 471.2 584.6 471.1 586 472.2 584.1 472.4ZM580.9 477.6 582.7 477.4 584.1 478.6 582.2 478.7ZM579 473.4 580.9 473.2 582.2 474.4 580.3 474.5ZM577.1 473.2 579 473.1 580.3 474.2 578.4 474.4ZM575.2 478.5 577.1 478.4 578.4 479.6 576.5 479.7ZM573.3 477.8 575.2 477.6 576.5 478.8 574.6 478.9ZM571.4 479.6 573.3 479.4 574.6 480.6 572.7 480.8ZM569.5 476 571.4 475.9 572.7 477.1 570.8 477.2ZM567.6 477.5 569.5 477.4 570.8 478.5 568.9 478.7ZM565.7 478.7 567.6 478.5 568.9 479.7 566.9 479.9ZM563.8 481 565.7 480.8 566.9 482 565 482.2ZM561.9 479.3 563.8 479.1 565 480.3 563.1 480.5ZM560 480.2 561.9 480.1 563.1 481.3 561.2 481.4ZM558.1 480.9 560 480.8 561.2 482 559.3 482.2ZM556.1 479.2 558.1 479.1 559.3 480.3 557.3 480.4ZM554.2 481.5 556.1 481.3 557.3 482.6 555.4 482.7ZM552.3 482.5 554.2 482.3 555.4 483.6 553.5 483.7ZM550.4 482.8 552.3 482.7 553.5 483.9 551.5 484.1ZM548.4 483.4 550.4 483.2 551.5 484.4 549.6 484.6ZM546.5 483.9 548.4 483.7 549.6 485 547.6 485.1ZM544.6 484.4 546.5 484.3 547.6 485.5 545.7 485.7ZM542.6 485 544.6 484.8 545.7 486 543.8 486.2ZM540.7 485.5 542.6 485.3 543.8 486.6 541.8 486.7ZM538.7 486 540.7 485.9 541.8 487.1 539.8 487.3ZM536.8 486.6 538.7 486.4 539.9 487.6 537.9 487.8ZM534.8 487.1 536.8 486.9 537.9 488.2 535.9 488.4ZM532.9 487.6 534.8 487.5 535.9 488.7 534 488.9ZM530.9 488.2 532.9 488 534 489.3 532 489.4ZM529 488.7 530.9 488.5 532 489.8 530 490ZM527 489.3 529 489.1 530 490.4 528.1 490.5ZM525 489.8 527 489.6 528.1 490.9 526.1 491.1ZM523.1 490.4 525 490.2 526.1 491.5 524.1 491.7ZM521.1 491 523.1 490.8 524.1 492.1 522.1 492.2ZM519.1 491.5 521.1 491.3 522.1 492.6 520.1 492.8ZM517.2 492.1 519.1 491.9 520.2 493.2 518.2 493.4ZM515.2 492.7 517.2 492.5 518.2 493.8 516.2 494ZM513.2 493.2 515.2 493.1 516.2 494.4 514.2 494.5ZM511.2 493.8 513.2 493.6 514.2 494.9 512.2 495.1ZM509.2 494.4 511.2 494.2 512.2 495.5 510.2 495.7Z" fill="#4a4a9a"/>
<path d="M676.1 482.4 677.8 482.2 677.8 481.4 676.1 481.6ZM674.3 482.6 676.1 482.4 676.1 481.6 674.3 481.7ZM672.6 482.7 674.3 482.6 674.3 481.7 672.6 481.9ZM670.8 482.9 672.6 482.7 672.6 481.9 670.9 482ZM669.1 483 670.8 482.9 670.9 482 669.1 482.2ZM667.4 483.2 669.1 483 669.1 482.2 667.4 482.3ZM665.6 483.4 667.4 483.2 667.4 482.3 665.6 482.5ZM663.9 483.5 665.6 483.4 665.6 482.5 663.9 482.7ZM662.1 483.7 663.9 483.5 663.9 482.6 662.1 482.8ZM660.4 483.9 662.1 483.7 662.1 482.8 660.4 483ZM658.6 484 660.4 483.9 660.4 483 658.6 483.1ZM656.8 484.2 658.6 484 658.6 483.1 656.9 483.3ZM655.1 484.4 656.8 484.2 656.9 483.3 655.1 483.4ZM653.3 484.5 655.1 484.4 655.1 483.4 653.3 483.6ZM651.5 484.7 653.3 484.5 653.3 483.6 651.6 483.8ZM649.8 484.9 651.5 484.7 651.6 483.7 649.8 483.9ZM648 485 649.8 484.9 649.8 483.9 648 484.1ZM646.2 485.2 648 485 648 484.1 646.2 484.2ZM644.4 485.4 646.2 485.2 646.2 484.2 644.4 484.4ZM642.6 485.5 644.4 485.4 644.4 484.4 642.7 484.5ZM640.9 485.7 642.6 485.5 642.7 484.5 640.9 484.7ZM639.1 485.9 640.9 485.7 640.9 484.7 639.1 484.9ZM637.3 486 639.1 485.9 639.1 484.9 637.3 485ZM635.5 486.2 637.3 486 637.3 485 635.5 485.2ZM633.7 486.4 635.5 486.2 635.5 485.2 633.7 485.3ZM631.9 486.5 633.7 486.4 633.7 485.3 631.9 485.5ZM630.1 486.7 631.9 486.5 631.9 485.5 630.1 485.7ZM628.3 486.9 630.1 486.7 630.1 485.7 628.3 485.8ZM626.5 487 628.3 486.9 628.3 484.9 626.5 485.1ZM624.6 487.2 626.5 487 626.5 484.2 624.7 484.4ZM622.8 487.4 624.6 487.2 624.7 483.5 622.9 483.6ZM621 487.6 622.8 487.4 622.9 482.8 621.1 483ZM619.2 487.7 621 487.6 621.1 483.6 619.2 483.8ZM617.4 487.9 619.2 487.7 619.2 482.9 617.4 483ZM615.5 488.1 617.4 487.9 617.4 481.9 615.6 482.1ZM613.7 488.2 615.5 488.1 615.6 481.9 613.8 482ZM611.9 488.4 613.7 488.2 613.8 480.9 612 481.1ZM610 488.6 611.9 488.4 612 480.8 610.1 480.9ZM608.2 488.8 610 488.6 610.1 479 608.3 479.2ZM606.3 488.9 608.2 488.8 608.3 480 606.4 480.2ZM604.5 489.1 606.3 488.9 606.4 479.4 604.6 479.5ZM602.7 489.3 604.5 489.1 604.6 480.8 602.7 481ZM600.8 489.5 602.7 489.3 602.7 479.7 600.9 479.8ZM598.9 489.6 600.8 489.5 600.9 479.8 599 480ZM597.1 489.8 598.9 489.6 599 480.4 597.2 480.6ZM595.2 490 597.1 489.8 597.2 477.9 595.3 478.1ZM593.4 490.1 595.2 490 595.3 480.4 593.4 480.6ZM591.5 490.3 593.4 490.1 593.4 479.1 591.6 479.3ZM589.6 490.5 591.5 490.3 591.6 475.9 589.7 476ZM587.8 490.7 589.6 490.5 589.7 475 587.8 475.1ZM585.9 490.8 587.8 490.7 587.9 472.5 586 472.7ZM584 491 585.9 490.8 586 472.2 584.1 472.4ZM582.1 491.2 584 491 584.1 478.6 582.2 478.7ZM580.2 491.4 582.1 491.2 582.2 474.4 580.3 474.5ZM578.3 491.6 580.2 491.4 580.3 474.2 578.4 474.4ZM576.5 491.7 578.3 491.6 578.4 479.6 576.5 479.7ZM574.6 491.9 576.5 491.7 576.5 478.8 574.6 478.9ZM572.7 492.1 574.6 491.9 574.6 480.6 572.7 480.8ZM570.8 492.3 572.7 492.1 572.7 477.1 570.8 477.2ZM568.9 492.4 570.8 492.3 570.8 478.5 568.9 478.7ZM566.9 492.6 568.9 492.4 568.9 479.7 566.9 479.9ZM565 492.8 566.9 492.6 566.9 482 565 482.2ZM563.1 493 565 492.8 565 480.3 563.1 480.5ZM561.2 493.2 563.1 493 563.1 481.3 561.2 481.4ZM559.3 493.3 561.2 493.2 561.2 482 559.3 482.2ZM557.4 493.5 559.3 493.3 559.3 480.3 557.3 480.4ZM555.4 493.7 557.4 493.5 557.3 482.6 555.4 482.7ZM553.5 493.9 555.4 493.7 555.4 483.6 553.5 483.7ZM551.6 494.1 553.5 493.9 553.5 483.9 551.5 484.1ZM549.6 494.2 551.6 494.1 551.5 484.4 549.6 484.6ZM547.7 494.4 549.6 494.2 549.6 485 547.6 485.1ZM545.8 494.6 547.7 494.4 547.6 485.5 545.7 485.7ZM543.8 494.8 545.8 494.6 545.7 486 543.8 486.2ZM541.9 495 543.8 494.8 543.8 486.6 541.8 486.7ZM539.9 495.2 541.9 495 541.8 487.1 539.8 487.3ZM537.9 495.3 539.9 495.2 539.9 487.6 537.9 487.8ZM536 495.5 537.9 495.3 537.9 488.2 535.9 488.4ZM534 495.7 536 495.5 535.9 488.7 534 488.9ZM532.1 495.9 534 495.7 534 489.3 532 489.4ZM530.1 496.1 532.1 495.9 532 489.8 530 490ZM528.1 496.3 530.1 496.1 530 490.4 528.1 490.5ZM526.1 496.5 528.1 496.3 528.1 490.9 526.1 491.1ZM524.2 496.6 526.1 496.5 526.1 491.5 524.1 491.7ZM522.2 496.8 524.2 496.6 524.1 492.1 522.1 492.2ZM520.2 497 522.2 496.8 522.1 492.6 520.1 492.8ZM518.2 497.2 520.2 497 520.2 493.2 518.2 493.4ZM516.2 497.4 518.2 497.2 518.2 493.8 516.2 494ZM514.2 497.6 516.2 497.4 516.2 494.4 514.2 494.5ZM512.2 497.8 514.2 497.6 514.2 494.9 512.2 495.1ZM510.2 497.9 512.2 497.8 512.2 495.5 510.2 495.7Z" fill="#2222d6" stroke="#4a4abc" stroke-width="0.45"/>
<path d="M693.1 493.8 695 495.1 695.1 494.2 693.2 493ZM691.3 494 693.2 495.3 693.2 494.4 691.3 493.1ZM689.5 494.2 691.4 495.5 691.4 494.6 689.5 493.3ZM687.7 494.4 689.6 495.6 689.6 494.8 687.7 493.5ZM685.9 494.5 687.8 495.8 687.8 494.9 685.9 493.6ZM684.1 494.7 685.9 496 686 495.1 684.1 493.8ZM682.2 494.9 684.1 496.2 684.1 495.3 682.3 494ZM680.4 495.1 682.3 496.4 682.3 495.5 680.5 494.2ZM678.6 495.3 680.4 496.6 680.5 495.6 678.6 494.3ZM676.8 495.5 678.6 496.7 678.6 495.8 676.8 494.5ZM674.9 495.6 676.8 496.9 676.8 496 675 494.7ZM673.1 495.8 674.9 497.1 675 496.2 673.1 494.9ZM671.3 496 673.1 497.3 673.1 496.3 671.3 495ZM669.4 496.2 671.2 497.5 671.3 496.5 669.4 495.2ZM667.6 496.4 669.4 497.7 669.4 496.7 667.6 495.4ZM665.7 496.6 667.5 497.9 667.5 496.9 665.8 495.6ZM663.9 496.7 665.7 498 665.7 497 663.9 495.7ZM662 496.9 663.8 498.2 663.8 497.2 662.1 495.9ZM660.2 497.1 661.9 498.4 662 497.4 660.2 496.1ZM658.3 497.3 660.1 498.6 660.1 497.6 658.3 496.3ZM656.4 497.5 658.2 498.8 658.2 497.7 656.5 496.4ZM654.6 497.7 656.3 499 656.3 497.9 654.6 496.6ZM652.7 497.9 654.4 499.2 654.5 498.1 652.7 496.8ZM650.8 498 652.6 499.4 652.6 498.3 650.9 497ZM649 498.2 650.7 499.6 650.7 498.5 649 497.1ZM647.1 498.4 648.8 499.7 648.8 498.6 647.1 497.3ZM645.2 498.6 646.9 499.9 646.9 498.4 645.2 497.1ZM643.3 498.8 645 500.1 645.1 495.8 643.4 494.5ZM641.4 499 643.1 500.3 643.2 493.8 641.6 492.5ZM639.5 499.2 641.2 500.5 641.3 495.2 639.6 493.9ZM637.6 499.4 639.3 500.7 639.4 495.4 637.7 494.1ZM635.7 499.5 637.4 500.9 637.5 495.6 635.8 494.3ZM633.8 499.7 635.5 501.1 635.6 495.6 633.9 494.3ZM631.9 499.9 633.6 501.3 633.7 495.7 632 494.3ZM630 500.1 631.7 501.5 631.8 495.7 630.1 494.3ZM628.1 500.3 629.7 501.7 629.8 495.7 628.2 494.3ZM626.2 500.5 627.8 501.9 627.9 495.5 626.3 494.2ZM624.3 500.7 625.9 502 626.1 490.8 624.5 489.5ZM622.4 500.9 624 502.2 624.1 490.7 622.5 489.4ZM620.4 501.1 622 502.4 622.2 493.2 620.6 491.9ZM618.5 501.3 620.1 502.6 620.2 494 618.6 492.7ZM616.6 501.5 618.1 502.8 618.2 496.2 616.7 494.9ZM614.6 501.6 616.2 503 616.3 494.8 614.7 493.5ZM612.7 501.8 614.3 503.2 614.4 494.6 612.8 493.2ZM610.8 502 612.3 503.4 612.4 495.3 610.9 493.9ZM608.8 502.2 610.4 503.6 610.5 494.7 608.9 493.4ZM606.9 502.4 608.4 503.8 608.5 494.5 607 493.2ZM604.9 502.6 606.4 504 606.5 494.2 605 492.9ZM603 502.8 604.5 504.2 604.6 493.7 603.1 492.4ZM601 503 602.5 504.4 602.6 496.5 601.1 495.1ZM599.1 503.2 600.5 504.6 600.6 495.3 599.1 493.9ZM597.1 503.4 598.6 504.8 598.7 490.7 597.2 489.4ZM595.1 503.6 596.6 505 596.7 486.7 595.3 485.4ZM593.2 503.8 594.6 505.2 594.7 485.7 593.3 484.4ZM591.2 504 592.6 505.4 592.7 489.5 591.3 488.2ZM589.2 504.2 590.6 505.6 590.7 491.3 589.3 489.9ZM587.2 504.4 588.6 505.8 588.7 492.6 587.3 491.3ZM585.2 504.6 586.6 506 586.7 491.3 585.3 490ZM583.2 504.8 584.6 506.2 584.7 494.7 583.3 493.3ZM581.3 505 582.6 506.4 582.7 491.9 581.3 490.6ZM579.3 505.2 580.6 506.6 580.7 495.5 579.3 494.1ZM577.3 505.4 578.6 506.8 578.7 496.3 577.3 494.9ZM575.3 505.6 576.6 507 576.6 496.2 575.3 494.9ZM573.2 505.8 574.6 507.2 574.6 496.8 573.3 495.5ZM571.2 506 572.6 507.4 572.6 493.8 571.3 492.5ZM569.2 506.2 570.6 507.6 570.6 495.3 569.2 494ZM567.2 506.4 568.5 507.8 568.5 496 567.2 494.6ZM565.2 506.6 566.5 508 566.5 498.6 565.2 497.2ZM563.2 506.8 564.5 508.2 564.5 498.1 563.2 496.7ZM561.1 507 562.4 508.4 562.4 498.7 561.1 497.4ZM559.1 507.2 560.4 508.6 560.4 499.4 559.1 498ZM557.1 507.4 558.3 508.8 558.3 500 557.1 498.6ZM555 507.6 556.3 509 556.3 500.6 555 499.2ZM553 507.8 554.2 509.2 554.2 501.3 553 499.9ZM551 508 552.2 509.4 552.2 501.8 550.9 500.4ZM548.9 508.2 550.1 509.7 550.1 502.3 548.9 500.9ZM546.9 508.4 548.1 509.9 548 502.8 546.8 501.4ZM544.8 508.6 546 510.1 546 503.3 544.8 501.9ZM542.7 508.8 543.9 510.3 543.9 503.8 542.7 502.4ZM540.7 509 541.9 510.5 541.8 504.3 540.6 502.9ZM538.6 509.2 539.8 510.7 539.7 504.8 538.6 503.4ZM536.5 509.4 537.7 510.9 537.7 505.3 536.5 503.8ZM534.5 509.6 535.6 511.1 535.6 505.8 534.4 504.3ZM532.4 509.9 533.5 511.3 533.5 506.3 532.3 504.8ZM530.3 510.1 531.4 511.5 531.4 506.8 530.3 505.3ZM528.2 510.3 529.3 511.7 529.3 507.2 528.2 505.8ZM526.1 510.5 527.2 512 527.2 507.6 526.1 506.2ZM524 510.7 525.1 512.2 525.1 508 524 506.6ZM521.9 510.9 523 512.4 523 508.4 521.9 507ZM519.8 511.1 520.9 512.6 520.9 508.8 519.8 507.4Z" fill="#1a9494"/>
<path d="M693.2 493 695 492.8 696.9 494.1 695.1 494.2ZM691.3 493.1 693.2 493 695.1 494.2 693.2 494.4ZM689.5 493.3 691.3 493.1 693.2 494.4 691.4 494.6ZM687.7 493.5 689.5 493.3 691.4 494.6 689.6 494.8ZM685.9 493.6 687.7 493.5 689.6 494.7 687.8 494.9ZM684.1 493.8 685.9 493.6 687.8 494.9 686 495.1ZM682.3 494 684.1 493.8 686 495.1 684.1 495.3ZM680.5 494.2 682.3 494 684.1 495.3 682.3 495.5ZM678.6 494.3 680.5 494.2 682.3 495.4 680.5 495.6ZM676.8 494.5 678.6 494.3 680.5 495.6 678.6 495.8ZM675 494.7 676.8 494.5 678.6 495.8 676.8 496ZM673.1 494.9 675 494.7 676.8 496 675 496.2ZM671.3 495 673.1 494.8 675 496.1 673.1 496.3ZM669.4 495.2 671.3 495 673.1 496.3 671.3 496.5ZM667.6 495.4 669.4 495.2 671.3 496.5 669.4 496.7ZM665.8 495.6 667.6 495.4 669.4 496.7 667.5 496.9ZM663.9 495.7 665.8 495.5 667.5 496.9 665.7 497ZM662.1 495.9 663.9 495.7 665.7 497 663.8 497.2ZM660.2 496.1 662.1 495.9 663.8 497.2 662 497.4ZM658.3 496.3 660.2 496.1 662 497.4 660.1 497.6ZM656.5 496.4 658.3 496.2 660.1 497.6 658.2 497.7ZM654.6 496.6 656.5 496.4 658.2 497.7 656.3 497.9ZM652.7 496.8 654.6 496.6 656.3 497.9 654.5 498.1ZM650.9 497 652.7 496.8 654.5 498.1 652.6 498.3ZM649 497.1 650.9 497 652.6 498.3 650.7 498.5ZM647.1 497.3 649 497.1 650.7 498.5 648.8 498.6ZM645.2 497.1 647.1 496.9 648.8 498.2 646.9 498.4ZM643.4 494.5 645.3 494.3 647 495.6 645.1 495.8ZM641.6 492.5 643.4 492.3 645.1 493.6 643.2 493.8ZM639.6 493.9 641.5 493.7 643.2 495 641.3 495.2ZM637.7 494.1 639.6 493.9 641.3 495.2 639.4 495.4ZM635.8 494.3 637.7 494.1 639.4 495.4 637.5 495.6ZM633.9 494.3 635.8 494.1 637.5 495.5 635.6 495.6ZM632 494.3 633.9 494.1 635.6 495.5 633.7 495.7ZM630.1 494.3 632 494.2 633.7 495.5 631.8 495.7ZM628.2 494.3 630.1 494.2 631.8 495.5 629.8 495.7ZM626.3 494.2 628.2 494 629.8 495.3 627.9 495.5ZM624.5 489.5 626.4 489.3 628 490.6 626.1 490.8ZM622.5 489.4 624.5 489.2 626.1 490.5 624.1 490.7ZM620.6 491.9 622.5 491.7 624.1 493 622.2 493.2ZM618.6 492.7 620.6 492.5 622.1 493.8 620.2 494ZM616.7 494.9 618.6 494.7 620.2 496.1 618.2 496.2ZM614.7 493.5 616.7 493.3 618.3 494.6 616.3 494.8ZM612.8 493.2 614.8 493.1 616.3 494.4 614.4 494.6ZM610.9 493.9 612.8 493.7 614.4 495.1 612.4 495.3ZM608.9 493.4 610.9 493.2 612.4 494.5 610.5 494.7ZM607 493.2 608.9 493 610.5 494.3 608.5 494.5ZM605 492.9 607 492.7 608.5 494.1 606.5 494.2ZM603.1 492.4 605 492.2 606.5 493.5 604.6 493.7ZM601.1 495.1 603 494.9 604.5 496.3 602.6 496.5ZM599.1 493.9 601.1 493.8 602.6 495.1 600.6 495.3ZM597.2 489.4 599.2 489.2 600.7 490.5 598.7 490.7ZM595.3 485.4 597.2 485.2 598.7 486.5 596.7 486.7ZM593.3 484.4 595.3 484.2 596.7 485.5 594.7 485.7ZM591.3 488.2 593.3 488 594.7 489.3 592.7 489.5ZM589.3 489.9 591.3 489.8 592.7 491.1 590.7 491.3ZM587.3 491.3 589.3 491.1 590.7 492.4 588.7 492.6ZM585.3 490 587.3 489.8 588.7 491.2 586.7 491.3ZM583.3 493.3 585.3 493.1 586.7 494.5 584.7 494.7ZM581.3 490.6 583.3 490.4 584.7 491.7 582.7 491.9ZM579.3 494.1 581.3 493.9 582.7 495.3 580.7 495.5ZM577.3 494.9 579.3 494.7 580.7 496.1 578.7 496.3ZM575.3 494.9 577.3 494.7 578.7 496 576.6 496.2ZM573.3 495.5 575.3 495.3 576.6 496.6 574.6 496.8ZM571.3 492.5 573.3 492.3 574.6 493.6 572.6 493.8ZM569.2 494 571.3 493.8 572.6 495.1 570.6 495.3ZM567.2 494.6 569.2 494.4 570.6 495.8 568.5 496ZM565.2 497.2 567.2 497 568.5 498.4 566.5 498.6ZM563.2 496.7 565.2 496.5 566.5 497.9 564.5 498.1ZM561.1 497.4 563.2 497.2 564.5 498.6 562.4 498.7ZM559.1 498 561.1 497.8 562.4 499.2 560.4 499.4ZM557.1 498.6 559.1 498.4 560.4 499.8 558.3 500ZM555 499.2 557.1 499 558.3 500.4 556.3 500.6ZM553 499.9 555 499.7 556.3 501.1 554.2 501.3ZM550.9 500.4 553 500.2 554.2 501.6 552.2 501.8ZM548.9 500.9 550.9 500.7 552.2 502.1 550.1 502.3ZM546.8 501.4 548.9 501.2 550.1 502.6 548 502.8ZM544.8 501.9 546.8 501.7 548 503.1 546 503.3ZM542.7 502.4 544.8 502.2 546 503.6 543.9 503.8ZM540.6 502.9 542.7 502.7 543.9 504.1 541.8 504.3ZM538.6 503.4 540.6 503.2 541.8 504.6 539.7 504.8ZM536.5 503.8 538.6 503.6 539.7 505.1 537.7 505.3ZM534.4 504.3 536.5 504.1 537.7 505.6 535.6 505.8ZM532.3 504.8 534.4 504.6 535.6 506.1 533.5 506.3ZM530.3 505.3 532.3 505.1 533.5 506.6 531.4 506.8ZM528.2 505.8 530.3 505.6 531.4 507 529.3 507.2ZM526.1 506.2 528.2 506 529.3 507.4 527.2 507.6ZM524 506.6 526.1 506.4 527.2 507.8 525.1 508ZM521.9 507 524 506.8 525.1 508.2 523 508.4ZM519.8 507.4 521.9 507.2 523 508.6 520.9 508.8Z" fill="#4a9a9a"/>
<path d="M695 495.1 696.8 494.9 696.9 494.1 695.1 494.2ZM693.2 495.3 695 495.1 695.1 494.2 693.2 494.4ZM691.4 495.5 693.2 495.3 693.2 494.4 691.4 494.6ZM689.6 495.6 691.4 495.5 691.4 494.6 689.6 494.8ZM687.8 495.8 689.6 495.6 689.6 494.7 687.8 494.9ZM685.9 496 687.8 495.8 687.8 494.9 686 495.1ZM684.1 496.2 685.9 496 686 495.1 684.1 495.3ZM682.3 496.4 684.1 496.2 684.1 495.3 682.3 495.5ZM680.4 496.6 682.3 496.4 682.3 495.4 680.5 495.6ZM678.6 496.7 680.4 496.6 680.5 495.6 678.6 495.8ZM676.8 496.9 678.6 496.7 678.6 495.8 676.8 496ZM674.9 497.1 676.8 496.9 676.8 496 675 496.2ZM673.1 497.3 674.9 497.1 675 496.1 673.1 496.3ZM671.2 497.5 673.1 497.3 673.1 496.3 671.3 496.5ZM669.4 497.7 671.2 497.5 671.3 496.5 669.4 496.7ZM667.5 497.9 669.4 497.7 669.4 496.7 667.5 496.9ZM665.7 498 667.5 497.9 667.5 496.9 665.7 497ZM663.8 498.2 665.7 498 665.7 497 663.8 497.2ZM661.9 498.4 663.8 498.2 663.8 497.2 662 497.4ZM660.1 498.6 661.9 498.4 662 497.4 660.1 497.6ZM658.2 498.8 660.1 498.6 660.1 497.6 658.2 497.7ZM656.3 499 658.2 498.8 658.2 497.7 656.3 497.9ZM654.4 499.2 656.3 499 656.3 497.9 654.5 498.1ZM652.6 499.4 654.4 499.2 654.5 498.1 652.6 498.3ZM650.7 499.6 652.6 499.4 652.6 498.3 650.7 498.5ZM648.8 499.7 650.7 499.6 650.7 498.5 648.8 498.6ZM646.9 499.9 648.8 499.7 648.8 498.2 646.9 498.4ZM645 500.1 646.9 499.9 647 495.6 645.1 495.8ZM643.1 500.3 645 500.1 645.1 493.6 643.2 493.8ZM641.2 500.5 643.1 500.3 643.2 495 641.3 495.2ZM639.3 500.7 641.2 500.5 641.3 495.2 639.4 495.4ZM637.4 500.9 639.3 500.7 639.4 495.4 637.5 495.6ZM635.5 501.1 637.4 500.9 637.5 495.5 635.6 495.6ZM633.6 501.3 635.5 501.1 635.6 495.5 633.7 495.7ZM631.7 501.5 633.6 501.3 633.7 495.5 631.8 495.7ZM629.7 501.7 631.7 501.5 631.8 495.5 629.8 495.7ZM627.8 501.9 629.7 501.7 629.8 495.3 627.9 495.5ZM625.9 502 627.8 501.9 628 490.6 626.1 490.8ZM624 502.2 625.9 502 626.1 490.5 624.1 490.7ZM622 502.4 624 502.2 624.1 493 622.2 493.2ZM620.1 502.6 622 502.4 622.1 493.8 620.2 494ZM618.1 502.8 620.1 502.6 620.2 496.1 618.2 496.2ZM616.2 503 618.1 502.8 618.3 494.6 616.3 494.8ZM614.3 503.2 616.2 503 616.3 494.4 614.4 494.6ZM612.3 503.4 614.3 503.2 614.4 495.1 612.4 495.3ZM610.4 503.6 612.3 503.4 612.4 494.5 610.5 494.7ZM608.4 503.8 610.4 503.6 610.5 494.3 608.5 494.5ZM606.4 504 608.4 503.8 608.5 494.1 606.5 494.2ZM604.5 504.2 606.4 504 606.5 493.5 604.6 493.7ZM602.5 504.4 604.5 504.2 604.5 496.3 602.6 496.5ZM600.5 504.6 602.5 504.4 602.6 495.1 600.6 495.3ZM598.6 504.8 600.5 504.6 600.7 490.5 598.7 490.7ZM596.6 505 598.6 504.8 598.7 486.5 596.7 486.7ZM594.6 505.2 596.6 505 596.7 485.5 594.7 485.7ZM592.6 505.4 594.6 505.2 594.7 489.3 592.7 489.5ZM590.6 505.6 592.6 505.4 592.7 491.1 590.7 491.3ZM588.6 505.8 590.6 505.6 590.7 492.4 588.7 492.6ZM586.6 506 588.6 505.8 588.7 491.2 586.7 491.3ZM584.6 506.2 586.6 506 586.7 494.5 584.7 494.7ZM582.6 506.4 584.6 506.2 584.7 491.7 582.7 491.9ZM580.6 506.6 582.6 506.4 582.7 495.3 580.7 495.5ZM578.6 506.8 580.6 506.6 580.7 496.1 578.7 496.3ZM576.6 507 578.6 506.8 578.7 496 576.6 496.2ZM574.6 507.2 576.6 507 576.6 496.6 574.6 496.8ZM572.6 507.4 574.6 507.2 574.6 493.6 572.6 493.8ZM570.6 507.6 572.6 507.4 572.6 495.1 570.6 495.3ZM568.5 507.8 570.6 507.6 570.6 495.8 568.5 496ZM566.5 508 568.5 507.8 568.5 498.4 566.5 498.6ZM564.5 508.2 566.5 508 566.5 497.9 564.5 498.1ZM562.4 508.4 564.5 508.2 564.5 498.6 562.4 498.7ZM560.4 508.6 562.4 508.4 562.4 499.2 560.4 499.4ZM558.3 508.8 560.4 508.6 560.4 499.8 558.3 500ZM556.3 509 558.3 508.8 558.3 500.4 556.3 500.6ZM554.2 509.2 556.3 509 556.3 501.1 554.2 501.3ZM552.2 509.4 554.2 509.2 554.2 501.6 552.2 501.8ZM550.1 509.7 552.2 509.4 552.2 502.1 550.1 502.3ZM548.1 509.9 550.1 509.7 550.1 502.6 548 502.8ZM546 510.1 548.1 509.9 548 503.1 546 503.3ZM543.9 510.3 546 510.1 546 503.6 543.9 503.8ZM541.9 510.5 543.9 510.3 543.9 504.1 541.8 504.3ZM539.8 510.7 541.9 510.5 541.8 504.6 539.7 504.8ZM537.7 510.9 539.8 510.7 539.7 505.1 537.7 505.3ZM535.6 511.1 537.7 510.9 537.7 505.6 535.6 505.8ZM533.5 511.3 535.6 511.1 535.6 506.1 533.5 506.3ZM531.4 511.5 533.5 511.3 533.5 506.6 531.4 506.8ZM529.3 511.7 531.4 511.5 531.4 507 529.3 507.2ZM527.2 512 529.3 511.7 529.3 507.4 527.2 507.6ZM525.1 512.2 527.2 512 527.2 507.8 525.1 508ZM523 512.4 525.1 512.2 525.1 508.2 523 508.4ZM520.9 512.6 523 512.4 523 508.6 520.9 508.8Z" fill="#26c8c8" stroke="#4cb0b0" stroke-width="0.45"/>
<line x1="487.1" y1="466.3" x2="525.3" y2="518.6" stroke="#000" stroke-width="1.6"/>
<line x1="525.3" y1="518.6" x2="704.6" y2="500.1" stroke="#000" stroke-width="1.6"/>
<line x1="487.1" y1="466.3" x2="492.7" y2="465.9" stroke="#000" stroke-width="1.1"/>
<line x1="486.7" y1="446.9" x2="489.9" y2="446.7" stroke="#000" stroke-width="1.1"/>
<line x1="486.3" y1="427.3" x2="491.9" y2="426.9" stroke="#000" stroke-width="1.1"/>
<line x1="485.9" y1="407.5" x2="489.1" y2="407.3" stroke="#000" stroke-width="1.1"/>
<line x1="485.5" y1="387.4" x2="491.2" y2="387.2" stroke="#000" stroke-width="1.1"/>
<line x1="485.1" y1="367.2" x2="488.3" y2="367.1" stroke="#000" stroke-width="1.1"/>
<line x1="484.6" y1="346.8" x2="490.4" y2="346.6" stroke="#000" stroke-width="1.1"/>
<line x1="484.2" y1="326.1" x2="487.5" y2="326" stroke="#000" stroke-width="1.1"/>
<line x1="483.8" y1="305.2" x2="489.6" y2="305.2" stroke="#000" stroke-width="1.1"/>
<line x1="491.1" y1="471.7" x2="496.7" y2="471.3" stroke="#000" stroke-width="1.4"/>
<line x1="495.2" y1="477.4" x2="501" y2="476.9" stroke="#000" stroke-width="1.4"/>
<line x1="499.6" y1="483.4" x2="505.5" y2="482.9" stroke="#000" stroke-width="1.4"/>
<line x1="504.2" y1="489.7" x2="510.3" y2="489.1" stroke="#000" stroke-width="1.4"/>
<line x1="509" y1="496.3" x2="515.3" y2="495.7" stroke="#000" stroke-width="1.4"/>
<line x1="514.1" y1="503.3" x2="520.6" y2="502.7" stroke="#000" stroke-width="1.4"/>
<line x1="519.6" y1="510.7" x2="526.2" y2="510.1" stroke="#000" stroke-width="1.4"/>
<line x1="525.3" y1="518.6" x2="523.9" y2="516.7" stroke="#000" stroke-width="1.0"/>
<line x1="544.7" y1="516.6" x2="543.9" y2="515.7" stroke="#000" stroke-width="1.0"/>
<line x1="555.8" y1="515.5" x2="555" y2="514.5" stroke="#000" stroke-width="1.0"/>
<line x1="563.7" y1="514.7" x2="562.8" y2="513.7" stroke="#000" stroke-width="1.0"/>
<line x1="569.7" y1="514" x2="568.9" y2="513.1" stroke="#000" stroke-width="1.0"/>
<line x1="574.6" y1="513.5" x2="573.8" y2="512.6" stroke="#000" stroke-width="1.0"/>
<line x1="578.8" y1="513.1" x2="577.9" y2="512.2" stroke="#000" stroke-width="1.0"/>
<line x1="582.4" y1="512.7" x2="581.5" y2="511.8" stroke="#000" stroke-width="1.0"/>
<line x1="585.5" y1="512.4" x2="584.6" y2="511.5" stroke="#000" stroke-width="1.0"/>
<line x1="588.3" y1="512.1" x2="586.5" y2="510.3" stroke="#000" stroke-width="1.0"/>
<line x1="606.6" y1="510.2" x2="605.6" y2="509.3" stroke="#000" stroke-width="1.0"/>
<line x1="617.2" y1="509.1" x2="616.2" y2="508.2" stroke="#000" stroke-width="1.0"/>
<line x1="624.6" y1="508.4" x2="623.6" y2="507.5" stroke="#000" stroke-width="1.0"/>
<line x1="630.4" y1="507.8" x2="629.3" y2="506.9" stroke="#000" stroke-width="1.0"/>
<line x1="635" y1="507.3" x2="634" y2="506.4" stroke="#000" stroke-width="1.0"/>
<line x1="639" y1="506.9" x2="637.9" y2="506" stroke="#000" stroke-width="1.0"/>
<line x1="642.3" y1="506.5" x2="641.3" y2="505.7" stroke="#000" stroke-width="1.0"/>
<line x1="645.3" y1="506.2" x2="644.2" y2="505.4" stroke="#000" stroke-width="1.0"/>
<line x1="648" y1="506" x2="645.8" y2="504.2" stroke="#000" stroke-width="1.0"/>
<line x1="665.4" y1="504.2" x2="664.2" y2="503.3" stroke="#000" stroke-width="1.0"/>
<line x1="675.4" y1="503.1" x2="674.2" y2="502.3" stroke="#000" stroke-width="1.0"/>
<line x1="682.4" y1="502.4" x2="681.3" y2="501.5" stroke="#000" stroke-width="1.0"/>
<line x1="687.9" y1="501.8" x2="686.7" y2="501" stroke="#000" stroke-width="1.0"/>
<line x1="692.3" y1="501.4" x2="691.1" y2="500.5" stroke="#000" stroke-width="1.0"/>
<line x1="696.1" y1="501" x2="694.8" y2="500.2" stroke="#000" stroke-width="1.0"/>
<line x1="699.3" y1="500.7" x2="698" y2="499.8" stroke="#000" stroke-width="1.0"/>
<line x1="702.1" y1="500.4" x2="700.9" y2="499.5" stroke="#000" stroke-width="1.0"/>
<line x1="704.6" y1="500.1" x2="702.1" y2="498.4" stroke="#000" stroke-width="1.0"/>
</g>
<g>
<text x="482.7" y="471.1" class="zl" text-anchor="end">0</text>
<text x="481.9" y="432.1" class="zl" text-anchor="end">1</text>
<text x="481.1" y="392.2" class="zl" text-anchor="end">2</text>
<text x="480.2" y="351.6" class="zl" text-anchor="end">3</text>
<text x="479.4" y="310" class="zl" text-anchor="end">4</text>
<text transform="matrix(0.994,-0.106,0.406,0.570,525.5,526.0)" class="xl" text-anchor="middle" dy="0.35em">1</text>
<text transform="matrix(0.994,-0.106,0.490,0.500,592.4,518.3)" class="xl" text-anchor="middle" dy="0.35em">10</text>
<text transform="matrix(0.994,-0.105,0.547,0.436,656.0,510.5)" class="xl" text-anchor="middle" dy="0.35em">100</text>
<text transform="matrix(0.994,-0.105,0.585,0.384,716.7,504.3)" class="xl" text-anchor="middle" dy="0.35em">1000</text>
<text transform="matrix(0.994,-0.111,0.486,0.447,629.0,526.0)" class="xt" text-anchor="middle" dy="0.35em" textLength="123" lengthAdjust="spacingAndGlyphs">Chord Length (μm)</text>
<text transform="translate(465,460) rotate(-90)" class="yl" textLength="122" lengthAdjust="spacingAndGlyphs">counts<tspan dx="5">(</tspan>Square Weight)</text>
<rect x="603.1" y="326.5" width="103.8" height="49.7" fill="#fff" stroke="#9a9a9a" stroke-width="1.3"/>
<rect x="604.9" y="328.1" width="21.4" height="10.3" fill="#fc5c5c"/>
<text x="629.1" y="337" class="lg3">Origination</text>
<rect x="604.9" y="340" width="21.4" height="10.3" fill="#5cf45c"/>
<text x="629.1" y="349" class="lg3">+1.6 g/kg Chitosan</text>
<rect x="604.9" y="352" width="21.4" height="10.3" fill="#5c5cfa"/>
<text x="629.1" y="360.9" class="lg3">After + Chitosan</text>
<rect x="604.9" y="363.9" width="21.4" height="10.3" fill="#5cf8f8"/>
<text x="629.1" y="372.8" class="lg3">After settlement</text>
<text x="592.5" y="564" class="cap" text-anchor="middle">(<tspan font-weight="bold">d</tspan>)</text>
</g>
</svg></body></html>
